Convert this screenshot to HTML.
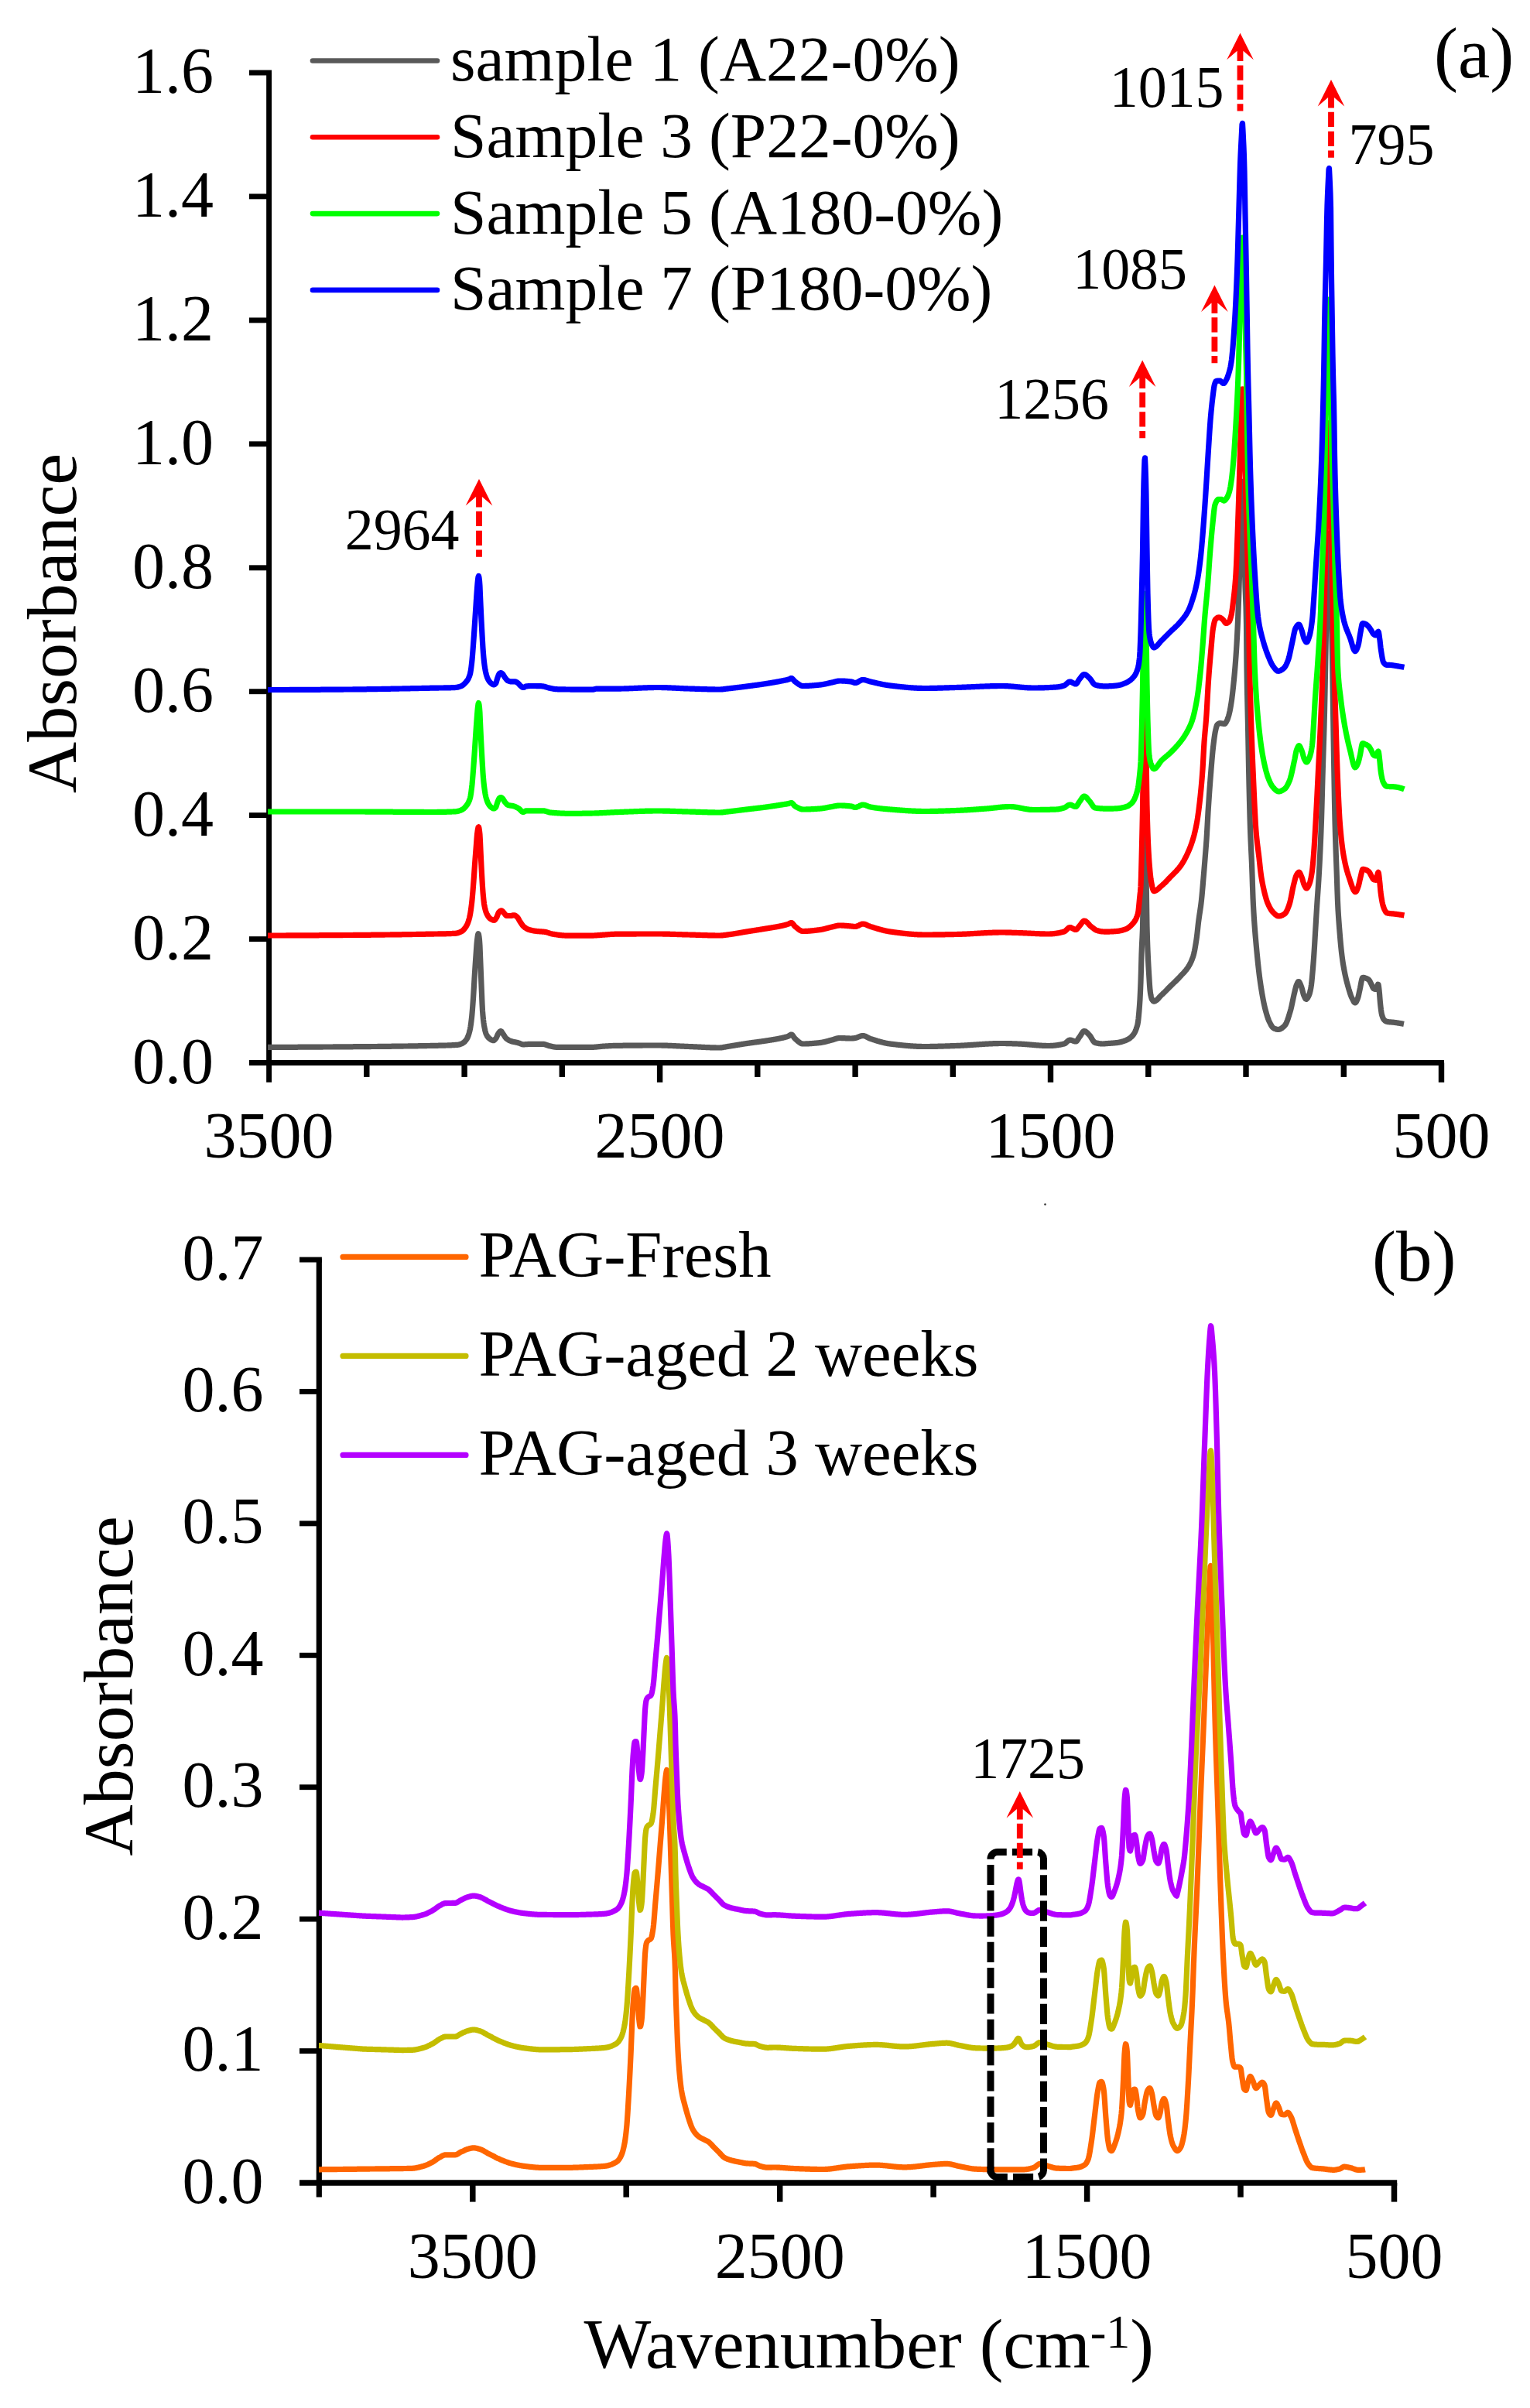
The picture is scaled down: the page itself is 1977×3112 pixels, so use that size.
<!DOCTYPE html>
<html lang="en"><head><meta charset="utf-8"><title>FTIR absorbance spectra</title>
<style>
html,body{margin:0;padding:0;background:#fff;}
body{width:1977px;height:3112px;overflow:hidden;}
svg{display:block;}
text{font-family:'Liberation Serif','Times New Roman',serif;fill:#000;}
.tk{font-size:84px;}
.lg{font-size:84px;}
.an{font-size:77px;}
.ti{font-size:92px;}
.pl{font-size:93px;}
.ax{stroke:#000;fill:none;stroke-linecap:butt;}
.cv{fill:none;stroke-width:7.2;stroke-linejoin:round;stroke-linecap:butt;}
</style></head><body>
<svg width="1977" height="3112" viewBox="0 0 1977 3112">
<rect x="0" y="0" width="1977" height="3112" fill="#ffffff"/>
<defs>
<g id="arrow">
<path d="M0,0 L17.3,34.5 L3.9,23 L3.9,36.4 L-3.9,36.4 L-3.9,23 L-17.3,34.5 Z" fill="#ff0000"/>
<path d="M0,36 L0,100.8" stroke="#ff0000" stroke-width="7.8" stroke-dasharray="0 5.8 19.3 5.6 19.4 5.4 9.3 100" fill="none"/>
</g>
</defs>

<g id="panel-a">
<path class="ax" stroke-width="6.9" d="M347.6,93.5 L347.6,1398.8"/>
<path class="ax" stroke-width="7" d="M322,1373.5 L1866,1373.5"/>
<path class="ax" stroke-width="6.9" d="M322,94.0 L351.0,94.0"/>
<text class="tk" x="276" y="120.0" text-anchor="end">1.6</text>
<path class="ax" stroke-width="6.9" d="M322,253.9 L347.6,253.9"/>
<text class="tk" x="276" y="279.9" text-anchor="end">1.4</text>
<path class="ax" stroke-width="6.9" d="M322,413.9 L347.6,413.9"/>
<text class="tk" x="276" y="439.9" text-anchor="end">1.2</text>
<path class="ax" stroke-width="6.9" d="M322,573.8 L347.6,573.8"/>
<text class="tk" x="276" y="599.8" text-anchor="end">1.0</text>
<path class="ax" stroke-width="6.9" d="M322,733.8 L347.6,733.8"/>
<text class="tk" x="276" y="759.8" text-anchor="end">0.8</text>
<path class="ax" stroke-width="6.9" d="M322,893.7 L347.6,893.7"/>
<text class="tk" x="276" y="919.7" text-anchor="end">0.6</text>
<path class="ax" stroke-width="6.9" d="M322,1053.6 L347.6,1053.6"/>
<text class="tk" x="276" y="1079.6" text-anchor="end">0.4</text>
<path class="ax" stroke-width="6.9" d="M322,1213.6 L347.6,1213.6"/>
<text class="tk" x="276" y="1239.6" text-anchor="end">0.2</text>
<text class="tk" x="276" y="1399.5" text-anchor="end">0.0</text>
<path class="ax" stroke-width="7.4" d="M473.8,1373.5 L473.8,1391.9"/>
<path class="ax" stroke-width="7.4" d="M600.1,1373.5 L600.1,1391.9"/>
<path class="ax" stroke-width="7.4" d="M726.3,1373.5 L726.3,1391.9"/>
<path class="ax" stroke-width="7.4" d="M852.6,1373.5 L852.6,1398.8"/>
<path class="ax" stroke-width="7.4" d="M978.8,1373.5 L978.8,1391.9"/>
<path class="ax" stroke-width="7.4" d="M1105.1,1373.5 L1105.1,1391.9"/>
<path class="ax" stroke-width="7.4" d="M1231.3,1373.5 L1231.3,1391.9"/>
<path class="ax" stroke-width="7.4" d="M1357.5,1373.5 L1357.5,1398.8"/>
<path class="ax" stroke-width="7.4" d="M1483.8,1373.5 L1483.8,1391.9"/>
<path class="ax" stroke-width="7.4" d="M1610.0,1373.5 L1610.0,1391.9"/>
<path class="ax" stroke-width="7.4" d="M1736.3,1373.5 L1736.3,1391.9"/>
<path class="ax" stroke-width="7.4" d="M1862.5,1373.5 L1862.5,1398.8"/>
<text class="tk" x="347.6" y="1496" text-anchor="middle">3500</text>
<text class="tk" x="852.6" y="1496" text-anchor="middle">2500</text>
<text class="tk" x="1357.5" y="1496" text-anchor="middle">1500</text>
<text class="tk" x="1862.5" y="1496" text-anchor="middle">500</text>
<path class="cv" stroke="#595959" d="M346.0,1353.4 346.5,1353.4 347.0,1353.4 347.5,1353.4 348.0,1353.4 348.5,1353.4 349.0,1353.4 349.5,1353.4 350.0,1353.4 350.5,1353.4 351.0,1353.4 351.5,1353.4 352.0,1353.4 352.5,1353.4 353.0,1353.4 353.5,1353.4 354.0,1353.4 354.5,1353.4 355.0,1353.4 355.5,1353.4 356.0,1353.4 356.5,1353.4 357.0,1353.4 357.5,1353.4 358.0,1353.4 358.5,1353.4 359.0,1353.4 359.5,1353.4 360.0,1353.4 360.5,1353.4 361.0,1353.4 361.5,1353.4 362.0,1353.4 362.5,1353.4 363.0,1353.3 363.5,1353.3 364.0,1353.3 364.5,1353.3 365.0,1353.3 365.5,1353.3 366.0,1353.3 366.5,1353.3 367.0,1353.3 367.5,1353.3 368.0,1353.3 368.5,1353.3 369.0,1353.3 369.5,1353.3 370.0,1353.3 370.5,1353.3 371.0,1353.3 371.5,1353.3 372.0,1353.3 372.5,1353.3 373.0,1353.3 373.5,1353.3 374.0,1353.3 374.5,1353.3 375.0,1353.3 375.5,1353.3 376.0,1353.3 376.5,1353.3 377.0,1353.3 377.5,1353.3 378.0,1353.3 378.5,1353.3 379.0,1353.3 379.5,1353.3 380.0,1353.3 380.5,1353.3 381.0,1353.3 381.5,1353.3 382.0,1353.3 382.5,1353.3 383.0,1353.3 383.5,1353.3 384.0,1353.3 384.5,1353.3 385.0,1353.2 385.5,1353.2 386.0,1353.2 386.5,1353.2 387.0,1353.2 387.5,1353.2 388.0,1353.2 388.5,1353.2 389.0,1353.2 389.5,1353.2 390.0,1353.2 390.5,1353.2 391.0,1353.2 391.5,1353.2 392.0,1353.2 392.5,1353.2 393.0,1353.2 393.5,1353.2 394.0,1353.2 394.5,1353.2 395.0,1353.2 395.5,1353.2 396.0,1353.2 396.5,1353.2 397.0,1353.2 397.5,1353.2 398.0,1353.2 398.5,1353.2 399.0,1353.2 399.5,1353.2 400.0,1353.2 400.5,1353.2 401.0,1353.2 401.5,1353.2 402.0,1353.1 402.5,1353.1 403.0,1353.1 403.5,1353.1 404.0,1353.1 404.5,1353.1 405.0,1353.1 405.5,1353.1 406.0,1353.1 406.5,1353.1 407.0,1353.1 407.5,1353.1 408.0,1353.1 408.5,1353.1 409.0,1353.1 409.5,1353.1 410.0,1353.1 410.5,1353.1 411.0,1353.1 411.5,1353.1 412.0,1353.1 412.5,1353.1 413.0,1353.1 413.5,1353.1 414.0,1353.1 414.5,1353.1 415.0,1353.1 415.5,1353.1 416.0,1353.1 416.5,1353.1 417.0,1353.0 417.5,1353.0 418.0,1353.0 418.5,1353.0 419.0,1353.0 419.5,1353.0 420.0,1353.0 420.5,1353.0 421.0,1353.0 421.5,1353.0 422.0,1353.0 422.5,1353.0 423.0,1353.0 423.5,1353.0 424.0,1353.0 424.5,1353.0 425.0,1353.0 425.5,1353.0 426.0,1353.0 426.5,1353.0 427.0,1353.0 427.5,1353.0 428.0,1353.0 428.5,1353.0 429.0,1353.0 429.5,1353.0 430.0,1353.0 430.5,1353.0 431.0,1352.9 431.5,1352.9 432.0,1352.9 432.5,1352.9 433.0,1352.9 433.5,1352.9 434.0,1352.9 434.5,1352.9 435.0,1352.9 435.5,1352.9 436.0,1352.9 436.5,1352.9 437.0,1352.9 437.5,1352.9 438.0,1352.9 438.5,1352.9 439.0,1352.9 439.5,1352.9 440.0,1352.9 440.5,1352.9 441.0,1352.9 441.5,1352.9 442.0,1352.9 442.5,1352.9 443.0,1352.9 443.5,1352.9 444.0,1352.8 444.5,1352.8 445.0,1352.8 445.5,1352.8 446.0,1352.8 446.5,1352.8 447.0,1352.8 447.5,1352.8 448.0,1352.8 448.5,1352.8 449.0,1352.8 449.5,1352.8 450.0,1352.8 450.5,1352.8 451.0,1352.8 451.5,1352.8 452.0,1352.8 452.5,1352.8 453.0,1352.8 453.5,1352.8 454.0,1352.8 454.5,1352.8 455.0,1352.8 455.5,1352.8 456.0,1352.8 456.5,1352.7 457.0,1352.7 457.5,1352.7 458.0,1352.7 458.5,1352.7 459.0,1352.7 459.5,1352.7 460.0,1352.7 460.5,1352.7 461.0,1352.7 461.5,1352.7 462.0,1352.7 462.5,1352.7 463.0,1352.7 463.5,1352.7 464.0,1352.7 464.5,1352.7 465.0,1352.7 465.5,1352.7 466.0,1352.7 466.5,1352.7 467.0,1352.7 467.5,1352.7 468.0,1352.6 468.5,1352.6 469.0,1352.6 469.5,1352.6 470.0,1352.6 470.5,1352.6 471.0,1352.6 471.5,1352.6 472.0,1352.6 472.5,1352.6 473.0,1352.6 473.5,1352.6 474.0,1352.6 474.5,1352.6 475.0,1352.6 475.5,1352.6 476.0,1352.6 476.5,1352.6 477.0,1352.6 477.5,1352.6 478.0,1352.6 478.5,1352.6 479.0,1352.5 479.5,1352.5 480.0,1352.5 480.5,1352.5 481.0,1352.5 481.5,1352.5 482.0,1352.5 482.5,1352.5 483.0,1352.5 483.5,1352.5 484.0,1352.5 484.5,1352.5 485.0,1352.5 485.5,1352.5 486.0,1352.5 486.5,1352.5 487.0,1352.5 487.5,1352.5 488.0,1352.5 488.5,1352.4 489.0,1352.4 489.5,1352.4 490.0,1352.4 490.5,1352.4 491.0,1352.4 491.5,1352.4 492.0,1352.4 492.5,1352.4 493.0,1352.4 493.5,1352.4 494.0,1352.4 494.5,1352.4 495.0,1352.4 495.5,1352.4 496.0,1352.4 496.5,1352.4 497.0,1352.4 497.5,1352.4 498.0,1352.3 498.5,1352.3 499.0,1352.3 499.5,1352.3 500.0,1352.3 500.5,1352.3 501.0,1352.3 501.5,1352.3 502.0,1352.3 502.5,1352.3 503.0,1352.3 503.5,1352.3 504.0,1352.3 504.5,1352.3 505.0,1352.3 505.5,1352.3 506.0,1352.2 506.5,1352.2 507.0,1352.2 507.5,1352.2 508.0,1352.2 508.5,1352.2 509.0,1352.2 509.5,1352.2 510.0,1352.2 510.5,1352.2 511.0,1352.2 511.5,1352.2 512.0,1352.2 512.5,1352.2 513.0,1352.2 513.5,1352.2 514.0,1352.1 514.5,1352.1 515.0,1352.1 515.5,1352.1 516.0,1352.1 516.5,1352.1 517.0,1352.1 517.5,1352.1 518.0,1352.1 518.5,1352.1 519.0,1352.1 519.5,1352.1 520.0,1352.1 520.5,1352.1 521.0,1352.0 521.5,1352.0 522.0,1352.0 522.5,1352.0 523.0,1352.0 523.5,1352.0 524.0,1352.0 524.5,1352.0 525.0,1352.0 525.5,1352.0 526.0,1352.0 526.5,1352.0 527.0,1352.0 527.5,1352.0 528.0,1351.9 528.5,1351.9 529.0,1351.9 529.5,1351.9 530.0,1351.9 530.5,1351.9 531.0,1351.9 531.5,1351.9 532.0,1351.9 532.5,1351.9 533.0,1351.9 533.5,1351.9 534.0,1351.9 534.5,1351.8 535.0,1351.8 535.5,1351.8 536.0,1351.8 536.5,1351.8 537.0,1351.8 537.5,1351.8 538.0,1351.8 538.5,1351.8 539.0,1351.8 539.5,1351.8 540.0,1351.8 540.5,1351.7 541.0,1351.7 541.5,1351.7 542.0,1351.7 542.5,1351.7 543.0,1351.7 543.5,1351.7 544.0,1351.7 544.5,1351.7 545.0,1351.7 545.5,1351.7 546.0,1351.6 546.5,1351.6 547.0,1351.6 547.5,1351.6 548.0,1351.6 548.5,1351.6 549.0,1351.6 549.5,1351.6 550.0,1351.6 550.5,1351.6 551.0,1351.6 551.5,1351.5 552.0,1351.5 552.5,1351.5 553.0,1351.5 553.5,1351.5 554.0,1351.5 554.5,1351.5 555.0,1351.5 555.5,1351.5 556.0,1351.5 556.5,1351.4 557.0,1351.4 557.5,1351.4 558.0,1351.4 558.5,1351.4 559.0,1351.4 559.5,1351.4 560.0,1351.4 560.5,1351.4 561.0,1351.4 561.5,1351.3 562.0,1351.3 562.5,1351.3 563.0,1351.3 563.5,1351.3 564.0,1351.3 564.5,1351.3 565.0,1351.3 565.5,1351.3 566.0,1351.3 566.5,1351.2 567.0,1351.2 567.5,1351.2 568.0,1351.2 568.5,1351.2 569.0,1351.2 569.5,1351.2 570.0,1351.2 570.5,1351.2 571.0,1351.2 571.5,1351.1 572.0,1351.1 572.5,1351.1 573.0,1351.1 573.5,1351.1 574.0,1351.1 574.5,1351.1 575.0,1351.1 575.5,1351.0 576.0,1351.0 576.5,1351.0 577.0,1351.0 577.5,1351.0 578.0,1351.0 578.5,1351.0 579.0,1350.9 579.5,1350.9 580.0,1350.9 580.5,1350.9 581.0,1350.9 581.5,1350.8 582.0,1350.8 582.5,1350.8 583.0,1350.8 583.5,1350.8 584.0,1350.7 584.5,1350.7 585.0,1350.7 585.5,1350.7 586.0,1350.6 586.5,1350.6 587.0,1350.6 587.5,1350.5 588.0,1350.5 588.5,1350.5 589.0,1350.4 589.5,1350.4 590.0,1350.4 590.5,1350.3 591.0,1350.3 591.5,1350.3 592.0,1350.2 592.5,1350.1 593.0,1350.0 593.5,1349.9 594.0,1349.8 594.5,1349.6 595.0,1349.4 595.5,1349.2 596.0,1349.0 596.5,1348.8 597.0,1348.5 597.5,1348.3 598.0,1348.0 598.5,1347.7 599.0,1347.4 599.5,1347.0 600.0,1346.6 600.5,1346.1 601.0,1345.5 601.5,1345.0 602.0,1344.3 602.5,1343.7 603.0,1343.0 603.5,1342.2 604.0,1341.2 604.5,1340.1 605.0,1338.8 605.5,1337.3 606.0,1335.7 606.5,1333.9 607.0,1332.0 607.5,1329.7 608.0,1326.8 608.5,1323.4 609.0,1319.5 609.5,1315.3 610.0,1310.1 610.5,1304.0 611.0,1297.3 611.5,1290.3 612.0,1282.4 612.5,1273.8 613.0,1265.1 613.5,1257.0 614.0,1249.3 614.5,1241.8 615.0,1234.7 615.5,1227.4 616.0,1220.6 616.5,1215.4 617.0,1211.4 617.5,1208.1 618.0,1206.6 618.5,1207.6 619.0,1210.5 619.5,1214.7 620.0,1222.0 620.5,1234.6 621.0,1247.2 621.5,1259.9 622.0,1272.5 622.5,1284.7 623.0,1296.9 623.5,1306.3 624.0,1312.5 624.5,1317.6 625.0,1321.7 625.5,1325.1 626.0,1327.9 626.5,1330.4 627.0,1332.6 627.5,1334.4 628.0,1335.9 628.5,1337.0 629.0,1338.0 629.5,1338.9 630.0,1339.6 630.5,1340.3 631.0,1340.9 631.5,1341.4 632.0,1341.8 632.5,1342.2 633.0,1342.6 633.5,1342.9 634.0,1343.3 634.5,1343.6 635.0,1343.9 635.5,1344.1 636.0,1344.3 636.5,1344.5 637.0,1344.6 637.5,1344.6 638.0,1344.6 638.5,1344.3 639.0,1344.0 639.5,1343.5 640.0,1342.9 640.5,1342.3 641.0,1341.7 641.5,1340.8 642.0,1339.7 642.5,1338.5 643.0,1337.4 643.5,1336.4 644.0,1335.6 644.5,1334.9 645.0,1334.2 645.5,1333.6 646.0,1333.1 646.5,1332.7 647.0,1332.6 647.5,1332.7 648.0,1333.1 648.5,1333.8 649.0,1334.6 649.5,1335.4 650.0,1336.2 650.5,1336.9 651.0,1337.6 651.5,1338.4 652.0,1339.2 652.5,1340.0 653.0,1340.7 653.5,1341.3 654.0,1341.9 654.5,1342.3 655.0,1342.7 655.5,1343.0 656.0,1343.4 656.5,1343.7 657.0,1344.0 657.5,1344.3 658.0,1344.6 658.5,1344.8 659.0,1345.0 659.5,1345.2 660.0,1345.4 660.5,1345.6 661.0,1345.8 661.5,1345.9 662.0,1346.1 662.5,1346.2 663.0,1346.3 663.5,1346.4 664.0,1346.5 664.5,1346.6 665.0,1346.7 665.5,1346.8 666.0,1346.9 666.5,1347.0 667.0,1347.1 667.5,1347.2 668.0,1347.3 668.5,1347.4 669.0,1347.6 669.5,1347.7 670.0,1347.8 670.5,1348.0 671.0,1348.2 671.5,1348.4 672.0,1348.6 672.5,1348.8 673.0,1349.0 673.5,1349.2 674.0,1349.4 674.5,1349.6 675.0,1349.7 675.5,1349.8 676.0,1349.8 676.5,1349.8 677.0,1349.8 677.5,1349.8 678.0,1349.8 678.5,1349.7 679.0,1349.7 679.5,1349.7 680.0,1349.6 680.5,1349.6 681.0,1349.6 681.5,1349.5 682.0,1349.5 682.5,1349.4 683.0,1349.4 683.5,1349.4 684.0,1349.4 684.5,1349.3 685.0,1349.3 685.5,1349.3 686.0,1349.3 686.5,1349.3 687.0,1349.3 687.5,1349.3 688.0,1349.3 688.5,1349.3 689.0,1349.3 689.5,1349.3 690.0,1349.3 690.5,1349.3 691.0,1349.3 691.5,1349.3 692.0,1349.3 692.5,1349.3 693.0,1349.3 693.5,1349.3 694.0,1349.3 694.5,1349.3 695.0,1349.3 695.5,1349.3 696.0,1349.3 696.5,1349.3 697.0,1349.3 697.5,1349.3 698.0,1349.3 698.5,1349.3 699.0,1349.3 699.5,1349.3 700.0,1349.3 700.5,1349.3 701.0,1349.3 701.5,1349.3 702.0,1349.4 702.5,1349.4 703.0,1349.5 703.5,1349.6 704.0,1349.8 704.5,1349.9 705.0,1350.1 705.5,1350.2 706.0,1350.4 706.5,1350.6 707.0,1350.7 707.5,1350.9 708.0,1351.1 708.5,1351.3 709.0,1351.4 709.5,1351.6 710.0,1351.7 710.5,1351.8 711.0,1351.9 711.5,1352.0 712.0,1352.1 712.5,1352.3 713.0,1352.4 713.5,1352.5 714.0,1352.6 714.5,1352.7 715.0,1352.8 715.5,1352.9 716.0,1353.0 716.5,1353.1 717.0,1353.2 717.5,1353.2 718.0,1353.3 718.5,1353.3 719.0,1353.4 719.5,1353.4 720.0,1353.4 720.5,1353.4 721.0,1353.4 721.5,1353.4 722.0,1353.4 722.5,1353.4 723.0,1353.4 723.5,1353.4 724.0,1353.4 724.5,1353.4 725.0,1353.4 725.5,1353.4 726.0,1353.4 726.5,1353.4 727.0,1353.4 727.5,1353.4 728.0,1353.4 728.5,1353.4 729.0,1353.4 729.5,1353.4 730.0,1353.4 730.5,1353.4 731.0,1353.4 731.5,1353.4 732.0,1353.4 732.5,1353.4 733.0,1353.4 733.5,1353.4 734.0,1353.4 734.5,1353.4 735.0,1353.4 735.5,1353.4 736.0,1353.4 736.5,1353.4 737.0,1353.4 737.5,1353.4 738.0,1353.4 738.5,1353.4 739.0,1353.4 739.5,1353.4 740.0,1353.4 740.5,1353.4 741.0,1353.4 741.5,1353.4 742.0,1353.4 742.5,1353.4 743.0,1353.4 743.5,1353.4 744.0,1353.4 744.5,1353.4 745.0,1353.4 745.5,1353.4 746.0,1353.4 746.5,1353.4 747.0,1353.4 747.5,1353.4 748.0,1353.4 748.5,1353.4 749.0,1353.4 749.5,1353.4 750.0,1353.4 750.5,1353.4 751.0,1353.4 751.5,1353.4 752.0,1353.4 752.5,1353.4 753.0,1353.4 753.5,1353.4 754.0,1353.4 754.5,1353.4 755.0,1353.4 755.5,1353.4 756.0,1353.4 756.5,1353.4 757.0,1353.4 757.5,1353.4 758.0,1353.4 758.5,1353.4 759.0,1353.4 759.5,1353.4 760.0,1353.4 760.5,1353.4 761.0,1353.4 761.5,1353.4 762.0,1353.4 762.5,1353.4 763.0,1353.4 763.5,1353.4 764.0,1353.4 764.5,1353.4 765.0,1353.4 765.5,1353.4 766.0,1353.4 766.5,1353.3 767.0,1353.3 767.5,1353.3 768.0,1353.2 768.5,1353.2 769.0,1353.2 769.5,1353.1 770.0,1353.1 770.5,1353.0 771.0,1353.0 771.5,1352.9 772.0,1352.9 772.5,1352.8 773.0,1352.8 773.5,1352.7 774.0,1352.7 774.5,1352.6 775.0,1352.6 775.5,1352.5 776.0,1352.5 776.5,1352.4 777.0,1352.4 777.5,1352.3 778.0,1352.3 778.5,1352.2 779.0,1352.2 779.5,1352.2 780.0,1352.1 780.5,1352.1 781.0,1352.1 781.5,1352.0 782.0,1352.0 782.5,1352.0 783.0,1351.9 783.5,1351.9 784.0,1351.9 784.5,1351.8 785.0,1351.8 785.5,1351.8 786.0,1351.8 786.5,1351.7 787.0,1351.7 787.5,1351.7 788.0,1351.6 788.5,1351.6 789.0,1351.6 789.5,1351.6 790.0,1351.5 790.5,1351.5 791.0,1351.5 791.5,1351.5 792.0,1351.5 792.5,1351.4 793.0,1351.4 793.5,1351.4 794.0,1351.4 794.5,1351.4 795.0,1351.4 795.5,1351.4 796.0,1351.4 796.5,1351.4 797.0,1351.3 797.5,1351.3 798.0,1351.3 798.5,1351.3 799.0,1351.3 799.5,1351.3 800.0,1351.3 800.5,1351.3 801.0,1351.3 801.5,1351.3 802.0,1351.3 802.5,1351.3 803.0,1351.3 803.5,1351.3 804.0,1351.3 804.5,1351.3 805.0,1351.2 805.5,1351.2 806.0,1351.2 806.5,1351.2 807.0,1351.2 807.5,1351.2 808.0,1351.2 808.5,1351.2 809.0,1351.2 809.5,1351.2 810.0,1351.2 810.5,1351.2 811.0,1351.2 811.5,1351.2 812.0,1351.2 812.5,1351.2 813.0,1351.2 813.5,1351.2 814.0,1351.2 814.5,1351.2 815.0,1351.1 815.5,1351.1 816.0,1351.1 816.5,1351.1 817.0,1351.1 817.5,1351.1 818.0,1351.1 818.5,1351.1 819.0,1351.1 819.5,1351.1 820.0,1351.1 820.5,1351.1 821.0,1351.1 821.5,1351.1 822.0,1351.1 822.5,1351.1 823.0,1351.1 823.5,1351.1 824.0,1351.1 824.5,1351.1 825.0,1351.1 825.5,1351.1 826.0,1351.1 826.5,1351.1 827.0,1351.1 827.5,1351.1 828.0,1351.1 828.5,1351.1 829.0,1351.1 829.5,1351.1 830.0,1351.0 830.5,1351.0 831.0,1351.0 831.5,1351.0 832.0,1351.0 832.5,1351.0 833.0,1351.0 833.5,1351.0 834.0,1351.0 834.5,1351.0 835.0,1351.0 835.5,1351.0 836.0,1351.0 836.5,1351.0 837.0,1351.0 837.5,1351.0 838.0,1351.0 838.5,1351.0 839.0,1351.0 839.5,1351.0 840.0,1351.0 840.5,1351.0 841.0,1351.0 841.5,1351.0 842.0,1351.0 842.5,1351.0 843.0,1351.0 843.5,1351.0 844.0,1351.0 844.5,1351.0 845.0,1351.0 845.5,1351.0 846.0,1351.0 846.5,1351.0 847.0,1351.0 847.5,1351.0 848.0,1351.0 848.5,1351.0 849.0,1351.0 849.5,1351.0 850.0,1351.0 850.5,1351.0 851.0,1351.0 851.5,1351.0 852.0,1351.0 852.5,1351.0 853.0,1351.0 853.5,1351.0 854.0,1351.0 854.5,1351.0 855.0,1351.0 855.5,1351.1 856.0,1351.1 856.5,1351.1 857.0,1351.1 857.5,1351.1 858.0,1351.1 858.5,1351.1 859.0,1351.1 859.5,1351.1 860.0,1351.2 860.5,1351.2 861.0,1351.2 861.5,1351.2 862.0,1351.2 862.5,1351.2 863.0,1351.3 863.5,1351.3 864.0,1351.3 864.5,1351.3 865.0,1351.3 865.5,1351.4 866.0,1351.4 866.5,1351.4 867.0,1351.4 867.5,1351.4 868.0,1351.5 868.5,1351.5 869.0,1351.5 869.5,1351.5 870.0,1351.6 870.5,1351.6 871.0,1351.6 871.5,1351.6 872.0,1351.7 872.5,1351.7 873.0,1351.7 873.5,1351.7 874.0,1351.8 874.5,1351.8 875.0,1351.8 875.5,1351.8 876.0,1351.9 876.5,1351.9 877.0,1351.9 877.5,1351.9 878.0,1352.0 878.5,1352.0 879.0,1352.0 879.5,1352.0 880.0,1352.1 880.5,1352.1 881.0,1352.1 881.5,1352.1 882.0,1352.2 882.5,1352.2 883.0,1352.2 883.5,1352.2 884.0,1352.2 884.5,1352.3 885.0,1352.3 885.5,1352.3 886.0,1352.3 886.5,1352.4 887.0,1352.4 887.5,1352.4 888.0,1352.4 888.5,1352.4 889.0,1352.5 889.5,1352.5 890.0,1352.5 890.5,1352.5 891.0,1352.5 891.5,1352.6 892.0,1352.6 892.5,1352.6 893.0,1352.6 893.5,1352.6 894.0,1352.7 894.5,1352.7 895.0,1352.7 895.5,1352.7 896.0,1352.8 896.5,1352.8 897.0,1352.8 897.5,1352.8 898.0,1352.8 898.5,1352.9 899.0,1352.9 899.5,1352.9 900.0,1352.9 900.5,1353.0 901.0,1353.0 901.5,1353.0 902.0,1353.0 902.5,1353.1 903.0,1353.1 903.5,1353.1 904.0,1353.1 904.5,1353.2 905.0,1353.2 905.5,1353.2 906.0,1353.2 906.5,1353.3 907.0,1353.3 907.5,1353.3 908.0,1353.3 908.5,1353.4 909.0,1353.4 909.5,1353.4 910.0,1353.4 910.5,1353.5 911.0,1353.5 911.5,1353.5 912.0,1353.5 912.5,1353.6 913.0,1353.6 913.5,1353.6 914.0,1353.6 914.5,1353.6 915.0,1353.7 915.5,1353.7 916.0,1353.7 916.5,1353.7 917.0,1353.7 917.5,1353.8 918.0,1353.8 918.5,1353.8 919.0,1353.8 919.5,1353.8 920.0,1353.8 920.5,1353.9 921.0,1353.9 921.5,1353.9 922.0,1353.9 922.5,1353.9 923.0,1353.9 923.5,1353.9 924.0,1353.9 924.5,1353.9 925.0,1354.0 925.5,1354.0 926.0,1354.0 926.5,1354.0 927.0,1354.0 927.5,1354.0 928.0,1354.0 928.5,1354.0 929.0,1354.0 929.5,1354.0 930.0,1354.0 930.5,1354.0 931.0,1354.0 931.5,1353.9 932.0,1353.9 932.5,1353.8 933.0,1353.8 933.5,1353.7 934.0,1353.6 934.5,1353.5 935.0,1353.4 935.5,1353.3 936.0,1353.2 936.5,1353.2 937.0,1353.1 937.5,1353.0 938.0,1352.9 938.5,1352.8 939.0,1352.7 939.5,1352.6 940.0,1352.5 940.5,1352.4 941.0,1352.3 941.5,1352.3 942.0,1352.2 942.5,1352.1 943.0,1352.0 943.5,1352.0 944.0,1351.9 944.5,1351.8 945.0,1351.7 945.5,1351.6 946.0,1351.5 946.5,1351.5 947.0,1351.4 947.5,1351.3 948.0,1351.2 948.5,1351.1 949.0,1351.1 949.5,1351.0 950.0,1350.9 950.5,1350.8 951.0,1350.7 951.5,1350.6 952.0,1350.6 952.5,1350.5 953.0,1350.4 953.5,1350.3 954.0,1350.2 954.5,1350.2 955.0,1350.1 955.5,1350.0 956.0,1349.9 956.5,1349.8 957.0,1349.8 957.5,1349.7 958.0,1349.6 958.5,1349.5 959.0,1349.4 959.5,1349.3 960.0,1349.3 960.5,1349.2 961.0,1349.1 961.5,1349.0 962.0,1349.0 962.5,1348.9 963.0,1348.8 963.5,1348.7 964.0,1348.7 964.5,1348.6 965.0,1348.5 965.5,1348.4 966.0,1348.4 966.5,1348.3 967.0,1348.2 967.5,1348.1 968.0,1348.1 968.5,1348.0 969.0,1347.9 969.5,1347.9 970.0,1347.8 970.5,1347.7 971.0,1347.6 971.5,1347.6 972.0,1347.5 972.5,1347.4 973.0,1347.4 973.5,1347.3 974.0,1347.2 974.5,1347.2 975.0,1347.1 975.5,1347.0 976.0,1347.0 976.5,1346.9 977.0,1346.8 977.5,1346.8 978.0,1346.7 978.5,1346.6 979.0,1346.6 979.5,1346.5 980.0,1346.4 980.5,1346.4 981.0,1346.3 981.5,1346.2 982.0,1346.2 982.5,1346.1 983.0,1346.0 983.5,1346.0 984.0,1345.9 984.5,1345.8 985.0,1345.7 985.5,1345.7 986.0,1345.6 986.5,1345.5 987.0,1345.5 987.5,1345.4 988.0,1345.3 988.5,1345.2 989.0,1345.2 989.5,1345.1 990.0,1345.0 990.5,1344.9 991.0,1344.8 991.5,1344.8 992.0,1344.7 992.5,1344.6 993.0,1344.5 993.5,1344.5 994.0,1344.4 994.5,1344.3 995.0,1344.2 995.5,1344.1 996.0,1344.1 996.5,1344.0 997.0,1343.9 997.5,1343.8 998.0,1343.7 998.5,1343.7 999.0,1343.6 999.5,1343.5 1000.0,1343.4 1000.5,1343.3 1001.0,1343.2 1001.5,1343.2 1002.0,1343.1 1002.5,1343.0 1003.0,1342.9 1003.5,1342.8 1004.0,1342.7 1004.5,1342.6 1005.0,1342.5 1005.5,1342.4 1006.0,1342.3 1006.5,1342.2 1007.0,1342.1 1007.5,1342.0 1008.0,1341.9 1008.5,1341.8 1009.0,1341.7 1009.5,1341.6 1010.0,1341.5 1010.5,1341.4 1011.0,1341.3 1011.5,1341.2 1012.0,1341.1 1012.5,1340.9 1013.0,1340.8 1013.5,1340.7 1014.0,1340.6 1014.5,1340.4 1015.0,1340.3 1015.5,1340.2 1016.0,1340.0 1016.5,1339.9 1017.0,1339.7 1017.5,1339.5 1018.0,1339.4 1018.5,1339.2 1019.0,1339.0 1019.5,1338.7 1020.0,1338.4 1020.5,1338.0 1021.0,1337.6 1021.5,1337.3 1022.0,1337.1 1022.5,1337.0 1023.0,1337.1 1023.5,1337.4 1024.0,1337.9 1024.5,1338.5 1025.0,1339.2 1025.5,1340.0 1026.0,1340.7 1026.5,1341.4 1027.0,1342.0 1027.5,1342.5 1028.0,1342.9 1028.5,1343.4 1029.0,1343.8 1029.5,1344.3 1030.0,1344.7 1030.5,1345.1 1031.0,1345.6 1031.5,1346.0 1032.0,1346.4 1032.5,1346.8 1033.0,1347.2 1033.5,1347.5 1034.0,1347.8 1034.5,1348.1 1035.0,1348.4 1035.5,1348.6 1036.0,1348.8 1036.5,1348.9 1037.0,1349.0 1037.5,1349.0 1038.0,1349.0 1038.5,1349.0 1039.0,1349.0 1039.5,1349.0 1040.0,1349.0 1040.5,1349.0 1041.0,1349.0 1041.5,1348.9 1042.0,1348.9 1042.5,1348.9 1043.0,1348.9 1043.5,1348.9 1044.0,1348.8 1044.5,1348.8 1045.0,1348.8 1045.5,1348.8 1046.0,1348.7 1046.5,1348.7 1047.0,1348.7 1047.5,1348.6 1048.0,1348.6 1048.5,1348.6 1049.0,1348.5 1049.5,1348.5 1050.0,1348.5 1050.5,1348.4 1051.0,1348.4 1051.5,1348.3 1052.0,1348.3 1052.5,1348.2 1053.0,1348.2 1053.5,1348.2 1054.0,1348.1 1054.5,1348.1 1055.0,1348.0 1055.5,1348.0 1056.0,1347.9 1056.5,1347.9 1057.0,1347.8 1057.5,1347.8 1058.0,1347.7 1058.5,1347.7 1059.0,1347.6 1059.5,1347.6 1060.0,1347.5 1060.5,1347.4 1061.0,1347.4 1061.5,1347.3 1062.0,1347.2 1062.5,1347.1 1063.0,1347.0 1063.5,1346.9 1064.0,1346.8 1064.5,1346.7 1065.0,1346.6 1065.5,1346.5 1066.0,1346.4 1066.5,1346.3 1067.0,1346.1 1067.5,1346.0 1068.0,1345.9 1068.5,1345.7 1069.0,1345.6 1069.5,1345.5 1070.0,1345.3 1070.5,1345.2 1071.0,1345.1 1071.5,1344.9 1072.0,1344.8 1072.5,1344.6 1073.0,1344.5 1073.5,1344.4 1074.0,1344.2 1074.5,1344.1 1075.0,1344.0 1075.5,1343.9 1076.0,1343.7 1076.5,1343.6 1077.0,1343.4 1077.5,1343.3 1078.0,1343.1 1078.5,1342.9 1079.0,1342.8 1079.5,1342.6 1080.0,1342.4 1080.5,1342.3 1081.0,1342.1 1081.5,1342.0 1082.0,1341.9 1082.5,1341.8 1083.0,1341.7 1083.5,1341.6 1084.0,1341.5 1084.5,1341.5 1085.0,1341.5 1085.5,1341.5 1086.0,1341.5 1086.5,1341.5 1087.0,1341.5 1087.5,1341.5 1088.0,1341.6 1088.5,1341.6 1089.0,1341.6 1089.5,1341.6 1090.0,1341.6 1090.5,1341.7 1091.0,1341.7 1091.5,1341.7 1092.0,1341.7 1092.5,1341.8 1093.0,1341.8 1093.5,1341.8 1094.0,1341.8 1094.5,1341.8 1095.0,1341.9 1095.5,1341.9 1096.0,1341.9 1096.5,1341.9 1097.0,1341.9 1097.5,1342.0 1098.0,1342.0 1098.5,1342.0 1099.0,1342.0 1099.5,1342.0 1100.0,1342.0 1100.5,1342.0 1101.0,1342.0 1101.5,1341.9 1102.0,1341.9 1102.5,1341.8 1103.0,1341.8 1103.5,1341.7 1104.0,1341.6 1104.5,1341.6 1105.0,1341.5 1105.5,1341.4 1106.0,1341.3 1106.5,1341.2 1107.0,1341.0 1107.5,1340.8 1108.0,1340.6 1108.5,1340.4 1109.0,1340.2 1109.5,1340.0 1110.0,1339.8 1110.5,1339.6 1111.0,1339.4 1111.5,1339.2 1112.0,1339.1 1112.5,1338.9 1113.0,1338.8 1113.5,1338.7 1114.0,1338.6 1114.5,1338.5 1115.0,1338.5 1115.5,1338.5 1116.0,1338.6 1116.5,1338.7 1117.0,1338.8 1117.5,1339.0 1118.0,1339.2 1118.5,1339.4 1119.0,1339.6 1119.5,1339.8 1120.0,1340.1 1120.5,1340.4 1121.0,1340.6 1121.5,1340.9 1122.0,1341.2 1122.5,1341.4 1123.0,1341.7 1123.5,1341.9 1124.0,1342.1 1124.5,1342.3 1125.0,1342.5 1125.5,1342.7 1126.0,1342.8 1126.5,1343.0 1127.0,1343.1 1127.5,1343.3 1128.0,1343.5 1128.5,1343.6 1129.0,1343.8 1129.5,1344.0 1130.0,1344.1 1130.5,1344.3 1131.0,1344.4 1131.5,1344.6 1132.0,1344.7 1132.5,1344.9 1133.0,1345.1 1133.5,1345.2 1134.0,1345.4 1134.5,1345.5 1135.0,1345.7 1135.5,1345.8 1136.0,1345.9 1136.5,1346.1 1137.0,1346.2 1137.5,1346.4 1138.0,1346.5 1138.5,1346.6 1139.0,1346.8 1139.5,1346.9 1140.0,1347.0 1140.5,1347.2 1141.0,1347.3 1141.5,1347.4 1142.0,1347.5 1142.5,1347.6 1143.0,1347.8 1143.5,1347.9 1144.0,1348.0 1144.5,1348.1 1145.0,1348.2 1145.5,1348.3 1146.0,1348.4 1146.5,1348.5 1147.0,1348.6 1147.5,1348.6 1148.0,1348.7 1148.5,1348.8 1149.0,1348.9 1149.5,1348.9 1150.0,1349.0 1150.5,1349.1 1151.0,1349.1 1151.5,1349.2 1152.0,1349.3 1152.5,1349.3 1153.0,1349.4 1153.5,1349.4 1154.0,1349.5 1154.5,1349.6 1155.0,1349.6 1155.5,1349.7 1156.0,1349.7 1156.5,1349.8 1157.0,1349.9 1157.5,1349.9 1158.0,1350.0 1158.5,1350.0 1159.0,1350.1 1159.5,1350.1 1160.0,1350.2 1160.5,1350.3 1161.0,1350.3 1161.5,1350.4 1162.0,1350.4 1162.5,1350.5 1163.0,1350.5 1163.5,1350.6 1164.0,1350.6 1164.5,1350.7 1165.0,1350.7 1165.5,1350.8 1166.0,1350.9 1166.5,1350.9 1167.0,1351.0 1167.5,1351.0 1168.0,1351.0 1168.5,1351.1 1169.0,1351.1 1169.5,1351.2 1170.0,1351.2 1170.5,1351.3 1171.0,1351.3 1171.5,1351.4 1172.0,1351.4 1172.5,1351.5 1173.0,1351.5 1173.5,1351.5 1174.0,1351.6 1174.5,1351.6 1175.0,1351.7 1175.5,1351.7 1176.0,1351.7 1176.5,1351.8 1177.0,1351.8 1177.5,1351.8 1178.0,1351.9 1178.5,1351.9 1179.0,1351.9 1179.5,1352.0 1180.0,1352.0 1180.5,1352.0 1181.0,1352.1 1181.5,1352.1 1182.0,1352.1 1182.5,1352.2 1183.0,1352.2 1183.5,1352.2 1184.0,1352.2 1184.5,1352.3 1185.0,1352.3 1185.5,1352.3 1186.0,1352.3 1186.5,1352.3 1187.0,1352.4 1187.5,1352.4 1188.0,1352.4 1188.5,1352.4 1189.0,1352.4 1189.5,1352.4 1190.0,1352.4 1190.5,1352.5 1191.0,1352.5 1191.5,1352.5 1192.0,1352.5 1192.5,1352.5 1193.0,1352.5 1193.5,1352.5 1194.0,1352.5 1194.5,1352.5 1195.0,1352.5 1195.5,1352.5 1196.0,1352.5 1196.5,1352.5 1197.0,1352.5 1197.5,1352.5 1198.0,1352.5 1198.5,1352.5 1199.0,1352.5 1199.5,1352.5 1200.0,1352.5 1200.5,1352.5 1201.0,1352.5 1201.5,1352.5 1202.0,1352.5 1202.5,1352.4 1203.0,1352.4 1203.5,1352.4 1204.0,1352.4 1204.5,1352.4 1205.0,1352.4 1205.5,1352.4 1206.0,1352.4 1206.5,1352.4 1207.0,1352.4 1207.5,1352.4 1208.0,1352.3 1208.5,1352.3 1209.0,1352.3 1209.5,1352.3 1210.0,1352.3 1210.5,1352.3 1211.0,1352.3 1211.5,1352.3 1212.0,1352.2 1212.5,1352.2 1213.0,1352.2 1213.5,1352.2 1214.0,1352.2 1214.5,1352.2 1215.0,1352.2 1215.5,1352.1 1216.0,1352.1 1216.5,1352.1 1217.0,1352.1 1217.5,1352.1 1218.0,1352.1 1218.5,1352.1 1219.0,1352.0 1219.5,1352.0 1220.0,1352.0 1220.5,1352.0 1221.0,1352.0 1221.5,1352.0 1222.0,1351.9 1222.5,1351.9 1223.0,1351.9 1223.5,1351.9 1224.0,1351.9 1224.5,1351.9 1225.0,1351.8 1225.5,1351.8 1226.0,1351.8 1226.5,1351.8 1227.0,1351.8 1227.5,1351.8 1228.0,1351.7 1228.5,1351.7 1229.0,1351.7 1229.5,1351.7 1230.0,1351.7 1230.5,1351.7 1231.0,1351.6 1231.5,1351.6 1232.0,1351.6 1232.5,1351.6 1233.0,1351.6 1233.5,1351.5 1234.0,1351.5 1234.5,1351.5 1235.0,1351.5 1235.5,1351.5 1236.0,1351.5 1236.5,1351.4 1237.0,1351.4 1237.5,1351.4 1238.0,1351.4 1238.5,1351.4 1239.0,1351.3 1239.5,1351.3 1240.0,1351.3 1240.5,1351.3 1241.0,1351.3 1241.5,1351.2 1242.0,1351.2 1242.5,1351.2 1243.0,1351.2 1243.5,1351.1 1244.0,1351.1 1244.5,1351.1 1245.0,1351.1 1245.5,1351.0 1246.0,1351.0 1246.5,1351.0 1247.0,1350.9 1247.5,1350.9 1248.0,1350.9 1248.5,1350.8 1249.0,1350.8 1249.5,1350.8 1250.0,1350.8 1250.5,1350.7 1251.0,1350.7 1251.5,1350.7 1252.0,1350.6 1252.5,1350.6 1253.0,1350.6 1253.5,1350.5 1254.0,1350.5 1254.5,1350.5 1255.0,1350.4 1255.5,1350.4 1256.0,1350.4 1256.5,1350.3 1257.0,1350.3 1257.5,1350.3 1258.0,1350.2 1258.5,1350.2 1259.0,1350.2 1259.5,1350.1 1260.0,1350.1 1260.5,1350.1 1261.0,1350.0 1261.5,1350.0 1262.0,1350.0 1262.5,1349.9 1263.0,1349.9 1263.5,1349.9 1264.0,1349.8 1264.5,1349.8 1265.0,1349.8 1265.5,1349.7 1266.0,1349.7 1266.5,1349.7 1267.0,1349.6 1267.5,1349.6 1268.0,1349.6 1268.5,1349.5 1269.0,1349.5 1269.5,1349.5 1270.0,1349.4 1270.5,1349.4 1271.0,1349.4 1271.5,1349.3 1272.0,1349.3 1272.5,1349.3 1273.0,1349.2 1273.5,1349.2 1274.0,1349.2 1274.5,1349.2 1275.0,1349.1 1275.5,1349.1 1276.0,1349.1 1276.5,1349.1 1277.0,1349.0 1277.5,1349.0 1278.0,1349.0 1278.5,1348.9 1279.0,1348.9 1279.5,1348.9 1280.0,1348.9 1280.5,1348.9 1281.0,1348.8 1281.5,1348.8 1282.0,1348.8 1282.5,1348.8 1283.0,1348.7 1283.5,1348.7 1284.0,1348.7 1284.5,1348.7 1285.0,1348.7 1285.5,1348.7 1286.0,1348.6 1286.5,1348.6 1287.0,1348.6 1287.5,1348.6 1288.0,1348.6 1288.5,1348.6 1289.0,1348.6 1289.5,1348.6 1290.0,1348.5 1290.5,1348.5 1291.0,1348.5 1291.5,1348.5 1292.0,1348.5 1292.5,1348.5 1293.0,1348.5 1293.5,1348.5 1294.0,1348.5 1294.5,1348.5 1295.0,1348.5 1295.5,1348.5 1296.0,1348.5 1296.5,1348.5 1297.0,1348.5 1297.5,1348.5 1298.0,1348.5 1298.5,1348.5 1299.0,1348.5 1299.5,1348.5 1300.0,1348.5 1300.5,1348.6 1301.0,1348.6 1301.5,1348.6 1302.0,1348.6 1302.5,1348.6 1303.0,1348.6 1303.5,1348.6 1304.0,1348.6 1304.5,1348.7 1305.0,1348.7 1305.5,1348.7 1306.0,1348.7 1306.5,1348.7 1307.0,1348.7 1307.5,1348.7 1308.0,1348.8 1308.5,1348.8 1309.0,1348.8 1309.5,1348.8 1310.0,1348.8 1310.5,1348.8 1311.0,1348.9 1311.5,1348.9 1312.0,1348.9 1312.5,1348.9 1313.0,1348.9 1313.5,1348.9 1314.0,1349.0 1314.5,1349.0 1315.0,1349.0 1315.5,1349.0 1316.0,1349.0 1316.5,1349.1 1317.0,1349.1 1317.5,1349.1 1318.0,1349.1 1318.5,1349.2 1319.0,1349.2 1319.5,1349.2 1320.0,1349.2 1320.5,1349.3 1321.0,1349.3 1321.5,1349.3 1322.0,1349.4 1322.5,1349.4 1323.0,1349.4 1323.5,1349.5 1324.0,1349.5 1324.5,1349.5 1325.0,1349.6 1325.5,1349.6 1326.0,1349.7 1326.5,1349.7 1327.0,1349.7 1327.5,1349.8 1328.0,1349.8 1328.5,1349.9 1329.0,1349.9 1329.5,1349.9 1330.0,1350.0 1330.5,1350.0 1331.0,1350.1 1331.5,1350.1 1332.0,1350.2 1332.5,1350.2 1333.0,1350.2 1333.5,1350.3 1334.0,1350.3 1334.5,1350.4 1335.0,1350.4 1335.5,1350.5 1336.0,1350.5 1336.5,1350.5 1337.0,1350.6 1337.5,1350.6 1338.0,1350.7 1338.5,1350.7 1339.0,1350.8 1339.5,1350.8 1340.0,1350.8 1340.5,1350.9 1341.0,1350.9 1341.5,1350.9 1342.0,1351.0 1342.5,1351.0 1343.0,1351.0 1343.5,1351.1 1344.0,1351.1 1344.5,1351.1 1345.0,1351.2 1345.5,1351.2 1346.0,1351.2 1346.5,1351.3 1347.0,1351.3 1347.5,1351.3 1348.0,1351.3 1348.5,1351.4 1349.0,1351.4 1349.5,1351.4 1350.0,1351.4 1350.5,1351.4 1351.0,1351.4 1351.5,1351.5 1352.0,1351.5 1352.5,1351.5 1353.0,1351.5 1353.5,1351.5 1354.0,1351.5 1354.5,1351.5 1355.0,1351.5 1355.5,1351.5 1356.0,1351.5 1356.5,1351.5 1357.0,1351.5 1357.5,1351.5 1358.0,1351.4 1358.5,1351.4 1359.0,1351.4 1359.5,1351.4 1360.0,1351.3 1360.5,1351.3 1361.0,1351.3 1361.5,1351.2 1362.0,1351.2 1362.5,1351.1 1363.0,1351.1 1363.5,1351.0 1364.0,1351.0 1364.5,1350.9 1365.0,1350.8 1365.5,1350.8 1366.0,1350.7 1366.5,1350.6 1367.0,1350.6 1367.5,1350.5 1368.0,1350.4 1368.5,1350.3 1369.0,1350.2 1369.5,1350.1 1370.0,1350.1 1370.5,1350.0 1371.0,1349.9 1371.5,1349.8 1372.0,1349.7 1372.5,1349.6 1373.0,1349.5 1373.5,1349.3 1374.0,1349.2 1374.5,1349.1 1375.0,1349.0 1375.5,1348.8 1376.0,1348.6 1376.5,1348.3 1377.0,1347.9 1377.5,1347.4 1378.0,1347.0 1378.5,1346.5 1379.0,1346.0 1379.5,1345.6 1380.0,1345.2 1380.5,1344.8 1381.0,1344.5 1381.5,1344.2 1382.0,1344.1 1382.5,1344.0 1383.0,1344.0 1383.5,1344.1 1384.0,1344.2 1384.5,1344.4 1385.0,1344.5 1385.5,1344.7 1386.0,1344.9 1386.5,1345.1 1387.0,1345.3 1387.5,1345.5 1388.0,1345.6 1388.5,1345.8 1389.0,1345.9 1389.5,1346.0 1390.0,1346.0 1390.5,1345.9 1391.0,1345.6 1391.5,1345.1 1392.0,1344.5 1392.5,1343.8 1393.0,1343.0 1393.5,1342.2 1394.0,1341.4 1394.5,1340.7 1395.0,1340.0 1395.5,1339.3 1396.0,1338.6 1396.5,1337.8 1397.0,1337.0 1397.5,1336.1 1398.0,1335.3 1398.5,1334.6 1399.0,1333.9 1399.5,1333.3 1400.0,1332.9 1400.5,1332.6 1401.0,1332.5 1401.5,1332.5 1402.0,1332.7 1402.5,1332.9 1403.0,1333.2 1403.5,1333.6 1404.0,1334.0 1404.5,1334.4 1405.0,1334.9 1405.5,1335.4 1406.0,1336.0 1406.5,1336.5 1407.0,1337.0 1407.5,1337.5 1408.0,1338.0 1408.5,1338.7 1409.0,1339.4 1409.5,1340.2 1410.0,1341.0 1410.5,1341.9 1411.0,1342.7 1411.5,1343.6 1412.0,1344.4 1412.5,1345.1 1413.0,1345.8 1413.5,1346.4 1414.0,1346.9 1414.5,1347.3 1415.0,1347.5 1415.5,1347.6 1416.0,1347.8 1416.5,1347.9 1417.0,1348.0 1417.5,1348.1 1418.0,1348.2 1418.5,1348.3 1419.0,1348.4 1419.5,1348.5 1420.0,1348.6 1420.5,1348.7 1421.0,1348.7 1421.5,1348.8 1422.0,1348.9 1422.5,1348.9 1423.0,1348.9 1423.5,1349.0 1424.0,1349.0 1424.5,1349.0 1425.0,1349.0 1425.5,1349.0 1426.0,1349.0 1426.5,1348.9 1427.0,1348.9 1427.5,1348.9 1428.0,1348.8 1428.5,1348.7 1429.0,1348.7 1429.5,1348.6 1430.0,1348.6 1430.5,1348.6 1431.0,1348.5 1431.5,1348.5 1432.0,1348.5 1432.5,1348.4 1433.0,1348.4 1433.5,1348.4 1434.0,1348.3 1434.5,1348.3 1435.0,1348.3 1435.5,1348.2 1436.0,1348.2 1436.5,1348.2 1437.0,1348.1 1437.5,1348.1 1438.0,1348.0 1438.5,1348.0 1439.0,1348.0 1439.5,1347.9 1440.0,1347.9 1440.5,1347.8 1441.0,1347.8 1441.5,1347.7 1442.0,1347.7 1442.5,1347.6 1443.0,1347.6 1443.5,1347.5 1444.0,1347.5 1444.5,1347.4 1445.0,1347.3 1445.5,1347.2 1446.0,1347.1 1446.5,1347.0 1447.0,1346.9 1447.5,1346.8 1448.0,1346.7 1448.5,1346.6 1449.0,1346.4 1449.5,1346.3 1450.0,1346.1 1450.5,1346.0 1451.0,1345.8 1451.5,1345.7 1452.0,1345.5 1452.5,1345.3 1453.0,1345.1 1453.5,1345.0 1454.0,1344.8 1454.5,1344.6 1455.0,1344.4 1455.5,1344.2 1456.0,1343.9 1456.5,1343.7 1457.0,1343.5 1457.5,1343.2 1458.0,1342.9 1458.5,1342.6 1459.0,1342.3 1459.5,1341.9 1460.0,1341.6 1460.5,1341.2 1461.0,1340.8 1461.5,1340.3 1462.0,1339.9 1462.5,1339.4 1463.0,1338.9 1463.5,1338.4 1464.0,1337.8 1464.5,1337.1 1465.0,1336.4 1465.5,1335.6 1466.0,1334.7 1466.5,1333.8 1467.0,1332.7 1467.5,1331.5 1468.0,1330.2 1468.5,1328.8 1469.0,1327.2 1469.5,1325.5 1470.0,1323.6 1470.5,1320.7 1471.0,1316.7 1471.5,1311.7 1472.0,1305.9 1472.5,1299.4 1473.0,1291.8 1473.5,1281.5 1474.0,1269.2 1474.5,1252.6 1475.0,1234.2 1475.5,1220.9 1476.0,1211.4 1476.5,1199.3 1477.0,1171.1 1477.5,1132.7 1478.0,1111.7 1478.5,1096.6 1479.0,1083.4 1479.5,1080.9 1480.0,1091.5 1480.5,1106.2 1481.0,1127.5 1481.5,1162.3 1482.0,1196.0 1482.5,1214.4 1483.0,1228.0 1483.5,1239.2 1484.0,1248.7 1484.5,1257.1 1485.0,1265.4 1485.5,1273.2 1486.0,1279.5 1486.5,1283.5 1487.0,1286.3 1487.5,1288.6 1488.0,1290.4 1488.5,1291.5 1489.0,1292.3 1489.5,1293.0 1490.0,1293.6 1490.5,1294.0 1491.0,1294.1 1491.5,1294.1 1492.0,1294.0 1492.5,1293.8 1493.0,1293.5 1493.5,1293.2 1494.0,1292.9 1494.5,1292.5 1495.0,1292.1 1495.5,1291.6 1496.0,1291.1 1496.5,1290.6 1497.0,1290.1 1497.5,1289.5 1498.0,1288.9 1498.5,1288.4 1499.0,1287.8 1499.5,1287.3 1500.0,1286.8 1500.5,1286.3 1501.0,1285.8 1501.5,1285.3 1502.0,1284.9 1502.5,1284.4 1503.0,1283.9 1503.5,1283.4 1504.0,1283.0 1504.5,1282.5 1505.0,1282.0 1505.5,1281.5 1506.0,1281.0 1506.5,1280.5 1507.0,1280.0 1507.5,1279.5 1508.0,1279.0 1508.5,1278.4 1509.0,1277.9 1509.5,1277.4 1510.0,1276.9 1510.5,1276.4 1511.0,1275.9 1511.5,1275.4 1512.0,1274.9 1512.5,1274.4 1513.0,1273.9 1513.5,1273.4 1514.0,1272.9 1514.5,1272.4 1515.0,1272.0 1515.5,1271.5 1516.0,1271.0 1516.5,1270.5 1517.0,1270.0 1517.5,1269.5 1518.0,1269.0 1518.5,1268.6 1519.0,1268.1 1519.5,1267.6 1520.0,1267.1 1520.5,1266.6 1521.0,1266.1 1521.5,1265.6 1522.0,1265.1 1522.5,1264.6 1523.0,1264.1 1523.5,1263.6 1524.0,1263.0 1524.5,1262.5 1525.0,1262.0 1525.5,1261.4 1526.0,1260.9 1526.5,1260.3 1527.0,1259.8 1527.5,1259.3 1528.0,1258.8 1528.5,1258.2 1529.0,1257.7 1529.5,1257.2 1530.0,1256.6 1530.5,1256.1 1531.0,1255.5 1531.5,1254.9 1532.0,1254.3 1532.5,1253.7 1533.0,1253.1 1533.5,1252.4 1534.0,1251.7 1534.5,1251.0 1535.0,1250.3 1535.5,1249.5 1536.0,1248.7 1536.5,1247.9 1537.0,1247.0 1537.5,1246.1 1538.0,1245.1 1538.5,1244.1 1539.0,1243.0 1539.5,1241.9 1540.0,1240.7 1540.5,1239.4 1541.0,1238.0 1541.5,1236.6 1542.0,1235.0 1542.5,1233.2 1543.0,1231.1 1543.5,1228.8 1544.0,1226.2 1544.5,1223.4 1545.0,1220.4 1545.5,1217.3 1546.0,1214.0 1546.5,1210.3 1547.0,1206.1 1547.5,1201.5 1548.0,1196.9 1548.5,1192.4 1549.0,1188.5 1549.5,1184.9 1550.0,1181.5 1550.5,1178.2 1551.0,1174.9 1551.5,1171.4 1552.0,1167.5 1552.5,1163.2 1553.0,1158.2 1553.5,1152.7 1554.0,1146.9 1554.5,1140.9 1555.0,1135.0 1555.5,1129.1 1556.0,1123.1 1556.5,1117.0 1557.0,1110.8 1557.5,1104.5 1558.0,1098.3 1558.5,1092.0 1559.0,1085.0 1559.5,1076.9 1560.0,1067.9 1560.5,1058.7 1561.0,1049.8 1561.5,1041.9 1562.0,1034.4 1562.5,1027.1 1563.0,1020.1 1563.5,1013.3 1564.0,1006.8 1564.5,1000.4 1565.0,994.1 1565.5,987.9 1566.0,981.9 1566.5,976.2 1567.0,970.9 1567.5,966.2 1568.0,961.9 1568.5,957.8 1569.0,954.0 1569.5,950.4 1570.0,947.3 1570.5,944.7 1571.0,942.5 1571.5,940.5 1572.0,938.7 1572.5,937.3 1573.0,936.5 1573.5,936.0 1574.0,935.6 1574.5,935.3 1575.0,935.0 1575.5,934.8 1576.0,934.7 1576.5,934.7 1577.0,934.7 1577.5,934.8 1578.0,934.8 1578.5,934.9 1579.0,935.0 1579.5,935.1 1580.0,935.2 1580.5,935.3 1581.0,935.3 1581.5,935.4 1582.0,935.4 1582.5,935.4 1583.0,935.1 1583.5,934.5 1584.0,933.8 1584.5,932.9 1585.0,932.0 1585.5,931.0 1586.0,929.9 1586.5,928.6 1587.0,927.1 1587.5,925.5 1588.0,923.7 1588.5,921.7 1589.0,919.5 1589.5,917.0 1590.0,914.3 1590.5,911.4 1591.0,908.3 1591.5,904.9 1592.0,901.1 1592.5,897.0 1593.0,892.6 1593.5,888.0 1594.0,883.2 1594.5,878.2 1595.0,872.9 1595.5,867.4 1596.0,861.5 1596.5,855.1 1597.0,848.3 1597.5,841.0 1598.0,832.8 1598.5,823.7 1599.0,813.5 1599.5,802.3 1600.0,789.9 1600.5,775.8 1601.0,760.3 1601.5,744.0 1602.0,725.6 1602.5,705.2 1603.0,685.5 1603.5,669.0 1604.0,655.4 1604.5,643.4 1605.0,631.7 1605.5,622.4 1606.0,626.8 1606.5,639.0 1607.0,651.4 1607.5,667.9 1608.0,699.1 1608.5,738.7 1609.0,758.5 1609.5,770.7 1610.0,783.7 1610.5,806.7 1611.0,860.4 1611.5,891.8 1612.0,914.3 1612.5,937.0 1613.0,963.9 1613.5,991.0 1614.0,1014.3 1614.5,1035.4 1615.0,1054.6 1615.5,1071.1 1616.0,1084.3 1616.5,1095.3 1617.0,1105.5 1617.5,1116.5 1618.0,1130.2 1618.5,1145.6 1619.0,1160.0 1619.5,1170.6 1620.0,1179.5 1620.5,1187.5 1621.0,1194.7 1621.5,1201.4 1622.0,1207.6 1622.5,1213.5 1623.0,1219.1 1623.5,1224.6 1624.0,1230.0 1624.5,1235.2 1625.0,1240.2 1625.5,1245.1 1626.0,1249.7 1626.5,1254.1 1627.0,1258.3 1627.5,1262.3 1628.0,1266.1 1628.5,1269.6 1629.0,1273.0 1629.5,1276.2 1630.0,1279.4 1630.5,1282.5 1631.0,1285.4 1631.5,1288.2 1632.0,1290.9 1632.5,1293.5 1633.0,1296.0 1633.5,1298.3 1634.0,1300.5 1634.5,1302.6 1635.0,1304.6 1635.5,1306.5 1636.0,1308.3 1636.5,1310.1 1637.0,1311.8 1637.5,1313.4 1638.0,1314.9 1638.5,1316.4 1639.0,1317.7 1639.5,1318.9 1640.0,1320.0 1640.5,1321.0 1641.0,1322.0 1641.5,1323.0 1642.0,1324.0 1642.5,1324.9 1643.0,1325.7 1643.5,1326.5 1644.0,1327.1 1644.5,1327.7 1645.0,1328.2 1645.5,1328.5 1646.0,1328.8 1646.5,1329.0 1647.0,1329.3 1647.5,1329.5 1648.0,1329.7 1648.5,1329.9 1649.0,1330.1 1649.5,1330.2 1650.0,1330.3 1650.5,1330.4 1651.0,1330.5 1651.5,1330.5 1652.0,1330.5 1652.5,1330.4 1653.0,1330.3 1653.5,1330.2 1654.0,1330.0 1654.5,1329.8 1655.0,1329.5 1655.5,1329.2 1656.0,1328.9 1656.5,1328.6 1657.0,1328.2 1657.5,1327.8 1658.0,1327.4 1658.5,1326.9 1659.0,1326.5 1659.5,1326.0 1660.0,1325.5 1660.5,1324.9 1661.0,1324.2 1661.5,1323.3 1662.0,1322.3 1662.5,1321.2 1663.0,1320.0 1663.5,1318.7 1664.0,1317.3 1664.5,1315.8 1665.0,1314.2 1665.5,1312.6 1666.0,1311.0 1666.5,1309.4 1667.0,1307.7 1667.5,1306.0 1668.0,1304.2 1668.5,1302.2 1669.0,1300.0 1669.5,1297.6 1670.0,1295.2 1670.5,1292.8 1671.0,1290.4 1671.5,1288.1 1672.0,1285.8 1672.5,1283.7 1673.0,1281.6 1673.5,1279.4 1674.0,1277.3 1674.5,1275.4 1675.0,1273.8 1675.5,1272.5 1676.0,1271.4 1676.5,1270.3 1677.0,1269.4 1677.5,1268.7 1678.0,1268.5 1678.5,1268.7 1679.0,1269.3 1679.5,1270.2 1680.0,1271.3 1680.5,1272.5 1681.0,1273.7 1681.5,1275.0 1682.0,1276.4 1682.5,1278.2 1683.0,1280.2 1683.5,1282.2 1684.0,1284.1 1684.5,1285.7 1685.0,1287.0 1685.5,1288.1 1686.0,1289.2 1686.5,1290.2 1687.0,1290.9 1687.5,1291.3 1688.0,1291.3 1688.5,1291.0 1689.0,1290.5 1689.5,1289.8 1690.0,1289.0 1690.5,1288.1 1691.0,1287.1 1691.5,1286.0 1692.0,1284.7 1692.5,1283.0 1693.0,1280.9 1693.5,1278.5 1694.0,1275.8 1694.5,1272.5 1695.0,1268.1 1695.5,1262.8 1696.0,1257.1 1696.5,1251.4 1697.0,1245.1 1697.5,1238.4 1698.0,1231.2 1698.5,1223.4 1699.0,1215.0 1699.5,1206.4 1700.0,1198.1 1700.5,1189.7 1701.0,1181.4 1701.5,1173.2 1702.0,1165.4 1702.5,1158.2 1703.0,1151.1 1703.5,1143.8 1704.0,1135.7 1704.5,1126.9 1705.0,1117.7 1705.5,1107.8 1706.0,1097.3 1706.5,1085.9 1707.0,1073.5 1707.5,1059.6 1708.0,1042.4 1708.5,1023.1 1709.0,1004.1 1709.5,987.1 1710.0,971.7 1710.5,956.4 1711.0,939.8 1711.5,920.1 1712.0,896.3 1712.5,870.4 1713.0,843.8 1713.5,815.3 1714.0,790.0 1714.5,769.6 1715.0,751.8 1715.5,735.7 1716.0,721.0 1716.5,708.2 1717.0,696.5 1717.5,689.7 1718.0,696.4 1718.5,708.3 1719.0,720.9 1719.5,737.8 1720.0,768.5 1720.5,801.1 1721.0,825.1 1721.5,849.0 1722.0,879.3 1722.5,914.9 1723.0,948.0 1723.5,979.3 1724.0,1008.5 1724.5,1036.9 1725.0,1061.4 1725.5,1080.0 1726.0,1095.7 1726.5,1109.6 1727.0,1122.9 1727.5,1136.9 1728.0,1151.9 1728.5,1165.6 1729.0,1175.7 1729.5,1183.9 1730.0,1191.1 1730.5,1197.6 1731.0,1203.9 1731.5,1210.0 1732.0,1215.9 1732.5,1221.4 1733.0,1226.4 1733.5,1231.0 1734.0,1235.1 1734.5,1238.9 1735.0,1242.4 1735.5,1245.7 1736.0,1248.7 1736.5,1251.5 1737.0,1254.2 1737.5,1256.8 1738.0,1259.2 1738.5,1261.5 1739.0,1263.7 1739.5,1265.8 1740.0,1267.9 1740.5,1269.8 1741.0,1271.7 1741.5,1273.5 1742.0,1275.3 1742.5,1277.0 1743.0,1278.8 1743.5,1280.4 1744.0,1282.0 1744.5,1283.6 1745.0,1285.1 1745.5,1286.5 1746.0,1287.8 1746.5,1289.0 1747.0,1290.0 1747.5,1291.0 1748.0,1292.0 1748.5,1293.0 1749.0,1294.0 1749.5,1294.8 1750.0,1295.4 1750.5,1295.8 1751.0,1296.0 1751.5,1295.8 1752.0,1295.3 1752.5,1294.6 1753.0,1293.6 1753.5,1292.5 1754.0,1291.3 1754.5,1290.0 1755.0,1288.4 1755.5,1286.3 1756.0,1284.0 1756.5,1281.6 1757.0,1279.4 1757.5,1277.0 1758.0,1274.3 1758.5,1271.6 1759.0,1268.9 1759.5,1266.6 1760.0,1264.8 1760.5,1263.6 1761.0,1263.3 1761.5,1263.3 1762.0,1263.4 1762.5,1263.5 1763.0,1263.6 1763.5,1263.7 1764.0,1263.9 1764.5,1264.0 1765.0,1264.2 1765.5,1264.3 1766.0,1264.6 1766.5,1264.8 1767.0,1265.1 1767.5,1265.4 1768.0,1265.8 1768.5,1266.1 1769.0,1266.6 1769.5,1267.2 1770.0,1268.1 1770.5,1269.0 1771.0,1270.0 1771.5,1271.0 1772.0,1272.0 1772.5,1273.0 1773.0,1274.2 1773.5,1275.4 1774.0,1276.4 1774.5,1277.2 1775.0,1277.7 1775.5,1277.9 1776.0,1278.1 1776.5,1278.3 1777.0,1278.4 1777.5,1278.5 1778.0,1278.5 1778.5,1278.0 1779.0,1276.6 1779.5,1274.9 1780.0,1273.3 1780.5,1272.2 1781.0,1272.3 1781.5,1274.9 1782.0,1279.2 1782.5,1284.0 1783.0,1290.6 1783.5,1296.5 1784.0,1301.1 1784.5,1305.3 1785.0,1308.8 1785.5,1311.2 1786.0,1312.9 1786.5,1314.3 1787.0,1315.5 1787.5,1316.6 1788.0,1317.4 1788.5,1318.0 1789.0,1318.5 1789.5,1319.0 1790.0,1319.4 1790.5,1319.7 1791.0,1320.0 1791.5,1320.2 1792.0,1320.3 1792.5,1320.4 1793.0,1320.5 1793.5,1320.6 1794.0,1320.7 1794.5,1320.7 1795.0,1320.8 1795.5,1320.8 1796.0,1320.9 1796.5,1320.9 1797.0,1320.9 1797.5,1321.0 1798.0,1321.0 1798.5,1321.0 1799.0,1321.1 1799.5,1321.1 1800.0,1321.2 1800.5,1321.2 1801.0,1321.3 1801.5,1321.3 1802.0,1321.4 1802.5,1321.5 1803.0,1321.5 1803.5,1321.6 1804.0,1321.7 1804.5,1321.7 1805.0,1321.8 1805.5,1321.9 1806.0,1322.0 1806.5,1322.1 1807.0,1322.1 1807.5,1322.2 1808.0,1322.3 1808.5,1322.4 1809.0,1322.5 1809.5,1322.5 1810.0,1322.6 1810.5,1322.7 1811.0,1322.8 1811.5,1322.9 1812.0,1323.0 1812.5,1323.1 1813.0,1323.2 1813.5,1323.3 1814.0,1323.4"/>
<path class="cv" stroke="#ff0000" d="M346.0,1209.0 346.5,1209.0 347.0,1209.0 347.5,1209.0 348.0,1209.0 348.5,1209.0 349.0,1209.0 349.5,1209.0 350.0,1209.0 350.5,1209.0 351.0,1209.0 351.5,1209.0 352.0,1209.0 352.5,1209.0 353.0,1209.0 353.5,1209.0 354.0,1209.0 354.5,1209.0 355.0,1209.0 355.5,1209.0 356.0,1209.0 356.5,1209.0 357.0,1209.0 357.5,1209.0 358.0,1209.0 358.5,1209.0 359.0,1209.0 359.5,1209.0 360.0,1209.0 360.5,1209.0 361.0,1209.0 361.5,1209.0 362.0,1209.0 362.5,1209.0 363.0,1209.0 363.5,1209.0 364.0,1209.0 364.5,1209.0 365.0,1209.0 365.5,1209.0 366.0,1209.0 366.5,1209.0 367.0,1209.0 367.5,1209.0 368.0,1209.0 368.5,1209.0 369.0,1209.0 369.5,1209.0 370.0,1209.0 370.5,1208.9 371.0,1208.9 371.5,1208.9 372.0,1208.9 372.5,1208.9 373.0,1208.9 373.5,1208.9 374.0,1208.9 374.5,1208.9 375.0,1208.9 375.5,1208.9 376.0,1208.9 376.5,1208.9 377.0,1208.9 377.5,1208.9 378.0,1208.9 378.5,1208.9 379.0,1208.9 379.5,1208.9 380.0,1208.9 380.5,1208.9 381.0,1208.9 381.5,1208.9 382.0,1208.9 382.5,1208.9 383.0,1208.9 383.5,1208.9 384.0,1208.9 384.5,1208.9 385.0,1208.9 385.5,1208.9 386.0,1208.9 386.5,1208.9 387.0,1208.9 387.5,1208.9 388.0,1208.9 388.5,1208.9 389.0,1208.9 389.5,1208.9 390.0,1208.9 390.5,1208.9 391.0,1208.9 391.5,1208.9 392.0,1208.9 392.5,1208.9 393.0,1208.9 393.5,1208.9 394.0,1208.9 394.5,1208.8 395.0,1208.8 395.5,1208.8 396.0,1208.8 396.5,1208.8 397.0,1208.8 397.5,1208.8 398.0,1208.8 398.5,1208.8 399.0,1208.8 399.5,1208.8 400.0,1208.8 400.5,1208.8 401.0,1208.8 401.5,1208.8 402.0,1208.8 402.5,1208.8 403.0,1208.8 403.5,1208.8 404.0,1208.8 404.5,1208.8 405.0,1208.8 405.5,1208.8 406.0,1208.8 406.5,1208.8 407.0,1208.8 407.5,1208.8 408.0,1208.8 408.5,1208.8 409.0,1208.8 409.5,1208.8 410.0,1208.8 410.5,1208.8 411.0,1208.8 411.5,1208.8 412.0,1208.8 412.5,1208.7 413.0,1208.7 413.5,1208.7 414.0,1208.7 414.5,1208.7 415.0,1208.7 415.5,1208.7 416.0,1208.7 416.5,1208.7 417.0,1208.7 417.5,1208.7 418.0,1208.7 418.5,1208.7 419.0,1208.7 419.5,1208.7 420.0,1208.7 420.5,1208.7 421.0,1208.7 421.5,1208.7 422.0,1208.7 422.5,1208.7 423.0,1208.7 423.5,1208.7 424.0,1208.7 424.5,1208.7 425.0,1208.7 425.5,1208.7 426.0,1208.7 426.5,1208.7 427.0,1208.7 427.5,1208.7 428.0,1208.7 428.5,1208.6 429.0,1208.6 429.5,1208.6 430.0,1208.6 430.5,1208.6 431.0,1208.6 431.5,1208.6 432.0,1208.6 432.5,1208.6 433.0,1208.6 433.5,1208.6 434.0,1208.6 434.5,1208.6 435.0,1208.6 435.5,1208.6 436.0,1208.6 436.5,1208.6 437.0,1208.6 437.5,1208.6 438.0,1208.6 438.5,1208.6 439.0,1208.6 439.5,1208.6 440.0,1208.6 440.5,1208.6 441.0,1208.6 441.5,1208.6 442.0,1208.6 442.5,1208.6 443.0,1208.5 443.5,1208.5 444.0,1208.5 444.5,1208.5 445.0,1208.5 445.5,1208.5 446.0,1208.5 446.5,1208.5 447.0,1208.5 447.5,1208.5 448.0,1208.5 448.5,1208.5 449.0,1208.5 449.5,1208.5 450.0,1208.5 450.5,1208.5 451.0,1208.5 451.5,1208.5 452.0,1208.5 452.5,1208.5 453.0,1208.5 453.5,1208.5 454.0,1208.5 454.5,1208.5 455.0,1208.5 455.5,1208.5 456.0,1208.5 456.5,1208.5 457.0,1208.4 457.5,1208.4 458.0,1208.4 458.5,1208.4 459.0,1208.4 459.5,1208.4 460.0,1208.4 460.5,1208.4 461.0,1208.4 461.5,1208.4 462.0,1208.4 462.5,1208.4 463.0,1208.4 463.5,1208.4 464.0,1208.4 464.5,1208.4 465.0,1208.4 465.5,1208.4 466.0,1208.4 466.5,1208.4 467.0,1208.4 467.5,1208.4 468.0,1208.4 468.5,1208.4 469.0,1208.3 469.5,1208.3 470.0,1208.3 470.5,1208.3 471.0,1208.3 471.5,1208.3 472.0,1208.3 472.5,1208.3 473.0,1208.3 473.5,1208.3 474.0,1208.3 474.5,1208.3 475.0,1208.3 475.5,1208.3 476.0,1208.3 476.5,1208.3 477.0,1208.3 477.5,1208.3 478.0,1208.3 478.5,1208.3 479.0,1208.3 479.5,1208.2 480.0,1208.2 480.5,1208.2 481.0,1208.2 481.5,1208.2 482.0,1208.2 482.5,1208.2 483.0,1208.2 483.5,1208.2 484.0,1208.2 484.5,1208.2 485.0,1208.2 485.5,1208.2 486.0,1208.2 486.5,1208.2 487.0,1208.2 487.5,1208.2 488.0,1208.2 488.5,1208.1 489.0,1208.1 489.5,1208.1 490.0,1208.1 490.5,1208.1 491.0,1208.1 491.5,1208.1 492.0,1208.1 492.5,1208.1 493.0,1208.1 493.5,1208.1 494.0,1208.1 494.5,1208.1 495.0,1208.1 495.5,1208.1 496.0,1208.1 496.5,1208.1 497.0,1208.0 497.5,1208.0 498.0,1208.0 498.5,1208.0 499.0,1208.0 499.5,1208.0 500.0,1208.0 500.5,1208.0 501.0,1208.0 501.5,1208.0 502.0,1208.0 502.5,1208.0 503.0,1208.0 503.5,1208.0 504.0,1208.0 504.5,1208.0 505.0,1207.9 505.5,1207.9 506.0,1207.9 506.5,1207.9 507.0,1207.9 507.5,1207.9 508.0,1207.9 508.5,1207.9 509.0,1207.9 509.5,1207.9 510.0,1207.9 510.5,1207.9 511.0,1207.9 511.5,1207.9 512.0,1207.9 512.5,1207.8 513.0,1207.8 513.5,1207.8 514.0,1207.8 514.5,1207.8 515.0,1207.8 515.5,1207.8 516.0,1207.8 516.5,1207.8 517.0,1207.8 517.5,1207.8 518.0,1207.8 518.5,1207.8 519.0,1207.8 519.5,1207.7 520.0,1207.7 520.5,1207.7 521.0,1207.7 521.5,1207.7 522.0,1207.7 522.5,1207.7 523.0,1207.7 523.5,1207.7 524.0,1207.7 524.5,1207.7 525.0,1207.7 525.5,1207.7 526.0,1207.6 526.5,1207.6 527.0,1207.6 527.5,1207.6 528.0,1207.6 528.5,1207.6 529.0,1207.6 529.5,1207.6 530.0,1207.6 530.5,1207.6 531.0,1207.6 531.5,1207.6 532.0,1207.6 532.5,1207.5 533.0,1207.5 533.5,1207.5 534.0,1207.5 534.5,1207.5 535.0,1207.5 535.5,1207.5 536.0,1207.5 536.5,1207.5 537.0,1207.5 537.5,1207.5 538.0,1207.5 538.5,1207.4 539.0,1207.4 539.5,1207.4 540.0,1207.4 540.5,1207.4 541.0,1207.4 541.5,1207.4 542.0,1207.4 542.5,1207.4 543.0,1207.4 543.5,1207.4 544.0,1207.4 544.5,1207.3 545.0,1207.3 545.5,1207.3 546.0,1207.3 546.5,1207.3 547.0,1207.3 547.5,1207.3 548.0,1207.3 548.5,1207.3 549.0,1207.3 549.5,1207.3 550.0,1207.2 550.5,1207.2 551.0,1207.2 551.5,1207.2 552.0,1207.2 552.5,1207.2 553.0,1207.2 553.5,1207.2 554.0,1207.2 554.5,1207.2 555.0,1207.2 555.5,1207.1 556.0,1207.1 556.5,1207.1 557.0,1207.1 557.5,1207.1 558.0,1207.1 558.5,1207.1 559.0,1207.1 559.5,1207.1 560.0,1207.1 560.5,1207.0 561.0,1207.0 561.5,1207.0 562.0,1207.0 562.5,1207.0 563.0,1207.0 563.5,1207.0 564.0,1207.0 564.5,1207.0 565.0,1207.0 565.5,1207.0 566.0,1207.0 566.5,1206.9 567.0,1206.9 567.5,1206.9 568.0,1206.9 568.5,1206.9 569.0,1206.9 569.5,1206.9 570.0,1206.9 570.5,1206.9 571.0,1206.9 571.5,1206.9 572.0,1206.9 572.5,1206.8 573.0,1206.8 573.5,1206.8 574.0,1206.8 574.5,1206.8 575.0,1206.8 575.5,1206.8 576.0,1206.8 576.5,1206.8 577.0,1206.7 577.5,1206.7 578.0,1206.7 578.5,1206.7 579.0,1206.7 579.5,1206.7 580.0,1206.7 580.5,1206.6 581.0,1206.6 581.5,1206.6 582.0,1206.6 582.5,1206.6 583.0,1206.5 583.5,1206.5 584.0,1206.5 584.5,1206.5 585.0,1206.4 585.5,1206.4 586.0,1206.4 586.5,1206.4 587.0,1206.3 587.5,1206.3 588.0,1206.3 588.5,1206.3 589.0,1206.2 589.5,1206.1 590.0,1206.1 590.5,1206.0 591.0,1205.8 591.5,1205.7 592.0,1205.6 592.5,1205.4 593.0,1205.2 593.5,1205.0 594.0,1204.8 594.5,1204.6 595.0,1204.4 595.5,1204.2 596.0,1204.0 596.5,1203.7 597.0,1203.4 597.5,1203.0 598.0,1202.6 598.5,1202.1 599.0,1201.6 599.5,1201.1 600.0,1200.5 600.5,1199.9 601.0,1199.2 601.5,1198.5 602.0,1197.8 602.5,1197.0 603.0,1196.1 603.5,1195.1 604.0,1194.0 604.5,1192.8 605.0,1191.4 605.5,1190.0 606.0,1188.4 606.5,1186.6 607.0,1184.4 607.5,1181.8 608.0,1178.8 608.5,1175.5 609.0,1171.8 609.5,1167.9 610.0,1163.2 610.5,1157.7 611.0,1151.6 611.5,1145.3 612.0,1138.9 612.5,1131.9 613.0,1124.5 613.5,1117.3 614.0,1110.6 614.5,1104.0 615.0,1097.6 615.5,1091.2 616.0,1084.4 616.5,1078.5 617.0,1074.6 617.5,1071.4 618.0,1069.1 618.5,1068.7 619.0,1070.5 619.5,1074.0 620.0,1078.5 620.5,1087.4 621.0,1099.0 621.5,1109.3 622.0,1119.6 622.5,1129.1 623.0,1137.9 623.5,1146.1 624.0,1152.9 624.5,1158.6 625.0,1163.6 625.5,1167.8 626.0,1170.8 626.5,1173.2 627.0,1175.3 627.5,1177.1 628.0,1178.7 628.5,1180.0 629.0,1181.1 629.5,1182.1 630.0,1183.0 630.5,1183.8 631.0,1184.6 631.5,1185.3 632.0,1185.9 632.5,1186.5 633.0,1186.9 633.5,1187.3 634.0,1187.6 634.5,1187.9 635.0,1188.2 635.5,1188.5 636.0,1188.7 636.5,1188.9 637.0,1189.1 637.5,1189.2 638.0,1189.3 638.5,1189.3 639.0,1189.2 639.5,1188.8 640.0,1188.2 640.5,1187.5 641.0,1186.7 641.5,1186.0 642.0,1185.1 642.5,1183.9 643.0,1182.5 643.5,1181.2 644.0,1180.0 644.5,1179.1 645.0,1178.5 645.5,1178.1 646.0,1177.6 646.5,1177.3 647.0,1177.0 647.5,1176.8 648.0,1176.8 648.5,1177.0 649.0,1177.4 649.5,1177.9 650.0,1178.5 650.5,1179.1 651.0,1179.6 651.5,1180.2 652.0,1180.8 652.5,1181.5 653.0,1182.1 653.5,1182.7 654.0,1183.2 654.5,1183.4 655.0,1183.5 655.5,1183.5 656.0,1183.5 656.5,1183.5 657.0,1183.5 657.5,1183.5 658.0,1183.5 658.5,1183.5 659.0,1183.5 659.5,1183.5 660.0,1183.5 660.5,1183.5 661.0,1183.4 661.5,1183.3 662.0,1183.1 662.5,1183.0 663.0,1182.9 663.5,1182.8 664.0,1182.8 664.5,1182.8 665.0,1182.8 665.5,1183.0 666.0,1183.3 666.5,1183.7 667.0,1184.0 667.5,1184.5 668.0,1184.9 668.5,1185.4 669.0,1186.0 669.5,1186.7 670.0,1187.6 670.5,1188.5 671.0,1189.4 671.5,1190.3 672.0,1191.1 672.5,1191.9 673.0,1192.6 673.5,1193.4 674.0,1194.1 674.5,1194.9 675.0,1195.6 675.5,1196.2 676.0,1196.8 676.5,1197.3 677.0,1197.8 677.5,1198.1 678.0,1198.5 678.5,1198.9 679.0,1199.2 679.5,1199.5 680.0,1199.8 680.5,1200.1 681.0,1200.4 681.5,1200.6 682.0,1200.9 682.5,1201.1 683.0,1201.3 683.5,1201.4 684.0,1201.6 684.5,1201.7 685.0,1201.9 685.5,1202.0 686.0,1202.1 686.5,1202.3 687.0,1202.4 687.5,1202.5 688.0,1202.6 688.5,1202.7 689.0,1202.8 689.5,1202.9 690.0,1203.0 690.5,1203.1 691.0,1203.1 691.5,1203.2 692.0,1203.3 692.5,1203.3 693.0,1203.4 693.5,1203.5 694.0,1203.5 694.5,1203.6 695.0,1203.6 695.5,1203.7 696.0,1203.7 696.5,1203.7 697.0,1203.8 697.5,1203.8 698.0,1203.9 698.5,1203.9 699.0,1203.9 699.5,1203.9 700.0,1204.0 700.5,1204.0 701.0,1204.1 701.5,1204.1 702.0,1204.1 702.5,1204.2 703.0,1204.2 703.5,1204.3 704.0,1204.4 704.5,1204.4 705.0,1204.5 705.5,1204.6 706.0,1204.7 706.5,1204.9 707.0,1205.0 707.5,1205.2 708.0,1205.3 708.5,1205.5 709.0,1205.7 709.5,1205.9 710.0,1206.0 710.5,1206.2 711.0,1206.4 711.5,1206.5 712.0,1206.7 712.5,1206.8 713.0,1206.9 713.5,1207.0 714.0,1207.1 714.5,1207.2 715.0,1207.3 715.5,1207.3 716.0,1207.4 716.5,1207.5 717.0,1207.6 717.5,1207.7 718.0,1207.7 718.5,1207.8 719.0,1207.9 719.5,1208.0 720.0,1208.0 720.5,1208.1 721.0,1208.2 721.5,1208.3 722.0,1208.3 722.5,1208.4 723.0,1208.4 723.5,1208.5 724.0,1208.6 724.5,1208.6 725.0,1208.7 725.5,1208.7 726.0,1208.8 726.5,1208.8 727.0,1208.9 727.5,1208.9 728.0,1208.9 728.5,1209.0 729.0,1209.0 729.5,1209.0 730.0,1209.0 730.5,1209.1 731.0,1209.1 731.5,1209.1 732.0,1209.1 732.5,1209.1 733.0,1209.1 733.5,1209.1 734.0,1209.1 734.5,1209.1 735.0,1209.1 735.5,1209.1 736.0,1209.1 736.5,1209.1 737.0,1209.1 737.5,1209.1 738.0,1209.1 738.5,1209.1 739.0,1209.1 739.5,1209.1 740.0,1209.1 740.5,1209.1 741.0,1209.1 741.5,1209.1 742.0,1209.1 742.5,1209.1 743.0,1209.1 743.5,1209.1 744.0,1209.1 744.5,1209.1 745.0,1209.1 745.5,1209.1 746.0,1209.1 746.5,1209.1 747.0,1209.1 747.5,1209.1 748.0,1209.1 748.5,1209.1 749.0,1209.1 749.5,1209.1 750.0,1209.1 750.5,1209.1 751.0,1209.1 751.5,1209.1 752.0,1209.1 752.5,1209.1 753.0,1209.1 753.5,1209.1 754.0,1209.1 754.5,1209.1 755.0,1209.1 755.5,1209.1 756.0,1209.1 756.5,1209.1 757.0,1209.1 757.5,1209.1 758.0,1209.1 758.5,1209.1 759.0,1209.1 759.5,1209.1 760.0,1209.1 760.5,1209.1 761.0,1209.1 761.5,1209.1 762.0,1209.1 762.5,1209.1 763.0,1209.1 763.5,1209.1 764.0,1209.1 764.5,1209.1 765.0,1209.1 765.5,1209.1 766.0,1209.1 766.5,1209.1 767.0,1209.0 767.5,1209.0 768.0,1209.0 768.5,1209.0 769.0,1208.9 769.5,1208.9 770.0,1208.9 770.5,1208.8 771.0,1208.8 771.5,1208.8 772.0,1208.7 772.5,1208.7 773.0,1208.6 773.5,1208.6 774.0,1208.6 774.5,1208.5 775.0,1208.5 775.5,1208.5 776.0,1208.4 776.5,1208.4 777.0,1208.3 777.5,1208.3 778.0,1208.3 778.5,1208.2 779.0,1208.2 779.5,1208.2 780.0,1208.1 780.5,1208.1 781.0,1208.1 781.5,1208.0 782.0,1208.0 782.5,1208.0 783.0,1207.9 783.5,1207.9 784.0,1207.8 784.5,1207.8 785.0,1207.8 785.5,1207.7 786.0,1207.7 786.5,1207.7 787.0,1207.6 787.5,1207.6 788.0,1207.5 788.5,1207.5 789.0,1207.5 789.5,1207.4 790.0,1207.4 790.5,1207.4 791.0,1207.4 791.5,1207.3 792.0,1207.3 792.5,1207.3 793.0,1207.3 793.5,1207.3 794.0,1207.2 794.5,1207.2 795.0,1207.2 795.5,1207.2 796.0,1207.2 796.5,1207.2 797.0,1207.2 797.5,1207.2 798.0,1207.2 798.5,1207.2 799.0,1207.2 799.5,1207.2 800.0,1207.2 800.5,1207.2 801.0,1207.2 801.5,1207.2 802.0,1207.2 802.5,1207.2 803.0,1207.2 803.5,1207.2 804.0,1207.1 804.5,1207.1 805.0,1207.1 805.5,1207.1 806.0,1207.1 806.5,1207.1 807.0,1207.1 807.5,1207.1 808.0,1207.1 808.5,1207.1 809.0,1207.1 809.5,1207.1 810.0,1207.1 810.5,1207.1 811.0,1207.1 811.5,1207.1 812.0,1207.1 812.5,1207.1 813.0,1207.1 813.5,1207.1 814.0,1207.1 814.5,1207.1 815.0,1207.1 815.5,1207.1 816.0,1207.1 816.5,1207.1 817.0,1207.1 817.5,1207.1 818.0,1207.1 818.5,1207.1 819.0,1207.1 819.5,1207.1 820.0,1207.1 820.5,1207.1 821.0,1207.1 821.5,1207.1 822.0,1207.0 822.5,1207.0 823.0,1207.0 823.5,1207.0 824.0,1207.0 824.5,1207.0 825.0,1207.0 825.5,1207.0 826.0,1207.0 826.5,1207.0 827.0,1207.0 827.5,1207.0 828.0,1207.0 828.5,1207.0 829.0,1207.0 829.5,1207.0 830.0,1207.0 830.5,1207.0 831.0,1207.0 831.5,1207.0 832.0,1207.0 832.5,1207.0 833.0,1207.0 833.5,1207.0 834.0,1207.0 834.5,1207.0 835.0,1207.0 835.5,1207.0 836.0,1207.0 836.5,1207.0 837.0,1207.0 837.5,1207.0 838.0,1207.0 838.5,1207.0 839.0,1207.0 839.5,1207.0 840.0,1207.0 840.5,1207.0 841.0,1207.0 841.5,1207.0 842.0,1207.0 842.5,1207.0 843.0,1207.0 843.5,1207.0 844.0,1207.0 844.5,1207.0 845.0,1207.0 845.5,1207.0 846.0,1207.0 846.5,1207.0 847.0,1207.0 847.5,1207.0 848.0,1207.0 848.5,1207.0 849.0,1207.0 849.5,1207.0 850.0,1207.0 850.5,1207.0 851.0,1207.0 851.5,1207.0 852.0,1207.0 852.5,1207.0 853.0,1207.0 853.5,1207.0 854.0,1207.0 854.5,1207.0 855.0,1207.0 855.5,1207.0 856.0,1207.0 856.5,1207.0 857.0,1207.1 857.5,1207.1 858.0,1207.1 858.5,1207.1 859.0,1207.1 859.5,1207.1 860.0,1207.1 860.5,1207.1 861.0,1207.1 861.5,1207.1 862.0,1207.2 862.5,1207.2 863.0,1207.2 863.5,1207.2 864.0,1207.2 864.5,1207.2 865.0,1207.2 865.5,1207.2 866.0,1207.3 866.5,1207.3 867.0,1207.3 867.5,1207.3 868.0,1207.3 868.5,1207.3 869.0,1207.3 869.5,1207.4 870.0,1207.4 870.5,1207.4 871.0,1207.4 871.5,1207.4 872.0,1207.4 872.5,1207.5 873.0,1207.5 873.5,1207.5 874.0,1207.5 874.5,1207.5 875.0,1207.5 875.5,1207.6 876.0,1207.6 876.5,1207.6 877.0,1207.6 877.5,1207.6 878.0,1207.6 878.5,1207.7 879.0,1207.7 879.5,1207.7 880.0,1207.7 880.5,1207.7 881.0,1207.7 881.5,1207.8 882.0,1207.8 882.5,1207.8 883.0,1207.8 883.5,1207.8 884.0,1207.8 884.5,1207.8 885.0,1207.9 885.5,1207.9 886.0,1207.9 886.5,1207.9 887.0,1207.9 887.5,1207.9 888.0,1207.9 888.5,1208.0 889.0,1208.0 889.5,1208.0 890.0,1208.0 890.5,1208.0 891.0,1208.0 891.5,1208.0 892.0,1208.1 892.5,1208.1 893.0,1208.1 893.5,1208.1 894.0,1208.1 894.5,1208.1 895.0,1208.1 895.5,1208.2 896.0,1208.2 896.5,1208.2 897.0,1208.2 897.5,1208.2 898.0,1208.2 898.5,1208.2 899.0,1208.3 899.5,1208.3 900.0,1208.3 900.5,1208.3 901.0,1208.3 901.5,1208.3 902.0,1208.4 902.5,1208.4 903.0,1208.4 903.5,1208.4 904.0,1208.4 904.5,1208.4 905.0,1208.5 905.5,1208.5 906.0,1208.5 906.5,1208.5 907.0,1208.5 907.5,1208.5 908.0,1208.6 908.5,1208.6 909.0,1208.6 909.5,1208.6 910.0,1208.6 910.5,1208.6 911.0,1208.7 911.5,1208.7 912.0,1208.7 912.5,1208.7 913.0,1208.7 913.5,1208.7 914.0,1208.7 914.5,1208.8 915.0,1208.8 915.5,1208.8 916.0,1208.8 916.5,1208.8 917.0,1208.8 917.5,1208.8 918.0,1208.8 918.5,1208.9 919.0,1208.9 919.5,1208.9 920.0,1208.9 920.5,1208.9 921.0,1208.9 921.5,1208.9 922.0,1208.9 922.5,1208.9 923.0,1208.9 923.5,1209.0 924.0,1209.0 924.5,1209.0 925.0,1209.0 925.5,1209.0 926.0,1209.0 926.5,1209.0 927.0,1209.0 927.5,1209.0 928.0,1209.0 928.5,1209.0 929.0,1209.0 929.5,1209.0 930.0,1209.0 930.5,1209.0 931.0,1209.0 931.5,1209.0 932.0,1208.9 932.5,1208.9 933.0,1208.9 933.5,1208.8 934.0,1208.8 934.5,1208.7 935.0,1208.6 935.5,1208.6 936.0,1208.5 936.5,1208.5 937.0,1208.4 937.5,1208.3 938.0,1208.3 938.5,1208.2 939.0,1208.1 939.5,1208.1 940.0,1208.0 940.5,1207.9 941.0,1207.9 941.5,1207.8 942.0,1207.7 942.5,1207.7 943.0,1207.6 943.5,1207.5 944.0,1207.5 944.5,1207.4 945.0,1207.3 945.5,1207.3 946.0,1207.2 946.5,1207.1 947.0,1207.0 947.5,1207.0 948.0,1206.9 948.5,1206.8 949.0,1206.7 949.5,1206.6 950.0,1206.5 950.5,1206.5 951.0,1206.4 951.5,1206.3 952.0,1206.2 952.5,1206.1 953.0,1206.0 953.5,1206.0 954.0,1205.9 954.5,1205.8 955.0,1205.7 955.5,1205.6 956.0,1205.5 956.5,1205.4 957.0,1205.4 957.5,1205.3 958.0,1205.2 958.5,1205.1 959.0,1205.0 959.5,1204.9 960.0,1204.8 960.5,1204.7 961.0,1204.7 961.5,1204.6 962.0,1204.5 962.5,1204.4 963.0,1204.3 963.5,1204.2 964.0,1204.2 964.5,1204.1 965.0,1204.0 965.5,1203.9 966.0,1203.8 966.5,1203.8 967.0,1203.7 967.5,1203.6 968.0,1203.5 968.5,1203.4 969.0,1203.4 969.5,1203.3 970.0,1203.2 970.5,1203.1 971.0,1203.0 971.5,1203.0 972.0,1202.9 972.5,1202.8 973.0,1202.7 973.5,1202.7 974.0,1202.6 974.5,1202.5 975.0,1202.4 975.5,1202.3 976.0,1202.3 976.5,1202.2 977.0,1202.1 977.5,1202.0 978.0,1201.9 978.5,1201.9 979.0,1201.8 979.5,1201.7 980.0,1201.6 980.5,1201.5 981.0,1201.5 981.5,1201.4 982.0,1201.3 982.5,1201.2 983.0,1201.1 983.5,1201.1 984.0,1201.0 984.5,1200.9 985.0,1200.8 985.5,1200.7 986.0,1200.7 986.5,1200.6 987.0,1200.5 987.5,1200.4 988.0,1200.3 988.5,1200.2 989.0,1200.2 989.5,1200.1 990.0,1200.0 990.5,1199.9 991.0,1199.8 991.5,1199.8 992.0,1199.7 992.5,1199.6 993.0,1199.5 993.5,1199.4 994.0,1199.3 994.5,1199.3 995.0,1199.2 995.5,1199.1 996.0,1199.0 996.5,1199.0 997.0,1198.9 997.5,1198.8 998.0,1198.7 998.5,1198.6 999.0,1198.5 999.5,1198.5 1000.0,1198.4 1000.5,1198.3 1001.0,1198.2 1001.5,1198.1 1002.0,1198.0 1002.5,1198.0 1003.0,1197.9 1003.5,1197.8 1004.0,1197.7 1004.5,1197.6 1005.0,1197.5 1005.5,1197.4 1006.0,1197.3 1006.5,1197.2 1007.0,1197.1 1007.5,1197.0 1008.0,1196.9 1008.5,1196.8 1009.0,1196.7 1009.5,1196.6 1010.0,1196.5 1010.5,1196.4 1011.0,1196.3 1011.5,1196.2 1012.0,1196.0 1012.5,1195.9 1013.0,1195.8 1013.5,1195.7 1014.0,1195.5 1014.5,1195.4 1015.0,1195.3 1015.5,1195.1 1016.0,1195.0 1016.5,1194.8 1017.0,1194.7 1017.5,1194.5 1018.0,1194.3 1018.5,1194.2 1019.0,1194.0 1019.5,1193.8 1020.0,1193.5 1020.5,1193.2 1021.0,1193.0 1021.5,1192.7 1022.0,1192.6 1022.5,1192.5 1023.0,1192.6 1023.5,1192.9 1024.0,1193.3 1024.5,1193.9 1025.0,1194.5 1025.5,1195.2 1026.0,1195.9 1026.5,1196.5 1027.0,1197.0 1027.5,1197.5 1028.0,1197.9 1028.5,1198.3 1029.0,1198.7 1029.5,1199.1 1030.0,1199.5 1030.5,1199.9 1031.0,1200.3 1031.5,1200.7 1032.0,1201.1 1032.5,1201.5 1033.0,1201.8 1033.5,1202.1 1034.0,1202.4 1034.5,1202.7 1035.0,1202.9 1035.5,1203.1 1036.0,1203.3 1036.5,1203.4 1037.0,1203.5 1037.5,1203.5 1038.0,1203.5 1038.5,1203.5 1039.0,1203.5 1039.5,1203.5 1040.0,1203.5 1040.5,1203.4 1041.0,1203.4 1041.5,1203.4 1042.0,1203.4 1042.5,1203.4 1043.0,1203.3 1043.5,1203.3 1044.0,1203.3 1044.5,1203.2 1045.0,1203.2 1045.5,1203.2 1046.0,1203.1 1046.5,1203.1 1047.0,1203.0 1047.5,1203.0 1048.0,1202.9 1048.5,1202.9 1049.0,1202.8 1049.5,1202.8 1050.0,1202.7 1050.5,1202.7 1051.0,1202.6 1051.5,1202.6 1052.0,1202.5 1052.5,1202.5 1053.0,1202.4 1053.5,1202.3 1054.0,1202.3 1054.5,1202.2 1055.0,1202.2 1055.5,1202.1 1056.0,1202.0 1056.5,1202.0 1057.0,1201.9 1057.5,1201.8 1058.0,1201.8 1058.5,1201.7 1059.0,1201.6 1059.5,1201.6 1060.0,1201.5 1060.5,1201.4 1061.0,1201.4 1061.5,1201.3 1062.0,1201.2 1062.5,1201.1 1063.0,1201.0 1063.5,1200.9 1064.0,1200.8 1064.5,1200.7 1065.0,1200.5 1065.5,1200.4 1066.0,1200.3 1066.5,1200.2 1067.0,1200.0 1067.5,1199.9 1068.0,1199.8 1068.5,1199.6 1069.0,1199.5 1069.5,1199.4 1070.0,1199.2 1070.5,1199.1 1071.0,1199.0 1071.5,1198.8 1072.0,1198.7 1072.5,1198.6 1073.0,1198.5 1073.5,1198.3 1074.0,1198.2 1074.5,1198.1 1075.0,1198.0 1075.5,1197.9 1076.0,1197.8 1076.5,1197.6 1077.0,1197.5 1077.5,1197.4 1078.0,1197.3 1078.5,1197.1 1079.0,1197.0 1079.5,1196.9 1080.0,1196.7 1080.5,1196.6 1081.0,1196.5 1081.5,1196.4 1082.0,1196.3 1082.5,1196.2 1083.0,1196.1 1083.5,1196.1 1084.0,1196.0 1084.5,1196.0 1085.0,1196.0 1085.5,1196.0 1086.0,1196.0 1086.5,1196.0 1087.0,1196.0 1087.5,1196.0 1088.0,1196.1 1088.5,1196.1 1089.0,1196.1 1089.5,1196.1 1090.0,1196.2 1090.5,1196.2 1091.0,1196.2 1091.5,1196.3 1092.0,1196.3 1092.5,1196.3 1093.0,1196.4 1093.5,1196.4 1094.0,1196.5 1094.5,1196.5 1095.0,1196.6 1095.5,1196.6 1096.0,1196.6 1096.5,1196.7 1097.0,1196.7 1097.5,1196.8 1098.0,1196.8 1098.5,1196.9 1099.0,1196.9 1099.5,1197.0 1100.0,1197.0 1100.5,1197.0 1101.0,1197.1 1101.5,1197.2 1102.0,1197.2 1102.5,1197.3 1103.0,1197.4 1103.5,1197.4 1104.0,1197.5 1104.5,1197.5 1105.0,1197.5 1105.5,1197.5 1106.0,1197.4 1106.5,1197.3 1107.0,1197.1 1107.5,1197.0 1108.0,1196.7 1108.5,1196.5 1109.0,1196.3 1109.5,1196.0 1110.0,1195.8 1110.5,1195.5 1111.0,1195.2 1111.5,1195.0 1112.0,1194.8 1112.5,1194.5 1113.0,1194.4 1113.5,1194.2 1114.0,1194.1 1114.5,1194.0 1115.0,1194.0 1115.5,1194.0 1116.0,1194.1 1116.5,1194.2 1117.0,1194.3 1117.5,1194.4 1118.0,1194.6 1118.5,1194.7 1119.0,1194.9 1119.5,1195.1 1120.0,1195.4 1120.5,1195.6 1121.0,1195.8 1121.5,1196.1 1122.0,1196.3 1122.5,1196.5 1123.0,1196.7 1123.5,1197.0 1124.0,1197.2 1124.5,1197.3 1125.0,1197.5 1125.5,1197.7 1126.0,1197.8 1126.5,1198.0 1127.0,1198.1 1127.5,1198.3 1128.0,1198.4 1128.5,1198.6 1129.0,1198.7 1129.5,1198.9 1130.0,1199.0 1130.5,1199.2 1131.0,1199.3 1131.5,1199.5 1132.0,1199.7 1132.5,1199.8 1133.0,1200.0 1133.5,1200.1 1134.0,1200.3 1134.5,1200.4 1135.0,1200.6 1135.5,1200.7 1136.0,1200.8 1136.5,1201.0 1137.0,1201.1 1137.5,1201.3 1138.0,1201.4 1138.5,1201.5 1139.0,1201.7 1139.5,1201.8 1140.0,1201.9 1140.5,1202.1 1141.0,1202.2 1141.5,1202.3 1142.0,1202.4 1142.5,1202.6 1143.0,1202.7 1143.5,1202.8 1144.0,1202.9 1144.5,1203.0 1145.0,1203.1 1145.5,1203.2 1146.0,1203.3 1146.5,1203.4 1147.0,1203.5 1147.5,1203.6 1148.0,1203.7 1148.5,1203.8 1149.0,1203.9 1149.5,1203.9 1150.0,1204.0 1150.5,1204.1 1151.0,1204.1 1151.5,1204.2 1152.0,1204.3 1152.5,1204.3 1153.0,1204.4 1153.5,1204.5 1154.0,1204.6 1154.5,1204.6 1155.0,1204.7 1155.5,1204.8 1156.0,1204.8 1156.5,1204.9 1157.0,1205.0 1157.5,1205.0 1158.0,1205.1 1158.5,1205.2 1159.0,1205.2 1159.5,1205.3 1160.0,1205.3 1160.5,1205.4 1161.0,1205.5 1161.5,1205.5 1162.0,1205.6 1162.5,1205.7 1163.0,1205.7 1163.5,1205.8 1164.0,1205.8 1164.5,1205.9 1165.0,1206.0 1165.5,1206.0 1166.0,1206.1 1166.5,1206.1 1167.0,1206.2 1167.5,1206.3 1168.0,1206.3 1168.5,1206.4 1169.0,1206.4 1169.5,1206.5 1170.0,1206.5 1170.5,1206.6 1171.0,1206.6 1171.5,1206.7 1172.0,1206.7 1172.5,1206.8 1173.0,1206.8 1173.5,1206.9 1174.0,1206.9 1174.5,1207.0 1175.0,1207.0 1175.5,1207.1 1176.0,1207.1 1176.5,1207.2 1177.0,1207.2 1177.5,1207.2 1178.0,1207.3 1178.5,1207.3 1179.0,1207.4 1179.5,1207.4 1180.0,1207.4 1180.5,1207.5 1181.0,1207.5 1181.5,1207.5 1182.0,1207.6 1182.5,1207.6 1183.0,1207.6 1183.5,1207.7 1184.0,1207.7 1184.5,1207.7 1185.0,1207.7 1185.5,1207.8 1186.0,1207.8 1186.5,1207.8 1187.0,1207.8 1187.5,1207.8 1188.0,1207.9 1188.5,1207.9 1189.0,1207.9 1189.5,1207.9 1190.0,1207.9 1190.5,1207.9 1191.0,1208.0 1191.5,1208.0 1192.0,1208.0 1192.5,1208.0 1193.0,1208.0 1193.5,1208.0 1194.0,1208.0 1194.5,1208.0 1195.0,1208.0 1195.5,1208.0 1196.0,1208.0 1196.5,1208.0 1197.0,1208.0 1197.5,1208.0 1198.0,1208.0 1198.5,1208.0 1199.0,1208.0 1199.5,1208.0 1200.0,1208.0 1200.5,1208.0 1201.0,1208.0 1201.5,1208.0 1202.0,1208.0 1202.5,1208.0 1203.0,1208.0 1203.5,1208.0 1204.0,1208.0 1204.5,1208.0 1205.0,1208.0 1205.5,1208.0 1206.0,1207.9 1206.5,1207.9 1207.0,1207.9 1207.5,1207.9 1208.0,1207.9 1208.5,1207.9 1209.0,1207.9 1209.5,1207.9 1210.0,1207.9 1210.5,1207.9 1211.0,1207.9 1211.5,1207.9 1212.0,1207.9 1212.5,1207.9 1213.0,1207.9 1213.5,1207.9 1214.0,1207.9 1214.5,1207.8 1215.0,1207.8 1215.5,1207.8 1216.0,1207.8 1216.5,1207.8 1217.0,1207.8 1217.5,1207.8 1218.0,1207.8 1218.5,1207.8 1219.0,1207.8 1219.5,1207.8 1220.0,1207.8 1220.5,1207.8 1221.0,1207.8 1221.5,1207.7 1222.0,1207.7 1222.5,1207.7 1223.0,1207.7 1223.5,1207.7 1224.0,1207.7 1224.5,1207.7 1225.0,1207.7 1225.5,1207.7 1226.0,1207.7 1226.5,1207.7 1227.0,1207.6 1227.5,1207.6 1228.0,1207.6 1228.5,1207.6 1229.0,1207.6 1229.5,1207.6 1230.0,1207.6 1230.5,1207.6 1231.0,1207.6 1231.5,1207.6 1232.0,1207.6 1232.5,1207.5 1233.0,1207.5 1233.5,1207.5 1234.0,1207.5 1234.5,1207.5 1235.0,1207.5 1235.5,1207.5 1236.0,1207.5 1236.5,1207.5 1237.0,1207.5 1237.5,1207.4 1238.0,1207.4 1238.5,1207.4 1239.0,1207.4 1239.5,1207.4 1240.0,1207.4 1240.5,1207.4 1241.0,1207.3 1241.5,1207.3 1242.0,1207.3 1242.5,1207.3 1243.0,1207.3 1243.5,1207.2 1244.0,1207.2 1244.5,1207.2 1245.0,1207.2 1245.5,1207.2 1246.0,1207.1 1246.5,1207.1 1247.0,1207.1 1247.5,1207.1 1248.0,1207.1 1248.5,1207.0 1249.0,1207.0 1249.5,1207.0 1250.0,1207.0 1250.5,1206.9 1251.0,1206.9 1251.5,1206.9 1252.0,1206.8 1252.5,1206.8 1253.0,1206.8 1253.5,1206.8 1254.0,1206.7 1254.5,1206.7 1255.0,1206.7 1255.5,1206.7 1256.0,1206.6 1256.5,1206.6 1257.0,1206.6 1257.5,1206.5 1258.0,1206.5 1258.5,1206.5 1259.0,1206.5 1259.5,1206.4 1260.0,1206.4 1260.5,1206.4 1261.0,1206.3 1261.5,1206.3 1262.0,1206.3 1262.5,1206.3 1263.0,1206.2 1263.5,1206.2 1264.0,1206.2 1264.5,1206.1 1265.0,1206.1 1265.5,1206.1 1266.0,1206.1 1266.5,1206.0 1267.0,1206.0 1267.5,1206.0 1268.0,1205.9 1268.5,1205.9 1269.0,1205.9 1269.5,1205.9 1270.0,1205.8 1270.5,1205.8 1271.0,1205.8 1271.5,1205.7 1272.0,1205.7 1272.5,1205.7 1273.0,1205.7 1273.5,1205.6 1274.0,1205.6 1274.5,1205.6 1275.0,1205.6 1275.5,1205.5 1276.0,1205.5 1276.5,1205.5 1277.0,1205.5 1277.5,1205.4 1278.0,1205.4 1278.5,1205.4 1279.0,1205.4 1279.5,1205.4 1280.0,1205.3 1280.5,1205.3 1281.0,1205.3 1281.5,1205.3 1282.0,1205.3 1282.5,1205.2 1283.0,1205.2 1283.5,1205.2 1284.0,1205.2 1284.5,1205.2 1285.0,1205.2 1285.5,1205.1 1286.0,1205.1 1286.5,1205.1 1287.0,1205.1 1287.5,1205.1 1288.0,1205.1 1288.5,1205.1 1289.0,1205.1 1289.5,1205.1 1290.0,1205.0 1290.5,1205.0 1291.0,1205.0 1291.5,1205.0 1292.0,1205.0 1292.5,1205.0 1293.0,1205.0 1293.5,1205.0 1294.0,1205.0 1294.5,1205.0 1295.0,1205.0 1295.5,1205.0 1296.0,1205.0 1296.5,1205.0 1297.0,1205.0 1297.5,1205.0 1298.0,1205.0 1298.5,1205.0 1299.0,1205.0 1299.5,1205.0 1300.0,1205.1 1300.5,1205.1 1301.0,1205.1 1301.5,1205.1 1302.0,1205.1 1302.5,1205.1 1303.0,1205.1 1303.5,1205.1 1304.0,1205.1 1304.5,1205.2 1305.0,1205.2 1305.5,1205.2 1306.0,1205.2 1306.5,1205.2 1307.0,1205.2 1307.5,1205.3 1308.0,1205.3 1308.5,1205.3 1309.0,1205.3 1309.5,1205.3 1310.0,1205.3 1310.5,1205.4 1311.0,1205.4 1311.5,1205.4 1312.0,1205.4 1312.5,1205.4 1313.0,1205.4 1313.5,1205.5 1314.0,1205.5 1314.5,1205.5 1315.0,1205.5 1315.5,1205.5 1316.0,1205.5 1316.5,1205.5 1317.0,1205.6 1317.5,1205.6 1318.0,1205.6 1318.5,1205.6 1319.0,1205.6 1319.5,1205.7 1320.0,1205.7 1320.5,1205.7 1321.0,1205.7 1321.5,1205.7 1322.0,1205.8 1322.5,1205.8 1323.0,1205.8 1323.5,1205.8 1324.0,1205.9 1324.5,1205.9 1325.0,1205.9 1325.5,1205.9 1326.0,1205.9 1326.5,1206.0 1327.0,1206.0 1327.5,1206.0 1328.0,1206.0 1328.5,1206.1 1329.0,1206.1 1329.5,1206.1 1330.0,1206.1 1330.5,1206.2 1331.0,1206.2 1331.5,1206.2 1332.0,1206.2 1332.5,1206.3 1333.0,1206.3 1333.5,1206.3 1334.0,1206.3 1334.5,1206.4 1335.0,1206.4 1335.5,1206.4 1336.0,1206.4 1336.5,1206.5 1337.0,1206.5 1337.5,1206.5 1338.0,1206.5 1338.5,1206.6 1339.0,1206.6 1339.5,1206.6 1340.0,1206.6 1340.5,1206.6 1341.0,1206.7 1341.5,1206.7 1342.0,1206.7 1342.5,1206.7 1343.0,1206.7 1343.5,1206.8 1344.0,1206.8 1344.5,1206.8 1345.0,1206.8 1345.5,1206.8 1346.0,1206.9 1346.5,1206.9 1347.0,1206.9 1347.5,1206.9 1348.0,1206.9 1348.5,1206.9 1349.0,1206.9 1349.5,1206.9 1350.0,1207.0 1350.5,1207.0 1351.0,1207.0 1351.5,1207.0 1352.0,1207.0 1352.5,1207.0 1353.0,1207.0 1353.5,1207.0 1354.0,1207.0 1354.5,1207.0 1355.0,1207.0 1355.5,1207.0 1356.0,1207.0 1356.5,1207.0 1357.0,1207.0 1357.5,1206.9 1358.0,1206.9 1358.5,1206.9 1359.0,1206.9 1359.5,1206.8 1360.0,1206.8 1360.5,1206.7 1361.0,1206.7 1361.5,1206.6 1362.0,1206.6 1362.5,1206.5 1363.0,1206.5 1363.5,1206.4 1364.0,1206.3 1364.5,1206.3 1365.0,1206.2 1365.5,1206.1 1366.0,1206.0 1366.5,1205.9 1367.0,1205.9 1367.5,1205.8 1368.0,1205.7 1368.5,1205.6 1369.0,1205.5 1369.5,1205.4 1370.0,1205.2 1370.5,1205.1 1371.0,1205.0 1371.5,1204.9 1372.0,1204.8 1372.5,1204.7 1373.0,1204.5 1373.5,1204.4 1374.0,1204.3 1374.5,1204.1 1375.0,1204.0 1375.5,1203.8 1376.0,1203.5 1376.5,1203.2 1377.0,1202.7 1377.5,1202.3 1378.0,1201.8 1378.5,1201.2 1379.0,1200.7 1379.5,1200.2 1380.0,1199.8 1380.5,1199.4 1381.0,1199.0 1381.5,1198.7 1382.0,1198.6 1382.5,1198.5 1383.0,1198.5 1383.5,1198.6 1384.0,1198.8 1384.5,1199.0 1385.0,1199.3 1385.5,1199.6 1386.0,1199.9 1386.5,1200.1 1387.0,1200.4 1387.5,1200.7 1388.0,1201.0 1388.5,1201.2 1389.0,1201.4 1389.5,1201.5 1390.0,1201.5 1390.5,1201.4 1391.0,1201.1 1391.5,1200.7 1392.0,1200.2 1392.5,1199.6 1393.0,1199.0 1393.5,1198.3 1394.0,1197.7 1394.5,1197.1 1395.0,1196.5 1395.5,1195.9 1396.0,1195.3 1396.5,1194.6 1397.0,1193.9 1397.5,1193.2 1398.0,1192.5 1398.5,1191.8 1399.0,1191.2 1399.5,1190.7 1400.0,1190.3 1400.5,1190.1 1401.0,1190.0 1401.5,1190.0 1402.0,1190.2 1402.5,1190.4 1403.0,1190.7 1403.5,1191.0 1404.0,1191.5 1404.5,1191.9 1405.0,1192.4 1405.5,1192.9 1406.0,1193.5 1406.5,1194.0 1407.0,1194.6 1407.5,1195.1 1408.0,1195.7 1408.5,1196.2 1409.0,1196.7 1409.5,1197.1 1410.0,1197.5 1410.5,1197.9 1411.0,1198.3 1411.5,1198.7 1412.0,1199.1 1412.5,1199.4 1413.0,1199.8 1413.5,1200.2 1414.0,1200.6 1414.5,1200.9 1415.0,1201.3 1415.5,1201.6 1416.0,1201.9 1416.5,1202.1 1417.0,1202.3 1417.5,1202.5 1418.0,1202.7 1418.5,1202.8 1419.0,1202.9 1419.5,1203.1 1420.0,1203.2 1420.5,1203.3 1421.0,1203.5 1421.5,1203.6 1422.0,1203.7 1422.5,1203.7 1423.0,1203.8 1423.5,1203.9 1424.0,1203.9 1424.5,1204.0 1425.0,1204.0 1425.5,1204.0 1426.0,1204.0 1426.5,1204.0 1427.0,1204.1 1427.5,1204.1 1428.0,1204.1 1428.5,1204.1 1429.0,1204.1 1429.5,1204.1 1430.0,1204.1 1430.5,1204.1 1431.0,1204.1 1431.5,1204.1 1432.0,1204.1 1432.5,1204.1 1433.0,1204.1 1433.5,1204.0 1434.0,1204.0 1434.5,1204.0 1435.0,1204.0 1435.5,1204.0 1436.0,1203.9 1436.5,1203.9 1437.0,1203.9 1437.5,1203.9 1438.0,1203.8 1438.5,1203.8 1439.0,1203.8 1439.5,1203.7 1440.0,1203.7 1440.5,1203.7 1441.0,1203.6 1441.5,1203.6 1442.0,1203.5 1442.5,1203.5 1443.0,1203.5 1443.5,1203.4 1444.0,1203.4 1444.5,1203.3 1445.0,1203.3 1445.5,1203.2 1446.0,1203.1 1446.5,1203.0 1447.0,1202.9 1447.5,1202.8 1448.0,1202.7 1448.5,1202.6 1449.0,1202.5 1449.5,1202.4 1450.0,1202.2 1450.5,1202.1 1451.0,1202.0 1451.5,1201.8 1452.0,1201.6 1452.5,1201.5 1453.0,1201.3 1453.5,1201.1 1454.0,1201.0 1454.5,1200.8 1455.0,1200.6 1455.5,1200.4 1456.0,1200.1 1456.5,1199.9 1457.0,1199.6 1457.5,1199.3 1458.0,1198.9 1458.5,1198.6 1459.0,1198.2 1459.5,1197.8 1460.0,1197.4 1460.5,1197.0 1461.0,1196.5 1461.5,1196.0 1462.0,1195.5 1462.5,1195.0 1463.0,1194.5 1463.5,1193.9 1464.0,1193.3 1464.5,1192.8 1465.0,1192.2 1465.5,1191.5 1466.0,1190.8 1466.5,1190.0 1467.0,1189.2 1467.5,1188.3 1468.0,1187.2 1468.5,1186.1 1469.0,1184.8 1469.5,1183.4 1470.0,1181.8 1470.5,1180.0 1471.0,1177.1 1471.5,1172.5 1472.0,1167.1 1472.5,1161.6 1473.0,1156.9 1473.5,1152.4 1474.0,1146.0 1474.5,1132.2 1475.0,1112.5 1475.5,1092.6 1476.0,1070.6 1476.5,1045.5 1477.0,1012.2 1477.5,976.7 1478.0,955.7 1478.5,940.6 1479.0,927.4 1479.5,924.9 1480.0,935.5 1480.5,950.2 1481.0,971.6 1481.5,1006.2 1482.0,1040.0 1482.5,1060.1 1483.0,1076.1 1483.5,1088.8 1484.0,1099.0 1484.5,1107.6 1485.0,1114.7 1485.5,1120.9 1486.0,1126.5 1486.5,1131.5 1487.0,1135.8 1487.5,1139.0 1488.0,1141.7 1488.5,1144.2 1489.0,1146.6 1489.5,1148.6 1490.0,1150.2 1490.5,1151.2 1491.0,1151.6 1491.5,1151.6 1492.0,1151.5 1492.5,1151.3 1493.0,1151.1 1493.5,1150.9 1494.0,1150.6 1494.5,1150.3 1495.0,1150.0 1495.5,1149.6 1496.0,1149.2 1496.5,1148.7 1497.0,1148.3 1497.5,1147.9 1498.0,1147.4 1498.5,1146.9 1499.0,1146.5 1499.5,1146.0 1500.0,1145.5 1500.5,1145.1 1501.0,1144.7 1501.5,1144.3 1502.0,1143.8 1502.5,1143.4 1503.0,1142.9 1503.5,1142.5 1504.0,1142.0 1504.5,1141.5 1505.0,1141.1 1505.5,1140.6 1506.0,1140.1 1506.5,1139.6 1507.0,1139.1 1507.5,1138.5 1508.0,1138.0 1508.5,1137.5 1509.0,1137.0 1509.5,1136.4 1510.0,1135.9 1510.5,1135.4 1511.0,1134.9 1511.5,1134.3 1512.0,1133.8 1512.5,1133.3 1513.0,1132.8 1513.5,1132.3 1514.0,1131.8 1514.5,1131.3 1515.0,1130.8 1515.5,1130.3 1516.0,1129.8 1516.5,1129.3 1517.0,1128.8 1517.5,1128.3 1518.0,1127.8 1518.5,1127.2 1519.0,1126.7 1519.5,1126.2 1520.0,1125.7 1520.5,1125.1 1521.0,1124.6 1521.5,1124.0 1522.0,1123.4 1522.5,1122.9 1523.0,1122.3 1523.5,1121.7 1524.0,1121.0 1524.5,1120.4 1525.0,1119.7 1525.5,1119.1 1526.0,1118.4 1526.5,1117.6 1527.0,1116.9 1527.5,1116.1 1528.0,1115.3 1528.5,1114.5 1529.0,1113.6 1529.5,1112.8 1530.0,1111.9 1530.5,1111.0 1531.0,1110.0 1531.5,1109.1 1532.0,1108.1 1532.5,1107.1 1533.0,1106.1 1533.5,1105.0 1534.0,1104.0 1534.5,1102.9 1535.0,1101.8 1535.5,1100.7 1536.0,1099.6 1536.5,1098.4 1537.0,1097.2 1537.5,1096.0 1538.0,1094.7 1538.5,1093.4 1539.0,1092.1 1539.5,1090.7 1540.0,1089.2 1540.5,1087.7 1541.0,1086.2 1541.5,1084.5 1542.0,1082.8 1542.5,1081.0 1543.0,1079.2 1543.5,1077.2 1544.0,1075.1 1544.5,1073.0 1545.0,1070.7 1545.5,1068.3 1546.0,1065.8 1546.5,1063.1 1547.0,1060.3 1547.5,1057.2 1548.0,1053.8 1548.5,1050.2 1549.0,1046.4 1549.5,1042.3 1550.0,1038.1 1550.5,1033.7 1551.0,1029.1 1551.5,1024.2 1552.0,1019.1 1552.5,1013.6 1553.0,1007.7 1553.5,1001.4 1554.0,994.6 1554.5,986.2 1555.0,976.7 1555.5,967.3 1556.0,959.2 1556.5,952.7 1557.0,947.0 1557.5,941.7 1558.0,936.2 1558.5,930.2 1559.0,923.1 1559.5,914.7 1560.0,905.5 1560.5,896.3 1561.0,887.4 1561.5,879.6 1562.0,872.7 1562.5,866.2 1563.0,860.1 1563.5,854.2 1564.0,848.5 1564.5,842.9 1565.0,837.4 1565.5,831.6 1566.0,825.8 1566.5,820.3 1567.0,815.5 1567.5,812.0 1568.0,809.3 1568.5,806.8 1569.0,804.5 1569.5,802.7 1570.0,801.3 1570.5,800.5 1571.0,800.0 1571.5,799.5 1572.0,799.1 1572.5,798.7 1573.0,798.4 1573.5,798.1 1574.0,798.0 1574.5,797.8 1575.0,797.8 1575.5,797.8 1576.0,798.0 1576.5,798.2 1577.0,798.4 1577.5,798.7 1578.0,799.0 1578.5,799.4 1579.0,799.7 1579.5,800.1 1580.0,800.5 1580.5,801.0 1581.0,801.6 1581.5,802.3 1582.0,803.1 1582.5,803.9 1583.0,804.5 1583.5,805.1 1584.0,805.4 1584.5,805.5 1585.0,805.4 1585.5,805.3 1586.0,805.0 1586.5,804.7 1587.0,804.4 1587.5,804.0 1588.0,803.5 1588.5,802.8 1589.0,801.8 1589.5,800.5 1590.0,798.9 1590.5,797.1 1591.0,795.2 1591.5,792.6 1592.0,789.5 1592.5,785.9 1593.0,782.0 1593.5,778.0 1594.0,773.9 1594.5,769.7 1595.0,765.2 1595.5,760.2 1596.0,754.6 1596.5,748.2 1597.0,740.8 1597.5,731.1 1598.0,719.4 1598.5,706.2 1599.0,692.3 1599.5,678.3 1600.0,664.1 1600.5,649.0 1601.0,633.1 1601.5,616.8 1602.0,600.2 1602.5,582.2 1603.0,564.4 1603.5,549.3 1604.0,536.8 1604.5,525.6 1605.0,513.9 1605.5,502.8 1606.0,507.0 1606.5,519.0 1607.0,532.3 1607.5,548.5 1608.0,567.8 1608.5,590.1 1609.0,610.9 1609.5,629.2 1610.0,646.7 1610.5,664.4 1611.0,683.1 1611.5,701.9 1612.0,721.8 1612.5,744.0 1613.0,771.1 1613.5,800.0 1614.0,827.9 1614.5,854.7 1615.0,876.7 1615.5,895.6 1616.0,912.5 1616.5,928.1 1617.0,942.8 1617.5,956.7 1618.0,969.9 1618.5,982.3 1619.0,994.2 1619.5,1005.5 1620.0,1016.7 1620.5,1027.9 1621.0,1038.8 1621.5,1049.2 1622.0,1058.7 1622.5,1067.1 1623.0,1074.0 1623.5,1079.7 1624.0,1084.7 1624.5,1089.2 1625.0,1093.3 1625.5,1097.2 1626.0,1101.0 1626.5,1105.0 1627.0,1109.1 1627.5,1113.7 1628.0,1118.4 1628.5,1123.1 1629.0,1127.3 1629.5,1130.9 1630.0,1134.2 1630.5,1137.2 1631.0,1140.0 1631.5,1142.6 1632.0,1144.9 1632.5,1147.2 1633.0,1149.5 1633.5,1151.7 1634.0,1153.8 1634.5,1155.8 1635.0,1157.7 1635.5,1159.6 1636.0,1161.3 1636.5,1162.9 1637.0,1164.4 1637.5,1165.8 1638.0,1167.0 1638.5,1168.2 1639.0,1169.3 1639.5,1170.4 1640.0,1171.4 1640.5,1172.4 1641.0,1173.3 1641.5,1174.2 1642.0,1175.1 1642.5,1175.9 1643.0,1176.6 1643.5,1177.3 1644.0,1177.9 1644.5,1178.5 1645.0,1179.0 1645.5,1179.5 1646.0,1180.0 1646.5,1180.5 1647.0,1181.0 1647.5,1181.4 1648.0,1181.9 1648.5,1182.3 1649.0,1182.7 1649.5,1183.0 1650.0,1183.3 1650.5,1183.6 1651.0,1183.8 1651.5,1183.9 1652.0,1184.0 1652.5,1184.0 1653.0,1184.0 1653.5,1183.9 1654.0,1183.8 1654.5,1183.7 1655.0,1183.6 1655.5,1183.4 1656.0,1183.2 1656.5,1183.0 1657.0,1182.8 1657.5,1182.5 1658.0,1182.2 1658.5,1181.9 1659.0,1181.6 1659.5,1181.3 1660.0,1181.0 1660.5,1180.6 1661.0,1180.0 1661.5,1179.3 1662.0,1178.5 1662.5,1177.6 1663.0,1176.6 1663.5,1175.5 1664.0,1174.3 1664.5,1173.0 1665.0,1171.7 1665.5,1170.4 1666.0,1169.0 1666.5,1167.4 1667.0,1165.5 1667.5,1163.4 1668.0,1161.1 1668.5,1158.6 1669.0,1156.0 1669.5,1153.4 1670.0,1150.8 1670.5,1148.3 1671.0,1146.0 1671.5,1143.8 1672.0,1141.8 1672.5,1139.8 1673.0,1137.8 1673.5,1135.9 1674.0,1134.1 1674.5,1132.6 1675.0,1131.4 1675.5,1130.5 1676.0,1129.7 1676.5,1128.9 1677.0,1128.2 1677.5,1127.7 1678.0,1127.3 1678.5,1127.2 1679.0,1127.4 1679.5,1128.0 1680.0,1128.8 1680.5,1129.9 1681.0,1131.1 1681.5,1132.3 1682.0,1133.5 1682.5,1134.8 1683.0,1136.4 1683.5,1138.2 1684.0,1140.0 1684.5,1141.7 1685.0,1143.1 1685.5,1144.2 1686.0,1145.2 1686.5,1146.1 1687.0,1146.9 1687.5,1147.6 1688.0,1147.9 1688.5,1148.0 1689.0,1147.7 1689.5,1147.2 1690.0,1146.4 1690.5,1145.4 1691.0,1144.4 1691.5,1143.2 1692.0,1142.0 1692.5,1140.6 1693.0,1138.9 1693.5,1136.9 1694.0,1134.5 1694.5,1131.8 1695.0,1128.9 1695.5,1125.6 1696.0,1121.3 1696.5,1116.1 1697.0,1110.3 1697.5,1104.1 1698.0,1097.1 1698.5,1089.3 1699.0,1081.1 1699.5,1072.5 1700.0,1063.7 1700.5,1054.7 1701.0,1045.2 1701.5,1035.4 1702.0,1025.4 1702.5,1015.3 1703.0,1005.1 1703.5,995.0 1704.0,985.0 1704.5,975.1 1705.0,965.1 1705.5,954.8 1706.0,944.2 1706.5,933.1 1707.0,921.4 1707.5,909.3 1708.0,896.5 1708.5,883.1 1709.0,868.9 1709.5,853.9 1710.0,837.8 1710.5,820.0 1711.0,799.6 1711.5,773.9 1712.0,746.2 1712.5,721.8 1713.0,699.2 1713.5,676.8 1714.0,652.3 1714.5,625.4 1715.0,602.5 1715.5,587.2 1716.0,575.0 1716.5,564.5 1717.0,553.3 1717.5,546.5 1718.0,553.2 1718.5,564.6 1719.0,575.5 1719.5,590.6 1720.0,624.5 1720.5,675.4 1721.0,710.3 1721.5,742.6 1722.0,775.5 1722.5,804.5 1723.0,827.6 1723.5,847.7 1724.0,866.3 1724.5,883.6 1725.0,899.9 1725.5,915.8 1726.0,931.7 1726.5,948.2 1727.0,964.7 1727.5,980.4 1728.0,994.5 1728.5,1006.8 1729.0,1018.8 1729.5,1030.1 1730.0,1040.7 1730.5,1050.2 1731.0,1058.6 1731.5,1065.5 1732.0,1071.4 1732.5,1076.9 1733.0,1082.0 1733.5,1086.6 1734.0,1090.9 1734.5,1094.9 1735.0,1098.5 1735.5,1101.8 1736.0,1104.9 1736.5,1107.7 1737.0,1110.3 1737.5,1112.8 1738.0,1115.2 1738.5,1117.5 1739.0,1119.6 1739.5,1121.6 1740.0,1123.5 1740.5,1125.4 1741.0,1127.1 1741.5,1128.8 1742.0,1130.4 1742.5,1131.9 1743.0,1133.4 1743.5,1134.9 1744.0,1136.4 1744.5,1137.9 1745.0,1139.5 1745.5,1141.0 1746.0,1142.5 1746.5,1144.0 1747.0,1145.4 1747.5,1146.8 1748.0,1148.0 1748.5,1149.1 1749.0,1150.2 1749.5,1151.0 1750.0,1151.7 1750.5,1152.3 1751.0,1152.6 1751.5,1152.7 1752.0,1152.5 1752.5,1151.9 1753.0,1151.0 1753.5,1149.9 1754.0,1148.7 1754.5,1147.3 1755.0,1146.0 1755.5,1144.4 1756.0,1142.4 1756.5,1140.2 1757.0,1137.8 1757.5,1135.6 1758.0,1133.6 1758.5,1131.5 1759.0,1129.3 1759.5,1127.2 1760.0,1125.3 1760.5,1123.9 1761.0,1123.3 1761.5,1123.3 1762.0,1123.4 1762.5,1123.5 1763.0,1123.6 1763.5,1123.7 1764.0,1123.8 1764.5,1124.0 1765.0,1124.2 1765.5,1124.4 1766.0,1124.6 1766.5,1124.9 1767.0,1125.2 1767.5,1125.5 1768.0,1125.9 1768.5,1126.3 1769.0,1126.8 1769.5,1127.4 1770.0,1128.2 1770.5,1129.2 1771.0,1130.2 1771.5,1131.1 1772.0,1132.0 1772.5,1132.9 1773.0,1133.9 1773.5,1134.8 1774.0,1135.7 1774.5,1136.3 1775.0,1136.7 1775.5,1136.9 1776.0,1137.0 1776.5,1137.1 1777.0,1137.2 1777.5,1137.3 1778.0,1137.3 1778.5,1136.6 1779.0,1134.7 1779.5,1132.3 1780.0,1130.0 1780.5,1128.1 1781.0,1127.4 1781.5,1128.9 1782.0,1132.7 1782.5,1137.3 1783.0,1141.9 1783.5,1147.5 1784.0,1152.8 1784.5,1156.6 1785.0,1159.9 1785.5,1162.9 1786.0,1165.7 1786.5,1168.1 1787.0,1170.1 1787.5,1171.7 1788.0,1173.1 1788.5,1174.3 1789.0,1175.5 1789.5,1176.5 1790.0,1177.5 1790.5,1178.3 1791.0,1179.0 1791.5,1179.5 1792.0,1179.8 1792.5,1180.0 1793.0,1180.1 1793.5,1180.2 1794.0,1180.3 1794.5,1180.4 1795.0,1180.5 1795.5,1180.5 1796.0,1180.6 1796.5,1180.6 1797.0,1180.7 1797.5,1180.7 1798.0,1180.8 1798.5,1180.8 1799.0,1180.9 1799.5,1180.9 1800.0,1180.9 1800.5,1181.0 1801.0,1181.0 1801.5,1181.1 1802.0,1181.1 1802.5,1181.2 1803.0,1181.3 1803.5,1181.3 1804.0,1181.4 1804.5,1181.5 1805.0,1181.5 1805.5,1181.6 1806.0,1181.7 1806.5,1181.7 1807.0,1181.8 1807.5,1181.9 1808.0,1182.0 1808.5,1182.0 1809.0,1182.1 1809.5,1182.2 1810.0,1182.2 1810.5,1182.3 1811.0,1182.4 1811.5,1182.5 1812.0,1182.5 1812.5,1182.6 1813.0,1182.7 1813.5,1182.8 1814.0,1182.8 1814.5,1182.9"/>
<path class="cv" stroke="#00ff00" d="M346.0,1049.0 346.5,1049.0 347.0,1049.0 347.5,1049.0 348.0,1049.0 348.5,1049.0 349.0,1049.0 349.5,1049.0 350.0,1049.0 350.5,1049.0 351.0,1049.0 351.5,1049.0 352.0,1049.0 352.5,1049.0 353.0,1049.0 353.5,1049.0 354.0,1049.0 354.5,1049.0 355.0,1049.0 355.5,1049.0 356.0,1049.0 356.5,1049.0 357.0,1049.0 357.5,1049.0 358.0,1049.0 358.5,1049.0 359.0,1049.0 359.5,1049.0 360.0,1049.0 360.5,1049.0 361.0,1049.0 361.5,1049.0 362.0,1049.0 362.5,1049.0 363.0,1049.0 363.5,1049.0 364.0,1049.0 364.5,1049.0 365.0,1049.0 365.5,1049.0 366.0,1049.0 366.5,1049.0 367.0,1049.0 367.5,1049.0 368.0,1049.0 368.5,1049.0 369.0,1049.0 369.5,1049.0 370.0,1049.0 370.5,1049.0 371.0,1049.0 371.5,1049.0 372.0,1049.0 372.5,1049.0 373.0,1049.0 373.5,1049.0 374.0,1049.0 374.5,1049.0 375.0,1049.0 375.5,1049.0 376.0,1049.0 376.5,1049.0 377.0,1049.0 377.5,1049.0 378.0,1049.0 378.5,1049.0 379.0,1049.0 379.5,1049.0 380.0,1049.0 380.5,1049.0 381.0,1049.0 381.5,1049.0 382.0,1049.0 382.5,1049.0 383.0,1049.0 383.5,1049.0 384.0,1049.0 384.5,1049.0 385.0,1049.0 385.5,1049.0 386.0,1049.0 386.5,1049.0 387.0,1049.0 387.5,1049.0 388.0,1049.0 388.5,1049.0 389.0,1049.0 389.5,1049.0 390.0,1049.0 390.5,1049.0 391.0,1049.0 391.5,1049.0 392.0,1049.0 392.5,1049.0 393.0,1049.0 393.5,1049.0 394.0,1049.0 394.5,1049.0 395.0,1049.0 395.5,1049.0 396.0,1049.0 396.5,1049.0 397.0,1049.0 397.5,1049.0 398.0,1049.0 398.5,1049.0 399.0,1049.0 399.5,1049.0 400.0,1049.0 400.5,1049.0 401.0,1049.0 401.5,1049.0 402.0,1049.0 402.5,1049.0 403.0,1049.0 403.5,1049.0 404.0,1049.0 404.5,1049.0 405.0,1049.0 405.5,1049.0 406.0,1049.0 406.5,1049.0 407.0,1049.0 407.5,1049.0 408.0,1049.0 408.5,1049.0 409.0,1049.0 409.5,1049.0 410.0,1049.0 410.5,1049.0 411.0,1049.0 411.5,1049.0 412.0,1049.0 412.5,1049.0 413.0,1049.0 413.5,1049.0 414.0,1049.0 414.5,1049.0 415.0,1049.0 415.5,1049.0 416.0,1049.0 416.5,1049.0 417.0,1049.0 417.5,1049.0 418.0,1049.0 418.5,1049.0 419.0,1049.0 419.5,1049.0 420.0,1049.0 420.5,1049.0 421.0,1049.0 421.5,1049.0 422.0,1049.0 422.5,1049.0 423.0,1049.0 423.5,1049.0 424.0,1049.0 424.5,1049.0 425.0,1049.0 425.5,1049.0 426.0,1049.0 426.5,1049.0 427.0,1049.0 427.5,1049.0 428.0,1049.0 428.5,1049.0 429.0,1049.0 429.5,1049.0 430.0,1049.0 430.5,1049.0 431.0,1049.0 431.5,1049.0 432.0,1049.0 432.5,1049.0 433.0,1049.0 433.5,1049.0 434.0,1049.0 434.5,1049.0 435.0,1049.0 435.5,1049.0 436.0,1049.0 436.5,1049.0 437.0,1049.0 437.5,1049.0 438.0,1049.0 438.5,1049.0 439.0,1049.0 439.5,1049.0 440.0,1049.0 440.5,1049.0 441.0,1049.0 441.5,1049.0 442.0,1049.0 442.5,1049.0 443.0,1049.0 443.5,1049.0 444.0,1049.0 444.5,1049.0 445.0,1049.0 445.5,1049.0 446.0,1049.0 446.5,1049.0 447.0,1049.0 447.5,1049.0 448.0,1049.0 448.5,1049.0 449.0,1049.0 449.5,1049.0 450.0,1049.0 450.5,1049.0 451.0,1049.0 451.5,1049.0 452.0,1049.0 452.5,1049.0 453.0,1049.0 453.5,1049.0 454.0,1049.0 454.5,1049.0 455.0,1049.0 455.5,1049.0 456.0,1049.0 456.5,1049.0 457.0,1049.0 457.5,1049.0 458.0,1049.0 458.5,1049.0 459.0,1049.0 459.5,1049.0 460.0,1049.0 460.5,1049.0 461.0,1049.0 461.5,1049.0 462.0,1049.0 462.5,1049.0 463.0,1049.0 463.5,1049.0 464.0,1049.0 464.5,1049.0 465.0,1049.0 465.5,1049.0 466.0,1049.0 466.5,1049.0 467.0,1049.0 467.5,1049.0 468.0,1049.0 468.5,1049.0 469.0,1049.0 469.5,1049.0 470.0,1049.0 470.5,1049.0 471.0,1049.0 471.5,1049.0 472.0,1049.0 472.5,1049.1 473.0,1049.1 473.5,1049.1 474.0,1049.1 474.5,1049.1 475.0,1049.1 475.5,1049.1 476.0,1049.1 476.5,1049.1 477.0,1049.1 477.5,1049.1 478.0,1049.1 478.5,1049.1 479.0,1049.1 479.5,1049.1 480.0,1049.1 480.5,1049.1 481.0,1049.1 481.5,1049.1 482.0,1049.1 482.5,1049.1 483.0,1049.1 483.5,1049.1 484.0,1049.1 484.5,1049.1 485.0,1049.1 485.5,1049.1 486.0,1049.1 486.5,1049.1 487.0,1049.1 487.5,1049.1 488.0,1049.1 488.5,1049.1 489.0,1049.1 489.5,1049.1 490.0,1049.1 490.5,1049.1 491.0,1049.1 491.5,1049.1 492.0,1049.2 492.5,1049.2 493.0,1049.2 493.5,1049.2 494.0,1049.2 494.5,1049.2 495.0,1049.2 495.5,1049.2 496.0,1049.2 496.5,1049.2 497.0,1049.2 497.5,1049.2 498.0,1049.2 498.5,1049.2 499.0,1049.2 499.5,1049.2 500.0,1049.2 500.5,1049.2 501.0,1049.2 501.5,1049.2 502.0,1049.2 502.5,1049.2 503.0,1049.2 503.5,1049.2 504.0,1049.2 504.5,1049.2 505.0,1049.2 505.5,1049.2 506.0,1049.2 506.5,1049.2 507.0,1049.2 507.5,1049.2 508.0,1049.3 508.5,1049.3 509.0,1049.3 509.5,1049.3 510.0,1049.3 510.5,1049.3 511.0,1049.3 511.5,1049.3 512.0,1049.3 512.5,1049.3 513.0,1049.3 513.5,1049.3 514.0,1049.3 514.5,1049.3 515.0,1049.3 515.5,1049.3 516.0,1049.3 516.5,1049.3 517.0,1049.3 517.5,1049.3 518.0,1049.3 518.5,1049.3 519.0,1049.3 519.5,1049.3 520.0,1049.3 520.5,1049.3 521.0,1049.3 521.5,1049.3 522.0,1049.3 522.5,1049.3 523.0,1049.3 523.5,1049.3 524.0,1049.4 524.5,1049.4 525.0,1049.4 525.5,1049.4 526.0,1049.4 526.5,1049.4 527.0,1049.4 527.5,1049.4 528.0,1049.4 528.5,1049.4 529.0,1049.4 529.5,1049.4 530.0,1049.4 530.5,1049.4 531.0,1049.4 531.5,1049.4 532.0,1049.4 532.5,1049.4 533.0,1049.4 533.5,1049.4 534.0,1049.4 534.5,1049.4 535.0,1049.4 535.5,1049.4 536.0,1049.4 536.5,1049.4 537.0,1049.4 537.5,1049.4 538.0,1049.4 538.5,1049.4 539.0,1049.4 539.5,1049.4 540.0,1049.4 540.5,1049.4 541.0,1049.4 541.5,1049.4 542.0,1049.4 542.5,1049.4 543.0,1049.4 543.5,1049.4 544.0,1049.4 544.5,1049.4 545.0,1049.4 545.5,1049.4 546.0,1049.4 546.5,1049.4 547.0,1049.4 547.5,1049.5 548.0,1049.5 548.5,1049.5 549.0,1049.5 549.5,1049.5 550.0,1049.5 550.5,1049.5 551.0,1049.5 551.5,1049.5 552.0,1049.5 552.5,1049.5 553.0,1049.5 553.5,1049.5 554.0,1049.5 554.5,1049.5 555.0,1049.5 555.5,1049.5 556.0,1049.5 556.5,1049.5 557.0,1049.5 557.5,1049.5 558.0,1049.5 558.5,1049.5 559.0,1049.5 559.5,1049.5 560.0,1049.5 560.5,1049.5 561.0,1049.5 561.5,1049.5 562.0,1049.5 562.5,1049.5 563.0,1049.5 563.5,1049.5 564.0,1049.5 564.5,1049.5 565.0,1049.5 565.5,1049.4 566.0,1049.4 566.5,1049.4 567.0,1049.4 567.5,1049.4 568.0,1049.4 568.5,1049.4 569.0,1049.4 569.5,1049.4 570.0,1049.4 570.5,1049.4 571.0,1049.4 571.5,1049.4 572.0,1049.4 572.5,1049.4 573.0,1049.3 573.5,1049.3 574.0,1049.3 574.5,1049.3 575.0,1049.3 575.5,1049.3 576.0,1049.3 576.5,1049.3 577.0,1049.3 577.5,1049.2 578.0,1049.2 578.5,1049.2 579.0,1049.2 579.5,1049.2 580.0,1049.2 580.5,1049.2 581.0,1049.1 581.5,1049.1 582.0,1049.1 582.5,1049.1 583.0,1049.1 583.5,1049.0 584.0,1049.0 584.5,1049.0 585.0,1049.0 585.5,1049.0 586.0,1048.9 586.5,1048.9 587.0,1048.9 587.5,1048.9 588.0,1048.9 588.5,1048.8 589.0,1048.8 589.5,1048.7 590.0,1048.7 590.5,1048.6 591.0,1048.5 591.5,1048.4 592.0,1048.3 592.5,1048.1 593.0,1048.0 593.5,1047.8 594.0,1047.7 594.5,1047.5 595.0,1047.3 595.5,1047.1 596.0,1046.9 596.5,1046.7 597.0,1046.5 597.5,1046.2 598.0,1045.8 598.5,1045.5 599.0,1045.1 599.5,1044.6 600.0,1044.2 600.5,1043.7 601.0,1043.1 601.5,1042.6 602.0,1042.0 602.5,1041.4 603.0,1040.8 603.5,1040.1 604.0,1039.4 604.5,1038.5 605.0,1037.7 605.5,1036.7 606.0,1035.5 606.5,1034.3 607.0,1032.8 607.5,1031.2 608.0,1028.9 608.5,1025.9 609.0,1022.3 609.5,1018.3 610.0,1013.9 610.5,1008.3 611.0,1002.0 611.5,995.8 612.0,989.2 612.5,982.3 613.0,975.2 613.5,967.7 614.0,960.1 614.5,952.6 615.0,945.1 615.5,937.7 616.0,930.9 616.5,924.3 617.0,918.1 617.5,913.2 618.0,909.7 618.5,908.5 619.0,910.5 619.5,914.4 620.0,921.1 620.5,932.9 621.0,943.8 621.5,954.3 622.0,964.2 622.5,973.5 623.0,982.3 623.5,990.8 624.0,998.9 624.5,1005.4 625.0,1010.8 625.5,1015.4 626.0,1019.3 626.5,1022.8 627.0,1025.9 627.5,1028.6 628.0,1030.6 628.5,1032.4 629.0,1034.0 629.5,1035.4 630.0,1036.7 630.5,1037.8 631.0,1038.7 631.5,1039.5 632.0,1040.3 632.5,1041.0 633.0,1041.6 633.5,1042.2 634.0,1042.7 634.5,1043.1 635.0,1043.5 635.5,1043.9 636.0,1044.2 636.5,1044.5 637.0,1044.8 637.5,1045.0 638.0,1045.0 638.5,1045.0 639.0,1044.8 639.5,1044.4 640.0,1044.0 640.5,1043.4 641.0,1042.5 641.5,1041.1 642.0,1039.4 642.5,1037.8 643.0,1036.4 643.5,1035.1 644.0,1033.8 644.5,1032.7 645.0,1031.9 645.5,1031.4 646.0,1031.0 646.5,1030.7 647.0,1030.5 647.5,1030.6 648.0,1030.8 648.5,1031.1 649.0,1031.5 649.5,1032.0 650.0,1032.6 650.5,1033.4 651.0,1034.3 651.5,1035.2 652.0,1036.0 652.5,1036.6 653.0,1037.2 653.5,1037.8 654.0,1038.4 654.5,1039.0 655.0,1039.5 655.5,1039.9 656.0,1040.2 656.5,1040.4 657.0,1040.6 657.5,1040.7 658.0,1040.8 658.5,1040.9 659.0,1041.0 659.5,1041.1 660.0,1041.1 660.5,1041.2 661.0,1041.3 661.5,1041.4 662.0,1041.4 662.5,1041.5 663.0,1041.6 663.5,1041.7 664.0,1041.9 664.5,1042.0 665.0,1042.2 665.5,1042.4 666.0,1042.6 666.5,1042.8 667.0,1043.1 667.5,1043.3 668.0,1043.6 668.5,1043.9 669.0,1044.2 669.5,1044.5 670.0,1044.8 670.5,1045.1 671.0,1045.4 671.5,1045.9 672.0,1046.4 672.5,1046.9 673.0,1047.5 673.5,1048.0 674.0,1048.5 674.5,1048.9 675.0,1049.2 675.5,1049.4 676.0,1049.5 676.5,1049.4 677.0,1049.2 677.5,1048.9 678.0,1048.6 678.5,1048.4 679.0,1048.1 679.5,1047.9 680.0,1047.9 680.5,1047.9 681.0,1047.9 681.5,1047.9 682.0,1047.9 682.5,1047.9 683.0,1047.9 683.5,1047.9 684.0,1047.9 684.5,1047.9 685.0,1047.9 685.5,1047.9 686.0,1047.9 686.5,1047.9 687.0,1047.9 687.5,1047.9 688.0,1047.9 688.5,1047.9 689.0,1047.9 689.5,1047.9 690.0,1047.9 690.5,1047.9 691.0,1047.9 691.5,1047.9 692.0,1047.9 692.5,1047.9 693.0,1047.9 693.5,1047.9 694.0,1047.9 694.5,1047.9 695.0,1047.9 695.5,1047.9 696.0,1047.9 696.5,1047.9 697.0,1047.9 697.5,1047.9 698.0,1047.9 698.5,1047.9 699.0,1047.9 699.5,1047.9 700.0,1047.9 700.5,1047.9 701.0,1047.9 701.5,1047.9 702.0,1047.9 702.5,1047.9 703.0,1047.9 703.5,1048.0 704.0,1048.1 704.5,1048.2 705.0,1048.4 705.5,1048.5 706.0,1048.6 706.5,1048.8 707.0,1049.0 707.5,1049.1 708.0,1049.3 708.5,1049.5 709.0,1049.6 709.5,1049.7 710.0,1049.9 710.5,1050.0 711.0,1050.0 711.5,1050.1 712.0,1050.1 712.5,1050.2 713.0,1050.2 713.5,1050.3 714.0,1050.3 714.5,1050.4 715.0,1050.4 715.5,1050.4 716.0,1050.5 716.5,1050.5 717.0,1050.6 717.5,1050.6 718.0,1050.6 718.5,1050.7 719.0,1050.7 719.5,1050.7 720.0,1050.8 720.5,1050.8 721.0,1050.8 721.5,1050.9 722.0,1050.9 722.5,1050.9 723.0,1051.0 723.5,1051.0 724.0,1051.0 724.5,1051.0 725.0,1051.1 725.5,1051.1 726.0,1051.1 726.5,1051.1 727.0,1051.2 727.5,1051.2 728.0,1051.2 728.5,1051.2 729.0,1051.2 729.5,1051.2 730.0,1051.3 730.5,1051.3 731.0,1051.3 731.5,1051.3 732.0,1051.3 732.5,1051.3 733.0,1051.3 733.5,1051.3 734.0,1051.3 734.5,1051.3 735.0,1051.4 735.5,1051.4 736.0,1051.4 736.5,1051.4 737.0,1051.4 737.5,1051.4 738.0,1051.4 738.5,1051.4 739.0,1051.4 739.5,1051.4 740.0,1051.4 740.5,1051.4 741.0,1051.4 741.5,1051.3 742.0,1051.3 742.5,1051.3 743.0,1051.3 743.5,1051.3 744.0,1051.3 744.5,1051.3 745.0,1051.3 745.5,1051.3 746.0,1051.3 746.5,1051.3 747.0,1051.3 747.5,1051.3 748.0,1051.3 748.5,1051.3 749.0,1051.3 749.5,1051.3 750.0,1051.3 750.5,1051.3 751.0,1051.3 751.5,1051.3 752.0,1051.3 752.5,1051.2 753.0,1051.2 753.5,1051.2 754.0,1051.2 754.5,1051.2 755.0,1051.2 755.5,1051.2 756.0,1051.2 756.5,1051.2 757.0,1051.2 757.5,1051.2 758.0,1051.2 758.5,1051.2 759.0,1051.1 759.5,1051.1 760.0,1051.1 760.5,1051.1 761.0,1051.1 761.5,1051.1 762.0,1051.1 762.5,1051.1 763.0,1051.1 763.5,1051.1 764.0,1051.1 764.5,1051.1 765.0,1051.0 765.5,1051.0 766.0,1051.0 766.5,1051.0 767.0,1051.0 767.5,1051.0 768.0,1051.0 768.5,1051.0 769.0,1050.9 769.5,1050.9 770.0,1050.9 770.5,1050.9 771.0,1050.9 771.5,1050.9 772.0,1050.8 772.5,1050.8 773.0,1050.8 773.5,1050.8 774.0,1050.8 774.5,1050.7 775.0,1050.7 775.5,1050.7 776.0,1050.7 776.5,1050.6 777.0,1050.6 777.5,1050.6 778.0,1050.6 778.5,1050.5 779.0,1050.5 779.5,1050.5 780.0,1050.5 780.5,1050.4 781.0,1050.4 781.5,1050.4 782.0,1050.4 782.5,1050.3 783.0,1050.3 783.5,1050.3 784.0,1050.2 784.5,1050.2 785.0,1050.2 785.5,1050.2 786.0,1050.1 786.5,1050.1 787.0,1050.1 787.5,1050.1 788.0,1050.0 788.5,1050.0 789.0,1050.0 789.5,1049.9 790.0,1049.9 790.5,1049.9 791.0,1049.9 791.5,1049.8 792.0,1049.8 792.5,1049.8 793.0,1049.8 793.5,1049.8 794.0,1049.7 794.5,1049.7 795.0,1049.7 795.5,1049.7 796.0,1049.7 796.5,1049.6 797.0,1049.6 797.5,1049.6 798.0,1049.6 798.5,1049.6 799.0,1049.5 799.5,1049.5 800.0,1049.5 800.5,1049.5 801.0,1049.5 801.5,1049.4 802.0,1049.4 802.5,1049.4 803.0,1049.4 803.5,1049.4 804.0,1049.3 804.5,1049.3 805.0,1049.3 805.5,1049.3 806.0,1049.3 806.5,1049.2 807.0,1049.2 807.5,1049.2 808.0,1049.2 808.5,1049.2 809.0,1049.1 809.5,1049.1 810.0,1049.1 810.5,1049.1 811.0,1049.1 811.5,1049.0 812.0,1049.0 812.5,1049.0 813.0,1049.0 813.5,1049.0 814.0,1048.9 814.5,1048.9 815.0,1048.9 815.5,1048.9 816.0,1048.8 816.5,1048.8 817.0,1048.8 817.5,1048.8 818.0,1048.8 818.5,1048.8 819.0,1048.7 819.5,1048.7 820.0,1048.7 820.5,1048.7 821.0,1048.7 821.5,1048.6 822.0,1048.6 822.5,1048.6 823.0,1048.6 823.5,1048.6 824.0,1048.5 824.5,1048.5 825.0,1048.5 825.5,1048.5 826.0,1048.5 826.5,1048.5 827.0,1048.4 827.5,1048.4 828.0,1048.4 828.5,1048.4 829.0,1048.4 829.5,1048.4 830.0,1048.3 830.5,1048.3 831.0,1048.3 831.5,1048.3 832.0,1048.3 832.5,1048.3 833.0,1048.3 833.5,1048.2 834.0,1048.2 834.5,1048.2 835.0,1048.2 835.5,1048.2 836.0,1048.2 836.5,1048.2 837.0,1048.2 837.5,1048.1 838.0,1048.1 838.5,1048.1 839.0,1048.1 839.5,1048.1 840.0,1048.1 840.5,1048.1 841.0,1048.1 841.5,1048.1 842.0,1048.1 842.5,1048.1 843.0,1048.0 843.5,1048.0 844.0,1048.0 844.5,1048.0 845.0,1048.0 845.5,1048.0 846.0,1048.0 846.5,1048.0 847.0,1048.0 847.5,1048.0 848.0,1048.0 848.5,1048.0 849.0,1048.0 849.5,1048.0 850.0,1048.0 850.5,1048.0 851.0,1048.0 851.5,1048.0 852.0,1048.0 852.5,1048.0 853.0,1048.0 853.5,1048.0 854.0,1048.0 854.5,1048.0 855.0,1048.0 855.5,1048.0 856.0,1048.0 856.5,1048.0 857.0,1048.1 857.5,1048.1 858.0,1048.1 858.5,1048.1 859.0,1048.1 859.5,1048.1 860.0,1048.1 860.5,1048.1 861.0,1048.1 861.5,1048.1 862.0,1048.2 862.5,1048.2 863.0,1048.2 863.5,1048.2 864.0,1048.2 864.5,1048.2 865.0,1048.2 865.5,1048.2 866.0,1048.3 866.5,1048.3 867.0,1048.3 867.5,1048.3 868.0,1048.3 868.5,1048.3 869.0,1048.3 869.5,1048.4 870.0,1048.4 870.5,1048.4 871.0,1048.4 871.5,1048.4 872.0,1048.4 872.5,1048.5 873.0,1048.5 873.5,1048.5 874.0,1048.5 874.5,1048.5 875.0,1048.5 875.5,1048.6 876.0,1048.6 876.5,1048.6 877.0,1048.6 877.5,1048.6 878.0,1048.6 878.5,1048.7 879.0,1048.7 879.5,1048.7 880.0,1048.7 880.5,1048.7 881.0,1048.7 881.5,1048.8 882.0,1048.8 882.5,1048.8 883.0,1048.8 883.5,1048.8 884.0,1048.8 884.5,1048.8 885.0,1048.9 885.5,1048.9 886.0,1048.9 886.5,1048.9 887.0,1048.9 887.5,1048.9 888.0,1048.9 888.5,1049.0 889.0,1049.0 889.5,1049.0 890.0,1049.0 890.5,1049.0 891.0,1049.0 891.5,1049.0 892.0,1049.1 892.5,1049.1 893.0,1049.1 893.5,1049.1 894.0,1049.1 894.5,1049.1 895.0,1049.1 895.5,1049.2 896.0,1049.2 896.5,1049.2 897.0,1049.2 897.5,1049.2 898.0,1049.2 898.5,1049.2 899.0,1049.3 899.5,1049.3 900.0,1049.3 900.5,1049.3 901.0,1049.3 901.5,1049.3 902.0,1049.4 902.5,1049.4 903.0,1049.4 903.5,1049.4 904.0,1049.4 904.5,1049.4 905.0,1049.5 905.5,1049.5 906.0,1049.5 906.5,1049.5 907.0,1049.5 907.5,1049.5 908.0,1049.6 908.5,1049.6 909.0,1049.6 909.5,1049.6 910.0,1049.6 910.5,1049.6 911.0,1049.7 911.5,1049.7 912.0,1049.7 912.5,1049.7 913.0,1049.7 913.5,1049.7 914.0,1049.7 914.5,1049.8 915.0,1049.8 915.5,1049.8 916.0,1049.8 916.5,1049.8 917.0,1049.8 917.5,1049.8 918.0,1049.8 918.5,1049.9 919.0,1049.9 919.5,1049.9 920.0,1049.9 920.5,1049.9 921.0,1049.9 921.5,1049.9 922.0,1049.9 922.5,1049.9 923.0,1049.9 923.5,1050.0 924.0,1050.0 924.5,1050.0 925.0,1050.0 925.5,1050.0 926.0,1050.0 926.5,1050.0 927.0,1050.0 927.5,1050.0 928.0,1050.0 928.5,1050.0 929.0,1050.0 929.5,1050.0 930.0,1050.0 930.5,1050.0 931.0,1050.0 931.5,1050.0 932.0,1049.9 932.5,1049.9 933.0,1049.9 933.5,1049.8 934.0,1049.8 934.5,1049.7 935.0,1049.6 935.5,1049.6 936.0,1049.5 936.5,1049.4 937.0,1049.4 937.5,1049.3 938.0,1049.2 938.5,1049.2 939.0,1049.1 939.5,1049.1 940.0,1049.0 940.5,1048.9 941.0,1048.9 941.5,1048.8 942.0,1048.8 942.5,1048.7 943.0,1048.7 943.5,1048.6 944.0,1048.6 944.5,1048.5 945.0,1048.4 945.5,1048.4 946.0,1048.3 946.5,1048.3 947.0,1048.2 947.5,1048.1 948.0,1048.1 948.5,1048.0 949.0,1048.0 949.5,1047.9 950.0,1047.8 950.5,1047.8 951.0,1047.7 951.5,1047.7 952.0,1047.6 952.5,1047.5 953.0,1047.5 953.5,1047.4 954.0,1047.4 954.5,1047.3 955.0,1047.2 955.5,1047.2 956.0,1047.1 956.5,1047.0 957.0,1047.0 957.5,1046.9 958.0,1046.9 958.5,1046.8 959.0,1046.7 959.5,1046.7 960.0,1046.6 960.5,1046.5 961.0,1046.5 961.5,1046.4 962.0,1046.4 962.5,1046.3 963.0,1046.2 963.5,1046.2 964.0,1046.1 964.5,1046.1 965.0,1046.0 965.5,1045.9 966.0,1045.9 966.5,1045.8 967.0,1045.8 967.5,1045.7 968.0,1045.6 968.5,1045.6 969.0,1045.5 969.5,1045.5 970.0,1045.4 970.5,1045.4 971.0,1045.3 971.5,1045.2 972.0,1045.2 972.5,1045.1 973.0,1045.1 973.5,1045.0 974.0,1044.9 974.5,1044.9 975.0,1044.8 975.5,1044.8 976.0,1044.7 976.5,1044.7 977.0,1044.6 977.5,1044.5 978.0,1044.5 978.5,1044.4 979.0,1044.4 979.5,1044.3 980.0,1044.2 980.5,1044.2 981.0,1044.1 981.5,1044.1 982.0,1044.0 982.5,1044.0 983.0,1043.9 983.5,1043.8 984.0,1043.8 984.5,1043.7 985.0,1043.6 985.5,1043.6 986.0,1043.5 986.5,1043.5 987.0,1043.4 987.5,1043.3 988.0,1043.3 988.5,1043.2 989.0,1043.1 989.5,1043.1 990.0,1043.0 990.5,1042.9 991.0,1042.9 991.5,1042.8 992.0,1042.7 992.5,1042.7 993.0,1042.6 993.5,1042.5 994.0,1042.4 994.5,1042.4 995.0,1042.3 995.5,1042.2 996.0,1042.2 996.5,1042.1 997.0,1042.0 997.5,1041.9 998.0,1041.9 998.5,1041.8 999.0,1041.7 999.5,1041.6 1000.0,1041.6 1000.5,1041.5 1001.0,1041.4 1001.5,1041.3 1002.0,1041.3 1002.5,1041.2 1003.0,1041.1 1003.5,1041.0 1004.0,1040.9 1004.5,1040.9 1005.0,1040.8 1005.5,1040.7 1006.0,1040.6 1006.5,1040.6 1007.0,1040.5 1007.5,1040.4 1008.0,1040.3 1008.5,1040.2 1009.0,1040.2 1009.5,1040.1 1010.0,1040.0 1010.5,1039.9 1011.0,1039.8 1011.5,1039.8 1012.0,1039.7 1012.5,1039.6 1013.0,1039.5 1013.5,1039.5 1014.0,1039.4 1014.5,1039.3 1015.0,1039.2 1015.5,1039.2 1016.0,1039.1 1016.5,1039.0 1017.0,1038.9 1017.5,1038.8 1018.0,1038.7 1018.5,1038.6 1019.0,1038.5 1019.5,1038.4 1020.0,1038.2 1020.5,1038.0 1021.0,1037.8 1021.5,1037.7 1022.0,1037.5 1022.5,1037.5 1023.0,1037.6 1023.5,1037.9 1024.0,1038.3 1024.5,1038.8 1025.0,1039.4 1025.5,1040.0 1026.0,1040.6 1026.5,1041.2 1027.0,1041.6 1027.5,1042.0 1028.0,1042.3 1028.5,1042.6 1029.0,1042.9 1029.5,1043.2 1030.0,1043.4 1030.5,1043.7 1031.0,1044.0 1031.5,1044.2 1032.0,1044.5 1032.5,1044.7 1033.0,1044.9 1033.5,1045.1 1034.0,1045.3 1034.5,1045.5 1035.0,1045.6 1035.5,1045.8 1036.0,1045.9 1036.5,1045.9 1037.0,1046.0 1037.5,1046.0 1038.0,1046.0 1038.5,1046.0 1039.0,1046.0 1039.5,1046.0 1040.0,1046.0 1040.5,1046.0 1041.0,1046.0 1041.5,1046.0 1042.0,1045.9 1042.5,1045.9 1043.0,1045.9 1043.5,1045.9 1044.0,1045.9 1044.5,1045.9 1045.0,1045.9 1045.5,1045.8 1046.0,1045.8 1046.5,1045.8 1047.0,1045.8 1047.5,1045.8 1048.0,1045.7 1048.5,1045.7 1049.0,1045.7 1049.5,1045.7 1050.0,1045.6 1050.5,1045.6 1051.0,1045.6 1051.5,1045.6 1052.0,1045.5 1052.5,1045.5 1053.0,1045.5 1053.5,1045.4 1054.0,1045.4 1054.5,1045.4 1055.0,1045.3 1055.5,1045.3 1056.0,1045.3 1056.5,1045.2 1057.0,1045.2 1057.5,1045.2 1058.0,1045.1 1058.5,1045.1 1059.0,1045.1 1059.5,1045.0 1060.0,1045.0 1060.5,1045.0 1061.0,1044.9 1061.5,1044.9 1062.0,1044.8 1062.5,1044.7 1063.0,1044.7 1063.5,1044.6 1064.0,1044.5 1064.5,1044.4 1065.0,1044.4 1065.5,1044.3 1066.0,1044.2 1066.5,1044.1 1067.0,1044.0 1067.5,1043.9 1068.0,1043.8 1068.5,1043.7 1069.0,1043.6 1069.5,1043.5 1070.0,1043.4 1070.5,1043.3 1071.0,1043.2 1071.5,1043.1 1072.0,1043.0 1072.5,1042.9 1073.0,1042.8 1073.5,1042.8 1074.0,1042.7 1074.5,1042.6 1075.0,1042.5 1075.5,1042.4 1076.0,1042.3 1076.5,1042.2 1077.0,1042.1 1077.5,1042.0 1078.0,1041.9 1078.5,1041.8 1079.0,1041.7 1079.5,1041.6 1080.0,1041.6 1080.5,1041.5 1081.0,1041.4 1081.5,1041.3 1082.0,1041.2 1082.5,1041.2 1083.0,1041.1 1083.5,1041.1 1084.0,1041.0 1084.5,1041.0 1085.0,1041.0 1085.5,1041.0 1086.0,1041.0 1086.5,1041.0 1087.0,1041.0 1087.5,1041.0 1088.0,1041.0 1088.5,1041.1 1089.0,1041.1 1089.5,1041.1 1090.0,1041.1 1090.5,1041.1 1091.0,1041.2 1091.5,1041.2 1092.0,1041.2 1092.5,1041.3 1093.0,1041.3 1093.5,1041.3 1094.0,1041.4 1094.5,1041.4 1095.0,1041.5 1095.5,1041.5 1096.0,1041.6 1096.5,1041.6 1097.0,1041.7 1097.5,1041.7 1098.0,1041.8 1098.5,1041.8 1099.0,1041.9 1099.5,1041.9 1100.0,1042.0 1100.5,1042.1 1101.0,1042.2 1101.5,1042.4 1102.0,1042.6 1102.5,1042.8 1103.0,1043.0 1103.5,1043.2 1104.0,1043.4 1104.5,1043.5 1105.0,1043.5 1105.5,1043.5 1106.0,1043.4 1106.5,1043.3 1107.0,1043.1 1107.5,1043.0 1108.0,1042.7 1108.5,1042.5 1109.0,1042.3 1109.5,1042.0 1110.0,1041.8 1110.5,1041.5 1111.0,1041.2 1111.5,1041.0 1112.0,1040.8 1112.5,1040.5 1113.0,1040.4 1113.5,1040.2 1114.0,1040.1 1114.5,1040.0 1115.0,1040.0 1115.5,1040.0 1116.0,1040.1 1116.5,1040.1 1117.0,1040.3 1117.5,1040.4 1118.0,1040.5 1118.5,1040.7 1119.0,1040.9 1119.5,1041.1 1120.0,1041.3 1120.5,1041.5 1121.0,1041.7 1121.5,1041.9 1122.0,1042.1 1122.5,1042.3 1123.0,1042.5 1123.5,1042.6 1124.0,1042.8 1124.5,1042.9 1125.0,1043.0 1125.5,1043.1 1126.0,1043.2 1126.5,1043.3 1127.0,1043.4 1127.5,1043.4 1128.0,1043.5 1128.5,1043.6 1129.0,1043.7 1129.5,1043.8 1130.0,1043.8 1130.5,1043.9 1131.0,1044.0 1131.5,1044.1 1132.0,1044.1 1132.5,1044.2 1133.0,1044.3 1133.5,1044.3 1134.0,1044.4 1134.5,1044.5 1135.0,1044.5 1135.5,1044.6 1136.0,1044.6 1136.5,1044.7 1137.0,1044.8 1137.5,1044.8 1138.0,1044.9 1138.5,1044.9 1139.0,1045.0 1139.5,1045.0 1140.0,1045.1 1140.5,1045.2 1141.0,1045.2 1141.5,1045.3 1142.0,1045.3 1142.5,1045.4 1143.0,1045.4 1143.5,1045.4 1144.0,1045.5 1144.5,1045.5 1145.0,1045.6 1145.5,1045.6 1146.0,1045.7 1146.5,1045.7 1147.0,1045.8 1147.5,1045.8 1148.0,1045.8 1148.5,1045.9 1149.0,1045.9 1149.5,1046.0 1150.0,1046.0 1150.5,1046.0 1151.0,1046.1 1151.5,1046.1 1152.0,1046.2 1152.5,1046.2 1153.0,1046.2 1153.5,1046.3 1154.0,1046.3 1154.5,1046.4 1155.0,1046.4 1155.5,1046.4 1156.0,1046.5 1156.5,1046.5 1157.0,1046.6 1157.5,1046.6 1158.0,1046.6 1158.5,1046.7 1159.0,1046.7 1159.5,1046.8 1160.0,1046.8 1160.5,1046.8 1161.0,1046.9 1161.5,1046.9 1162.0,1046.9 1162.5,1047.0 1163.0,1047.0 1163.5,1047.1 1164.0,1047.1 1164.5,1047.1 1165.0,1047.2 1165.5,1047.2 1166.0,1047.2 1166.5,1047.3 1167.0,1047.3 1167.5,1047.4 1168.0,1047.4 1168.5,1047.4 1169.0,1047.5 1169.5,1047.5 1170.0,1047.5 1170.5,1047.6 1171.0,1047.6 1171.5,1047.6 1172.0,1047.7 1172.5,1047.7 1173.0,1047.7 1173.5,1047.8 1174.0,1047.8 1174.5,1047.8 1175.0,1047.8 1175.5,1047.9 1176.0,1047.9 1176.5,1047.9 1177.0,1048.0 1177.5,1048.0 1178.0,1048.0 1178.5,1048.0 1179.0,1048.1 1179.5,1048.1 1180.0,1048.1 1180.5,1048.1 1181.0,1048.2 1181.5,1048.2 1182.0,1048.2 1182.5,1048.2 1183.0,1048.2 1183.5,1048.3 1184.0,1048.3 1184.5,1048.3 1185.0,1048.3 1185.5,1048.3 1186.0,1048.4 1186.5,1048.4 1187.0,1048.4 1187.5,1048.4 1188.0,1048.4 1188.5,1048.4 1189.0,1048.4 1189.5,1048.4 1190.0,1048.5 1190.5,1048.5 1191.0,1048.5 1191.5,1048.5 1192.0,1048.5 1192.5,1048.5 1193.0,1048.5 1193.5,1048.5 1194.0,1048.5 1194.5,1048.5 1195.0,1048.5 1195.5,1048.5 1196.0,1048.5 1196.5,1048.5 1197.0,1048.5 1197.5,1048.5 1198.0,1048.5 1198.5,1048.5 1199.0,1048.5 1199.5,1048.5 1200.0,1048.5 1200.5,1048.5 1201.0,1048.5 1201.5,1048.5 1202.0,1048.5 1202.5,1048.4 1203.0,1048.4 1203.5,1048.4 1204.0,1048.4 1204.5,1048.4 1205.0,1048.4 1205.5,1048.4 1206.0,1048.4 1206.5,1048.4 1207.0,1048.4 1207.5,1048.4 1208.0,1048.4 1208.5,1048.3 1209.0,1048.3 1209.5,1048.3 1210.0,1048.3 1210.5,1048.3 1211.0,1048.3 1211.5,1048.3 1212.0,1048.3 1212.5,1048.2 1213.0,1048.2 1213.5,1048.2 1214.0,1048.2 1214.5,1048.2 1215.0,1048.2 1215.5,1048.2 1216.0,1048.1 1216.5,1048.1 1217.0,1048.1 1217.5,1048.1 1218.0,1048.1 1218.5,1048.1 1219.0,1048.1 1219.5,1048.0 1220.0,1048.0 1220.5,1048.0 1221.0,1048.0 1221.5,1048.0 1222.0,1048.0 1222.5,1047.9 1223.0,1047.9 1223.5,1047.9 1224.0,1047.9 1224.5,1047.9 1225.0,1047.9 1225.5,1047.8 1226.0,1047.8 1226.5,1047.8 1227.0,1047.8 1227.5,1047.8 1228.0,1047.8 1228.5,1047.7 1229.0,1047.7 1229.5,1047.7 1230.0,1047.7 1230.5,1047.7 1231.0,1047.6 1231.5,1047.6 1232.0,1047.6 1232.5,1047.6 1233.0,1047.6 1233.5,1047.6 1234.0,1047.5 1234.5,1047.5 1235.0,1047.5 1235.5,1047.5 1236.0,1047.5 1236.5,1047.4 1237.0,1047.4 1237.5,1047.4 1238.0,1047.4 1238.5,1047.4 1239.0,1047.3 1239.5,1047.3 1240.0,1047.3 1240.5,1047.3 1241.0,1047.2 1241.5,1047.2 1242.0,1047.2 1242.5,1047.2 1243.0,1047.1 1243.5,1047.1 1244.0,1047.1 1244.5,1047.1 1245.0,1047.0 1245.5,1047.0 1246.0,1047.0 1246.5,1047.0 1247.0,1046.9 1247.5,1046.9 1248.0,1046.9 1248.5,1046.8 1249.0,1046.8 1249.5,1046.8 1250.0,1046.8 1250.5,1046.7 1251.0,1046.7 1251.5,1046.7 1252.0,1046.6 1252.5,1046.6 1253.0,1046.6 1253.5,1046.5 1254.0,1046.5 1254.5,1046.5 1255.0,1046.4 1255.5,1046.4 1256.0,1046.4 1256.5,1046.3 1257.0,1046.3 1257.5,1046.3 1258.0,1046.2 1258.5,1046.2 1259.0,1046.2 1259.5,1046.1 1260.0,1046.1 1260.5,1046.1 1261.0,1046.0 1261.5,1046.0 1262.0,1045.9 1262.5,1045.9 1263.0,1045.9 1263.5,1045.8 1264.0,1045.8 1264.5,1045.8 1265.0,1045.7 1265.5,1045.7 1266.0,1045.7 1266.5,1045.6 1267.0,1045.6 1267.5,1045.5 1268.0,1045.5 1268.5,1045.5 1269.0,1045.4 1269.5,1045.4 1270.0,1045.4 1270.5,1045.3 1271.0,1045.3 1271.5,1045.3 1272.0,1045.2 1272.5,1045.2 1273.0,1045.1 1273.5,1045.1 1274.0,1045.1 1274.5,1045.0 1275.0,1045.0 1275.5,1045.0 1276.0,1044.9 1276.5,1044.9 1277.0,1044.8 1277.5,1044.8 1278.0,1044.8 1278.5,1044.7 1279.0,1044.7 1279.5,1044.6 1280.0,1044.6 1280.5,1044.5 1281.0,1044.5 1281.5,1044.4 1282.0,1044.4 1282.5,1044.3 1283.0,1044.3 1283.5,1044.2 1284.0,1044.1 1284.5,1044.1 1285.0,1044.0 1285.5,1044.0 1286.0,1043.9 1286.5,1043.9 1287.0,1043.8 1287.5,1043.8 1288.0,1043.7 1288.5,1043.6 1289.0,1043.6 1289.5,1043.5 1290.0,1043.5 1290.5,1043.4 1291.0,1043.4 1291.5,1043.3 1292.0,1043.3 1292.5,1043.2 1293.0,1043.2 1293.5,1043.1 1294.0,1043.1 1294.5,1043.0 1295.0,1043.0 1295.5,1042.9 1296.0,1042.9 1296.5,1042.9 1297.0,1042.8 1297.5,1042.8 1298.0,1042.8 1298.5,1042.7 1299.0,1042.7 1299.5,1042.7 1300.0,1042.6 1300.5,1042.6 1301.0,1042.6 1301.5,1042.6 1302.0,1042.6 1302.5,1042.5 1303.0,1042.5 1303.5,1042.5 1304.0,1042.5 1304.5,1042.5 1305.0,1042.5 1305.5,1042.5 1306.0,1042.5 1306.5,1042.5 1307.0,1042.6 1307.5,1042.6 1308.0,1042.6 1308.5,1042.7 1309.0,1042.7 1309.5,1042.7 1310.0,1042.8 1310.5,1042.9 1311.0,1042.9 1311.5,1043.0 1312.0,1043.1 1312.5,1043.1 1313.0,1043.2 1313.5,1043.3 1314.0,1043.4 1314.5,1043.4 1315.0,1043.5 1315.5,1043.6 1316.0,1043.7 1316.5,1043.8 1317.0,1043.9 1317.5,1044.0 1318.0,1044.1 1318.5,1044.2 1319.0,1044.3 1319.5,1044.4 1320.0,1044.5 1320.5,1044.6 1321.0,1044.7 1321.5,1044.8 1322.0,1044.9 1322.5,1045.0 1323.0,1045.1 1323.5,1045.2 1324.0,1045.3 1324.5,1045.4 1325.0,1045.5 1325.5,1045.6 1326.0,1045.6 1326.5,1045.7 1327.0,1045.8 1327.5,1045.9 1328.0,1045.9 1328.5,1046.0 1329.0,1046.1 1329.5,1046.1 1330.0,1046.2 1330.5,1046.3 1331.0,1046.3 1331.5,1046.3 1332.0,1046.4 1332.5,1046.4 1333.0,1046.4 1333.5,1046.5 1334.0,1046.5 1334.5,1046.5 1335.0,1046.5 1335.5,1046.5 1336.0,1046.5 1336.5,1046.5 1337.0,1046.5 1337.5,1046.5 1338.0,1046.5 1338.5,1046.5 1339.0,1046.5 1339.5,1046.5 1340.0,1046.5 1340.5,1046.5 1341.0,1046.5 1341.5,1046.5 1342.0,1046.5 1342.5,1046.5 1343.0,1046.5 1343.5,1046.5 1344.0,1046.5 1344.5,1046.5 1345.0,1046.4 1345.5,1046.4 1346.0,1046.4 1346.5,1046.4 1347.0,1046.4 1347.5,1046.4 1348.0,1046.4 1348.5,1046.4 1349.0,1046.4 1349.5,1046.4 1350.0,1046.4 1350.5,1046.4 1351.0,1046.4 1351.5,1046.4 1352.0,1046.3 1352.5,1046.3 1353.0,1046.3 1353.5,1046.3 1354.0,1046.3 1354.5,1046.3 1355.0,1046.3 1355.5,1046.3 1356.0,1046.3 1356.5,1046.3 1357.0,1046.2 1357.5,1046.2 1358.0,1046.2 1358.5,1046.2 1359.0,1046.2 1359.5,1046.2 1360.0,1046.2 1360.5,1046.1 1361.0,1046.1 1361.5,1046.1 1362.0,1046.1 1362.5,1046.1 1363.0,1046.1 1363.5,1046.1 1364.0,1046.0 1364.5,1046.0 1365.0,1046.0 1365.5,1046.0 1366.0,1045.9 1366.5,1045.9 1367.0,1045.8 1367.5,1045.8 1368.0,1045.7 1368.5,1045.6 1369.0,1045.5 1369.5,1045.4 1370.0,1045.3 1370.5,1045.2 1371.0,1045.1 1371.5,1045.0 1372.0,1044.8 1372.5,1044.7 1373.0,1044.6 1373.5,1044.4 1374.0,1044.3 1374.5,1044.1 1375.0,1044.0 1375.5,1043.8 1376.0,1043.6 1376.5,1043.3 1377.0,1043.0 1377.5,1042.6 1378.0,1042.3 1378.5,1041.9 1379.0,1041.5 1379.5,1041.2 1380.0,1040.9 1380.5,1040.6 1381.0,1040.3 1381.5,1040.2 1382.0,1040.0 1382.5,1040.0 1383.0,1040.0 1383.5,1040.1 1384.0,1040.3 1384.5,1040.4 1385.0,1040.6 1385.5,1040.9 1386.0,1041.1 1386.5,1041.4 1387.0,1041.6 1387.5,1041.9 1388.0,1042.1 1388.5,1042.2 1389.0,1042.4 1389.5,1042.5 1390.0,1042.5 1390.5,1042.4 1391.0,1042.0 1391.5,1041.5 1392.0,1040.8 1392.5,1040.0 1393.0,1039.2 1393.5,1038.3 1394.0,1037.5 1394.5,1036.7 1395.0,1036.0 1395.5,1035.3 1396.0,1034.6 1396.5,1033.9 1397.0,1033.1 1397.5,1032.3 1398.0,1031.6 1398.5,1030.9 1399.0,1030.3 1399.5,1029.7 1400.0,1029.3 1400.5,1029.1 1401.0,1029.0 1401.5,1029.1 1402.0,1029.2 1402.5,1029.5 1403.0,1029.9 1403.5,1030.4 1404.0,1030.9 1404.5,1031.4 1405.0,1032.0 1405.5,1032.6 1406.0,1033.3 1406.5,1033.9 1407.0,1034.5 1407.5,1035.0 1408.0,1035.6 1408.5,1036.2 1409.0,1036.9 1409.5,1037.6 1410.0,1038.4 1410.5,1039.2 1411.0,1039.9 1411.5,1040.7 1412.0,1041.4 1412.5,1042.0 1413.0,1042.6 1413.5,1043.1 1414.0,1043.5 1414.5,1043.8 1415.0,1044.0 1415.5,1044.1 1416.0,1044.2 1416.5,1044.3 1417.0,1044.3 1417.5,1044.4 1418.0,1044.5 1418.5,1044.5 1419.0,1044.6 1419.5,1044.6 1420.0,1044.7 1420.5,1044.7 1421.0,1044.8 1421.5,1044.8 1422.0,1044.8 1422.5,1044.9 1423.0,1044.9 1423.5,1044.9 1424.0,1044.9 1424.5,1045.0 1425.0,1045.0 1425.5,1045.0 1426.0,1045.1 1426.5,1045.1 1427.0,1045.1 1427.5,1045.1 1428.0,1045.2 1428.5,1045.2 1429.0,1045.2 1429.5,1045.2 1430.0,1045.2 1430.5,1045.2 1431.0,1045.2 1431.5,1045.2 1432.0,1045.2 1432.5,1045.2 1433.0,1045.2 1433.5,1045.2 1434.0,1045.2 1434.5,1045.2 1435.0,1045.1 1435.5,1045.1 1436.0,1045.1 1436.5,1045.1 1437.0,1045.1 1437.5,1045.1 1438.0,1045.1 1438.5,1045.0 1439.0,1045.0 1439.5,1045.0 1440.0,1045.0 1440.5,1045.0 1441.0,1044.9 1441.5,1044.9 1442.0,1044.9 1442.5,1044.9 1443.0,1044.8 1443.5,1044.8 1444.0,1044.8 1444.5,1044.7 1445.0,1044.7 1445.5,1044.7 1446.0,1044.6 1446.5,1044.5 1447.0,1044.5 1447.5,1044.4 1448.0,1044.3 1448.5,1044.2 1449.0,1044.1 1449.5,1044.0 1450.0,1043.9 1450.5,1043.8 1451.0,1043.7 1451.5,1043.6 1452.0,1043.5 1452.5,1043.3 1453.0,1043.2 1453.5,1043.1 1454.0,1042.9 1454.5,1042.8 1455.0,1042.6 1455.5,1042.4 1456.0,1042.2 1456.5,1042.0 1457.0,1041.8 1457.5,1041.5 1458.0,1041.3 1458.5,1041.0 1459.0,1040.6 1459.5,1040.3 1460.0,1039.9 1460.5,1039.5 1461.0,1039.1 1461.5,1038.7 1462.0,1038.2 1462.5,1037.7 1463.0,1037.2 1463.5,1036.6 1464.0,1035.9 1464.5,1035.2 1465.0,1034.4 1465.5,1033.4 1466.0,1032.4 1466.5,1031.3 1467.0,1030.0 1467.5,1028.7 1468.0,1027.3 1468.5,1025.7 1469.0,1024.1 1469.5,1022.3 1470.0,1020.4 1470.5,1017.9 1471.0,1014.7 1471.5,1010.9 1472.0,1006.7 1472.5,1002.2 1473.0,997.5 1473.5,992.2 1474.0,985.0 1474.5,972.3 1475.0,954.7 1475.5,935.5 1476.0,913.4 1476.5,888.0 1477.0,854.7 1477.5,819.0 1478.0,798.4 1478.5,783.6 1479.0,770.1 1479.5,767.5 1480.0,778.5 1480.5,793.1 1481.0,814.0 1481.5,847.3 1482.0,882.5 1482.5,908.5 1483.0,930.1 1483.5,946.4 1484.0,960.6 1484.5,971.3 1485.0,976.6 1485.5,980.1 1486.0,982.8 1486.5,985.0 1487.0,986.6 1487.5,988.0 1488.0,989.2 1488.5,990.4 1489.0,991.5 1489.5,992.4 1490.0,993.1 1490.5,993.5 1491.0,993.7 1491.5,993.6 1492.0,993.5 1492.5,993.2 1493.0,992.9 1493.5,992.5 1494.0,992.0 1494.5,991.4 1495.0,990.8 1495.5,990.2 1496.0,989.5 1496.5,988.8 1497.0,988.0 1497.5,987.3 1498.0,986.6 1498.5,985.9 1499.0,985.2 1499.5,984.5 1500.0,983.8 1500.5,983.2 1501.0,982.7 1501.5,982.2 1502.0,981.7 1502.5,981.3 1503.0,980.8 1503.5,980.4 1504.0,980.0 1504.5,979.5 1505.0,979.1 1505.5,978.7 1506.0,978.3 1506.5,977.9 1507.0,977.4 1507.5,977.0 1508.0,976.6 1508.5,976.2 1509.0,975.8 1509.5,975.4 1510.0,974.9 1510.5,974.5 1511.0,974.0 1511.5,973.6 1512.0,973.1 1512.5,972.6 1513.0,972.1 1513.5,971.6 1514.0,971.1 1514.5,970.6 1515.0,970.1 1515.5,969.6 1516.0,969.1 1516.5,968.6 1517.0,968.1 1517.5,967.6 1518.0,967.1 1518.5,966.5 1519.0,966.0 1519.5,965.4 1520.0,964.9 1520.5,964.3 1521.0,963.8 1521.5,963.2 1522.0,962.6 1522.5,962.0 1523.0,961.4 1523.5,960.8 1524.0,960.2 1524.5,959.6 1525.0,959.0 1525.5,958.3 1526.0,957.7 1526.5,957.0 1527.0,956.3 1527.5,955.7 1528.0,955.0 1528.5,954.3 1529.0,953.5 1529.5,952.8 1530.0,952.1 1530.5,951.3 1531.0,950.5 1531.5,949.7 1532.0,948.9 1532.5,948.1 1533.0,947.2 1533.5,946.4 1534.0,945.5 1534.5,944.6 1535.0,943.6 1535.5,942.7 1536.0,941.7 1536.5,940.7 1537.0,939.7 1537.5,938.7 1538.0,937.5 1538.5,936.4 1539.0,935.1 1539.5,933.8 1540.0,932.5 1540.5,931.0 1541.0,929.4 1541.5,927.7 1542.0,925.9 1542.5,924.0 1543.0,921.9 1543.5,919.8 1544.0,917.5 1544.5,915.2 1545.0,912.7 1545.5,910.1 1546.0,907.4 1546.5,904.6 1547.0,901.7 1547.5,898.5 1548.0,895.1 1548.5,891.4 1549.0,887.5 1549.5,883.3 1550.0,879.0 1550.5,874.5 1551.0,869.8 1551.5,864.7 1552.0,859.2 1552.5,853.4 1553.0,847.3 1553.5,841.2 1554.0,835.0 1554.5,828.5 1555.0,821.7 1555.5,814.7 1556.0,807.7 1556.5,801.1 1557.0,795.0 1557.5,789.5 1558.0,784.2 1558.5,779.2 1559.0,774.2 1559.5,769.0 1560.0,763.6 1560.5,757.7 1561.0,751.1 1561.5,744.0 1562.0,736.5 1562.5,729.0 1563.0,721.9 1563.5,715.4 1564.0,709.2 1564.5,703.2 1565.0,697.4 1565.5,691.8 1566.0,686.4 1566.5,681.3 1567.0,676.4 1567.5,671.7 1568.0,666.7 1568.5,661.9 1569.0,657.7 1569.5,654.3 1570.0,652.2 1570.5,650.9 1571.0,649.7 1571.5,648.6 1572.0,647.7 1572.5,646.8 1573.0,646.2 1573.5,645.7 1574.0,645.4 1574.5,645.3 1575.0,645.3 1575.5,645.3 1576.0,645.3 1576.5,645.3 1577.0,645.3 1577.5,645.3 1578.0,645.3 1578.5,645.4 1579.0,645.6 1579.5,646.0 1580.0,646.3 1580.5,646.7 1581.0,647.0 1581.5,647.1 1582.0,647.0 1582.5,646.8 1583.0,646.4 1583.5,645.8 1584.0,645.2 1584.5,644.5 1585.0,643.8 1585.5,643.0 1586.0,642.2 1586.5,641.1 1587.0,640.0 1587.5,638.6 1588.0,637.1 1588.5,635.5 1589.0,633.6 1589.5,631.3 1590.0,628.6 1590.5,625.5 1591.0,622.1 1591.5,618.5 1592.0,614.3 1592.5,609.7 1593.0,604.6 1593.5,599.1 1594.0,593.3 1594.5,586.9 1595.0,579.8 1595.5,572.0 1596.0,563.9 1596.5,555.6 1597.0,547.1 1597.5,538.4 1598.0,529.2 1598.5,519.4 1599.0,508.8 1599.5,497.4 1600.0,484.6 1600.5,470.0 1601.0,451.7 1601.5,430.4 1602.0,405.9 1602.5,378.5 1603.0,357.4 1603.5,344.8 1604.0,335.0 1604.5,325.9 1605.0,314.6 1605.5,307.2 1606.0,313.2 1606.5,324.0 1607.0,334.0 1607.5,345.6 1608.0,361.0 1608.5,386.6 1609.0,415.8 1609.5,438.7 1610.0,457.4 1610.5,480.0 1611.0,515.9 1611.5,552.2 1612.0,585.5 1612.5,611.3 1613.0,630.7 1613.5,647.0 1614.0,661.5 1614.5,675.5 1615.0,688.9 1615.5,701.2 1616.0,712.8 1616.5,724.4 1617.0,736.4 1617.5,749.2 1618.0,762.4 1618.5,776.0 1619.0,790.1 1619.5,804.9 1620.0,821.9 1620.5,839.6 1621.0,855.8 1621.5,868.5 1622.0,878.3 1622.5,887.2 1623.0,895.4 1623.5,903.0 1624.0,909.9 1624.5,916.3 1625.0,922.3 1625.5,927.8 1626.0,933.0 1626.5,938.0 1627.0,942.7 1627.5,947.2 1628.0,951.5 1628.5,955.6 1629.0,959.5 1629.5,963.2 1630.0,966.6 1630.5,969.9 1631.0,973.0 1631.5,975.8 1632.0,978.5 1632.5,981.1 1633.0,983.6 1633.5,986.0 1634.0,988.3 1634.5,990.5 1635.0,992.6 1635.5,994.6 1636.0,996.6 1636.5,998.4 1637.0,1000.1 1637.5,1001.8 1638.0,1003.3 1638.5,1004.7 1639.0,1006.0 1639.5,1007.3 1640.0,1008.5 1640.5,1009.7 1641.0,1010.8 1641.5,1011.8 1642.0,1012.9 1642.5,1013.8 1643.0,1014.7 1643.5,1015.5 1644.0,1016.2 1644.5,1016.9 1645.0,1017.5 1645.5,1018.0 1646.0,1018.6 1646.5,1019.1 1647.0,1019.7 1647.5,1020.2 1648.0,1020.6 1648.5,1021.1 1649.0,1021.5 1649.5,1021.9 1650.0,1022.2 1650.5,1022.5 1651.0,1022.7 1651.5,1022.8 1652.0,1022.9 1652.5,1022.9 1653.0,1022.9 1653.5,1022.8 1654.0,1022.7 1654.5,1022.5 1655.0,1022.4 1655.5,1022.2 1656.0,1021.9 1656.5,1021.7 1657.0,1021.4 1657.5,1021.1 1658.0,1020.8 1658.5,1020.5 1659.0,1020.2 1659.5,1019.9 1660.0,1019.5 1660.5,1019.1 1661.0,1018.6 1661.5,1018.0 1662.0,1017.3 1662.5,1016.6 1663.0,1015.7 1663.5,1014.8 1664.0,1013.9 1664.5,1012.8 1665.0,1011.8 1665.5,1010.6 1666.0,1009.5 1666.5,1008.3 1667.0,1006.9 1667.5,1005.3 1668.0,1003.5 1668.5,1001.5 1669.0,999.4 1669.5,997.2 1670.0,994.9 1670.5,992.6 1671.0,990.3 1671.5,987.9 1672.0,985.6 1672.5,983.3 1673.0,980.9 1673.5,978.2 1674.0,975.4 1674.5,972.9 1675.0,970.6 1675.5,969.0 1676.0,967.7 1676.5,966.5 1677.0,965.4 1677.5,964.5 1678.0,963.9 1678.5,963.7 1679.0,963.9 1679.5,964.5 1680.0,965.3 1680.5,966.4 1681.0,967.6 1681.5,968.8 1682.0,970.0 1682.5,971.4 1683.0,973.1 1683.5,974.9 1684.0,976.8 1684.5,978.6 1685.0,980.1 1685.5,981.2 1686.0,982.2 1686.5,983.1 1687.0,983.9 1687.5,984.6 1688.0,984.9 1688.5,985.0 1689.0,984.7 1689.5,984.1 1690.0,983.4 1690.5,982.4 1691.0,981.4 1691.5,980.2 1692.0,979.0 1692.5,977.7 1693.0,976.1 1693.5,974.3 1694.0,972.2 1694.5,969.7 1695.0,966.8 1695.5,963.4 1696.0,958.7 1696.5,951.6 1697.0,943.7 1697.5,935.8 1698.0,927.1 1698.5,918.0 1699.0,909.2 1699.5,901.0 1700.0,893.7 1700.5,886.9 1701.0,880.4 1701.5,873.9 1702.0,867.2 1702.5,860.0 1703.0,852.6 1703.5,845.2 1704.0,837.6 1704.5,829.7 1705.0,821.2 1705.5,812.0 1706.0,801.9 1706.5,789.6 1707.0,775.6 1707.5,760.8 1708.0,746.3 1708.5,733.0 1709.0,721.6 1709.5,710.7 1710.0,698.6 1710.5,683.5 1711.0,664.4 1711.5,639.0 1712.0,599.0 1712.5,564.4 1713.0,538.0 1713.5,513.2 1714.0,485.5 1714.5,457.4 1715.0,435.8 1715.5,420.4 1716.0,407.7 1716.5,395.2 1717.0,387.0 1717.5,393.7 1718.0,405.1 1718.5,416.0 1719.0,431.0 1719.5,464.9 1720.0,516.1 1720.5,553.1 1721.0,581.2 1721.5,601.6 1722.0,618.5 1722.5,634.6 1723.0,652.2 1723.5,669.9 1724.0,688.2 1724.5,708.7 1725.0,731.6 1725.5,748.8 1726.0,762.8 1726.5,775.8 1727.0,790.1 1727.5,808.3 1728.0,836.9 1728.5,859.0 1729.0,868.4 1729.5,876.0 1730.0,882.1 1730.5,887.1 1731.0,891.4 1731.5,895.4 1732.0,899.3 1732.5,903.5 1733.0,907.6 1733.5,911.5 1734.0,915.2 1734.5,918.7 1735.0,922.1 1735.5,925.4 1736.0,928.5 1736.5,931.5 1737.0,934.4 1737.5,937.3 1738.0,940.0 1738.5,942.7 1739.0,945.4 1739.5,947.9 1740.0,950.3 1740.5,952.7 1741.0,955.0 1741.5,957.3 1742.0,959.4 1742.5,961.6 1743.0,963.6 1743.5,965.7 1744.0,967.7 1744.5,969.6 1745.0,971.6 1745.5,973.7 1746.0,976.0 1746.5,978.2 1747.0,980.5 1747.5,982.6 1748.0,984.7 1748.5,986.6 1749.0,988.2 1749.5,989.7 1750.0,990.7 1750.5,991.5 1751.0,991.8 1751.5,991.7 1752.0,991.3 1752.5,990.7 1753.0,989.9 1753.5,988.9 1754.0,987.8 1754.5,986.7 1755.0,985.5 1755.5,983.9 1756.0,982.0 1756.5,979.9 1757.0,977.7 1757.5,975.5 1758.0,972.8 1758.5,969.8 1759.0,966.8 1759.5,964.0 1760.0,961.9 1760.5,960.8 1761.0,960.7 1761.5,960.8 1762.0,960.9 1762.5,961.1 1763.0,961.3 1763.5,961.5 1764.0,961.8 1764.5,962.0 1765.0,962.2 1765.5,962.5 1766.0,962.7 1766.5,963.0 1767.0,963.3 1767.5,963.6 1768.0,964.0 1768.5,964.4 1769.0,964.9 1769.5,965.5 1770.0,966.3 1770.5,967.2 1771.0,968.1 1771.5,969.1 1772.0,970.0 1772.5,971.0 1773.0,972.2 1773.5,973.3 1774.0,974.4 1774.5,975.3 1775.0,975.8 1775.5,976.1 1776.0,976.4 1776.5,976.6 1777.0,976.8 1777.5,977.0 1778.0,977.0 1778.5,976.6 1779.0,975.4 1779.5,974.0 1780.0,972.6 1780.5,971.4 1781.0,971.0 1781.5,972.5 1782.0,976.0 1782.5,980.4 1783.0,984.8 1783.5,990.3 1784.0,995.5 1784.5,998.9 1785.0,1001.8 1785.5,1004.4 1786.0,1006.6 1786.5,1008.5 1787.0,1010.0 1787.5,1011.1 1788.0,1012.1 1788.5,1013.0 1789.0,1013.9 1789.5,1014.6 1790.0,1015.2 1790.5,1015.7 1791.0,1016.0 1791.5,1016.2 1792.0,1016.3 1792.5,1016.3 1793.0,1016.4 1793.5,1016.4 1794.0,1016.5 1794.5,1016.5 1795.0,1016.5 1795.5,1016.5 1796.0,1016.6 1796.5,1016.6 1797.0,1016.6 1797.5,1016.6 1798.0,1016.6 1798.5,1016.7 1799.0,1016.7 1799.5,1016.7 1800.0,1016.7 1800.5,1016.7 1801.0,1016.8 1801.5,1016.8 1802.0,1016.9 1802.5,1016.9 1803.0,1017.0 1803.5,1017.0 1804.0,1017.1 1804.5,1017.2 1805.0,1017.3 1805.5,1017.3 1806.0,1017.4 1806.5,1017.5 1807.0,1017.7 1807.5,1017.8 1808.0,1017.9 1808.5,1018.0 1809.0,1018.2 1809.5,1018.3 1810.0,1018.4 1810.5,1018.6 1811.0,1018.7 1811.5,1018.9 1812.0,1019.1 1812.5,1019.2 1813.0,1019.4 1813.5,1019.6 1814.0,1019.7 1814.5,1019.9"/>
<path class="cv" stroke="#0000ff" d="M346.0,891.5 346.5,891.5 347.0,891.5 347.5,891.5 348.0,891.5 348.5,891.5 349.0,891.5 349.5,891.5 350.0,891.5 350.5,891.5 351.0,891.5 351.5,891.5 352.0,891.5 352.5,891.5 353.0,891.5 353.5,891.5 354.0,891.5 354.5,891.5 355.0,891.5 355.5,891.5 356.0,891.5 356.5,891.5 357.0,891.5 357.5,891.5 358.0,891.5 358.5,891.5 359.0,891.5 359.5,891.5 360.0,891.5 360.5,891.5 361.0,891.5 361.5,891.5 362.0,891.5 362.5,891.5 363.0,891.5 363.5,891.5 364.0,891.5 364.5,891.5 365.0,891.5 365.5,891.5 366.0,891.5 366.5,891.5 367.0,891.5 367.5,891.5 368.0,891.5 368.5,891.5 369.0,891.5 369.5,891.5 370.0,891.5 370.5,891.5 371.0,891.5 371.5,891.5 372.0,891.5 372.5,891.5 373.0,891.5 373.5,891.5 374.0,891.5 374.5,891.5 375.0,891.4 375.5,891.4 376.0,891.4 376.5,891.4 377.0,891.4 377.5,891.4 378.0,891.4 378.5,891.4 379.0,891.4 379.5,891.4 380.0,891.4 380.5,891.4 381.0,891.4 381.5,891.4 382.0,891.4 382.5,891.4 383.0,891.4 383.5,891.4 384.0,891.4 384.5,891.4 385.0,891.4 385.5,891.4 386.0,891.4 386.5,891.4 387.0,891.4 387.5,891.4 388.0,891.4 388.5,891.4 389.0,891.4 389.5,891.4 390.0,891.4 390.5,891.4 391.0,891.4 391.5,891.4 392.0,891.4 392.5,891.4 393.0,891.4 393.5,891.4 394.0,891.4 394.5,891.4 395.0,891.4 395.5,891.4 396.0,891.4 396.5,891.4 397.0,891.4 397.5,891.3 398.0,891.3 398.5,891.3 399.0,891.3 399.5,891.3 400.0,891.3 400.5,891.3 401.0,891.3 401.5,891.3 402.0,891.3 402.5,891.3 403.0,891.3 403.5,891.3 404.0,891.3 404.5,891.3 405.0,891.3 405.5,891.3 406.0,891.3 406.5,891.3 407.0,891.3 407.5,891.3 408.0,891.3 408.5,891.3 409.0,891.3 409.5,891.3 410.0,891.3 410.5,891.3 411.0,891.3 411.5,891.3 412.0,891.3 412.5,891.3 413.0,891.3 413.5,891.3 414.0,891.3 414.5,891.2 415.0,891.2 415.5,891.2 416.0,891.2 416.5,891.2 417.0,891.2 417.5,891.2 418.0,891.2 418.5,891.2 419.0,891.2 419.5,891.2 420.0,891.2 420.5,891.2 421.0,891.2 421.5,891.2 422.0,891.2 422.5,891.2 423.0,891.2 423.5,891.2 424.0,891.2 424.5,891.2 425.0,891.2 425.5,891.2 426.0,891.2 426.5,891.2 427.0,891.2 427.5,891.2 428.0,891.2 428.5,891.2 429.0,891.2 429.5,891.1 430.0,891.1 430.5,891.1 431.0,891.1 431.5,891.1 432.0,891.1 432.5,891.1 433.0,891.1 433.5,891.1 434.0,891.1 434.5,891.1 435.0,891.1 435.5,891.1 436.0,891.1 436.5,891.1 437.0,891.1 437.5,891.1 438.0,891.1 438.5,891.1 439.0,891.1 439.5,891.1 440.0,891.1 440.5,891.1 441.0,891.1 441.5,891.1 442.0,891.1 442.5,891.1 443.0,891.1 443.5,891.0 444.0,891.0 444.5,891.0 445.0,891.0 445.5,891.0 446.0,891.0 446.5,891.0 447.0,891.0 447.5,891.0 448.0,891.0 448.5,891.0 449.0,891.0 449.5,891.0 450.0,891.0 450.5,891.0 451.0,891.0 451.5,891.0 452.0,891.0 452.5,891.0 453.0,891.0 453.5,891.0 454.0,891.0 454.5,891.0 455.0,891.0 455.5,891.0 456.0,891.0 456.5,890.9 457.0,890.9 457.5,890.9 458.0,890.9 458.5,890.9 459.0,890.9 459.5,890.9 460.0,890.9 460.5,890.9 461.0,890.9 461.5,890.9 462.0,890.9 462.5,890.9 463.0,890.9 463.5,890.9 464.0,890.9 464.5,890.9 465.0,890.9 465.5,890.9 466.0,890.8 466.5,890.8 467.0,890.8 467.5,890.8 468.0,890.8 468.5,890.8 469.0,890.8 469.5,890.8 470.0,890.8 470.5,890.8 471.0,890.8 471.5,890.8 472.0,890.8 472.5,890.8 473.0,890.8 473.5,890.8 474.0,890.7 474.5,890.7 475.0,890.7 475.5,890.7 476.0,890.7 476.5,890.7 477.0,890.7 477.5,890.7 478.0,890.7 478.5,890.7 479.0,890.7 479.5,890.7 480.0,890.7 480.5,890.7 481.0,890.6 481.5,890.6 482.0,890.6 482.5,890.6 483.0,890.6 483.5,890.6 484.0,890.6 484.5,890.6 485.0,890.6 485.5,890.6 486.0,890.6 486.5,890.6 487.0,890.6 487.5,890.5 488.0,890.5 488.5,890.5 489.0,890.5 489.5,890.5 490.0,890.5 490.5,890.5 491.0,890.5 491.5,890.5 492.0,890.5 492.5,890.5 493.0,890.5 493.5,890.4 494.0,890.4 494.5,890.4 495.0,890.4 495.5,890.4 496.0,890.4 496.5,890.4 497.0,890.4 497.5,890.4 498.0,890.4 498.5,890.4 499.0,890.4 499.5,890.3 500.0,890.3 500.5,890.3 501.0,890.3 501.5,890.3 502.0,890.3 502.5,890.3 503.0,890.3 503.5,890.3 504.0,890.3 504.5,890.3 505.0,890.2 505.5,890.2 506.0,890.2 506.5,890.2 507.0,890.2 507.5,890.2 508.0,890.2 508.5,890.2 509.0,890.2 509.5,890.2 510.0,890.2 510.5,890.1 511.0,890.1 511.5,890.1 512.0,890.1 512.5,890.1 513.0,890.1 513.5,890.1 514.0,890.1 514.5,890.1 515.0,890.1 515.5,890.0 516.0,890.0 516.5,890.0 517.0,890.0 517.5,890.0 518.0,890.0 518.5,890.0 519.0,890.0 519.5,890.0 520.0,890.0 520.5,889.9 521.0,889.9 521.5,889.9 522.0,889.9 522.5,889.9 523.0,889.9 523.5,889.9 524.0,889.9 524.5,889.9 525.0,889.9 525.5,889.8 526.0,889.8 526.5,889.8 527.0,889.8 527.5,889.8 528.0,889.8 528.5,889.8 529.0,889.8 529.5,889.8 530.0,889.8 530.5,889.7 531.0,889.7 531.5,889.7 532.0,889.7 532.5,889.7 533.0,889.7 533.5,889.7 534.0,889.7 534.5,889.7 535.0,889.7 535.5,889.6 536.0,889.6 536.5,889.6 537.0,889.6 537.5,889.6 538.0,889.6 538.5,889.6 539.0,889.6 539.5,889.6 540.0,889.6 540.5,889.5 541.0,889.5 541.5,889.5 542.0,889.5 542.5,889.5 543.0,889.5 543.5,889.5 544.0,889.5 544.5,889.5 545.0,889.5 545.5,889.4 546.0,889.4 546.5,889.4 547.0,889.4 547.5,889.4 548.0,889.4 548.5,889.4 549.0,889.4 549.5,889.4 550.0,889.4 550.5,889.3 551.0,889.3 551.5,889.3 552.0,889.3 552.5,889.3 553.0,889.3 553.5,889.3 554.0,889.3 554.5,889.3 555.0,889.3 555.5,889.2 556.0,889.2 556.5,889.2 557.0,889.2 557.5,889.2 558.0,889.2 558.5,889.2 559.0,889.2 559.5,889.2 560.0,889.2 560.5,889.1 561.0,889.1 561.5,889.1 562.0,889.1 562.5,889.1 563.0,889.1 563.5,889.1 564.0,889.1 564.5,889.1 565.0,889.1 565.5,889.1 566.0,889.1 566.5,889.0 567.0,889.0 567.5,889.0 568.0,889.0 568.5,889.0 569.0,889.0 569.5,889.0 570.0,889.0 570.5,889.0 571.0,889.0 571.5,889.0 572.0,889.0 572.5,889.0 573.0,889.0 573.5,889.0 574.0,888.9 574.5,888.9 575.0,888.9 575.5,888.9 576.0,888.9 576.5,888.9 577.0,888.9 577.5,888.9 578.0,888.9 578.5,888.9 579.0,888.8 579.5,888.8 580.0,888.8 580.5,888.8 581.0,888.8 581.5,888.8 582.0,888.8 582.5,888.8 583.0,888.7 583.5,888.7 584.0,888.7 584.5,888.7 585.0,888.7 585.5,888.6 586.0,888.6 586.5,888.6 587.0,888.6 587.5,888.6 588.0,888.5 588.5,888.5 589.0,888.5 589.5,888.4 590.0,888.4 590.5,888.3 591.0,888.2 591.5,888.1 592.0,887.9 592.5,887.8 593.0,887.7 593.5,887.5 594.0,887.3 594.5,887.2 595.0,887.0 595.5,886.8 596.0,886.6 596.5,886.4 597.0,886.1 597.5,885.8 598.0,885.5 598.5,885.2 599.0,884.8 599.5,884.3 600.0,883.8 600.5,883.3 601.0,882.8 601.5,882.3 602.0,881.7 602.5,881.1 603.0,880.4 603.5,879.8 604.0,879.1 604.5,878.3 605.0,877.4 605.5,876.4 606.0,875.2 606.5,874.0 607.0,872.5 607.5,870.9 608.0,868.5 608.5,865.4 609.0,861.6 609.5,857.5 610.0,852.8 610.5,847.0 611.0,840.5 611.5,833.9 612.0,827.0 612.5,819.9 613.0,812.6 613.5,805.2 614.0,797.6 614.5,790.1 615.0,782.4 615.5,774.7 616.0,767.5 616.5,760.7 617.0,754.2 617.5,749.1 618.0,745.6 618.5,744.4 619.0,746.4 619.5,750.2 620.0,757.2 620.5,769.3 621.0,780.7 621.5,791.5 622.0,801.8 622.5,811.4 623.0,820.5 623.5,829.3 624.0,837.7 624.5,844.6 625.0,850.2 625.5,855.1 626.0,859.2 626.5,862.7 627.0,865.8 627.5,868.4 628.0,870.5 628.5,872.3 629.0,873.9 629.5,875.3 630.0,876.5 630.5,877.6 631.0,878.6 631.5,879.4 632.0,880.1 632.5,880.8 633.0,881.5 633.5,882.0 634.0,882.5 634.5,883.0 635.0,883.3 635.5,883.7 636.0,884.0 636.5,884.4 637.0,884.6 637.5,884.8 638.0,884.9 638.5,884.8 639.0,884.6 639.5,884.3 640.0,883.8 640.5,883.3 641.0,882.3 641.5,880.8 642.0,879.0 642.5,877.2 643.0,875.8 643.5,874.4 644.0,873.0 644.5,871.8 645.0,870.9 645.5,870.4 646.0,870.0 646.5,869.7 647.0,869.6 647.5,869.6 648.0,869.9 648.5,870.2 649.0,870.6 649.5,871.0 650.0,871.7 650.5,872.5 651.0,873.3 651.5,874.2 652.0,875.0 652.5,875.7 653.0,876.3 653.5,877.0 654.0,877.6 654.5,878.2 655.0,878.8 655.5,879.2 656.0,879.6 656.5,879.8 657.0,880.0 657.5,880.2 658.0,880.4 658.5,880.5 659.0,880.7 659.5,880.8 660.0,880.9 660.5,880.9 661.0,880.9 661.5,880.9 662.0,880.9 662.5,880.9 663.0,880.9 663.5,880.9 664.0,880.9 664.5,880.9 665.0,880.9 665.5,880.9 666.0,881.0 666.5,881.1 667.0,881.3 667.5,881.6 668.0,881.9 668.5,882.3 669.0,882.6 669.5,883.0 670.0,883.5 670.5,884.0 671.0,884.6 671.5,885.2 672.0,885.7 672.5,886.2 673.0,886.6 673.5,887.0 674.0,887.5 674.5,887.9 675.0,888.2 675.5,888.4 676.0,888.5 676.5,888.5 677.0,888.3 677.5,888.0 678.0,887.8 678.5,887.5 679.0,887.2 679.5,887.0 680.0,886.9 680.5,886.9 681.0,886.8 681.5,886.8 682.0,886.7 682.5,886.7 683.0,886.6 683.5,886.6 684.0,886.5 684.5,886.5 685.0,886.5 685.5,886.5 686.0,886.5 686.5,886.5 687.0,886.5 687.5,886.5 688.0,886.5 688.5,886.5 689.0,886.5 689.5,886.5 690.0,886.5 690.5,886.5 691.0,886.5 691.5,886.5 692.0,886.5 692.5,886.5 693.0,886.5 693.5,886.6 694.0,886.6 694.5,886.6 695.0,886.6 695.5,886.6 696.0,886.6 696.5,886.6 697.0,886.7 697.5,886.7 698.0,886.7 698.5,886.7 699.0,886.7 699.5,886.7 700.0,886.8 700.5,886.8 701.0,886.8 701.5,886.9 702.0,887.0 702.5,887.1 703.0,887.2 703.5,887.3 704.0,887.4 704.5,887.6 705.0,887.7 705.5,887.9 706.0,888.0 706.5,888.2 707.0,888.4 707.5,888.5 708.0,888.7 708.5,888.8 709.0,888.9 709.5,889.1 710.0,889.2 710.5,889.3 711.0,889.4 711.5,889.5 712.0,889.6 712.5,889.7 713.0,889.8 713.5,889.9 714.0,890.0 714.5,890.1 715.0,890.2 715.5,890.3 716.0,890.4 716.5,890.5 717.0,890.5 717.5,890.6 718.0,890.7 718.5,890.7 719.0,890.7 719.5,890.7 720.0,890.7 720.5,890.8 721.0,890.8 721.5,890.8 722.0,890.8 722.5,890.8 723.0,890.8 723.5,890.8 724.0,890.8 724.5,890.8 725.0,890.9 725.5,890.9 726.0,890.9 726.5,890.9 727.0,890.9 727.5,890.9 728.0,890.9 728.5,890.9 729.0,890.9 729.5,890.9 730.0,890.9 730.5,891.0 731.0,891.0 731.5,891.0 732.0,891.0 732.5,891.0 733.0,891.0 733.5,891.0 734.0,891.0 734.5,891.0 735.0,891.0 735.5,891.0 736.0,891.0 736.5,891.0 737.0,891.0 737.5,891.1 738.0,891.1 738.5,891.1 739.0,891.1 739.5,891.1 740.0,891.1 740.5,891.1 741.0,891.1 741.5,891.1 742.0,891.1 742.5,891.1 743.0,891.1 743.5,891.1 744.0,891.1 744.5,891.1 745.0,891.1 745.5,891.1 746.0,891.1 746.5,891.1 747.0,891.1 747.5,891.1 748.0,891.2 748.5,891.2 749.0,891.2 749.5,891.2 750.0,891.2 750.5,891.2 751.0,891.2 751.5,891.2 752.0,891.2 752.5,891.2 753.0,891.2 753.5,891.2 754.0,891.2 754.5,891.2 755.0,891.2 755.5,891.2 756.0,891.2 756.5,891.2 757.0,891.2 757.5,891.2 758.0,891.2 758.5,891.2 759.0,891.2 759.5,891.2 760.0,891.2 760.5,891.2 761.0,891.2 761.5,891.2 762.0,891.2 762.5,891.2 763.0,891.2 763.5,891.2 764.0,891.2 764.5,891.2 765.0,891.2 765.5,891.2 766.0,891.1 766.5,891.1 767.0,891.0 767.5,890.9 768.0,890.7 768.5,890.6 769.0,890.5 769.5,890.3 770.0,890.2 770.5,890.2 771.0,890.1 771.5,890.1 772.0,890.1 772.5,890.1 773.0,890.1 773.5,890.1 774.0,890.1 774.5,890.1 775.0,890.1 775.5,890.1 776.0,890.1 776.5,890.1 777.0,890.1 777.5,890.1 778.0,890.1 778.5,890.1 779.0,890.1 779.5,890.1 780.0,890.1 780.5,890.1 781.0,890.1 781.5,890.1 782.0,890.1 782.5,890.1 783.0,890.1 783.5,890.1 784.0,890.1 784.5,890.1 785.0,890.1 785.5,890.1 786.0,890.1 786.5,890.1 787.0,890.1 787.5,890.1 788.0,890.1 788.5,890.1 789.0,890.1 789.5,890.1 790.0,890.1 790.5,890.1 791.0,890.1 791.5,890.1 792.0,890.1 792.5,890.1 793.0,890.1 793.5,890.1 794.0,890.1 794.5,890.1 795.0,890.1 795.5,890.1 796.0,890.1 796.5,890.1 797.0,890.1 797.5,890.1 798.0,890.1 798.5,890.1 799.0,890.1 799.5,890.1 800.0,890.1 800.5,890.1 801.0,890.1 801.5,890.1 802.0,890.1 802.5,890.0 803.0,890.0 803.5,890.0 804.0,890.0 804.5,890.0 805.0,890.0 805.5,890.0 806.0,890.0 806.5,890.0 807.0,889.9 807.5,889.9 808.0,889.9 808.5,889.9 809.0,889.9 809.5,889.9 810.0,889.8 810.5,889.8 811.0,889.8 811.5,889.8 812.0,889.8 812.5,889.8 813.0,889.7 813.5,889.7 814.0,889.7 814.5,889.7 815.0,889.7 815.5,889.6 816.0,889.6 816.5,889.6 817.0,889.6 817.5,889.6 818.0,889.5 818.5,889.5 819.0,889.5 819.5,889.5 820.0,889.4 820.5,889.4 821.0,889.4 821.5,889.4 822.0,889.4 822.5,889.3 823.0,889.3 823.5,889.3 824.0,889.3 824.5,889.2 825.0,889.2 825.5,889.2 826.0,889.2 826.5,889.2 827.0,889.1 827.5,889.1 828.0,889.1 828.5,889.1 829.0,889.0 829.5,889.0 830.0,889.0 830.5,889.0 831.0,889.0 831.5,888.9 832.0,888.9 832.5,888.9 833.0,888.9 833.5,888.9 834.0,888.8 834.5,888.8 835.0,888.8 835.5,888.8 836.0,888.8 836.5,888.8 837.0,888.7 837.5,888.7 838.0,888.7 838.5,888.7 839.0,888.7 839.5,888.7 840.0,888.6 840.5,888.6 841.0,888.6 841.5,888.6 842.0,888.6 842.5,888.6 843.0,888.6 843.5,888.6 844.0,888.6 844.5,888.5 845.0,888.5 845.5,888.5 846.0,888.5 846.5,888.5 847.0,888.5 847.5,888.5 848.0,888.5 848.5,888.5 849.0,888.5 849.5,888.5 850.0,888.5 850.5,888.5 851.0,888.5 851.5,888.5 852.0,888.5 852.5,888.5 853.0,888.5 853.5,888.5 854.0,888.5 854.5,888.5 855.0,888.5 855.5,888.6 856.0,888.6 856.5,888.6 857.0,888.6 857.5,888.6 858.0,888.6 858.5,888.6 859.0,888.6 859.5,888.7 860.0,888.7 860.5,888.7 861.0,888.7 861.5,888.7 862.0,888.7 862.5,888.8 863.0,888.8 863.5,888.8 864.0,888.8 864.5,888.8 865.0,888.9 865.5,888.9 866.0,888.9 866.5,888.9 867.0,889.0 867.5,889.0 868.0,889.0 868.5,889.0 869.0,889.1 869.5,889.1 870.0,889.1 870.5,889.1 871.0,889.1 871.5,889.2 872.0,889.2 872.5,889.2 873.0,889.2 873.5,889.3 874.0,889.3 874.5,889.3 875.0,889.3 875.5,889.4 876.0,889.4 876.5,889.4 877.0,889.4 877.5,889.5 878.0,889.5 878.5,889.5 879.0,889.5 879.5,889.6 880.0,889.6 880.5,889.6 881.0,889.6 881.5,889.7 882.0,889.7 882.5,889.7 883.0,889.7 883.5,889.8 884.0,889.8 884.5,889.8 885.0,889.8 885.5,889.8 886.0,889.9 886.5,889.9 887.0,889.9 887.5,889.9 888.0,889.9 888.5,890.0 889.0,890.0 889.5,890.0 890.0,890.0 890.5,890.0 891.0,890.0 891.5,890.0 892.0,890.1 892.5,890.1 893.0,890.1 893.5,890.1 894.0,890.1 894.5,890.1 895.0,890.2 895.5,890.2 896.0,890.2 896.5,890.2 897.0,890.2 897.5,890.2 898.0,890.3 898.5,890.3 899.0,890.3 899.5,890.3 900.0,890.3 900.5,890.3 901.0,890.4 901.5,890.4 902.0,890.4 902.5,890.4 903.0,890.4 903.5,890.4 904.0,890.5 904.5,890.5 905.0,890.5 905.5,890.5 906.0,890.5 906.5,890.5 907.0,890.6 907.5,890.6 908.0,890.6 908.5,890.6 909.0,890.6 909.5,890.6 910.0,890.6 910.5,890.7 911.0,890.7 911.5,890.7 912.0,890.7 912.5,890.7 913.0,890.7 913.5,890.7 914.0,890.8 914.5,890.8 915.0,890.8 915.5,890.8 916.0,890.8 916.5,890.8 917.0,890.8 917.5,890.8 918.0,890.9 918.5,890.9 919.0,890.9 919.5,890.9 920.0,890.9 920.5,890.9 921.0,890.9 921.5,890.9 922.0,890.9 922.5,890.9 923.0,890.9 923.5,891.0 924.0,891.0 924.5,891.0 925.0,891.0 925.5,891.0 926.0,891.0 926.5,891.0 927.0,891.0 927.5,891.0 928.0,891.0 928.5,891.0 929.0,891.0 929.5,891.0 930.0,891.0 930.5,891.0 931.0,891.0 931.5,891.0 932.0,890.9 932.5,890.9 933.0,890.9 933.5,890.8 934.0,890.8 934.5,890.7 935.0,890.6 935.5,890.6 936.0,890.5 936.5,890.4 937.0,890.4 937.5,890.3 938.0,890.2 938.5,890.2 939.0,890.1 939.5,890.1 940.0,890.0 940.5,889.9 941.0,889.9 941.5,889.8 942.0,889.8 942.5,889.7 943.0,889.7 943.5,889.6 944.0,889.6 944.5,889.5 945.0,889.4 945.5,889.4 946.0,889.3 946.5,889.3 947.0,889.2 947.5,889.2 948.0,889.1 948.5,889.0 949.0,889.0 949.5,888.9 950.0,888.9 950.5,888.8 951.0,888.7 951.5,888.7 952.0,888.6 952.5,888.6 953.0,888.5 953.5,888.4 954.0,888.4 954.5,888.3 955.0,888.3 955.5,888.2 956.0,888.1 956.5,888.1 957.0,888.0 957.5,888.0 958.0,887.9 958.5,887.8 959.0,887.8 959.5,887.7 960.0,887.6 960.5,887.6 961.0,887.5 961.5,887.4 962.0,887.4 962.5,887.3 963.0,887.3 963.5,887.2 964.0,887.1 964.5,887.1 965.0,887.0 965.5,886.9 966.0,886.9 966.5,886.8 967.0,886.7 967.5,886.7 968.0,886.6 968.5,886.5 969.0,886.5 969.5,886.4 970.0,886.3 970.5,886.3 971.0,886.2 971.5,886.1 972.0,886.1 972.5,886.0 973.0,885.9 973.5,885.9 974.0,885.8 974.5,885.7 975.0,885.7 975.5,885.6 976.0,885.5 976.5,885.5 977.0,885.4 977.5,885.3 978.0,885.3 978.5,885.2 979.0,885.1 979.5,885.1 980.0,885.0 980.5,884.9 981.0,884.8 981.5,884.8 982.0,884.7 982.5,884.6 983.0,884.6 983.5,884.5 984.0,884.4 984.5,884.3 985.0,884.3 985.5,884.2 986.0,884.1 986.5,884.0 987.0,884.0 987.5,883.9 988.0,883.8 988.5,883.7 989.0,883.7 989.5,883.6 990.0,883.5 990.5,883.4 991.0,883.3 991.5,883.3 992.0,883.2 992.5,883.1 993.0,883.0 993.5,882.9 994.0,882.9 994.5,882.8 995.0,882.7 995.5,882.6 996.0,882.5 996.5,882.5 997.0,882.4 997.5,882.3 998.0,882.2 998.5,882.1 999.0,882.0 999.5,881.9 1000.0,881.9 1000.5,881.8 1001.0,881.7 1001.5,881.6 1002.0,881.5 1002.5,881.4 1003.0,881.3 1003.5,881.2 1004.0,881.1 1004.5,881.1 1005.0,881.0 1005.5,880.9 1006.0,880.8 1006.5,880.7 1007.0,880.6 1007.5,880.5 1008.0,880.4 1008.5,880.3 1009.0,880.2 1009.5,880.1 1010.0,880.0 1010.5,879.9 1011.0,879.8 1011.5,879.7 1012.0,879.6 1012.5,879.5 1013.0,879.4 1013.5,879.3 1014.0,879.2 1014.5,879.1 1015.0,879.0 1015.5,878.9 1016.0,878.8 1016.5,878.7 1017.0,878.6 1017.5,878.4 1018.0,878.3 1018.5,878.1 1019.0,878.0 1019.5,877.8 1020.0,877.5 1020.5,877.3 1021.0,877.0 1021.5,876.7 1022.0,876.6 1022.5,876.5 1023.0,876.6 1023.5,876.9 1024.0,877.3 1024.5,877.7 1025.0,878.3 1025.5,878.9 1026.0,879.5 1026.5,880.1 1027.0,880.6 1027.5,881.0 1028.0,881.4 1028.5,881.7 1029.0,882.1 1029.5,882.5 1030.0,882.8 1030.5,883.2 1031.0,883.6 1031.5,883.9 1032.0,884.3 1032.5,884.6 1033.0,884.9 1033.5,885.2 1034.0,885.5 1034.5,885.8 1035.0,886.0 1035.5,886.2 1036.0,886.3 1036.5,886.4 1037.0,886.5 1037.5,886.5 1038.0,886.5 1038.5,886.5 1039.0,886.5 1039.5,886.5 1040.0,886.5 1040.5,886.5 1041.0,886.4 1041.5,886.4 1042.0,886.4 1042.5,886.4 1043.0,886.4 1043.5,886.4 1044.0,886.3 1044.5,886.3 1045.0,886.3 1045.5,886.3 1046.0,886.2 1046.5,886.2 1047.0,886.2 1047.5,886.1 1048.0,886.1 1048.5,886.1 1049.0,886.0 1049.5,886.0 1050.0,885.9 1050.5,885.9 1051.0,885.9 1051.5,885.8 1052.0,885.8 1052.5,885.7 1053.0,885.7 1053.5,885.6 1054.0,885.6 1054.5,885.5 1055.0,885.5 1055.5,885.5 1056.0,885.4 1056.5,885.4 1057.0,885.3 1057.5,885.3 1058.0,885.2 1058.5,885.2 1059.0,885.1 1059.5,885.1 1060.0,885.0 1060.5,884.9 1061.0,884.9 1061.5,884.8 1062.0,884.7 1062.5,884.7 1063.0,884.6 1063.5,884.5 1064.0,884.4 1064.5,884.3 1065.0,884.2 1065.5,884.1 1066.0,884.0 1066.5,883.9 1067.0,883.8 1067.5,883.7 1068.0,883.6 1068.5,883.5 1069.0,883.3 1069.5,883.2 1070.0,883.1 1070.5,883.0 1071.0,882.9 1071.5,882.8 1072.0,882.6 1072.5,882.5 1073.0,882.4 1073.5,882.3 1074.0,882.2 1074.5,882.1 1075.0,882.0 1075.5,881.9 1076.0,881.8 1076.5,881.7 1077.0,881.5 1077.5,881.4 1078.0,881.3 1078.5,881.1 1079.0,881.0 1079.5,880.9 1080.0,880.8 1080.5,880.6 1081.0,880.5 1081.5,880.4 1082.0,880.3 1082.5,880.2 1083.0,880.1 1083.5,880.1 1084.0,880.0 1084.5,880.0 1085.0,880.0 1085.5,880.0 1086.0,880.0 1086.5,880.0 1087.0,880.0 1087.5,880.0 1088.0,880.0 1088.5,880.1 1089.0,880.1 1089.5,880.1 1090.0,880.1 1090.5,880.1 1091.0,880.2 1091.5,880.2 1092.0,880.2 1092.5,880.3 1093.0,880.3 1093.5,880.3 1094.0,880.4 1094.5,880.4 1095.0,880.5 1095.5,880.5 1096.0,880.6 1096.5,880.6 1097.0,880.7 1097.5,880.7 1098.0,880.8 1098.5,880.8 1099.0,880.9 1099.5,880.9 1100.0,881.0 1100.5,881.1 1101.0,881.2 1101.5,881.4 1102.0,881.6 1102.5,881.8 1103.0,882.0 1103.5,882.2 1104.0,882.4 1104.5,882.5 1105.0,882.5 1105.5,882.5 1106.0,882.4 1106.5,882.3 1107.0,882.1 1107.5,881.9 1108.0,881.6 1108.5,881.4 1109.0,881.1 1109.5,880.8 1110.0,880.5 1110.5,880.2 1111.0,879.9 1111.5,879.6 1112.0,879.4 1112.5,879.1 1113.0,878.9 1113.5,878.7 1114.0,878.6 1114.5,878.5 1115.0,878.5 1115.5,878.5 1116.0,878.5 1116.5,878.6 1117.0,878.7 1117.5,878.8 1118.0,878.9 1118.5,879.0 1119.0,879.2 1119.5,879.3 1120.0,879.5 1120.5,879.6 1121.0,879.8 1121.5,880.0 1122.0,880.1 1122.5,880.3 1123.0,880.5 1123.5,880.6 1124.0,880.7 1124.5,880.9 1125.0,881.0 1125.5,881.1 1126.0,881.2 1126.5,881.3 1127.0,881.5 1127.5,881.6 1128.0,881.7 1128.5,881.8 1129.0,881.9 1129.5,882.0 1130.0,882.1 1130.5,882.3 1131.0,882.4 1131.5,882.5 1132.0,882.6 1132.5,882.7 1133.0,882.8 1133.5,883.0 1134.0,883.1 1134.5,883.2 1135.0,883.3 1135.5,883.4 1136.0,883.5 1136.5,883.6 1137.0,883.7 1137.5,883.8 1138.0,883.9 1138.5,884.1 1139.0,884.2 1139.5,884.3 1140.0,884.4 1140.5,884.5 1141.0,884.6 1141.5,884.7 1142.0,884.8 1142.5,884.8 1143.0,884.9 1143.5,885.0 1144.0,885.1 1144.5,885.2 1145.0,885.3 1145.5,885.4 1146.0,885.4 1146.5,885.5 1147.0,885.6 1147.5,885.7 1148.0,885.7 1148.5,885.8 1149.0,885.9 1149.5,885.9 1150.0,886.0 1150.5,886.1 1151.0,886.1 1151.5,886.2 1152.0,886.2 1152.5,886.3 1153.0,886.4 1153.5,886.4 1154.0,886.5 1154.5,886.5 1155.0,886.6 1155.5,886.6 1156.0,886.7 1156.5,886.8 1157.0,886.8 1157.5,886.9 1158.0,886.9 1158.5,887.0 1159.0,887.0 1159.5,887.1 1160.0,887.1 1160.5,887.2 1161.0,887.3 1161.5,887.3 1162.0,887.4 1162.5,887.4 1163.0,887.5 1163.5,887.5 1164.0,887.6 1164.5,887.6 1165.0,887.7 1165.5,887.7 1166.0,887.8 1166.5,887.8 1167.0,887.9 1167.5,887.9 1168.0,888.0 1168.5,888.0 1169.0,888.1 1169.5,888.1 1170.0,888.2 1170.5,888.2 1171.0,888.3 1171.5,888.3 1172.0,888.4 1172.5,888.4 1173.0,888.5 1173.5,888.5 1174.0,888.5 1174.5,888.6 1175.0,888.6 1175.5,888.7 1176.0,888.7 1176.5,888.7 1177.0,888.8 1177.5,888.8 1178.0,888.8 1178.5,888.9 1179.0,888.9 1179.5,888.9 1180.0,889.0 1180.5,889.0 1181.0,889.0 1181.5,889.1 1182.0,889.1 1182.5,889.1 1183.0,889.2 1183.5,889.2 1184.0,889.2 1184.5,889.2 1185.0,889.3 1185.5,889.3 1186.0,889.3 1186.5,889.3 1187.0,889.3 1187.5,889.4 1188.0,889.4 1188.5,889.4 1189.0,889.4 1189.5,889.4 1190.0,889.4 1190.5,889.4 1191.0,889.5 1191.5,889.5 1192.0,889.5 1192.5,889.5 1193.0,889.5 1193.5,889.5 1194.0,889.5 1194.5,889.5 1195.0,889.5 1195.5,889.5 1196.0,889.5 1196.5,889.5 1197.0,889.5 1197.5,889.5 1198.0,889.5 1198.5,889.5 1199.0,889.5 1199.5,889.5 1200.0,889.5 1200.5,889.5 1201.0,889.5 1201.5,889.5 1202.0,889.4 1202.5,889.4 1203.0,889.4 1203.5,889.4 1204.0,889.4 1204.5,889.4 1205.0,889.4 1205.5,889.4 1206.0,889.4 1206.5,889.4 1207.0,889.4 1207.5,889.3 1208.0,889.3 1208.5,889.3 1209.0,889.3 1209.5,889.3 1210.0,889.3 1210.5,889.3 1211.0,889.3 1211.5,889.2 1212.0,889.2 1212.5,889.2 1213.0,889.2 1213.5,889.2 1214.0,889.2 1214.5,889.2 1215.0,889.1 1215.5,889.1 1216.0,889.1 1216.5,889.1 1217.0,889.1 1217.5,889.1 1218.0,889.0 1218.5,889.0 1219.0,889.0 1219.5,889.0 1220.0,889.0 1220.5,889.0 1221.0,888.9 1221.5,888.9 1222.0,888.9 1222.5,888.9 1223.0,888.9 1223.5,888.9 1224.0,888.8 1224.5,888.8 1225.0,888.8 1225.5,888.8 1226.0,888.8 1226.5,888.8 1227.0,888.7 1227.5,888.7 1228.0,888.7 1228.5,888.7 1229.0,888.7 1229.5,888.7 1230.0,888.7 1230.5,888.6 1231.0,888.6 1231.5,888.6 1232.0,888.6 1232.5,888.6 1233.0,888.6 1233.5,888.5 1234.0,888.5 1234.5,888.5 1235.0,888.5 1235.5,888.5 1236.0,888.5 1236.5,888.5 1237.0,888.4 1237.5,888.4 1238.0,888.4 1238.5,888.4 1239.0,888.4 1239.5,888.4 1240.0,888.3 1240.5,888.3 1241.0,888.3 1241.5,888.3 1242.0,888.3 1242.5,888.3 1243.0,888.2 1243.5,888.2 1244.0,888.2 1244.5,888.2 1245.0,888.2 1245.5,888.1 1246.0,888.1 1246.5,888.1 1247.0,888.1 1247.5,888.1 1248.0,888.0 1248.5,888.0 1249.0,888.0 1249.5,888.0 1250.0,887.9 1250.5,887.9 1251.0,887.9 1251.5,887.9 1252.0,887.9 1252.5,887.8 1253.0,887.8 1253.5,887.8 1254.0,887.8 1254.5,887.8 1255.0,887.7 1255.5,887.7 1256.0,887.7 1256.5,887.7 1257.0,887.6 1257.5,887.6 1258.0,887.6 1258.5,887.6 1259.0,887.6 1259.5,887.5 1260.0,887.5 1260.5,887.5 1261.0,887.5 1261.5,887.4 1262.0,887.4 1262.5,887.4 1263.0,887.4 1263.5,887.4 1264.0,887.3 1264.5,887.3 1265.0,887.3 1265.5,887.3 1266.0,887.2 1266.5,887.2 1267.0,887.2 1267.5,887.2 1268.0,887.2 1268.5,887.1 1269.0,887.1 1269.5,887.1 1270.0,887.1 1270.5,887.1 1271.0,887.0 1271.5,887.0 1272.0,887.0 1272.5,887.0 1273.0,887.0 1273.5,886.9 1274.0,886.9 1274.5,886.9 1275.0,886.9 1275.5,886.9 1276.0,886.9 1276.5,886.8 1277.0,886.8 1277.5,886.8 1278.0,886.8 1278.5,886.8 1279.0,886.8 1279.5,886.7 1280.0,886.7 1280.5,886.7 1281.0,886.7 1281.5,886.7 1282.0,886.7 1282.5,886.7 1283.0,886.7 1283.5,886.6 1284.0,886.6 1284.5,886.6 1285.0,886.6 1285.5,886.6 1286.0,886.6 1286.5,886.6 1287.0,886.6 1287.5,886.6 1288.0,886.6 1288.5,886.5 1289.0,886.5 1289.5,886.5 1290.0,886.5 1290.5,886.5 1291.0,886.5 1291.5,886.5 1292.0,886.5 1292.5,886.5 1293.0,886.5 1293.5,886.5 1294.0,886.5 1294.5,886.5 1295.0,886.5 1295.5,886.5 1296.0,886.5 1296.5,886.5 1297.0,886.5 1297.5,886.5 1298.0,886.5 1298.5,886.6 1299.0,886.6 1299.5,886.6 1300.0,886.6 1300.5,886.6 1301.0,886.7 1301.5,886.7 1302.0,886.7 1302.5,886.7 1303.0,886.8 1303.5,886.8 1304.0,886.8 1304.5,886.9 1305.0,886.9 1305.5,886.9 1306.0,887.0 1306.5,887.0 1307.0,887.0 1307.5,887.1 1308.0,887.1 1308.5,887.2 1309.0,887.2 1309.5,887.2 1310.0,887.3 1310.5,887.3 1311.0,887.4 1311.5,887.4 1312.0,887.5 1312.5,887.5 1313.0,887.6 1313.5,887.6 1314.0,887.7 1314.5,887.7 1315.0,887.8 1315.5,887.8 1316.0,887.8 1316.5,887.9 1317.0,887.9 1317.5,888.0 1318.0,888.0 1318.5,888.1 1319.0,888.1 1319.5,888.2 1320.0,888.2 1320.5,888.3 1321.0,888.3 1321.5,888.3 1322.0,888.4 1322.5,888.4 1323.0,888.5 1323.5,888.5 1324.0,888.5 1324.5,888.6 1325.0,888.6 1325.5,888.6 1326.0,888.7 1326.5,888.7 1327.0,888.7 1327.5,888.8 1328.0,888.8 1328.5,888.8 1329.0,888.8 1329.5,888.9 1330.0,888.9 1330.5,888.9 1331.0,888.9 1331.5,888.9 1332.0,889.0 1332.5,889.0 1333.0,889.0 1333.5,889.0 1334.0,889.0 1334.5,889.0 1335.0,889.0 1335.5,889.0 1336.0,889.0 1336.5,889.0 1337.0,889.0 1337.5,889.0 1338.0,889.0 1338.5,889.0 1339.0,889.0 1339.5,889.0 1340.0,889.0 1340.5,889.0 1341.0,889.0 1341.5,889.0 1342.0,888.9 1342.5,888.9 1343.0,888.9 1343.5,888.9 1344.0,888.9 1344.5,888.9 1345.0,888.9 1345.5,888.9 1346.0,888.9 1346.5,888.8 1347.0,888.8 1347.5,888.8 1348.0,888.8 1348.5,888.8 1349.0,888.8 1349.5,888.8 1350.0,888.7 1350.5,888.7 1351.0,888.7 1351.5,888.7 1352.0,888.7 1352.5,888.7 1353.0,888.6 1353.5,888.6 1354.0,888.6 1354.5,888.6 1355.0,888.5 1355.5,888.5 1356.0,888.5 1356.5,888.5 1357.0,888.5 1357.5,888.4 1358.0,888.4 1358.5,888.4 1359.0,888.4 1359.5,888.3 1360.0,888.3 1360.5,888.3 1361.0,888.2 1361.5,888.2 1362.0,888.2 1362.5,888.2 1363.0,888.1 1363.5,888.1 1364.0,888.1 1364.5,888.0 1365.0,888.0 1365.5,888.0 1366.0,887.9 1366.5,887.9 1367.0,887.8 1367.5,887.7 1368.0,887.7 1368.5,887.6 1369.0,887.5 1369.5,887.4 1370.0,887.3 1370.5,887.2 1371.0,887.1 1371.5,887.0 1372.0,886.9 1372.5,886.7 1373.0,886.6 1373.5,886.5 1374.0,886.3 1374.5,886.2 1375.0,886.0 1375.5,885.8 1376.0,885.5 1376.5,885.2 1377.0,884.8 1377.5,884.4 1378.0,883.9 1378.5,883.4 1379.0,883.0 1379.5,882.5 1380.0,882.1 1380.5,881.8 1381.0,881.4 1381.5,881.2 1382.0,881.1 1382.5,881.0 1383.0,881.0 1383.5,881.1 1384.0,881.3 1384.5,881.5 1385.0,881.8 1385.5,882.1 1386.0,882.4 1386.5,882.6 1387.0,882.9 1387.5,883.2 1388.0,883.5 1388.5,883.7 1389.0,883.9 1389.5,884.0 1390.0,884.0 1390.5,883.9 1391.0,883.5 1391.5,883.0 1392.0,882.3 1392.5,881.5 1393.0,880.6 1393.5,879.7 1394.0,878.9 1394.5,878.1 1395.0,877.5 1395.5,876.9 1396.0,876.3 1396.5,875.6 1397.0,874.9 1397.5,874.3 1398.0,873.6 1398.5,873.1 1399.0,872.6 1399.5,872.1 1400.0,871.8 1400.5,871.6 1401.0,871.5 1401.5,871.5 1402.0,871.7 1402.5,871.9 1403.0,872.1 1403.5,872.5 1404.0,872.8 1404.5,873.3 1405.0,873.7 1405.5,874.1 1406.0,874.6 1406.5,875.1 1407.0,875.6 1407.5,876.0 1408.0,876.5 1408.5,877.1 1409.0,877.7 1409.5,878.4 1410.0,879.1 1410.5,879.9 1411.0,880.6 1411.5,881.4 1412.0,882.1 1412.5,882.8 1413.0,883.4 1413.5,884.0 1414.0,884.4 1414.5,884.8 1415.0,885.0 1415.5,885.2 1416.0,885.3 1416.5,885.4 1417.0,885.6 1417.5,885.7 1418.0,885.8 1418.5,885.9 1419.0,886.1 1419.5,886.2 1420.0,886.2 1420.5,886.3 1421.0,886.4 1421.5,886.5 1422.0,886.5 1422.5,886.6 1423.0,886.6 1423.5,886.7 1424.0,886.7 1424.5,886.7 1425.0,886.8 1425.5,886.8 1426.0,886.8 1426.5,886.8 1427.0,886.8 1427.5,886.8 1428.0,886.8 1428.5,886.8 1429.0,886.8 1429.5,886.8 1430.0,886.8 1430.5,886.8 1431.0,886.8 1431.5,886.8 1432.0,886.8 1432.5,886.8 1433.0,886.7 1433.5,886.7 1434.0,886.7 1434.5,886.7 1435.0,886.7 1435.5,886.6 1436.0,886.6 1436.5,886.6 1437.0,886.5 1437.5,886.5 1438.0,886.5 1438.5,886.4 1439.0,886.4 1439.5,886.3 1440.0,886.3 1440.5,886.2 1441.0,886.2 1441.5,886.1 1442.0,886.1 1442.5,886.0 1443.0,886.0 1443.5,885.9 1444.0,885.9 1444.5,885.8 1445.0,885.7 1445.5,885.6 1446.0,885.5 1446.5,885.4 1447.0,885.3 1447.5,885.2 1448.0,885.0 1448.5,884.9 1449.0,884.7 1449.5,884.6 1450.0,884.4 1450.5,884.2 1451.0,884.0 1451.5,883.8 1452.0,883.6 1452.5,883.4 1453.0,883.2 1453.5,883.0 1454.0,882.8 1454.5,882.6 1455.0,882.4 1455.5,882.1 1456.0,881.9 1456.5,881.6 1457.0,881.4 1457.5,881.1 1458.0,880.8 1458.5,880.5 1459.0,880.1 1459.5,879.8 1460.0,879.4 1460.5,879.1 1461.0,878.7 1461.5,878.2 1462.0,877.8 1462.5,877.3 1463.0,876.9 1463.5,876.3 1464.0,875.8 1464.5,875.3 1465.0,874.7 1465.5,874.0 1466.0,873.3 1466.5,872.6 1467.0,871.7 1467.5,870.8 1468.0,869.8 1468.5,868.7 1469.0,867.4 1469.5,866.1 1470.0,864.6 1470.5,863.0 1471.0,860.8 1471.5,858.0 1472.0,854.3 1472.5,849.6 1473.0,841.9 1473.5,830.2 1474.0,816.6 1474.5,799.7 1475.0,779.6 1475.5,759.0 1476.0,737.2 1476.5,712.5 1477.0,679.2 1477.5,643.6 1478.0,622.6 1478.5,607.6 1479.0,594.4 1479.5,591.9 1480.0,602.5 1480.5,617.2 1481.0,638.5 1481.5,670.9 1482.0,707.0 1482.5,739.0 1483.0,767.1 1483.5,786.0 1484.0,801.4 1484.5,812.6 1485.0,818.4 1485.5,822.2 1486.0,825.3 1486.5,827.7 1487.0,829.5 1487.5,831.0 1488.0,832.3 1488.5,833.5 1489.0,834.5 1489.5,835.5 1490.0,836.2 1490.5,836.6 1491.0,836.8 1491.5,836.8 1492.0,836.6 1492.5,836.4 1493.0,836.2 1493.5,835.8 1494.0,835.5 1494.5,835.0 1495.0,834.5 1495.5,834.0 1496.0,833.5 1496.5,832.9 1497.0,832.3 1497.5,831.7 1498.0,831.1 1498.5,830.5 1499.0,829.9 1499.5,829.3 1500.0,828.7 1500.5,828.2 1501.0,827.7 1501.5,827.2 1502.0,826.7 1502.5,826.3 1503.0,825.8 1503.5,825.3 1504.0,824.8 1504.5,824.3 1505.0,823.8 1505.5,823.3 1506.0,822.8 1506.5,822.3 1507.0,821.8 1507.5,821.3 1508.0,820.8 1508.5,820.3 1509.0,819.8 1509.5,819.3 1510.0,818.8 1510.5,818.3 1511.0,817.8 1511.5,817.3 1512.0,816.8 1512.5,816.3 1513.0,815.8 1513.5,815.3 1514.0,814.8 1514.5,814.4 1515.0,813.9 1515.5,813.4 1516.0,813.0 1516.5,812.5 1517.0,812.0 1517.5,811.5 1518.0,811.1 1518.5,810.6 1519.0,810.1 1519.5,809.6 1520.0,809.2 1520.5,808.7 1521.0,808.2 1521.5,807.7 1522.0,807.2 1522.5,806.7 1523.0,806.1 1523.5,805.6 1524.0,805.1 1524.5,804.5 1525.0,803.9 1525.5,803.4 1526.0,802.8 1526.5,802.2 1527.0,801.6 1527.5,801.0 1528.0,800.4 1528.5,799.8 1529.0,799.1 1529.5,798.5 1530.0,797.9 1530.5,797.2 1531.0,796.5 1531.5,795.8 1532.0,795.1 1532.5,794.3 1533.0,793.5 1533.5,792.7 1534.0,791.9 1534.5,791.0 1535.0,790.1 1535.5,789.2 1536.0,788.2 1536.5,787.1 1537.0,786.0 1537.5,784.7 1538.0,783.4 1538.5,782.1 1539.0,780.7 1539.5,779.2 1540.0,777.7 1540.5,776.2 1541.0,774.6 1541.5,773.0 1542.0,771.4 1542.5,769.7 1543.0,768.0 1543.5,766.2 1544.0,764.3 1544.5,762.4 1545.0,760.3 1545.5,758.1 1546.0,755.9 1546.5,753.5 1547.0,751.0 1547.5,748.2 1548.0,745.3 1548.5,742.2 1549.0,738.9 1549.5,735.4 1550.0,731.7 1550.5,727.9 1551.0,723.8 1551.5,719.3 1552.0,714.4 1552.5,709.2 1553.0,703.7 1553.5,698.0 1554.0,692.1 1554.5,685.9 1555.0,679.5 1555.5,672.8 1556.0,666.0 1556.5,659.0 1557.0,651.8 1557.5,644.4 1558.0,636.8 1558.5,629.1 1559.0,621.2 1559.5,613.1 1560.0,604.8 1560.5,596.5 1561.0,588.5 1561.5,580.6 1562.0,572.7 1562.5,564.9 1563.0,557.2 1563.5,550.0 1564.0,543.3 1564.5,537.4 1565.0,531.9 1565.5,526.8 1566.0,522.0 1566.5,517.6 1567.0,513.4 1567.5,509.4 1568.0,505.4 1568.5,501.7 1569.0,498.7 1569.5,496.7 1570.0,495.1 1570.5,493.8 1571.0,492.9 1571.5,492.6 1572.0,492.4 1572.5,492.3 1573.0,492.2 1573.5,492.2 1574.0,492.1 1574.5,492.1 1575.0,492.0 1575.5,492.0 1576.0,492.0 1576.5,492.1 1577.0,492.4 1577.5,492.8 1578.0,493.2 1578.5,493.8 1579.0,494.3 1579.5,494.7 1580.0,495.1 1580.5,495.4 1581.0,495.5 1581.5,495.4 1582.0,495.0 1582.5,494.4 1583.0,493.6 1583.5,492.8 1584.0,491.9 1584.5,491.0 1585.0,490.1 1585.5,489.0 1586.0,487.7 1586.5,486.4 1587.0,484.9 1587.5,483.4 1588.0,481.8 1588.5,480.1 1589.0,478.2 1589.5,476.2 1590.0,473.9 1590.5,471.2 1591.0,468.2 1591.5,464.5 1592.0,460.0 1592.5,454.9 1593.0,449.2 1593.5,442.9 1594.0,436.2 1594.5,429.1 1595.0,421.7 1595.5,414.0 1596.0,405.8 1596.5,396.5 1597.0,386.4 1597.5,375.4 1598.0,363.5 1598.5,350.8 1599.0,336.8 1599.5,320.2 1600.0,302.2 1600.5,284.0 1601.0,266.4 1601.5,248.0 1602.0,230.0 1602.5,214.0 1603.0,201.1 1603.5,190.3 1604.0,180.6 1604.5,170.9 1605.0,160.7 1605.5,159.4 1606.0,168.5 1606.5,178.9 1607.0,189.4 1607.5,202.3 1608.0,220.8 1608.5,248.3 1609.0,277.0 1609.5,302.8 1610.0,328.9 1610.5,357.3 1611.0,388.7 1611.5,420.2 1612.0,452.0 1612.5,478.4 1613.0,499.5 1613.5,518.7 1614.0,538.5 1614.5,560.6 1615.0,583.3 1615.5,603.5 1616.0,620.0 1616.5,635.0 1617.0,648.6 1617.5,661.3 1618.0,673.2 1618.5,684.6 1619.0,695.5 1619.5,705.9 1620.0,715.9 1620.5,725.3 1621.0,734.1 1621.5,742.4 1622.0,750.3 1622.5,758.1 1623.0,765.8 1623.5,773.1 1624.0,780.0 1624.5,786.3 1625.0,791.8 1625.5,796.5 1626.0,800.2 1626.5,803.5 1627.0,806.5 1627.5,809.3 1628.0,811.8 1628.5,814.2 1629.0,816.4 1629.5,818.4 1630.0,820.4 1630.5,822.3 1631.0,824.1 1631.5,825.9 1632.0,827.8 1632.5,829.6 1633.0,831.3 1633.5,833.0 1634.0,834.6 1634.5,836.2 1635.0,837.7 1635.5,839.2 1636.0,840.6 1636.5,842.0 1637.0,843.4 1637.5,844.7 1638.0,846.0 1638.5,847.3 1639.0,848.5 1639.5,849.7 1640.0,850.9 1640.5,852.1 1641.0,853.3 1641.5,854.5 1642.0,855.6 1642.5,856.7 1643.0,857.7 1643.5,858.6 1644.0,859.5 1644.5,860.3 1645.0,861.0 1645.5,861.7 1646.0,862.4 1646.5,863.0 1647.0,863.7 1647.5,864.3 1648.0,864.9 1648.5,865.5 1649.0,866.0 1649.5,866.4 1650.0,866.8 1650.5,867.1 1651.0,867.2 1651.5,867.3 1652.0,867.3 1652.5,867.2 1653.0,867.1 1653.5,867.0 1654.0,866.8 1654.5,866.6 1655.0,866.3 1655.5,866.0 1656.0,865.7 1656.5,865.4 1657.0,865.1 1657.5,864.7 1658.0,864.3 1658.5,863.9 1659.0,863.5 1659.5,863.0 1660.0,862.4 1660.5,861.7 1661.0,860.9 1661.5,860.0 1662.0,859.0 1662.5,857.9 1663.0,856.8 1663.5,855.6 1664.0,854.3 1664.5,853.0 1665.0,851.5 1665.5,849.8 1666.0,847.8 1666.5,845.6 1667.0,843.3 1667.5,840.9 1668.0,838.5 1668.5,836.1 1669.0,833.7 1669.5,831.4 1670.0,829.2 1670.5,826.8 1671.0,824.2 1671.5,821.6 1672.0,819.2 1672.5,816.9 1673.0,814.8 1673.5,813.2 1674.0,812.0 1674.5,811.1 1675.0,810.2 1675.5,809.4 1676.0,808.7 1676.5,808.1 1677.0,807.6 1677.5,807.2 1678.0,807.0 1678.5,807.0 1679.0,807.4 1679.5,808.2 1680.0,809.3 1680.5,810.5 1681.0,811.9 1681.5,813.2 1682.0,814.5 1682.5,816.1 1683.0,818.0 1683.5,820.0 1684.0,821.9 1684.5,823.6 1685.0,825.1 1685.5,826.1 1686.0,827.1 1686.5,828.1 1687.0,828.9 1687.5,829.6 1688.0,829.9 1688.5,830.0 1689.0,829.6 1689.5,828.8 1690.0,827.8 1690.5,826.5 1691.0,825.1 1691.5,823.6 1692.0,822.0 1692.5,820.2 1693.0,818.1 1693.5,815.6 1694.0,812.7 1694.5,809.5 1695.0,805.9 1695.5,802.0 1696.0,797.0 1696.5,790.8 1697.0,783.7 1697.5,776.6 1698.0,769.3 1698.5,761.4 1699.0,753.3 1699.5,745.1 1700.0,737.1 1700.5,729.3 1701.0,721.9 1701.5,714.6 1702.0,707.3 1702.5,700.0 1703.0,692.4 1703.5,684.4 1704.0,676.0 1704.5,667.0 1705.0,657.3 1705.5,647.1 1706.0,636.1 1706.5,624.4 1707.0,611.9 1707.5,598.5 1708.0,583.7 1708.5,567.3 1709.0,549.4 1709.5,530.0 1710.0,508.6 1710.5,484.5 1711.0,456.0 1711.5,422.7 1712.0,396.1 1712.5,375.7 1713.0,357.2 1713.5,337.0 1714.0,311.6 1714.5,285.1 1715.0,265.3 1715.5,251.5 1716.0,240.2 1716.5,229.9 1717.0,218.9 1717.5,217.4 1718.0,227.4 1718.5,238.3 1719.0,250.2 1719.5,268.5 1720.0,317.0 1720.5,359.7 1721.0,392.6 1721.5,425.4 1722.0,457.6 1722.5,483.1 1723.0,501.6 1723.5,520.6 1724.0,549.3 1724.5,586.8 1725.0,612.3 1725.5,632.1 1726.0,649.0 1726.5,664.1 1727.0,678.3 1727.5,691.5 1728.0,703.9 1728.5,715.3 1729.0,725.8 1729.5,735.5 1730.0,744.7 1730.5,753.5 1731.0,761.7 1731.5,768.9 1732.0,774.7 1732.5,779.1 1733.0,783.0 1733.5,786.6 1734.0,789.8 1734.5,792.7 1735.0,795.3 1735.5,797.7 1736.0,800.0 1736.5,802.1 1737.0,804.0 1737.5,805.8 1738.0,807.5 1738.5,809.1 1739.0,810.6 1739.5,812.1 1740.0,813.4 1740.5,814.7 1741.0,815.9 1741.5,817.1 1742.0,818.3 1742.5,819.5 1743.0,820.7 1743.5,821.9 1744.0,823.2 1744.5,824.5 1745.0,825.9 1745.5,827.5 1746.0,829.1 1746.5,830.8 1747.0,832.6 1747.5,834.3 1748.0,835.9 1748.5,837.4 1749.0,838.7 1749.5,839.9 1750.0,840.7 1750.5,841.3 1751.0,841.6 1751.5,841.5 1752.0,841.0 1752.5,840.3 1753.0,839.4 1753.5,838.2 1754.0,836.9 1754.5,835.5 1755.0,834.0 1755.5,832.0 1756.0,829.4 1756.5,826.2 1757.0,823.0 1757.5,819.9 1758.0,817.2 1758.5,814.5 1759.0,811.6 1759.5,808.9 1760.0,806.8 1760.5,805.7 1761.0,805.6 1761.5,805.7 1762.0,805.7 1762.5,805.8 1763.0,806.0 1763.5,806.1 1764.0,806.3 1764.5,806.5 1765.0,806.7 1765.5,807.0 1766.0,807.4 1766.5,807.9 1767.0,808.4 1767.5,808.9 1768.0,809.4 1768.5,809.9 1769.0,810.5 1769.5,811.2 1770.0,811.9 1770.5,812.7 1771.0,813.5 1771.5,814.2 1772.0,815.0 1772.5,815.8 1773.0,816.7 1773.5,817.7 1774.0,818.5 1774.5,819.2 1775.0,819.7 1775.5,820.0 1776.0,820.3 1776.5,820.6 1777.0,820.8 1777.5,821.0 1778.0,821.0 1778.5,820.7 1779.0,819.8 1779.5,818.6 1780.0,817.5 1780.5,816.6 1781.0,816.3 1781.5,817.5 1782.0,820.3 1782.5,823.9 1783.0,827.5 1783.5,832.1 1784.0,836.7 1784.5,840.2 1785.0,843.5 1785.5,846.7 1786.0,849.6 1786.5,852.2 1787.0,854.2 1787.5,855.6 1788.0,856.4 1788.5,857.1 1789.0,857.7 1789.5,858.2 1790.0,858.7 1790.5,859.0 1791.0,859.2 1791.5,859.3 1792.0,859.3 1792.5,859.4 1793.0,859.4 1793.5,859.4 1794.0,859.4 1794.5,859.4 1795.0,859.4 1795.5,859.4 1796.0,859.5 1796.5,859.5 1797.0,859.5 1797.5,859.5 1798.0,859.6 1798.5,859.6 1799.0,859.7 1799.5,859.8 1800.0,859.9 1800.5,860.0 1801.0,860.0 1801.5,860.1 1802.0,860.2 1802.5,860.3 1803.0,860.4 1803.5,860.5 1804.0,860.5 1804.5,860.6 1805.0,860.7 1805.5,860.8 1806.0,860.9 1806.5,860.9 1807.0,861.0 1807.5,861.1 1808.0,861.2 1808.5,861.3 1809.0,861.3 1809.5,861.4 1810.0,861.5 1810.5,861.6 1811.0,861.7 1811.5,861.8 1812.0,861.9 1812.5,861.9 1813.0,862.0 1813.5,862.1 1814.0,862.2 1814.5,862.3"/>
<path d="M404,78.5 L565,78.5" stroke="#595959" stroke-width="6.6" stroke-linecap="round" fill="none"/>
<text class="lg" x="582" y="104.0" style="font-size:83.5px">sample 1 (A22-0%)</text>
<path d="M404,177.3 L565,177.3" stroke="#ff0000" stroke-width="6.6" stroke-linecap="round" fill="none"/>
<text class="lg" x="582" y="202.8" style="font-size:83.5px">Sample 3 (P22-0%)</text>
<path d="M404,276.1 L565,276.1" stroke="#00ff00" stroke-width="6.6" stroke-linecap="round" fill="none"/>
<text class="lg" x="582" y="301.6" style="font-size:83.5px">Sample 5 (A180-0%)</text>
<path d="M404,374.9 L565,374.9" stroke="#0000ff" stroke-width="6.6" stroke-linecap="round" fill="none"/>
<text class="lg" x="582" y="400.4" style="font-size:83.5px">Sample 7 (P180-0%)</text>
<text class="pl" x="1853" y="100">(a)</text>
<text class="an" transform="translate(1581.5,138.2) scale(0.96,1)" text-anchor="end">1015</text>
<text class="an" transform="translate(1742.5,211.5) scale(0.96,1)" text-anchor="start">795</text>
<text class="an" transform="translate(1534,372.5) scale(0.96,1)" text-anchor="end">1085</text>
<text class="an" transform="translate(1433,541) scale(0.96,1)" text-anchor="end">1256</text>
<text class="an" transform="translate(593.5,710.4) scale(0.96,1)" text-anchor="end">2964</text>
<use href="#arrow" x="1602.5" y="42.7"/>
<use href="#arrow" x="1720" y="103"/>
<use href="#arrow" x="1569.4" y="368.5"/>
<use href="#arrow" x="1476.2" y="465.5"/>
<use href="#arrow" x="619" y="619"/>
<text class="ti" transform="translate(97.6,805.5) rotate(-90)" text-anchor="middle">Absorbance</text>
</g>
<g id="panel-b">
<path class="ax" stroke-width="7.2" d="M412.3,1627.5 L412.3,2839.6"/>
<path class="ax" stroke-width="7.7" d="M387,2821.0 L1805.2,2821.0"/>
<path class="ax" stroke-width="6.9" d="M387,1628.0 L415.90000000000003,1628.0"/>
<text class="tk" x="340.5" y="1653.5" text-anchor="end">0.7</text>
<path class="ax" stroke-width="6.9" d="M387,1798.4 L412.3,1798.4"/>
<text class="tk" x="340.5" y="1823.9" text-anchor="end">0.6</text>
<path class="ax" stroke-width="6.9" d="M387,1968.9 L412.3,1968.9"/>
<text class="tk" x="340.5" y="1994.4" text-anchor="end">0.5</text>
<path class="ax" stroke-width="6.9" d="M387,2139.3 L412.3,2139.3"/>
<text class="tk" x="340.5" y="2164.8" text-anchor="end">0.4</text>
<path class="ax" stroke-width="6.9" d="M387,2309.7 L412.3,2309.7"/>
<text class="tk" x="340.5" y="2335.2" text-anchor="end">0.3</text>
<path class="ax" stroke-width="6.9" d="M387,2480.1 L412.3,2480.1"/>
<text class="tk" x="340.5" y="2505.6" text-anchor="end">0.2</text>
<path class="ax" stroke-width="6.9" d="M387,2650.6 L412.3,2650.6"/>
<text class="tk" x="340.5" y="2676.1" text-anchor="end">0.1</text>
<text class="tk" x="340.5" y="2846.5" text-anchor="end">0.0</text>
<path class="ax" stroke-width="7.5" d="M610.8,2821.0 L610.8,2845.6"/>
<path class="ax" stroke-width="7.5" d="M809.2,2821.0 L809.2,2839.6"/>
<path class="ax" stroke-width="7.5" d="M1007.7,2821.0 L1007.7,2845.6"/>
<path class="ax" stroke-width="7.5" d="M1206.1,2821.0 L1206.1,2839.6"/>
<path class="ax" stroke-width="7.5" d="M1404.6,2821.0 L1404.6,2845.6"/>
<path class="ax" stroke-width="7.5" d="M1603.0,2821.0 L1603.0,2839.6"/>
<path class="ax" stroke-width="7.5" d="M1801.5,2821.0 L1801.5,2845.6"/>
<text class="tk" x="610.8" y="2944" text-anchor="middle">3500</text>
<text class="tk" x="1007.7" y="2944" text-anchor="middle">2500</text>
<text class="tk" x="1404.6" y="2944" text-anchor="middle">1500</text>
<text class="tk" x="1801.5" y="2944" text-anchor="middle">500</text>
<path class="cv" stroke="#ff6600" d="M412.0,2803.8 412.5,2803.8 413.0,2803.8 413.5,2803.8 414.0,2803.8 414.5,2803.8 415.0,2803.8 415.5,2803.8 416.0,2803.7 416.5,2803.7 417.0,2803.7 417.5,2803.7 418.0,2803.7 418.5,2803.7 419.0,2803.7 419.5,2803.7 420.0,2803.7 420.5,2803.7 421.0,2803.7 421.5,2803.7 422.0,2803.7 422.5,2803.7 423.0,2803.7 423.5,2803.7 424.0,2803.7 424.5,2803.7 425.0,2803.7 425.5,2803.7 426.0,2803.6 426.5,2803.6 427.0,2803.6 427.5,2803.6 428.0,2803.6 428.5,2803.6 429.0,2803.6 429.5,2803.6 430.0,2803.6 430.5,2803.6 431.0,2803.6 431.5,2803.6 432.0,2803.6 432.5,2803.6 433.0,2803.6 433.5,2803.6 434.0,2803.6 434.5,2803.6 435.0,2803.6 435.5,2803.5 436.0,2803.5 436.5,2803.5 437.0,2803.5 437.5,2803.5 438.0,2803.5 438.5,2803.5 439.0,2803.5 439.5,2803.5 440.0,2803.5 440.5,2803.5 441.0,2803.5 441.5,2803.5 442.0,2803.5 442.5,2803.5 443.0,2803.5 443.5,2803.5 444.0,2803.4 444.5,2803.4 445.0,2803.4 445.5,2803.4 446.0,2803.4 446.5,2803.4 447.0,2803.4 447.5,2803.4 448.0,2803.4 448.5,2803.4 449.0,2803.4 449.5,2803.4 450.0,2803.4 450.5,2803.4 451.0,2803.4 451.5,2803.4 452.0,2803.4 452.5,2803.4 453.0,2803.3 453.5,2803.3 454.0,2803.3 454.5,2803.3 455.0,2803.3 455.5,2803.3 456.0,2803.3 456.5,2803.3 457.0,2803.3 457.5,2803.3 458.0,2803.3 458.5,2803.3 459.0,2803.3 459.5,2803.3 460.0,2803.3 460.5,2803.3 461.0,2803.3 461.5,2803.2 462.0,2803.2 462.5,2803.2 463.0,2803.2 463.5,2803.2 464.0,2803.2 464.5,2803.2 465.0,2803.2 465.5,2803.2 466.0,2803.2 466.5,2803.2 467.0,2803.2 467.5,2803.2 468.0,2803.2 468.5,2803.2 469.0,2803.2 469.5,2803.1 470.0,2803.1 470.5,2803.1 471.0,2803.1 471.5,2803.1 472.0,2803.1 472.5,2803.1 473.0,2803.1 473.5,2803.1 474.0,2803.1 474.5,2803.1 475.0,2803.1 475.5,2803.1 476.0,2803.1 476.5,2803.1 477.0,2803.1 477.5,2803.0 478.0,2803.0 478.5,2803.0 479.0,2803.0 479.5,2803.0 480.0,2803.0 480.5,2803.0 481.0,2803.0 481.5,2803.0 482.0,2803.0 482.5,2803.0 483.0,2803.0 483.5,2803.0 484.0,2803.0 484.5,2803.0 485.0,2803.0 485.5,2802.9 486.0,2802.9 486.5,2802.9 487.0,2802.9 487.5,2802.9 488.0,2802.9 488.5,2802.9 489.0,2802.9 489.5,2802.9 490.0,2802.9 490.5,2802.9 491.0,2802.9 491.5,2802.9 492.0,2802.9 492.5,2802.9 493.0,2802.9 493.5,2802.8 494.0,2802.8 494.5,2802.8 495.0,2802.8 495.5,2802.8 496.0,2802.8 496.5,2802.8 497.0,2802.8 497.5,2802.8 498.0,2802.8 498.5,2802.8 499.0,2802.8 499.5,2802.8 500.0,2802.8 500.5,2802.8 501.0,2802.8 501.5,2802.8 502.0,2802.8 502.5,2802.8 503.0,2802.8 503.5,2802.8 504.0,2802.7 504.5,2802.7 505.0,2802.7 505.5,2802.7 506.0,2802.7 506.5,2802.7 507.0,2802.7 507.5,2802.7 508.0,2802.7 508.5,2802.7 509.0,2802.7 509.5,2802.7 510.0,2802.7 510.5,2802.7 511.0,2802.7 511.5,2802.7 512.0,2802.7 512.5,2802.7 513.0,2802.7 513.5,2802.7 514.0,2802.6 514.5,2802.6 515.0,2802.6 515.5,2802.6 516.0,2802.6 516.5,2802.6 517.0,2802.6 517.5,2802.6 518.0,2802.6 518.5,2802.6 519.0,2802.6 519.5,2802.6 520.0,2802.6 520.5,2802.6 521.0,2802.5 521.5,2802.5 522.0,2802.5 522.5,2802.5 523.0,2802.5 523.5,2802.5 524.0,2802.5 524.5,2802.5 525.0,2802.5 525.5,2802.5 526.0,2802.5 526.5,2802.4 527.0,2802.4 527.5,2802.4 528.0,2802.4 528.5,2802.4 529.0,2802.4 529.5,2802.4 530.0,2802.4 530.5,2802.3 531.0,2802.3 531.5,2802.3 532.0,2802.3 532.5,2802.3 533.0,2802.3 533.5,2802.2 534.0,2802.2 534.5,2802.1 535.0,2802.1 535.5,2802.0 536.0,2802.0 536.5,2801.9 537.0,2801.8 537.5,2801.7 538.0,2801.6 538.5,2801.5 539.0,2801.4 539.5,2801.3 540.0,2801.2 540.5,2801.1 541.0,2801.0 541.5,2800.9 542.0,2800.7 542.5,2800.6 543.0,2800.5 543.5,2800.3 544.0,2800.2 544.5,2800.1 545.0,2799.9 545.5,2799.8 546.0,2799.7 546.5,2799.5 547.0,2799.4 547.5,2799.2 548.0,2799.1 548.5,2798.9 549.0,2798.8 549.5,2798.6 550.0,2798.4 550.5,2798.2 551.0,2798.0 551.5,2797.8 552.0,2797.6 552.5,2797.4 553.0,2797.1 553.5,2796.9 554.0,2796.6 554.5,2796.4 555.0,2796.2 555.5,2795.9 556.0,2795.6 556.5,2795.4 557.0,2795.1 557.5,2794.9 558.0,2794.6 558.5,2794.3 559.0,2794.1 559.5,2793.8 560.0,2793.5 560.5,2793.2 561.0,2792.9 561.5,2792.5 562.0,2792.2 562.5,2791.8 563.0,2791.4 563.5,2791.1 564.0,2790.7 564.5,2790.3 565.0,2790.0 565.5,2789.6 566.0,2789.3 566.5,2788.9 567.0,2788.6 567.5,2788.3 568.0,2788.0 568.5,2787.8 569.0,2787.5 569.5,2787.3 570.0,2787.0 570.5,2786.7 571.0,2786.5 571.5,2786.2 572.0,2785.9 572.5,2785.7 573.0,2785.5 573.5,2785.3 574.0,2785.1 574.5,2785.0 575.0,2784.9 575.5,2784.9 576.0,2784.8 576.5,2784.8 577.0,2784.8 577.5,2784.8 578.0,2784.8 578.5,2784.8 579.0,2784.8 579.5,2784.8 580.0,2784.8 580.5,2784.8 581.0,2784.8 581.5,2784.8 582.0,2784.8 582.5,2784.8 583.0,2784.8 583.5,2784.8 584.0,2784.8 584.5,2784.8 585.0,2784.8 585.5,2784.8 586.0,2784.8 586.5,2784.8 587.0,2784.8 587.5,2784.8 588.0,2784.8 588.5,2784.8 589.0,2784.7 589.5,2784.6 590.0,2784.4 590.5,2784.1 591.0,2783.9 591.5,2783.6 592.0,2783.3 592.5,2783.0 593.0,2782.6 593.5,2782.3 594.0,2782.0 594.5,2781.7 595.0,2781.4 595.5,2781.2 596.0,2781.0 596.5,2780.7 597.0,2780.5 597.5,2780.3 598.0,2780.0 598.5,2779.8 599.0,2779.5 599.5,2779.3 600.0,2779.0 600.5,2778.8 601.0,2778.6 601.5,2778.4 602.0,2778.2 602.5,2778.0 603.0,2777.8 603.5,2777.6 604.0,2777.5 604.5,2777.3 605.0,2777.2 605.5,2777.0 606.0,2776.9 606.5,2776.8 607.0,2776.6 607.5,2776.5 608.0,2776.4 608.5,2776.3 609.0,2776.2 609.5,2776.1 610.0,2776.0 610.5,2775.9 611.0,2775.9 611.5,2775.8 612.0,2775.8 612.5,2775.8 613.0,2775.9 613.5,2775.9 614.0,2776.0 614.5,2776.1 615.0,2776.2 615.5,2776.3 616.0,2776.4 616.5,2776.5 617.0,2776.6 617.5,2776.8 618.0,2776.9 618.5,2777.1 619.0,2777.2 619.5,2777.3 620.0,2777.5 620.5,2777.6 621.0,2777.8 621.5,2778.0 622.0,2778.2 622.5,2778.5 623.0,2778.7 623.5,2778.9 624.0,2779.2 624.5,2779.5 625.0,2779.7 625.5,2780.0 626.0,2780.3 626.5,2780.6 627.0,2780.9 627.5,2781.1 628.0,2781.4 628.5,2781.7 629.0,2782.0 629.5,2782.3 630.0,2782.6 630.5,2782.8 631.0,2783.1 631.5,2783.3 632.0,2783.6 632.5,2783.8 633.0,2784.1 633.5,2784.4 634.0,2784.6 634.5,2784.9 635.0,2785.1 635.5,2785.4 636.0,2785.7 636.5,2785.9 637.0,2786.2 637.5,2786.5 638.0,2786.7 638.5,2787.0 639.0,2787.2 639.5,2787.5 640.0,2787.8 640.5,2788.0 641.0,2788.3 641.5,2788.5 642.0,2788.8 642.5,2789.0 643.0,2789.3 643.5,2789.5 644.0,2789.7 644.5,2790.0 645.0,2790.2 645.5,2790.4 646.0,2790.6 646.5,2790.8 647.0,2791.1 647.5,2791.3 648.0,2791.5 648.5,2791.7 649.0,2791.9 649.5,2792.1 650.0,2792.3 650.5,2792.5 651.0,2792.7 651.5,2792.9 652.0,2793.1 652.5,2793.3 653.0,2793.5 653.5,2793.7 654.0,2793.8 654.5,2794.0 655.0,2794.2 655.5,2794.4 656.0,2794.6 656.5,2794.7 657.0,2794.9 657.5,2795.1 658.0,2795.2 658.5,2795.4 659.0,2795.5 659.5,2795.7 660.0,2795.8 660.5,2796.0 661.0,2796.1 661.5,2796.3 662.0,2796.4 662.5,2796.5 663.0,2796.6 663.5,2796.8 664.0,2796.9 664.5,2797.0 665.0,2797.1 665.5,2797.2 666.0,2797.4 666.5,2797.5 667.0,2797.6 667.5,2797.7 668.0,2797.8 668.5,2797.9 669.0,2798.0 669.5,2798.1 670.0,2798.2 670.5,2798.3 671.0,2798.4 671.5,2798.5 672.0,2798.6 672.5,2798.7 673.0,2798.7 673.5,2798.8 674.0,2798.9 674.5,2799.0 675.0,2799.1 675.5,2799.1 676.0,2799.2 676.5,2799.3 677.0,2799.3 677.5,2799.4 678.0,2799.5 678.5,2799.5 679.0,2799.6 679.5,2799.6 680.0,2799.7 680.5,2799.8 681.0,2799.8 681.5,2799.9 682.0,2800.0 682.5,2800.0 683.0,2800.1 683.5,2800.1 684.0,2800.2 684.5,2800.3 685.0,2800.3 685.5,2800.4 686.0,2800.4 686.5,2800.5 687.0,2800.5 687.5,2800.6 688.0,2800.6 688.5,2800.7 689.0,2800.7 689.5,2800.8 690.0,2800.8 690.5,2800.9 691.0,2800.9 691.5,2801.0 692.0,2801.0 692.5,2801.1 693.0,2801.1 693.5,2801.1 694.0,2801.2 694.5,2801.2 695.0,2801.2 695.5,2801.2 696.0,2801.3 696.5,2801.3 697.0,2801.3 697.5,2801.3 698.0,2801.3 698.5,2801.4 699.0,2801.4 699.5,2801.4 700.0,2801.4 700.5,2801.4 701.0,2801.4 701.5,2801.4 702.0,2801.4 702.5,2801.4 703.0,2801.4 703.5,2801.4 704.0,2801.4 704.5,2801.4 705.0,2801.4 705.5,2801.4 706.0,2801.4 706.5,2801.4 707.0,2801.4 707.5,2801.4 708.0,2801.4 708.5,2801.4 709.0,2801.4 709.5,2801.4 710.0,2801.4 710.5,2801.4 711.0,2801.4 711.5,2801.4 712.0,2801.4 712.5,2801.4 713.0,2801.4 713.5,2801.4 714.0,2801.4 714.5,2801.4 715.0,2801.4 715.5,2801.4 716.0,2801.4 716.5,2801.4 717.0,2801.4 717.5,2801.4 718.0,2801.4 718.5,2801.4 719.0,2801.4 719.5,2801.4 720.0,2801.4 720.5,2801.4 721.0,2801.4 721.5,2801.4 722.0,2801.4 722.5,2801.4 723.0,2801.4 723.5,2801.4 724.0,2801.4 724.5,2801.4 725.0,2801.4 725.5,2801.4 726.0,2801.4 726.5,2801.4 727.0,2801.4 727.5,2801.4 728.0,2801.4 728.5,2801.4 729.0,2801.4 729.5,2801.4 730.0,2801.4 730.5,2801.4 731.0,2801.4 731.5,2801.4 732.0,2801.4 732.5,2801.4 733.0,2801.4 733.5,2801.4 734.0,2801.4 734.5,2801.4 735.0,2801.4 735.5,2801.3 736.0,2801.3 736.5,2801.3 737.0,2801.3 737.5,2801.3 738.0,2801.3 738.5,2801.3 739.0,2801.3 739.5,2801.3 740.0,2801.3 740.5,2801.2 741.0,2801.2 741.5,2801.2 742.0,2801.2 742.5,2801.2 743.0,2801.2 743.5,2801.2 744.0,2801.1 744.5,2801.1 745.0,2801.1 745.5,2801.1 746.0,2801.1 746.5,2801.1 747.0,2801.0 747.5,2801.0 748.0,2801.0 748.5,2801.0 749.0,2801.0 749.5,2800.9 750.0,2800.9 750.5,2800.9 751.0,2800.9 751.5,2800.9 752.0,2800.8 752.5,2800.8 753.0,2800.8 753.5,2800.8 754.0,2800.8 754.5,2800.7 755.0,2800.7 755.5,2800.7 756.0,2800.7 756.5,2800.7 757.0,2800.6 757.5,2800.6 758.0,2800.6 758.5,2800.6 759.0,2800.6 759.5,2800.5 760.0,2800.5 760.5,2800.5 761.0,2800.5 761.5,2800.5 762.0,2800.4 762.5,2800.4 763.0,2800.4 763.5,2800.4 764.0,2800.4 764.5,2800.3 765.0,2800.3 765.5,2800.3 766.0,2800.3 766.5,2800.3 767.0,2800.2 767.5,2800.2 768.0,2800.2 768.5,2800.2 769.0,2800.2 769.5,2800.1 770.0,2800.1 770.5,2800.1 771.0,2800.1 771.5,2800.0 772.0,2800.0 772.5,2800.0 773.0,2800.0 773.5,2799.9 774.0,2799.9 774.5,2799.9 775.0,2799.8 775.5,2799.8 776.0,2799.8 776.5,2799.7 777.0,2799.7 777.5,2799.7 778.0,2799.6 778.5,2799.6 779.0,2799.5 779.5,2799.5 780.0,2799.5 780.5,2799.4 781.0,2799.4 781.5,2799.3 782.0,2799.3 782.5,2799.2 783.0,2799.1 783.5,2799.1 784.0,2799.0 784.5,2798.9 785.0,2798.8 785.5,2798.7 786.0,2798.6 786.5,2798.4 787.0,2798.3 787.5,2798.1 788.0,2798.0 788.5,2797.8 789.0,2797.7 789.5,2797.5 790.0,2797.3 790.5,2797.1 791.0,2796.9 791.5,2796.7 792.0,2796.4 792.5,2796.2 793.0,2796.0 793.5,2795.7 794.0,2795.5 794.5,2795.2 795.0,2794.9 795.5,2794.6 796.0,2794.3 796.5,2794.0 797.0,2793.7 797.5,2793.3 798.0,2792.9 798.5,2792.4 799.0,2791.8 799.5,2791.2 800.0,2790.5 800.5,2789.8 801.0,2788.9 801.5,2788.1 802.0,2787.1 802.5,2786.2 803.0,2785.1 803.5,2783.9 804.0,2782.5 804.5,2780.9 805.0,2779.2 805.5,2777.2 806.0,2775.1 806.5,2772.8 807.0,2770.3 807.5,2767.4 808.0,2764.0 808.5,2760.1 809.0,2755.8 809.5,2751.1 810.0,2745.8 810.5,2739.3 811.0,2731.7 811.5,2723.5 812.0,2715.0 812.5,2706.4 813.0,2697.3 813.5,2687.6 814.0,2677.7 814.5,2667.4 815.0,2656.8 815.5,2645.6 816.0,2633.2 816.5,2619.9 817.0,2608.4 817.5,2598.8 818.0,2590.4 818.5,2584.2 819.0,2578.7 819.5,2574.0 820.0,2571.0 820.5,2570.2 821.0,2569.7 821.5,2569.4 822.0,2569.3 822.5,2570.5 823.0,2574.7 823.5,2580.3 824.0,2586.1 824.5,2593.2 825.0,2601.4 825.5,2608.1 826.0,2612.6 826.5,2616.6 827.0,2619.0 827.5,2619.0 828.0,2617.5 828.5,2614.9 829.0,2611.6 829.5,2606.6 830.0,2598.6 830.5,2589.2 831.0,2579.7 831.5,2568.9 832.0,2557.7 832.5,2546.9 833.0,2535.5 833.5,2525.7 834.0,2519.9 834.5,2515.6 835.0,2512.5 835.5,2510.8 836.0,2509.7 836.5,2509.0 837.0,2508.3 837.5,2507.8 838.0,2507.4 838.5,2507.1 839.0,2506.8 839.5,2506.6 840.0,2506.3 840.5,2506.0 841.0,2505.5 841.5,2504.8 842.0,2503.2 842.5,2501.1 843.0,2498.5 843.5,2495.5 844.0,2492.2 844.5,2488.1 845.0,2482.7 845.5,2476.6 846.0,2470.0 846.5,2463.5 847.0,2457.4 847.5,2451.7 848.0,2446.0 848.5,2440.3 849.0,2434.5 849.5,2428.7 850.0,2422.8 850.5,2416.7 851.0,2410.5 851.5,2404.2 852.0,2397.9 852.5,2391.6 853.0,2385.3 853.5,2379.1 854.0,2373.0 854.5,2366.8 855.0,2360.5 855.5,2354.1 856.0,2347.4 856.5,2340.4 857.0,2333.3 857.5,2326.4 858.0,2319.9 858.5,2313.7 859.0,2307.4 859.5,2301.6 860.0,2296.7 860.5,2292.9 861.0,2289.5 861.5,2287.5 862.0,2288.6 862.5,2293.4 863.0,2300.4 863.5,2308.4 864.0,2317.7 864.5,2330.3 865.0,2344.4 865.5,2358.7 866.0,2374.3 866.5,2390.5 867.0,2406.3 867.5,2421.9 868.0,2437.5 868.5,2453.2 869.0,2469.9 869.5,2486.3 870.0,2500.0 870.5,2509.6 871.0,2517.0 871.5,2524.3 872.0,2533.5 872.5,2548.3 873.0,2571.8 873.5,2588.0 874.0,2601.2 874.5,2613.9 875.0,2627.4 875.5,2640.2 876.0,2650.5 876.5,2659.1 877.0,2666.7 877.5,2673.4 878.0,2679.2 878.5,2684.5 879.0,2689.4 879.5,2693.9 880.0,2697.9 880.5,2701.3 881.0,2704.2 881.5,2706.8 882.0,2709.2 882.5,2711.4 883.0,2713.4 883.5,2715.3 884.0,2717.2 884.5,2719.0 885.0,2720.9 885.5,2722.8 886.0,2724.7 886.5,2726.5 887.0,2728.3 887.5,2730.1 888.0,2731.8 888.5,2733.5 889.0,2735.1 889.5,2736.7 890.0,2738.3 890.5,2739.8 891.0,2741.4 891.5,2742.9 892.0,2744.3 892.5,2745.8 893.0,2747.1 893.5,2748.4 894.0,2749.5 894.5,2750.6 895.0,2751.5 895.5,2752.4 896.0,2753.3 896.5,2754.1 897.0,2754.9 897.5,2755.6 898.0,2756.3 898.5,2756.9 899.0,2757.5 899.5,2758.0 900.0,2758.6 900.5,2759.1 901.0,2759.6 901.5,2760.0 902.0,2760.5 902.5,2760.9 903.0,2761.3 903.5,2761.6 904.0,2762.0 904.5,2762.3 905.0,2762.6 905.5,2762.9 906.0,2763.1 906.5,2763.4 907.0,2763.6 907.5,2763.8 908.0,2764.1 908.5,2764.3 909.0,2764.5 909.5,2764.8 910.0,2765.0 910.5,2765.3 911.0,2765.5 911.5,2765.8 912.0,2766.0 912.5,2766.3 913.0,2766.5 913.5,2766.8 914.0,2767.1 914.5,2767.4 915.0,2767.7 915.5,2768.0 916.0,2768.4 916.5,2768.8 917.0,2769.3 917.5,2769.7 918.0,2770.2 918.5,2770.7 919.0,2771.3 919.5,2771.8 920.0,2772.4 920.5,2772.9 921.0,2773.5 921.5,2774.0 922.0,2774.5 922.5,2775.0 923.0,2775.5 923.5,2776.0 924.0,2776.5 924.5,2777.0 925.0,2777.5 925.5,2778.0 926.0,2778.5 926.5,2779.0 927.0,2779.5 927.5,2780.0 928.0,2780.5 928.5,2781.0 929.0,2781.5 929.5,2782.0 930.0,2782.5 930.5,2783.1 931.0,2783.6 931.5,2784.2 932.0,2784.8 932.5,2785.3 933.0,2785.8 933.5,2786.4 934.0,2786.8 934.5,2787.3 935.0,2787.7 935.5,2788.0 936.0,2788.3 936.5,2788.6 937.0,2788.9 937.5,2789.1 938.0,2789.4 938.5,2789.6 939.0,2789.8 939.5,2790.0 940.0,2790.3 940.5,2790.5 941.0,2790.6 941.5,2790.8 942.0,2791.0 942.5,2791.2 943.0,2791.3 943.5,2791.5 944.0,2791.6 944.5,2791.8 945.0,2791.9 945.5,2792.0 946.0,2792.2 946.5,2792.3 947.0,2792.4 947.5,2792.5 948.0,2792.6 948.5,2792.8 949.0,2792.9 949.5,2793.0 950.0,2793.1 950.5,2793.2 951.0,2793.3 951.5,2793.4 952.0,2793.5 952.5,2793.6 953.0,2793.7 953.5,2793.8 954.0,2793.9 954.5,2794.0 955.0,2794.1 955.5,2794.2 956.0,2794.3 956.5,2794.4 957.0,2794.5 957.5,2794.6 958.0,2794.7 958.5,2794.8 959.0,2794.9 959.5,2795.0 960.0,2795.1 960.5,2795.2 961.0,2795.3 961.5,2795.4 962.0,2795.5 962.5,2795.6 963.0,2795.7 963.5,2795.7 964.0,2795.8 964.5,2795.8 965.0,2795.9 965.5,2795.9 966.0,2795.9 966.5,2796.0 967.0,2796.0 967.5,2796.0 968.0,2796.0 968.5,2796.0 969.0,2796.1 969.5,2796.1 970.0,2796.1 970.5,2796.1 971.0,2796.1 971.5,2796.2 972.0,2796.2 972.5,2796.2 973.0,2796.2 973.5,2796.3 974.0,2796.3 974.5,2796.3 975.0,2796.4 975.5,2796.5 976.0,2796.6 976.5,2796.7 977.0,2796.9 977.5,2797.1 978.0,2797.4 978.5,2797.6 979.0,2797.9 979.5,2798.1 980.0,2798.4 980.5,2798.7 981.0,2798.9 981.5,2799.1 982.0,2799.3 982.5,2799.4 983.0,2799.6 983.5,2799.7 984.0,2799.8 984.5,2800.0 985.0,2800.1 985.5,2800.2 986.0,2800.4 986.5,2800.5 987.0,2800.6 987.5,2800.7 988.0,2800.8 988.5,2800.9 989.0,2801.0 989.5,2801.0 990.0,2801.1 990.5,2801.2 991.0,2801.2 991.5,2801.2 992.0,2801.2 992.5,2801.2 993.0,2801.2 993.5,2801.2 994.0,2801.2 994.5,2801.2 995.0,2801.2 995.5,2801.1 996.0,2801.1 996.5,2801.1 997.0,2801.1 997.5,2801.0 998.0,2801.0 998.5,2801.0 999.0,2801.0 999.5,2801.0 1000.0,2801.0 1000.5,2801.0 1001.0,2801.0 1001.5,2801.0 1002.0,2801.0 1002.5,2801.0 1003.0,2801.0 1003.5,2801.0 1004.0,2801.1 1004.5,2801.1 1005.0,2801.1 1005.5,2801.1 1006.0,2801.1 1006.5,2801.2 1007.0,2801.2 1007.5,2801.2 1008.0,2801.3 1008.5,2801.3 1009.0,2801.3 1009.5,2801.4 1010.0,2801.4 1010.5,2801.4 1011.0,2801.5 1011.5,2801.5 1012.0,2801.5 1012.5,2801.6 1013.0,2801.6 1013.5,2801.7 1014.0,2801.7 1014.5,2801.7 1015.0,2801.8 1015.5,2801.8 1016.0,2801.8 1016.5,2801.9 1017.0,2801.9 1017.5,2802.0 1018.0,2802.0 1018.5,2802.0 1019.0,2802.1 1019.5,2802.1 1020.0,2802.2 1020.5,2802.2 1021.0,2802.2 1021.5,2802.3 1022.0,2802.3 1022.5,2802.3 1023.0,2802.3 1023.5,2802.4 1024.0,2802.4 1024.5,2802.4 1025.0,2802.5 1025.5,2802.5 1026.0,2802.5 1026.5,2802.5 1027.0,2802.5 1027.5,2802.6 1028.0,2802.6 1028.5,2802.6 1029.0,2802.6 1029.5,2802.6 1030.0,2802.6 1030.5,2802.7 1031.0,2802.7 1031.5,2802.7 1032.0,2802.7 1032.5,2802.7 1033.0,2802.8 1033.5,2802.8 1034.0,2802.8 1034.5,2802.8 1035.0,2802.8 1035.5,2802.9 1036.0,2802.9 1036.5,2802.9 1037.0,2802.9 1037.5,2802.9 1038.0,2803.0 1038.5,2803.0 1039.0,2803.0 1039.5,2803.0 1040.0,2803.0 1040.5,2803.0 1041.0,2803.1 1041.5,2803.1 1042.0,2803.1 1042.5,2803.1 1043.0,2803.1 1043.5,2803.1 1044.0,2803.2 1044.5,2803.2 1045.0,2803.2 1045.5,2803.2 1046.0,2803.2 1046.5,2803.2 1047.0,2803.3 1047.5,2803.3 1048.0,2803.3 1048.5,2803.3 1049.0,2803.3 1049.5,2803.3 1050.0,2803.3 1050.5,2803.3 1051.0,2803.4 1051.5,2803.4 1052.0,2803.4 1052.5,2803.4 1053.0,2803.4 1053.5,2803.4 1054.0,2803.4 1054.5,2803.4 1055.0,2803.4 1055.5,2803.5 1056.0,2803.5 1056.5,2803.5 1057.0,2803.5 1057.5,2803.5 1058.0,2803.5 1058.5,2803.5 1059.0,2803.5 1059.5,2803.5 1060.0,2803.5 1060.5,2803.5 1061.0,2803.5 1061.5,2803.5 1062.0,2803.5 1062.5,2803.5 1063.0,2803.5 1063.5,2803.5 1064.0,2803.5 1064.5,2803.5 1065.0,2803.5 1065.5,2803.5 1066.0,2803.5 1066.5,2803.5 1067.0,2803.4 1067.5,2803.4 1068.0,2803.4 1068.5,2803.3 1069.0,2803.3 1069.5,2803.3 1070.0,2803.2 1070.5,2803.2 1071.0,2803.1 1071.5,2803.1 1072.0,2803.1 1072.5,2803.0 1073.0,2802.9 1073.5,2802.9 1074.0,2802.8 1074.5,2802.8 1075.0,2802.7 1075.5,2802.6 1076.0,2802.6 1076.5,2802.5 1077.0,2802.4 1077.5,2802.4 1078.0,2802.3 1078.5,2802.2 1079.0,2802.2 1079.5,2802.1 1080.0,2802.0 1080.5,2802.0 1081.0,2801.9 1081.5,2801.8 1082.0,2801.7 1082.5,2801.7 1083.0,2801.6 1083.5,2801.5 1084.0,2801.4 1084.5,2801.4 1085.0,2801.3 1085.5,2801.2 1086.0,2801.1 1086.5,2801.1 1087.0,2801.0 1087.5,2800.9 1088.0,2800.8 1088.5,2800.8 1089.0,2800.7 1089.5,2800.6 1090.0,2800.6 1090.5,2800.5 1091.0,2800.4 1091.5,2800.4 1092.0,2800.3 1092.5,2800.3 1093.0,2800.2 1093.5,2800.1 1094.0,2800.1 1094.5,2800.0 1095.0,2800.0 1095.5,2799.9 1096.0,2799.9 1096.5,2799.9 1097.0,2799.8 1097.5,2799.8 1098.0,2799.8 1098.5,2799.7 1099.0,2799.7 1099.5,2799.6 1100.0,2799.6 1100.5,2799.6 1101.0,2799.5 1101.5,2799.5 1102.0,2799.5 1102.5,2799.4 1103.0,2799.4 1103.5,2799.4 1104.0,2799.3 1104.5,2799.3 1105.0,2799.3 1105.5,2799.2 1106.0,2799.2 1106.5,2799.2 1107.0,2799.1 1107.5,2799.1 1108.0,2799.1 1108.5,2799.0 1109.0,2799.0 1109.5,2799.0 1110.0,2798.9 1110.5,2798.9 1111.0,2798.9 1111.5,2798.8 1112.0,2798.8 1112.5,2798.8 1113.0,2798.7 1113.5,2798.7 1114.0,2798.7 1114.5,2798.6 1115.0,2798.6 1115.5,2798.6 1116.0,2798.6 1116.5,2798.5 1117.0,2798.5 1117.5,2798.5 1118.0,2798.5 1118.5,2798.4 1119.0,2798.4 1119.5,2798.4 1120.0,2798.4 1120.5,2798.3 1121.0,2798.3 1121.5,2798.3 1122.0,2798.3 1122.5,2798.3 1123.0,2798.2 1123.5,2798.2 1124.0,2798.2 1124.5,2798.2 1125.0,2798.2 1125.5,2798.2 1126.0,2798.2 1126.5,2798.1 1127.0,2798.1 1127.5,2798.1 1128.0,2798.1 1128.5,2798.1 1129.0,2798.1 1129.5,2798.1 1130.0,2798.1 1130.5,2798.1 1131.0,2798.1 1131.5,2798.1 1132.0,2798.1 1132.5,2798.1 1133.0,2798.1 1133.5,2798.1 1134.0,2798.1 1134.5,2798.1 1135.0,2798.1 1135.5,2798.2 1136.0,2798.2 1136.5,2798.2 1137.0,2798.2 1137.5,2798.3 1138.0,2798.3 1138.5,2798.3 1139.0,2798.4 1139.5,2798.4 1140.0,2798.4 1140.5,2798.5 1141.0,2798.5 1141.5,2798.6 1142.0,2798.6 1142.5,2798.6 1143.0,2798.7 1143.5,2798.7 1144.0,2798.8 1144.5,2798.8 1145.0,2798.9 1145.5,2798.9 1146.0,2799.0 1146.5,2799.0 1147.0,2799.1 1147.5,2799.1 1148.0,2799.2 1148.5,2799.3 1149.0,2799.3 1149.5,2799.4 1150.0,2799.4 1150.5,2799.5 1151.0,2799.5 1151.5,2799.6 1152.0,2799.6 1152.5,2799.7 1153.0,2799.7 1153.5,2799.8 1154.0,2799.8 1154.5,2799.9 1155.0,2800.0 1155.5,2800.0 1156.0,2800.1 1156.5,2800.1 1157.0,2800.1 1157.5,2800.2 1158.0,2800.2 1158.5,2800.3 1159.0,2800.3 1159.5,2800.4 1160.0,2800.4 1160.5,2800.5 1161.0,2800.5 1161.5,2800.5 1162.0,2800.6 1162.5,2800.6 1163.0,2800.6 1163.5,2800.6 1164.0,2800.7 1164.5,2800.7 1165.0,2800.7 1165.5,2800.7 1166.0,2800.8 1166.5,2800.8 1167.0,2800.8 1167.5,2800.8 1168.0,2800.8 1168.5,2800.8 1169.0,2800.8 1169.5,2800.8 1170.0,2800.8 1170.5,2800.8 1171.0,2800.8 1171.5,2800.8 1172.0,2800.8 1172.5,2800.7 1173.0,2800.7 1173.5,2800.7 1174.0,2800.7 1174.5,2800.6 1175.0,2800.6 1175.5,2800.6 1176.0,2800.6 1176.5,2800.5 1177.0,2800.5 1177.5,2800.5 1178.0,2800.4 1178.5,2800.4 1179.0,2800.3 1179.5,2800.3 1180.0,2800.2 1180.5,2800.2 1181.0,2800.2 1181.5,2800.1 1182.0,2800.1 1182.5,2800.0 1183.0,2800.0 1183.5,2799.9 1184.0,2799.8 1184.5,2799.8 1185.0,2799.7 1185.5,2799.7 1186.0,2799.6 1186.5,2799.6 1187.0,2799.5 1187.5,2799.4 1188.0,2799.4 1188.5,2799.3 1189.0,2799.3 1189.5,2799.2 1190.0,2799.1 1190.5,2799.1 1191.0,2799.0 1191.5,2799.0 1192.0,2798.9 1192.5,2798.8 1193.0,2798.8 1193.5,2798.7 1194.0,2798.7 1194.5,2798.6 1195.0,2798.5 1195.5,2798.5 1196.0,2798.4 1196.5,2798.4 1197.0,2798.3 1197.5,2798.2 1198.0,2798.2 1198.5,2798.1 1199.0,2798.1 1199.5,2798.0 1200.0,2798.0 1200.5,2797.9 1201.0,2797.9 1201.5,2797.8 1202.0,2797.8 1202.5,2797.7 1203.0,2797.7 1203.5,2797.6 1204.0,2797.6 1204.5,2797.5 1205.0,2797.5 1205.5,2797.5 1206.0,2797.4 1206.5,2797.4 1207.0,2797.4 1207.5,2797.3 1208.0,2797.3 1208.5,2797.2 1209.0,2797.2 1209.5,2797.2 1210.0,2797.1 1210.5,2797.1 1211.0,2797.0 1211.5,2797.0 1212.0,2797.0 1212.5,2796.9 1213.0,2796.9 1213.5,2796.8 1214.0,2796.8 1214.5,2796.8 1215.0,2796.7 1215.5,2796.7 1216.0,2796.7 1216.5,2796.6 1217.0,2796.6 1217.5,2796.6 1218.0,2796.5 1218.5,2796.5 1219.0,2796.5 1219.5,2796.5 1220.0,2796.4 1220.5,2796.4 1221.0,2796.4 1221.5,2796.4 1222.0,2796.4 1222.5,2796.4 1223.0,2796.4 1223.5,2796.4 1224.0,2796.4 1224.5,2796.4 1225.0,2796.5 1225.5,2796.5 1226.0,2796.5 1226.5,2796.6 1227.0,2796.7 1227.5,2796.8 1228.0,2796.8 1228.5,2796.9 1229.0,2797.0 1229.5,2797.1 1230.0,2797.3 1230.5,2797.4 1231.0,2797.5 1231.5,2797.6 1232.0,2797.7 1232.5,2797.9 1233.0,2798.0 1233.5,2798.1 1234.0,2798.3 1234.5,2798.4 1235.0,2798.5 1235.5,2798.7 1236.0,2798.8 1236.5,2798.9 1237.0,2799.1 1237.5,2799.2 1238.0,2799.3 1238.5,2799.4 1239.0,2799.5 1239.5,2799.6 1240.0,2799.7 1240.5,2799.8 1241.0,2799.9 1241.5,2800.0 1242.0,2800.1 1242.5,2800.2 1243.0,2800.3 1243.5,2800.4 1244.0,2800.5 1244.5,2800.6 1245.0,2800.7 1245.5,2800.8 1246.0,2800.9 1246.5,2801.0 1247.0,2801.1 1247.5,2801.2 1248.0,2801.3 1248.5,2801.4 1249.0,2801.5 1249.5,2801.6 1250.0,2801.7 1250.5,2801.8 1251.0,2801.9 1251.5,2802.0 1252.0,2802.1 1252.5,2802.2 1253.0,2802.3 1253.5,2802.4 1254.0,2802.5 1254.5,2802.5 1255.0,2802.6 1255.5,2802.7 1256.0,2802.8 1256.5,2802.8 1257.0,2802.9 1257.5,2802.9 1258.0,2803.0 1258.5,2803.0 1259.0,2803.1 1259.5,2803.1 1260.0,2803.1 1260.5,2803.2 1261.0,2803.2 1261.5,2803.2 1262.0,2803.2 1262.5,2803.3 1263.0,2803.3 1263.5,2803.3 1264.0,2803.3 1264.5,2803.3 1265.0,2803.4 1265.5,2803.4 1266.0,2803.4 1266.5,2803.4 1267.0,2803.4 1267.5,2803.5 1268.0,2803.5 1268.5,2803.5 1269.0,2803.5 1269.5,2803.5 1270.0,2803.5 1270.5,2803.6 1271.0,2803.6 1271.5,2803.6 1272.0,2803.6 1272.5,2803.6 1273.0,2803.6 1273.5,2803.7 1274.0,2803.7 1274.5,2803.7 1275.0,2803.7 1275.5,2803.7 1276.0,2803.7 1276.5,2803.7 1277.0,2803.7 1277.5,2803.8 1278.0,2803.8 1278.5,2803.8 1279.0,2803.8 1279.5,2803.8 1280.0,2803.8 1280.5,2803.8 1281.0,2803.8 1281.5,2803.8 1282.0,2803.8 1282.5,2803.8 1283.0,2803.8 1283.5,2803.8 1284.0,2803.8 1284.5,2803.8 1285.0,2803.9 1285.5,2803.9 1286.0,2803.9 1286.5,2803.9 1287.0,2803.9 1287.5,2803.9 1288.0,2803.9 1288.5,2803.9 1289.0,2803.9 1289.5,2803.9 1290.0,2803.9 1290.5,2803.9 1291.0,2803.9 1291.5,2803.9 1292.0,2803.9 1292.5,2803.9 1293.0,2803.9 1293.5,2803.9 1294.0,2803.9 1294.5,2803.9 1295.0,2803.9 1295.5,2803.9 1296.0,2803.9 1296.5,2803.9 1297.0,2803.9 1297.5,2803.9 1298.0,2803.9 1298.5,2803.9 1299.0,2803.9 1299.5,2803.9 1300.0,2803.9 1300.5,2803.9 1301.0,2803.9 1301.5,2803.9 1302.0,2803.9 1302.5,2803.9 1303.0,2803.9 1303.5,2803.9 1304.0,2803.9 1304.5,2803.9 1305.0,2803.9 1305.5,2803.9 1306.0,2803.9 1306.5,2803.9 1307.0,2803.9 1307.5,2803.9 1308.0,2803.9 1308.5,2803.9 1309.0,2803.9 1309.5,2803.9 1310.0,2803.9 1310.5,2803.9 1311.0,2803.9 1311.5,2803.9 1312.0,2803.9 1312.5,2803.9 1313.0,2803.9 1313.5,2803.9 1314.0,2803.9 1314.5,2803.9 1315.0,2803.9 1315.5,2803.9 1316.0,2803.9 1316.5,2803.9 1317.0,2803.9 1317.5,2803.9 1318.0,2803.9 1318.5,2803.9 1319.0,2803.9 1319.5,2803.9 1320.0,2803.9 1320.5,2803.9 1321.0,2803.9 1321.5,2803.9 1322.0,2803.9 1322.5,2803.9 1323.0,2803.8 1323.5,2803.8 1324.0,2803.8 1324.5,2803.7 1325.0,2803.7 1325.5,2803.6 1326.0,2803.6 1326.5,2803.5 1327.0,2803.4 1327.5,2803.4 1328.0,2803.3 1328.5,2803.2 1329.0,2803.1 1329.5,2803.0 1330.0,2802.9 1330.5,2802.8 1331.0,2802.7 1331.5,2802.5 1332.0,2802.4 1332.5,2802.3 1333.0,2802.2 1333.5,2802.0 1334.0,2801.9 1334.5,2801.8 1335.0,2801.6 1335.5,2801.5 1336.0,2801.3 1336.5,2801.1 1337.0,2800.8 1337.5,2800.4 1338.0,2800.0 1338.5,2799.6 1339.0,2799.2 1339.5,2798.8 1340.0,2798.4 1340.5,2798.0 1341.0,2797.6 1341.5,2797.3 1342.0,2797.0 1342.5,2796.7 1343.0,2796.5 1343.5,2796.4 1344.0,2796.4 1344.5,2796.4 1345.0,2796.5 1345.5,2796.5 1346.0,2796.6 1346.5,2796.8 1347.0,2796.9 1347.5,2797.0 1348.0,2797.2 1348.5,2797.4 1349.0,2797.6 1349.5,2797.8 1350.0,2797.9 1350.5,2798.1 1351.0,2798.3 1351.5,2798.5 1352.0,2798.6 1352.5,2798.8 1353.0,2798.9 1353.5,2799.0 1354.0,2799.2 1354.5,2799.3 1355.0,2799.5 1355.5,2799.7 1356.0,2799.8 1356.5,2800.0 1357.0,2800.1 1357.5,2800.3 1358.0,2800.5 1358.5,2800.6 1359.0,2800.8 1359.5,2800.9 1360.0,2801.1 1360.5,2801.2 1361.0,2801.3 1361.5,2801.5 1362.0,2801.6 1362.5,2801.7 1363.0,2801.8 1363.5,2801.9 1364.0,2802.0 1364.5,2802.0 1365.0,2802.1 1365.5,2802.1 1366.0,2802.2 1366.5,2802.2 1367.0,2802.2 1367.5,2802.2 1368.0,2802.2 1368.5,2802.2 1369.0,2802.3 1369.5,2802.3 1370.0,2802.3 1370.5,2802.3 1371.0,2802.3 1371.5,2802.3 1372.0,2802.4 1372.5,2802.4 1373.0,2802.4 1373.5,2802.4 1374.0,2802.4 1374.5,2802.4 1375.0,2802.4 1375.5,2802.4 1376.0,2802.4 1376.5,2802.4 1377.0,2802.5 1377.5,2802.5 1378.0,2802.5 1378.5,2802.5 1379.0,2802.5 1379.5,2802.5 1380.0,2802.5 1380.5,2802.5 1381.0,2802.5 1381.5,2802.5 1382.0,2802.5 1382.5,2802.5 1383.0,2802.5 1383.5,2802.5 1384.0,2802.4 1384.5,2802.3 1385.0,2802.2 1385.5,2802.1 1386.0,2802.0 1386.5,2802.0 1387.0,2801.9 1387.5,2801.8 1388.0,2801.8 1388.5,2801.7 1389.0,2801.7 1389.5,2801.6 1390.0,2801.6 1390.5,2801.5 1391.0,2801.5 1391.5,2801.4 1392.0,2801.3 1392.5,2801.2 1393.0,2801.1 1393.5,2801.1 1394.0,2801.0 1394.5,2800.8 1395.0,2800.7 1395.5,2800.6 1396.0,2800.4 1396.5,2800.3 1397.0,2800.1 1397.5,2799.9 1398.0,2799.7 1398.5,2799.5 1399.0,2799.2 1399.5,2799.0 1400.0,2798.7 1400.5,2798.4 1401.0,2798.1 1401.5,2797.8 1402.0,2797.4 1402.5,2797.0 1403.0,2796.4 1403.5,2795.8 1404.0,2795.0 1404.5,2794.1 1405.0,2793.1 1405.5,2792.0 1406.0,2790.8 1406.5,2789.3 1407.0,2787.4 1407.5,2785.0 1408.0,2782.4 1408.5,2779.4 1409.0,2776.3 1409.5,2773.1 1410.0,2769.9 1410.5,2766.6 1411.0,2763.0 1411.5,2759.2 1412.0,2755.1 1412.5,2750.9 1413.0,2746.6 1413.5,2742.4 1414.0,2738.2 1414.5,2734.2 1415.0,2729.9 1415.5,2725.5 1416.0,2721.1 1416.5,2716.8 1417.0,2712.6 1417.5,2708.7 1418.0,2705.3 1418.5,2702.4 1419.0,2699.6 1419.5,2696.9 1420.0,2694.4 1420.5,2692.5 1421.0,2691.4 1421.5,2691.0 1422.0,2690.7 1422.5,2690.5 1423.0,2690.4 1423.5,2690.4 1424.0,2691.1 1424.5,2692.4 1425.0,2694.4 1425.5,2696.7 1426.0,2699.4 1426.5,2702.9 1427.0,2708.7 1427.5,2715.8 1428.0,2723.5 1428.5,2731.0 1429.0,2737.4 1429.5,2743.6 1430.0,2749.8 1430.5,2755.8 1431.0,2761.0 1431.5,2765.2 1432.0,2768.4 1432.5,2771.3 1433.0,2773.9 1433.5,2776.1 1434.0,2777.6 1434.5,2778.4 1435.0,2778.9 1435.5,2779.3 1436.0,2779.6 1436.5,2779.6 1437.0,2779.2 1437.5,2778.5 1438.0,2777.5 1438.5,2776.4 1439.0,2775.1 1439.5,2773.7 1440.0,2772.4 1440.5,2771.1 1441.0,2769.8 1441.5,2768.4 1442.0,2766.9 1442.5,2765.4 1443.0,2763.7 1443.5,2762.0 1444.0,2760.1 1444.5,2758.2 1445.0,2756.1 1445.5,2753.9 1446.0,2751.6 1446.5,2749.1 1447.0,2746.5 1447.5,2743.5 1448.0,2740.1 1448.5,2736.3 1449.0,2731.9 1449.5,2726.3 1450.0,2718.5 1450.5,2709.1 1451.0,2699.1 1451.5,2689.1 1452.0,2677.2 1452.5,2664.8 1453.0,2654.5 1453.5,2648.5 1454.0,2644.2 1454.5,2641.7 1455.0,2642.0 1455.5,2644.3 1456.0,2647.9 1456.5,2653.0 1457.0,2664.6 1457.5,2678.8 1458.0,2692.2 1458.5,2706.8 1459.0,2716.1 1459.5,2718.6 1460.0,2720.1 1460.5,2720.5 1461.0,2718.8 1461.5,2715.6 1462.0,2712.5 1462.5,2708.6 1463.0,2704.6 1463.5,2701.9 1464.0,2701.1 1464.5,2700.7 1465.0,2700.4 1465.5,2700.2 1466.0,2700.0 1466.5,2700.0 1467.0,2700.9 1467.5,2703.1 1468.0,2705.9 1468.5,2708.9 1469.0,2713.1 1469.5,2718.1 1470.0,2723.1 1470.5,2727.0 1471.0,2729.6 1471.5,2732.0 1472.0,2734.2 1472.5,2735.8 1473.0,2736.8 1473.5,2737.0 1474.0,2736.8 1474.5,2736.4 1475.0,2735.8 1475.5,2735.1 1476.0,2734.2 1476.5,2733.2 1477.0,2731.7 1477.5,2729.1 1478.0,2725.7 1478.5,2722.0 1479.0,2718.6 1479.5,2715.8 1480.0,2713.2 1480.5,2710.6 1481.0,2708.1 1481.5,2705.8 1482.0,2703.8 1482.5,2702.3 1483.0,2701.3 1483.5,2700.5 1484.0,2699.8 1484.5,2699.3 1485.0,2698.8 1485.5,2698.6 1486.0,2698.8 1486.5,2699.5 1487.0,2700.7 1487.5,2702.2 1488.0,2704.0 1488.5,2705.8 1489.0,2708.1 1489.5,2711.2 1490.0,2714.5 1490.5,2717.9 1491.0,2721.0 1491.5,2723.7 1492.0,2726.4 1492.5,2729.1 1493.0,2731.5 1493.5,2733.3 1494.0,2734.4 1494.5,2735.2 1495.0,2735.9 1495.5,2736.5 1496.0,2736.8 1496.5,2737.0 1497.0,2736.9 1497.5,2735.9 1498.0,2734.5 1498.5,2732.8 1499.0,2731.0 1499.5,2728.4 1500.0,2725.2 1500.5,2721.9 1501.0,2719.1 1501.5,2717.3 1502.0,2715.9 1502.5,2714.5 1503.0,2713.5 1503.5,2712.7 1504.0,2712.4 1504.5,2712.6 1505.0,2713.4 1505.5,2714.6 1506.0,2716.2 1506.5,2718.0 1507.0,2720.0 1507.5,2723.1 1508.0,2727.2 1508.5,2731.8 1509.0,2736.5 1509.5,2740.7 1510.0,2744.5 1510.5,2748.4 1511.0,2752.2 1511.5,2755.7 1512.0,2758.8 1512.5,2761.3 1513.0,2763.5 1513.5,2765.6 1514.0,2767.5 1514.5,2769.2 1515.0,2770.7 1515.5,2771.9 1516.0,2773.0 1516.5,2773.9 1517.0,2774.8 1517.5,2775.7 1518.0,2776.5 1518.5,2777.3 1519.0,2778.0 1519.5,2778.6 1520.0,2779.0 1520.5,2779.4 1521.0,2779.6 1521.5,2779.6 1522.0,2779.5 1522.5,2779.2 1523.0,2778.8 1523.5,2778.3 1524.0,2777.7 1524.5,2777.0 1525.0,2776.2 1525.5,2775.5 1526.0,2774.5 1526.5,2773.2 1527.0,2771.7 1527.5,2769.9 1528.0,2767.9 1528.5,2765.8 1529.0,2763.4 1529.5,2760.9 1530.0,2758.1 1530.5,2754.8 1531.0,2751.0 1531.5,2746.7 1532.0,2742.0 1532.5,2736.8 1533.0,2730.6 1533.5,2723.5 1534.0,2715.7 1534.5,2707.4 1535.0,2698.8 1535.5,2689.9 1536.0,2680.3 1536.5,2670.0 1537.0,2659.6 1537.5,2649.2 1538.0,2639.1 1538.5,2629.5 1539.0,2619.9 1539.5,2610.3 1540.0,2600.2 1540.5,2589.3 1541.0,2577.1 1541.5,2563.5 1542.0,2549.4 1542.5,2535.7 1543.0,2523.2 1543.5,2511.5 1544.0,2500.4 1544.5,2489.6 1545.0,2479.0 1545.5,2468.5 1546.0,2457.8 1546.5,2446.9 1547.0,2435.5 1547.5,2423.5 1548.0,2410.9 1548.5,2397.8 1549.0,2384.4 1549.5,2370.9 1550.0,2357.4 1550.5,2344.2 1551.0,2331.3 1551.5,2318.9 1552.0,2306.8 1552.5,2295.0 1553.0,2283.2 1553.5,2271.6 1554.0,2259.9 1554.5,2248.2 1555.0,2236.2 1555.5,2224.1 1556.0,2211.8 1556.5,2199.2 1557.0,2186.6 1557.5,2174.0 1558.0,2161.5 1558.5,2149.0 1559.0,2136.7 1559.5,2124.7 1560.0,2112.6 1560.5,2100.6 1561.0,2088.7 1561.5,2077.2 1562.0,2066.3 1562.5,2055.7 1563.0,2043.5 1563.5,2032.1 1564.0,2024.5 1564.5,2023.6 1565.0,2029.9 1565.5,2041.0 1566.0,2054.5 1566.5,2069.9 1567.0,2091.7 1567.5,2115.9 1568.0,2138.1 1568.5,2159.8 1569.0,2181.4 1569.5,2202.3 1570.0,2221.8 1570.5,2239.3 1571.0,2255.4 1571.5,2270.6 1572.0,2285.1 1572.5,2299.4 1573.0,2313.8 1573.5,2328.8 1574.0,2344.4 1574.5,2360.3 1575.0,2376.3 1575.5,2392.1 1576.0,2407.7 1576.5,2422.6 1577.0,2437.0 1577.5,2451.4 1578.0,2465.6 1578.5,2479.6 1579.0,2493.0 1579.5,2505.7 1580.0,2517.4 1580.5,2528.0 1581.0,2537.7 1581.5,2547.1 1582.0,2556.0 1582.5,2564.3 1583.0,2572.0 1583.5,2578.9 1584.0,2585.0 1584.5,2590.1 1585.0,2594.5 1585.5,2598.2 1586.0,2601.6 1586.5,2604.9 1587.0,2608.4 1587.5,2612.3 1588.0,2616.9 1588.5,2622.2 1589.0,2628.0 1589.5,2634.0 1590.0,2639.6 1590.5,2644.7 1591.0,2650.0 1591.5,2655.1 1592.0,2659.7 1592.5,2663.2 1593.0,2665.3 1593.5,2667.2 1594.0,2668.8 1594.5,2670.1 1595.0,2670.9 1595.5,2671.2 1596.0,2671.2 1596.5,2671.2 1597.0,2671.2 1597.5,2671.2 1598.0,2671.2 1598.5,2671.2 1599.0,2671.2 1599.5,2671.2 1600.0,2671.2 1600.5,2671.3 1601.0,2671.4 1601.5,2671.6 1602.0,2671.9 1602.5,2672.2 1603.0,2672.7 1603.5,2674.7 1604.0,2678.2 1604.5,2682.2 1605.0,2685.7 1605.5,2688.7 1606.0,2691.9 1606.5,2694.9 1607.0,2697.5 1607.5,2699.4 1608.0,2700.2 1608.5,2700.6 1609.0,2701.0 1609.5,2701.3 1610.0,2701.4 1610.5,2700.7 1611.0,2698.9 1611.5,2696.4 1612.0,2693.7 1612.5,2691.4 1613.0,2689.7 1613.5,2688.0 1614.0,2686.4 1614.5,2684.9 1615.0,2683.9 1615.5,2683.5 1616.0,2683.7 1616.5,2684.3 1617.0,2685.1 1617.5,2686.2 1618.0,2687.3 1618.5,2688.4 1619.0,2689.4 1619.5,2690.6 1620.0,2692.1 1620.5,2693.7 1621.0,2695.2 1621.5,2696.6 1622.0,2697.7 1622.5,2698.4 1623.0,2698.6 1623.5,2698.5 1624.0,2698.1 1624.5,2697.6 1625.0,2697.0 1625.5,2696.4 1626.0,2695.7 1626.5,2695.1 1627.0,2694.5 1627.5,2694.1 1628.0,2693.6 1628.5,2693.0 1629.0,2692.5 1629.5,2692.0 1630.0,2691.6 1630.5,2691.4 1631.0,2691.2 1631.5,2691.3 1632.0,2691.6 1632.5,2692.1 1633.0,2692.8 1633.5,2693.7 1634.0,2694.7 1634.5,2696.9 1635.0,2700.3 1635.5,2704.4 1636.0,2708.7 1636.5,2712.7 1637.0,2716.1 1637.5,2719.7 1638.0,2723.3 1638.5,2726.5 1639.0,2729.0 1639.5,2730.4 1640.0,2731.3 1640.5,2732.1 1641.0,2732.8 1641.5,2733.3 1642.0,2733.5 1642.5,2733.3 1643.0,2732.6 1643.5,2731.4 1644.0,2729.9 1644.5,2728.3 1645.0,2726.6 1645.5,2725.2 1646.0,2724.0 1646.5,2722.7 1647.0,2721.3 1647.5,2720.0 1648.0,2718.9 1648.5,2718.1 1649.0,2717.8 1649.5,2718.0 1650.0,2718.6 1650.5,2719.5 1651.0,2720.5 1651.5,2721.6 1652.0,2722.7 1652.5,2723.8 1653.0,2725.1 1653.5,2726.7 1654.0,2728.4 1654.5,2729.9 1655.0,2731.2 1655.5,2732.1 1656.0,2732.4 1656.5,2732.5 1657.0,2732.6 1657.5,2732.7 1658.0,2732.8 1658.5,2732.9 1659.0,2732.9 1659.5,2732.9 1660.0,2732.9 1660.5,2732.8 1661.0,2732.5 1661.5,2732.1 1662.0,2731.6 1662.5,2731.1 1663.0,2730.7 1663.5,2730.4 1664.0,2730.2 1664.5,2730.3 1665.0,2730.6 1665.5,2731.1 1666.0,2731.8 1666.5,2732.5 1667.0,2733.4 1667.5,2734.3 1668.0,2735.3 1668.5,2736.2 1669.0,2737.3 1669.5,2738.6 1670.0,2740.0 1670.5,2741.6 1671.0,2743.2 1671.5,2744.9 1672.0,2746.6 1672.5,2748.3 1673.0,2749.9 1673.5,2751.5 1674.0,2753.0 1674.5,2754.5 1675.0,2756.0 1675.5,2757.6 1676.0,2759.1 1676.5,2760.6 1677.0,2762.1 1677.5,2763.6 1678.0,2765.1 1678.5,2766.6 1679.0,2768.0 1679.5,2769.5 1680.0,2770.9 1680.5,2772.3 1681.0,2773.8 1681.5,2775.2 1682.0,2776.6 1682.5,2778.0 1683.0,2779.3 1683.5,2780.7 1684.0,2782.0 1684.5,2783.2 1685.0,2784.5 1685.5,2785.7 1686.0,2787.0 1686.5,2788.3 1687.0,2789.6 1687.5,2790.8 1688.0,2792.0 1688.5,2793.1 1689.0,2794.1 1689.5,2795.0 1690.0,2795.8 1690.5,2796.5 1691.0,2797.2 1691.5,2797.9 1692.0,2798.5 1692.5,2799.1 1693.0,2799.7 1693.5,2800.2 1694.0,2800.7 1694.5,2801.0 1695.0,2801.3 1695.5,2801.5 1696.0,2801.6 1696.5,2801.7 1697.0,2801.8 1697.5,2801.9 1698.0,2802.0 1698.5,2802.0 1699.0,2802.1 1699.5,2802.2 1700.0,2802.2 1700.5,2802.3 1701.0,2802.3 1701.5,2802.3 1702.0,2802.4 1702.5,2802.4 1703.0,2802.5 1703.5,2802.5 1704.0,2802.5 1704.5,2802.6 1705.0,2802.6 1705.5,2802.6 1706.0,2802.7 1706.5,2802.7 1707.0,2802.7 1707.5,2802.8 1708.0,2802.8 1708.5,2802.8 1709.0,2802.9 1709.5,2802.9 1710.0,2803.0 1710.5,2803.0 1711.0,2803.1 1711.5,2803.2 1712.0,2803.2 1712.5,2803.3 1713.0,2803.4 1713.5,2803.4 1714.0,2803.5 1714.5,2803.6 1715.0,2803.6 1715.5,2803.7 1716.0,2803.8 1716.5,2803.8 1717.0,2803.9 1717.5,2803.9 1718.0,2804.0 1718.5,2804.0 1719.0,2804.1 1719.5,2804.1 1720.0,2804.2 1720.5,2804.2 1721.0,2804.2 1721.5,2804.3 1722.0,2804.3 1722.5,2804.3 1723.0,2804.3 1723.5,2804.3 1724.0,2804.3 1724.5,2804.3 1725.0,2804.2 1725.5,2804.2 1726.0,2804.1 1726.5,2804.0 1727.0,2803.9 1727.5,2803.8 1728.0,2803.7 1728.5,2803.6 1729.0,2803.5 1729.5,2803.4 1730.0,2803.3 1730.5,2803.2 1731.0,2803.0 1731.5,2802.9 1732.0,2802.7 1732.5,2802.4 1733.0,2802.1 1733.5,2801.8 1734.0,2801.5 1734.5,2801.1 1735.0,2800.8 1735.5,2800.5 1736.0,2800.3 1736.5,2800.2 1737.0,2800.2 1737.5,2800.2 1738.0,2800.2 1738.5,2800.3 1739.0,2800.3 1739.5,2800.4 1740.0,2800.5 1740.5,2800.6 1741.0,2800.7 1741.5,2800.8 1742.0,2800.9 1742.5,2801.0 1743.0,2801.1 1743.5,2801.2 1744.0,2801.3 1744.5,2801.4 1745.0,2801.5 1745.5,2801.7 1746.0,2801.8 1746.5,2801.9 1747.0,2802.1 1747.5,2802.3 1748.0,2802.5 1748.5,2802.7 1749.0,2802.8 1749.5,2803.0 1750.0,2803.2 1750.5,2803.4 1751.0,2803.6 1751.5,2803.7 1752.0,2803.9 1752.5,2804.0 1753.0,2804.1 1753.5,2804.2 1754.0,2804.3 1754.5,2804.3 1755.0,2804.3 1755.5,2804.3 1756.0,2804.3 1756.5,2804.3 1757.0,2804.3 1757.5,2804.3 1758.0,2804.3 1758.5,2804.3 1759.0,2804.3 1759.5,2804.2 1760.0,2804.2 1760.5,2804.2 1761.0,2804.1 1761.5,2804.1 1762.0,2804.1 1762.5,2804.0 1763.0,2803.9 1763.5,2803.9 1764.0,2803.8"/>
<path class="cv" stroke="#c4bd00" d="M412.0,2643.5 412.5,2643.5 413.0,2643.6 413.5,2643.6 414.0,2643.7 414.5,2643.7 415.0,2643.7 415.5,2643.8 416.0,2643.8 416.5,2643.9 417.0,2643.9 417.5,2643.9 418.0,2644.0 418.5,2644.0 419.0,2644.1 419.5,2644.1 420.0,2644.1 420.5,2644.2 421.0,2644.2 421.5,2644.3 422.0,2644.3 422.5,2644.3 423.0,2644.4 423.5,2644.4 424.0,2644.5 424.5,2644.5 425.0,2644.5 425.5,2644.6 426.0,2644.6 426.5,2644.7 427.0,2644.7 427.5,2644.7 428.0,2644.8 428.5,2644.8 429.0,2644.9 429.5,2644.9 430.0,2644.9 430.5,2645.0 431.0,2645.0 431.5,2645.1 432.0,2645.1 432.5,2645.2 433.0,2645.2 433.5,2645.2 434.0,2645.3 434.5,2645.3 435.0,2645.4 435.5,2645.4 436.0,2645.4 436.5,2645.5 437.0,2645.5 437.5,2645.6 438.0,2645.6 438.5,2645.6 439.0,2645.7 439.5,2645.7 440.0,2645.8 440.5,2645.8 441.0,2645.8 441.5,2645.9 442.0,2645.9 442.5,2646.0 443.0,2646.0 443.5,2646.0 444.0,2646.1 444.5,2646.1 445.0,2646.2 445.5,2646.2 446.0,2646.2 446.5,2646.3 447.0,2646.3 447.5,2646.4 448.0,2646.4 448.5,2646.4 449.0,2646.5 449.5,2646.5 450.0,2646.6 450.5,2646.6 451.0,2646.6 451.5,2646.7 452.0,2646.7 452.5,2646.8 453.0,2646.8 453.5,2646.8 454.0,2646.9 454.5,2646.9 455.0,2647.0 455.5,2647.0 456.0,2647.0 456.5,2647.1 457.0,2647.1 457.5,2647.2 458.0,2647.2 458.5,2647.2 459.0,2647.3 459.5,2647.3 460.0,2647.3 460.5,2647.4 461.0,2647.4 461.5,2647.5 462.0,2647.5 462.5,2647.5 463.0,2647.6 463.5,2647.6 464.0,2647.7 464.5,2647.7 465.0,2647.7 465.5,2647.8 466.0,2647.8 466.5,2647.9 467.0,2647.9 467.5,2647.9 468.0,2648.0 468.5,2648.0 469.0,2648.1 469.5,2648.1 470.0,2648.1 470.5,2648.2 471.0,2648.2 471.5,2648.2 472.0,2648.2 472.5,2648.2 473.0,2648.2 473.5,2648.2 474.0,2648.3 474.5,2648.3 475.0,2648.3 475.5,2648.3 476.0,2648.3 476.5,2648.3 477.0,2648.3 477.5,2648.3 478.0,2648.4 478.5,2648.4 479.0,2648.4 479.5,2648.4 480.0,2648.4 480.5,2648.4 481.0,2648.4 481.5,2648.5 482.0,2648.5 482.5,2648.5 483.0,2648.5 483.5,2648.5 484.0,2648.5 484.5,2648.5 485.0,2648.6 485.5,2648.6 486.0,2648.6 486.5,2648.6 487.0,2648.6 487.5,2648.6 488.0,2648.6 488.5,2648.6 489.0,2648.7 489.5,2648.7 490.0,2648.7 490.5,2648.7 491.0,2648.7 491.5,2648.7 492.0,2648.7 492.5,2648.8 493.0,2648.8 493.5,2648.8 494.0,2648.8 494.5,2648.8 495.0,2648.8 495.5,2648.8 496.0,2648.9 496.5,2648.9 497.0,2648.9 497.5,2648.9 498.0,2648.9 498.5,2648.9 499.0,2649.0 499.5,2649.0 500.0,2649.0 500.5,2649.0 501.0,2649.0 501.5,2649.0 502.0,2649.0 502.5,2649.1 503.0,2649.1 503.5,2649.1 504.0,2649.1 504.5,2649.1 505.0,2649.1 505.5,2649.2 506.0,2649.2 506.5,2649.2 507.0,2649.2 507.5,2649.2 508.0,2649.2 508.5,2649.2 509.0,2649.3 509.5,2649.3 510.0,2649.3 510.5,2649.3 511.0,2649.3 511.5,2649.3 512.0,2649.4 512.5,2649.4 513.0,2649.4 513.5,2649.4 514.0,2649.4 514.5,2649.4 515.0,2649.4 515.5,2649.5 516.0,2649.5 516.5,2649.5 517.0,2649.5 517.5,2649.5 518.0,2649.5 518.5,2649.5 519.0,2649.5 519.5,2649.6 520.0,2649.6 520.5,2649.6 521.0,2649.6 521.5,2649.5 522.0,2649.5 522.5,2649.5 523.0,2649.5 523.5,2649.5 524.0,2649.5 524.5,2649.5 525.0,2649.5 525.5,2649.5 526.0,2649.5 526.5,2649.5 527.0,2649.4 527.5,2649.4 528.0,2649.4 528.5,2649.4 529.0,2649.4 529.5,2649.4 530.0,2649.4 530.5,2649.4 531.0,2649.4 531.5,2649.3 532.0,2649.3 532.5,2649.3 533.0,2649.3 533.5,2649.3 534.0,2649.2 534.5,2649.2 535.0,2649.1 535.5,2649.1 536.0,2649.0 536.5,2648.9 537.0,2648.8 537.5,2648.8 538.0,2648.7 538.5,2648.6 539.0,2648.5 539.5,2648.4 540.0,2648.3 540.5,2648.2 541.0,2648.0 541.5,2647.9 542.0,2647.8 542.5,2647.7 543.0,2647.5 543.5,2647.4 544.0,2647.3 544.5,2647.1 545.0,2647.0 545.5,2646.9 546.0,2646.7 546.5,2646.6 547.0,2646.4 547.5,2646.3 548.0,2646.2 548.5,2646.0 549.0,2645.8 549.5,2645.7 550.0,2645.5 550.5,2645.3 551.0,2645.1 551.5,2644.9 552.0,2644.7 552.5,2644.4 553.0,2644.2 553.5,2644.0 554.0,2643.7 554.5,2643.5 555.0,2643.3 555.5,2643.0 556.0,2642.7 556.5,2642.5 557.0,2642.2 557.5,2642.0 558.0,2641.7 558.5,2641.4 559.0,2641.2 559.5,2640.9 560.0,2640.6 560.5,2640.3 561.0,2640.0 561.5,2639.6 562.0,2639.3 562.5,2638.9 563.0,2638.6 563.5,2638.2 564.0,2637.8 564.5,2637.5 565.0,2637.1 565.5,2636.7 566.0,2636.4 566.5,2636.1 567.0,2635.8 567.5,2635.5 568.0,2635.2 568.5,2634.9 569.0,2634.7 569.5,2634.4 570.0,2634.1 570.5,2633.9 571.0,2633.6 571.5,2633.3 572.0,2633.1 572.5,2632.9 573.0,2632.6 573.5,2632.5 574.0,2632.3 574.5,2632.2 575.0,2632.1 575.5,2632.0 576.0,2632.0 576.5,2632.0 577.0,2632.0 577.5,2632.0 578.0,2632.0 578.5,2632.0 579.0,2632.0 579.5,2632.0 580.0,2632.0 580.5,2632.0 581.0,2632.0 581.5,2632.0 582.0,2632.0 582.5,2632.0 583.0,2632.0 583.5,2632.0 584.0,2632.0 584.5,2632.0 585.0,2632.0 585.5,2632.0 586.0,2632.0 586.5,2632.0 587.0,2632.0 587.5,2632.0 588.0,2632.0 588.5,2632.0 589.0,2631.9 589.5,2631.7 590.0,2631.6 590.5,2631.3 591.0,2631.1 591.5,2630.8 592.0,2630.5 592.5,2630.2 593.0,2629.8 593.5,2629.5 594.0,2629.2 594.5,2628.9 595.0,2628.7 595.5,2628.4 596.0,2628.2 596.5,2627.9 597.0,2627.7 597.5,2627.5 598.0,2627.2 598.5,2627.0 599.0,2626.7 599.5,2626.5 600.0,2626.3 600.5,2626.0 601.0,2625.8 601.5,2625.6 602.0,2625.4 602.5,2625.2 603.0,2625.0 603.5,2624.8 604.0,2624.7 604.5,2624.6 605.0,2624.4 605.5,2624.3 606.0,2624.1 606.5,2624.0 607.0,2623.9 607.5,2623.7 608.0,2623.6 608.5,2623.5 609.0,2623.4 609.5,2623.3 610.0,2623.2 610.5,2623.2 611.0,2623.1 611.5,2623.1 612.0,2623.1 612.5,2623.1 613.0,2623.1 613.5,2623.2 614.0,2623.2 614.5,2623.3 615.0,2623.4 615.5,2623.5 616.0,2623.6 616.5,2623.8 617.0,2623.9 617.5,2624.0 618.0,2624.2 618.5,2624.3 619.0,2624.5 619.5,2624.6 620.0,2624.8 620.5,2624.9 621.0,2625.1 621.5,2625.3 622.0,2625.5 622.5,2625.7 623.0,2626.0 623.5,2626.2 624.0,2626.5 624.5,2626.7 625.0,2627.0 625.5,2627.3 626.0,2627.6 626.5,2627.9 627.0,2628.1 627.5,2628.4 628.0,2628.7 628.5,2629.0 629.0,2629.3 629.5,2629.6 630.0,2629.9 630.5,2630.1 631.0,2630.4 631.5,2630.6 632.0,2630.9 632.5,2631.2 633.0,2631.4 633.5,2631.7 634.0,2631.9 634.5,2632.2 635.0,2632.5 635.5,2632.7 636.0,2633.0 636.5,2633.3 637.0,2633.5 637.5,2633.8 638.0,2634.0 638.5,2634.3 639.0,2634.6 639.5,2634.8 640.0,2635.1 640.5,2635.3 641.0,2635.6 641.5,2635.9 642.0,2636.1 642.5,2636.4 643.0,2636.6 643.5,2636.8 644.0,2637.1 644.5,2637.3 645.0,2637.5 645.5,2637.8 646.0,2638.0 646.5,2638.2 647.0,2638.4 647.5,2638.6 648.0,2638.8 648.5,2639.0 649.0,2639.2 649.5,2639.4 650.0,2639.6 650.5,2639.9 651.0,2640.1 651.5,2640.3 652.0,2640.5 652.5,2640.6 653.0,2640.8 653.5,2641.0 654.0,2641.2 654.5,2641.4 655.0,2641.6 655.5,2641.8 656.0,2641.9 656.5,2642.1 657.0,2642.3 657.5,2642.5 658.0,2642.6 658.5,2642.8 659.0,2642.9 659.5,2643.1 660.0,2643.2 660.5,2643.4 661.0,2643.5 661.5,2643.6 662.0,2643.8 662.5,2643.9 663.0,2644.0 663.5,2644.2 664.0,2644.3 664.5,2644.4 665.0,2644.5 665.5,2644.6 666.0,2644.8 666.5,2644.9 667.0,2645.0 667.5,2645.1 668.0,2645.2 668.5,2645.3 669.0,2645.4 669.5,2645.5 670.0,2645.6 670.5,2645.7 671.0,2645.8 671.5,2645.9 672.0,2646.0 672.5,2646.1 673.0,2646.2 673.5,2646.3 674.0,2646.3 674.5,2646.4 675.0,2646.5 675.5,2646.6 676.0,2646.6 676.5,2646.7 677.0,2646.8 677.5,2646.8 678.0,2646.9 678.5,2647.0 679.0,2647.0 679.5,2647.1 680.0,2647.1 680.5,2647.2 681.0,2647.3 681.5,2647.3 682.0,2647.4 682.5,2647.5 683.0,2647.5 683.5,2647.6 684.0,2647.7 684.5,2647.7 685.0,2647.8 685.5,2647.8 686.0,2647.9 686.5,2647.9 687.0,2648.0 687.5,2648.1 688.0,2648.1 688.5,2648.2 689.0,2648.2 689.5,2648.3 690.0,2648.3 690.5,2648.4 691.0,2648.4 691.5,2648.4 692.0,2648.5 692.5,2648.5 693.0,2648.6 693.5,2648.6 694.0,2648.6 694.5,2648.7 695.0,2648.7 695.5,2648.7 696.0,2648.8 696.5,2648.8 697.0,2648.8 697.5,2648.8 698.0,2648.8 698.5,2648.9 699.0,2648.9 699.5,2648.9 700.0,2648.9 700.5,2648.9 701.0,2648.9 701.5,2648.9 702.0,2648.9 702.5,2648.9 703.0,2648.9 703.5,2648.9 704.0,2648.9 704.5,2648.9 705.0,2648.9 705.5,2648.9 706.0,2648.8 706.5,2648.8 707.0,2648.8 707.5,2648.8 708.0,2648.8 708.5,2648.8 709.0,2648.8 709.5,2648.8 710.0,2648.8 710.5,2648.8 711.0,2648.8 711.5,2648.8 712.0,2648.8 712.5,2648.8 713.0,2648.8 713.5,2648.8 714.0,2648.8 714.5,2648.8 715.0,2648.8 715.5,2648.8 716.0,2648.8 716.5,2648.8 717.0,2648.8 717.5,2648.8 718.0,2648.8 718.5,2648.8 719.0,2648.8 719.5,2648.8 720.0,2648.8 720.5,2648.8 721.0,2648.8 721.5,2648.8 722.0,2648.8 722.5,2648.8 723.0,2648.8 723.5,2648.8 724.0,2648.7 724.5,2648.7 725.0,2648.7 725.5,2648.7 726.0,2648.7 726.5,2648.7 727.0,2648.7 727.5,2648.7 728.0,2648.7 728.5,2648.7 729.0,2648.7 729.5,2648.7 730.0,2648.7 730.5,2648.7 731.0,2648.7 731.5,2648.7 732.0,2648.7 732.5,2648.7 733.0,2648.7 733.5,2648.7 734.0,2648.7 734.5,2648.7 735.0,2648.7 735.5,2648.6 736.0,2648.6 736.5,2648.6 737.0,2648.6 737.5,2648.6 738.0,2648.6 738.5,2648.6 739.0,2648.6 739.5,2648.5 740.0,2648.5 740.5,2648.5 741.0,2648.5 741.5,2648.5 742.0,2648.5 742.5,2648.5 743.0,2648.4 743.5,2648.4 744.0,2648.4 744.5,2648.4 745.0,2648.4 745.5,2648.3 746.0,2648.3 746.5,2648.3 747.0,2648.3 747.5,2648.3 748.0,2648.2 748.5,2648.2 749.0,2648.2 749.5,2648.2 750.0,2648.1 750.5,2648.1 751.0,2648.1 751.5,2648.1 752.0,2648.1 752.5,2648.0 753.0,2648.0 753.5,2648.0 754.0,2648.0 754.5,2647.9 755.0,2647.9 755.5,2647.9 756.0,2647.9 756.5,2647.8 757.0,2647.8 757.5,2647.8 758.0,2647.8 758.5,2647.7 759.0,2647.7 759.5,2647.7 760.0,2647.7 760.5,2647.7 761.0,2647.6 761.5,2647.6 762.0,2647.6 762.5,2647.6 763.0,2647.5 763.5,2647.5 764.0,2647.5 764.5,2647.5 765.0,2647.5 765.5,2647.4 766.0,2647.4 766.5,2647.4 767.0,2647.4 767.5,2647.3 768.0,2647.3 768.5,2647.3 769.0,2647.3 769.5,2647.2 770.0,2647.2 770.5,2647.2 771.0,2647.2 771.5,2647.1 772.0,2647.1 772.5,2647.1 773.0,2647.0 773.5,2647.0 774.0,2647.0 774.5,2647.0 775.0,2646.9 775.5,2646.9 776.0,2646.8 776.5,2646.8 777.0,2646.8 777.5,2646.7 778.0,2646.7 778.5,2646.6 779.0,2646.6 779.5,2646.6 780.0,2646.5 780.5,2646.5 781.0,2646.4 781.5,2646.4 782.0,2646.3 782.5,2646.2 783.0,2646.2 783.5,2646.1 784.0,2646.0 784.5,2645.9 785.0,2645.8 785.5,2645.7 786.0,2645.6 786.5,2645.4 787.0,2645.3 787.5,2645.2 788.0,2645.0 788.5,2644.8 789.0,2644.7 789.5,2644.5 790.0,2644.3 790.5,2644.1 791.0,2643.9 791.5,2643.7 792.0,2643.4 792.5,2643.2 793.0,2642.9 793.5,2642.7 794.0,2642.4 794.5,2642.1 795.0,2641.9 795.5,2641.6 796.0,2641.3 796.5,2641.0 797.0,2640.6 797.5,2640.3 798.0,2639.8 798.5,2639.3 799.0,2638.8 799.5,2638.1 800.0,2637.4 800.5,2636.7 801.0,2635.9 801.5,2635.0 802.0,2634.1 802.5,2633.1 803.0,2632.0 803.5,2630.8 804.0,2629.4 804.5,2627.9 805.0,2626.1 805.5,2624.1 806.0,2622.0 806.5,2619.8 807.0,2617.3 807.5,2614.3 808.0,2611.0 808.5,2607.1 809.0,2602.9 809.5,2598.2 810.0,2592.9 810.5,2586.5 811.0,2578.9 811.5,2570.8 812.0,2562.5 812.5,2553.9 813.0,2544.9 813.5,2535.3 814.0,2525.5 814.5,2515.4 815.0,2504.9 815.5,2493.8 816.0,2481.6 816.5,2468.5 817.0,2457.1 817.5,2447.7 818.0,2439.5 818.5,2433.4 819.0,2428.0 819.5,2423.5 820.0,2420.6 820.5,2419.8 821.0,2419.4 821.5,2419.1 822.0,2419.1 822.5,2420.3 823.0,2424.4 823.5,2430.1 824.0,2435.8 824.5,2442.9 825.0,2450.9 825.5,2457.5 826.0,2462.0 826.5,2466.0 827.0,2468.4 827.5,2468.4 828.0,2466.9 828.5,2464.4 829.0,2461.2 829.5,2456.3 830.0,2448.4 830.5,2439.2 831.0,2429.9 831.5,2419.2 832.0,2408.2 832.5,2397.7 833.0,2386.4 833.5,2376.8 834.0,2371.1 834.5,2366.9 835.0,2363.8 835.5,2362.2 836.0,2361.1 836.5,2360.4 837.0,2359.8 837.5,2359.3 838.0,2358.8 838.5,2358.5 839.0,2358.3 839.5,2358.0 840.0,2357.8 840.5,2357.5 841.0,2357.0 841.5,2356.2 842.0,2354.7 842.5,2352.6 843.0,2350.0 843.5,2347.1 844.0,2343.9 844.5,2339.8 845.0,2334.6 845.5,2328.5 846.0,2322.1 846.5,2315.6 847.0,2309.7 847.5,2304.0 848.0,2298.4 848.5,2292.8 849.0,2287.2 849.5,2281.4 850.0,2275.6 850.5,2269.6 851.0,2263.5 851.5,2257.3 852.0,2251.1 852.5,2244.9 853.0,2238.7 853.5,2232.6 854.0,2226.6 854.5,2220.5 855.0,2214.3 855.5,2208.0 856.0,2201.4 856.5,2194.5 857.0,2187.6 857.5,2180.8 858.0,2174.3 858.5,2168.2 859.0,2162.1 859.5,2156.3 860.0,2151.5 860.5,2147.8 861.0,2144.4 861.5,2142.5 862.0,2143.5 862.5,2148.2 863.0,2155.1 863.5,2162.9 864.0,2172.1 864.5,2184.4 865.0,2198.2 865.5,2212.3 866.0,2227.6 866.5,2243.5 867.0,2259.0 867.5,2274.3 868.0,2289.6 868.5,2305.0 869.0,2321.5 869.5,2337.6 870.0,2351.0 870.5,2360.4 871.0,2367.7 871.5,2374.8 872.0,2383.8 872.5,2398.3 873.0,2421.5 873.5,2437.4 874.0,2450.3 874.5,2462.8 875.0,2476.0 875.5,2488.6 876.0,2498.8 876.5,2507.2 877.0,2514.7 877.5,2521.2 878.0,2527.0 878.5,2532.2 879.0,2537.0 879.5,2541.3 880.0,2545.2 880.5,2548.6 881.0,2551.5 881.5,2554.0 882.0,2556.3 882.5,2558.4 883.0,2560.4 883.5,2562.2 884.0,2564.0 884.5,2565.9 885.0,2567.7 885.5,2569.6 886.0,2571.4 886.5,2573.2 887.0,2575.0 887.5,2576.7 888.0,2578.4 888.5,2580.0 889.0,2581.6 889.5,2583.1 890.0,2584.7 890.5,2586.2 891.0,2587.7 891.5,2589.2 892.0,2590.6 892.5,2592.0 893.0,2593.3 893.5,2594.6 894.0,2595.7 894.5,2596.7 895.0,2597.7 895.5,2598.5 896.0,2599.4 896.5,2600.2 897.0,2600.9 897.5,2601.6 898.0,2602.3 898.5,2602.9 899.0,2603.5 899.5,2604.0 900.0,2604.5 900.5,2605.0 901.0,2605.5 901.5,2606.0 902.0,2606.4 902.5,2606.8 903.0,2607.2 903.5,2607.5 904.0,2607.9 904.5,2608.2 905.0,2608.5 905.5,2608.7 906.0,2609.0 906.5,2609.2 907.0,2609.4 907.5,2609.7 908.0,2609.9 908.5,2610.1 909.0,2610.3 909.5,2610.6 910.0,2610.8 910.5,2611.1 911.0,2611.3 911.5,2611.6 912.0,2611.8 912.5,2612.1 913.0,2612.3 913.5,2612.6 914.0,2612.9 914.5,2613.1 915.0,2613.5 915.5,2613.8 916.0,2614.2 916.5,2614.6 917.0,2615.0 917.5,2615.5 918.0,2615.9 918.5,2616.5 919.0,2617.0 919.5,2617.5 920.0,2618.1 920.5,2618.6 921.0,2619.1 921.5,2619.7 922.0,2620.2 922.5,2620.7 923.0,2621.2 923.5,2621.7 924.0,2622.2 924.5,2622.7 925.0,2623.2 925.5,2623.7 926.0,2624.2 926.5,2624.6 927.0,2625.1 927.5,2625.6 928.0,2626.1 928.5,2626.6 929.0,2627.1 929.5,2627.6 930.0,2628.1 930.5,2628.7 931.0,2629.2 931.5,2629.8 932.0,2630.3 932.5,2630.9 933.0,2631.4 933.5,2631.9 934.0,2632.4 934.5,2632.8 935.0,2633.2 935.5,2633.5 936.0,2633.8 936.5,2634.1 937.0,2634.4 937.5,2634.6 938.0,2634.9 938.5,2635.1 939.0,2635.3 939.5,2635.5 940.0,2635.8 940.5,2635.9 941.0,2636.1 941.5,2636.3 942.0,2636.5 942.5,2636.6 943.0,2636.8 943.5,2636.9 944.0,2637.1 944.5,2637.2 945.0,2637.4 945.5,2637.5 946.0,2637.6 946.5,2637.7 947.0,2637.8 947.5,2638.0 948.0,2638.1 948.5,2638.2 949.0,2638.3 949.5,2638.4 950.0,2638.5 950.5,2638.6 951.0,2638.7 951.5,2638.8 952.0,2638.8 952.5,2638.9 953.0,2639.0 953.5,2639.1 954.0,2639.2 954.5,2639.3 955.0,2639.4 955.5,2639.5 956.0,2639.6 956.5,2639.7 957.0,2639.8 957.5,2639.9 958.0,2640.0 958.5,2640.2 959.0,2640.3 959.5,2640.4 960.0,2640.5 960.5,2640.6 961.0,2640.6 961.5,2640.7 962.0,2640.8 962.5,2640.9 963.0,2641.0 963.5,2641.0 964.0,2641.1 964.5,2641.1 965.0,2641.1 965.5,2641.2 966.0,2641.2 966.5,2641.2 967.0,2641.2 967.5,2641.3 968.0,2641.3 968.5,2641.3 969.0,2641.3 969.5,2641.3 970.0,2641.3 970.5,2641.3 971.0,2641.4 971.5,2641.4 972.0,2641.4 972.5,2641.4 973.0,2641.4 973.5,2641.5 974.0,2641.5 974.5,2641.5 975.0,2641.6 975.5,2641.6 976.0,2641.7 976.5,2641.9 977.0,2642.1 977.5,2642.3 978.0,2642.5 978.5,2642.8 979.0,2643.0 979.5,2643.3 980.0,2643.6 980.5,2643.8 981.0,2644.0 981.5,2644.3 982.0,2644.4 982.5,2644.6 983.0,2644.7 983.5,2644.8 984.0,2645.0 984.5,2645.1 985.0,2645.2 985.5,2645.3 986.0,2645.5 986.5,2645.6 987.0,2645.7 987.5,2645.8 988.0,2645.9 988.5,2646.0 989.0,2646.1 989.5,2646.1 990.0,2646.2 990.5,2646.2 991.0,2646.3 991.5,2646.3 992.0,2646.3 992.5,2646.3 993.0,2646.3 993.5,2646.3 994.0,2646.2 994.5,2646.2 995.0,2646.2 995.5,2646.2 996.0,2646.1 996.5,2646.1 997.0,2646.1 997.5,2646.1 998.0,2646.0 998.5,2646.0 999.0,2646.0 999.5,2646.0 1000.0,2646.0 1000.5,2646.0 1001.0,2646.0 1001.5,2646.0 1002.0,2646.0 1002.5,2646.0 1003.0,2646.0 1003.5,2646.0 1004.0,2646.0 1004.5,2646.1 1005.0,2646.1 1005.5,2646.1 1006.0,2646.1 1006.5,2646.1 1007.0,2646.2 1007.5,2646.2 1008.0,2646.2 1008.5,2646.2 1009.0,2646.3 1009.5,2646.3 1010.0,2646.3 1010.5,2646.4 1011.0,2646.4 1011.5,2646.4 1012.0,2646.5 1012.5,2646.5 1013.0,2646.5 1013.5,2646.6 1014.0,2646.6 1014.5,2646.7 1015.0,2646.7 1015.5,2646.7 1016.0,2646.8 1016.5,2646.8 1017.0,2646.8 1017.5,2646.9 1018.0,2646.9 1018.5,2646.9 1019.0,2647.0 1019.5,2647.0 1020.0,2647.0 1020.5,2647.1 1021.0,2647.1 1021.5,2647.1 1022.0,2647.2 1022.5,2647.2 1023.0,2647.2 1023.5,2647.3 1024.0,2647.3 1024.5,2647.3 1025.0,2647.3 1025.5,2647.3 1026.0,2647.4 1026.5,2647.4 1027.0,2647.4 1027.5,2647.4 1028.0,2647.4 1028.5,2647.4 1029.0,2647.5 1029.5,2647.5 1030.0,2647.5 1030.5,2647.5 1031.0,2647.5 1031.5,2647.5 1032.0,2647.6 1032.5,2647.6 1033.0,2647.6 1033.5,2647.6 1034.0,2647.6 1034.5,2647.6 1035.0,2647.7 1035.5,2647.7 1036.0,2647.7 1036.5,2647.7 1037.0,2647.7 1037.5,2647.7 1038.0,2647.8 1038.5,2647.8 1039.0,2647.8 1039.5,2647.8 1040.0,2647.8 1040.5,2647.8 1041.0,2647.9 1041.5,2647.9 1042.0,2647.9 1042.5,2647.9 1043.0,2647.9 1043.5,2647.9 1044.0,2647.9 1044.5,2648.0 1045.0,2648.0 1045.5,2648.0 1046.0,2648.0 1046.5,2648.0 1047.0,2648.0 1047.5,2648.0 1048.0,2648.0 1048.5,2648.0 1049.0,2648.1 1049.5,2648.1 1050.0,2648.1 1050.5,2648.1 1051.0,2648.1 1051.5,2648.1 1052.0,2648.1 1052.5,2648.1 1053.0,2648.1 1053.5,2648.1 1054.0,2648.1 1054.5,2648.2 1055.0,2648.2 1055.5,2648.2 1056.0,2648.2 1056.5,2648.2 1057.0,2648.2 1057.5,2648.2 1058.0,2648.2 1058.5,2648.2 1059.0,2648.2 1059.5,2648.2 1060.0,2648.2 1060.5,2648.2 1061.0,2648.2 1061.5,2648.2 1062.0,2648.2 1062.5,2648.2 1063.0,2648.2 1063.5,2648.2 1064.0,2648.2 1064.5,2648.2 1065.0,2648.2 1065.5,2648.2 1066.0,2648.1 1066.5,2648.1 1067.0,2648.1 1067.5,2648.1 1068.0,2648.0 1068.5,2648.0 1069.0,2648.0 1069.5,2647.9 1070.0,2647.9 1070.5,2647.8 1071.0,2647.8 1071.5,2647.7 1072.0,2647.7 1072.5,2647.6 1073.0,2647.6 1073.5,2647.5 1074.0,2647.5 1074.5,2647.4 1075.0,2647.3 1075.5,2647.3 1076.0,2647.2 1076.5,2647.1 1077.0,2647.1 1077.5,2647.0 1078.0,2646.9 1078.5,2646.8 1079.0,2646.8 1079.5,2646.7 1080.0,2646.6 1080.5,2646.5 1081.0,2646.5 1081.5,2646.4 1082.0,2646.3 1082.5,2646.2 1083.0,2646.2 1083.5,2646.1 1084.0,2646.0 1084.5,2645.9 1085.0,2645.8 1085.5,2645.8 1086.0,2645.7 1086.5,2645.6 1087.0,2645.5 1087.5,2645.5 1088.0,2645.4 1088.5,2645.3 1089.0,2645.2 1089.5,2645.2 1090.0,2645.1 1090.5,2645.0 1091.0,2645.0 1091.5,2644.9 1092.0,2644.8 1092.5,2644.8 1093.0,2644.7 1093.5,2644.7 1094.0,2644.6 1094.5,2644.6 1095.0,2644.5 1095.5,2644.5 1096.0,2644.4 1096.5,2644.4 1097.0,2644.3 1097.5,2644.3 1098.0,2644.3 1098.5,2644.2 1099.0,2644.2 1099.5,2644.1 1100.0,2644.1 1100.5,2644.1 1101.0,2644.0 1101.5,2644.0 1102.0,2644.0 1102.5,2643.9 1103.0,2643.9 1103.5,2643.8 1104.0,2643.8 1104.5,2643.8 1105.0,2643.7 1105.5,2643.7 1106.0,2643.7 1106.5,2643.6 1107.0,2643.6 1107.5,2643.5 1108.0,2643.5 1108.5,2643.5 1109.0,2643.4 1109.5,2643.4 1110.0,2643.4 1110.5,2643.3 1111.0,2643.3 1111.5,2643.3 1112.0,2643.2 1112.5,2643.2 1113.0,2643.2 1113.5,2643.1 1114.0,2643.1 1114.5,2643.1 1115.0,2643.0 1115.5,2643.0 1116.0,2643.0 1116.5,2642.9 1117.0,2642.9 1117.5,2642.9 1118.0,2642.9 1118.5,2642.8 1119.0,2642.8 1119.5,2642.8 1120.0,2642.8 1120.5,2642.7 1121.0,2642.7 1121.5,2642.7 1122.0,2642.7 1122.5,2642.6 1123.0,2642.6 1123.5,2642.6 1124.0,2642.6 1124.5,2642.6 1125.0,2642.5 1125.5,2642.5 1126.0,2642.5 1126.5,2642.5 1127.0,2642.5 1127.5,2642.5 1128.0,2642.5 1128.5,2642.5 1129.0,2642.4 1129.5,2642.4 1130.0,2642.4 1130.5,2642.4 1131.0,2642.4 1131.5,2642.4 1132.0,2642.4 1132.5,2642.4 1133.0,2642.4 1133.5,2642.4 1134.0,2642.4 1134.5,2642.4 1135.0,2642.5 1135.5,2642.5 1136.0,2642.5 1136.5,2642.5 1137.0,2642.5 1137.5,2642.6 1138.0,2642.6 1138.5,2642.6 1139.0,2642.7 1139.5,2642.7 1140.0,2642.7 1140.5,2642.8 1141.0,2642.8 1141.5,2642.8 1142.0,2642.9 1142.5,2642.9 1143.0,2643.0 1143.5,2643.0 1144.0,2643.1 1144.5,2643.1 1145.0,2643.2 1145.5,2643.2 1146.0,2643.2 1146.5,2643.3 1147.0,2643.3 1147.5,2643.4 1148.0,2643.4 1148.5,2643.5 1149.0,2643.6 1149.5,2643.6 1150.0,2643.7 1150.5,2643.7 1151.0,2643.8 1151.5,2643.8 1152.0,2643.9 1152.5,2643.9 1153.0,2644.0 1153.5,2644.0 1154.0,2644.1 1154.5,2644.1 1155.0,2644.2 1155.5,2644.2 1156.0,2644.3 1156.5,2644.3 1157.0,2644.4 1157.5,2644.4 1158.0,2644.4 1158.5,2644.5 1159.0,2644.5 1159.5,2644.6 1160.0,2644.6 1160.5,2644.6 1161.0,2644.7 1161.5,2644.7 1162.0,2644.7 1162.5,2644.8 1163.0,2644.8 1163.5,2644.8 1164.0,2644.8 1164.5,2644.9 1165.0,2644.9 1165.5,2644.9 1166.0,2644.9 1166.5,2644.9 1167.0,2644.9 1167.5,2644.9 1168.0,2644.9 1168.5,2644.9 1169.0,2644.9 1169.5,2644.9 1170.0,2644.9 1170.5,2644.9 1171.0,2644.9 1171.5,2644.9 1172.0,2644.9 1172.5,2644.9 1173.0,2644.8 1173.5,2644.8 1174.0,2644.8 1174.5,2644.8 1175.0,2644.7 1175.5,2644.7 1176.0,2644.7 1176.5,2644.6 1177.0,2644.6 1177.5,2644.5 1178.0,2644.5 1178.5,2644.5 1179.0,2644.4 1179.5,2644.4 1180.0,2644.3 1180.5,2644.3 1181.0,2644.2 1181.5,2644.2 1182.0,2644.1 1182.5,2644.1 1183.0,2644.0 1183.5,2644.0 1184.0,2643.9 1184.5,2643.8 1185.0,2643.8 1185.5,2643.7 1186.0,2643.7 1186.5,2643.6 1187.0,2643.6 1187.5,2643.5 1188.0,2643.4 1188.5,2643.4 1189.0,2643.3 1189.5,2643.2 1190.0,2643.2 1190.5,2643.1 1191.0,2643.0 1191.5,2643.0 1192.0,2642.9 1192.5,2642.9 1193.0,2642.8 1193.5,2642.7 1194.0,2642.7 1194.5,2642.6 1195.0,2642.5 1195.5,2642.5 1196.0,2642.4 1196.5,2642.4 1197.0,2642.3 1197.5,2642.2 1198.0,2642.2 1198.5,2642.1 1199.0,2642.1 1199.5,2642.0 1200.0,2641.9 1200.5,2641.9 1201.0,2641.8 1201.5,2641.8 1202.0,2641.7 1202.5,2641.7 1203.0,2641.6 1203.5,2641.6 1204.0,2641.5 1204.5,2641.5 1205.0,2641.4 1205.5,2641.4 1206.0,2641.4 1206.5,2641.3 1207.0,2641.3 1207.5,2641.3 1208.0,2641.2 1208.5,2641.2 1209.0,2641.1 1209.5,2641.1 1210.0,2641.0 1210.5,2641.0 1211.0,2641.0 1211.5,2640.9 1212.0,2640.9 1212.5,2640.8 1213.0,2640.8 1213.5,2640.7 1214.0,2640.7 1214.5,2640.7 1215.0,2640.6 1215.5,2640.6 1216.0,2640.5 1216.5,2640.5 1217.0,2640.5 1217.5,2640.4 1218.0,2640.4 1218.5,2640.4 1219.0,2640.4 1219.5,2640.3 1220.0,2640.3 1220.5,2640.3 1221.0,2640.3 1221.5,2640.3 1222.0,2640.2 1222.5,2640.2 1223.0,2640.2 1223.5,2640.2 1224.0,2640.2 1224.5,2640.3 1225.0,2640.3 1225.5,2640.3 1226.0,2640.4 1226.5,2640.4 1227.0,2640.5 1227.5,2640.6 1228.0,2640.7 1228.5,2640.8 1229.0,2640.9 1229.5,2641.0 1230.0,2641.1 1230.5,2641.2 1231.0,2641.3 1231.5,2641.4 1232.0,2641.5 1232.5,2641.7 1233.0,2641.8 1233.5,2641.9 1234.0,2642.1 1234.5,2642.2 1235.0,2642.3 1235.5,2642.4 1236.0,2642.6 1236.5,2642.7 1237.0,2642.8 1237.5,2642.9 1238.0,2643.1 1238.5,2643.2 1239.0,2643.3 1239.5,2643.4 1240.0,2643.5 1240.5,2643.6 1241.0,2643.6 1241.5,2643.7 1242.0,2643.8 1242.5,2643.9 1243.0,2644.0 1243.5,2644.1 1244.0,2644.2 1244.5,2644.3 1245.0,2644.4 1245.5,2644.5 1246.0,2644.6 1246.5,2644.7 1247.0,2644.8 1247.5,2644.9 1248.0,2645.0 1248.5,2645.1 1249.0,2645.2 1249.5,2645.3 1250.0,2645.4 1250.5,2645.5 1251.0,2645.6 1251.5,2645.7 1252.0,2645.8 1252.5,2645.9 1253.0,2645.9 1253.5,2646.0 1254.0,2646.1 1254.5,2646.2 1255.0,2646.2 1255.5,2646.3 1256.0,2646.4 1256.5,2646.4 1257.0,2646.5 1257.5,2646.6 1258.0,2646.6 1258.5,2646.6 1259.0,2646.7 1259.5,2646.7 1260.0,2646.7 1260.5,2646.8 1261.0,2646.8 1261.5,2646.8 1262.0,2646.8 1262.5,2646.8 1263.0,2646.9 1263.5,2646.9 1264.0,2646.9 1264.5,2646.9 1265.0,2646.9 1265.5,2646.9 1266.0,2646.9 1266.5,2647.0 1267.0,2647.0 1267.5,2647.0 1268.0,2647.0 1268.5,2647.0 1269.0,2647.0 1269.5,2647.0 1270.0,2647.0 1270.5,2647.1 1271.0,2647.1 1271.5,2647.1 1272.0,2647.1 1272.5,2647.1 1273.0,2647.1 1273.5,2647.1 1274.0,2647.1 1274.5,2647.1 1275.0,2647.1 1275.5,2647.1 1276.0,2647.1 1276.5,2647.1 1277.0,2647.1 1277.5,2647.1 1278.0,2647.1 1278.5,2647.2 1279.0,2647.2 1279.5,2647.2 1280.0,2647.2 1280.5,2647.1 1281.0,2647.1 1281.5,2647.1 1282.0,2647.1 1282.5,2647.1 1283.0,2647.1 1283.5,2647.1 1284.0,2647.1 1284.5,2647.1 1285.0,2647.1 1285.5,2647.1 1286.0,2647.1 1286.5,2647.1 1287.0,2647.1 1287.5,2647.0 1288.0,2647.0 1288.5,2647.0 1289.0,2647.0 1289.5,2647.0 1290.0,2646.9 1290.5,2646.9 1291.0,2646.9 1291.5,2646.9 1292.0,2646.9 1292.5,2646.8 1293.0,2646.8 1293.5,2646.8 1294.0,2646.8 1294.5,2646.7 1295.0,2646.7 1295.5,2646.7 1296.0,2646.6 1296.5,2646.6 1297.0,2646.5 1297.5,2646.5 1298.0,2646.4 1298.5,2646.4 1299.0,2646.3 1299.5,2646.3 1300.0,2646.2 1300.5,2646.1 1301.0,2646.1 1301.5,2646.0 1302.0,2645.9 1302.5,2645.8 1303.0,2645.7 1303.5,2645.6 1304.0,2645.4 1304.5,2645.3 1305.0,2645.1 1305.5,2644.9 1306.0,2644.7 1306.5,2644.5 1307.0,2644.3 1307.5,2644.0 1308.0,2643.7 1308.5,2643.3 1309.0,2642.9 1309.5,2642.5 1310.0,2642.0 1310.5,2641.4 1311.0,2640.8 1311.5,2640.1 1312.0,2639.4 1312.5,2638.6 1313.0,2637.7 1313.5,2636.9 1314.0,2636.1 1314.5,2635.4 1315.0,2634.8 1315.5,2634.4 1316.0,2634.3 1316.5,2634.5 1317.0,2635.3 1317.5,2636.3 1318.0,2637.5 1318.5,2638.7 1319.0,2639.8 1319.5,2640.8 1320.0,2641.6 1320.5,2642.4 1321.0,2643.0 1321.5,2643.5 1322.0,2644.0 1322.5,2644.3 1323.0,2644.6 1323.5,2644.9 1324.0,2645.1 1324.5,2645.2 1325.0,2645.4 1325.5,2645.5 1326.0,2645.5 1326.5,2645.6 1327.0,2645.6 1327.5,2645.6 1328.0,2645.6 1328.5,2645.6 1329.0,2645.6 1329.5,2645.5 1330.0,2645.5 1330.5,2645.4 1331.0,2645.3 1331.5,2645.2 1332.0,2645.2 1332.5,2645.1 1333.0,2645.0 1333.5,2644.9 1334.0,2644.7 1334.5,2644.6 1335.0,2644.5 1335.5,2644.4 1336.0,2644.2 1336.5,2644.0 1337.0,2643.7 1337.5,2643.4 1338.0,2643.0 1338.5,2642.6 1339.0,2642.2 1339.5,2641.8 1340.0,2641.4 1340.5,2641.0 1341.0,2640.7 1341.5,2640.3 1342.0,2640.0 1342.5,2639.8 1343.0,2639.6 1343.5,2639.5 1344.0,2639.5 1344.5,2639.5 1345.0,2639.5 1345.5,2639.6 1346.0,2639.7 1346.5,2639.8 1347.0,2640.0 1347.5,2640.2 1348.0,2640.3 1348.5,2640.5 1349.0,2640.7 1349.5,2640.9 1350.0,2641.1 1350.5,2641.2 1351.0,2641.4 1351.5,2641.6 1352.0,2641.7 1352.5,2641.9 1353.0,2642.0 1353.5,2642.2 1354.0,2642.3 1354.5,2642.5 1355.0,2642.6 1355.5,2642.8 1356.0,2642.9 1356.5,2643.1 1357.0,2643.3 1357.5,2643.4 1358.0,2643.6 1358.5,2643.7 1359.0,2643.9 1359.5,2644.0 1360.0,2644.2 1360.5,2644.3 1361.0,2644.5 1361.5,2644.6 1362.0,2644.7 1362.5,2644.8 1363.0,2644.9 1363.5,2645.0 1364.0,2645.1 1364.5,2645.1 1365.0,2645.2 1365.5,2645.2 1366.0,2645.3 1366.5,2645.3 1367.0,2645.3 1367.5,2645.3 1368.0,2645.3 1368.5,2645.3 1369.0,2645.4 1369.5,2645.4 1370.0,2645.4 1370.5,2645.4 1371.0,2645.4 1371.5,2645.4 1372.0,2645.4 1372.5,2645.5 1373.0,2645.5 1373.5,2645.5 1374.0,2645.5 1374.5,2645.5 1375.0,2645.5 1375.5,2645.5 1376.0,2645.5 1376.5,2645.5 1377.0,2645.5 1377.5,2645.5 1378.0,2645.5 1378.5,2645.5 1379.0,2645.5 1379.5,2645.5 1380.0,2645.6 1380.5,2645.6 1381.0,2645.6 1381.5,2645.6 1382.0,2645.6 1382.5,2645.6 1383.0,2645.6 1383.5,2645.5 1384.0,2645.4 1384.5,2645.3 1385.0,2645.2 1385.5,2645.1 1386.0,2645.1 1386.5,2645.0 1387.0,2644.9 1387.5,2644.9 1388.0,2644.8 1388.5,2644.8 1389.0,2644.7 1389.5,2644.7 1390.0,2644.6 1390.5,2644.5 1391.0,2644.5 1391.5,2644.4 1392.0,2644.3 1392.5,2644.2 1393.0,2644.2 1393.5,2644.1 1394.0,2644.0 1394.5,2643.8 1395.0,2643.7 1395.5,2643.6 1396.0,2643.4 1396.5,2643.3 1397.0,2643.1 1397.5,2642.9 1398.0,2642.7 1398.5,2642.5 1399.0,2642.2 1399.5,2642.0 1400.0,2641.7 1400.5,2641.4 1401.0,2641.1 1401.5,2640.7 1402.0,2640.4 1402.5,2639.9 1403.0,2639.4 1403.5,2638.7 1404.0,2637.9 1404.5,2637.0 1405.0,2636.0 1405.5,2634.9 1406.0,2633.7 1406.5,2632.2 1407.0,2630.3 1407.5,2627.9 1408.0,2625.3 1408.5,2622.3 1409.0,2619.2 1409.5,2616.0 1410.0,2612.8 1410.5,2609.5 1411.0,2605.9 1411.5,2602.0 1412.0,2598.0 1412.5,2593.8 1413.0,2589.5 1413.5,2585.2 1414.0,2581.1 1414.5,2577.0 1415.0,2572.8 1415.5,2568.4 1416.0,2563.9 1416.5,2559.6 1417.0,2555.4 1417.5,2551.5 1418.0,2548.1 1418.5,2545.2 1419.0,2542.4 1419.5,2539.7 1420.0,2537.2 1420.5,2535.3 1421.0,2534.2 1421.5,2533.8 1422.0,2533.5 1422.5,2533.3 1423.0,2533.2 1423.5,2533.2 1424.0,2533.8 1424.5,2535.2 1425.0,2537.1 1425.5,2539.4 1426.0,2542.1 1426.5,2545.6 1427.0,2551.4 1427.5,2558.5 1428.0,2566.2 1428.5,2573.7 1429.0,2580.1 1429.5,2586.3 1430.0,2592.5 1430.5,2598.5 1431.0,2603.7 1431.5,2607.8 1432.0,2611.0 1432.5,2614.0 1433.0,2616.6 1433.5,2618.7 1434.0,2620.3 1434.5,2621.0 1435.0,2621.6 1435.5,2622.0 1436.0,2622.2 1436.5,2622.2 1437.0,2621.8 1437.5,2621.1 1438.0,2620.1 1438.5,2619.0 1439.0,2617.7 1439.5,2616.3 1440.0,2615.0 1440.5,2613.7 1441.0,2612.4 1441.5,2611.0 1442.0,2609.5 1442.5,2607.9 1443.0,2606.3 1443.5,2604.5 1444.0,2602.7 1444.5,2600.7 1445.0,2598.6 1445.5,2596.4 1446.0,2594.1 1446.5,2591.7 1447.0,2589.0 1447.5,2586.0 1448.0,2582.6 1448.5,2578.8 1449.0,2574.4 1449.5,2568.8 1450.0,2561.0 1450.5,2551.6 1451.0,2541.6 1451.5,2531.6 1452.0,2519.7 1452.5,2507.2 1453.0,2496.9 1453.5,2491.0 1454.0,2486.7 1454.5,2484.2 1455.0,2484.4 1455.5,2486.7 1456.0,2490.3 1456.5,2495.5 1457.0,2507.0 1457.5,2521.2 1458.0,2534.6 1458.5,2549.2 1459.0,2558.5 1459.5,2561.0 1460.0,2562.5 1460.5,2562.9 1461.0,2561.2 1461.5,2558.0 1462.0,2554.8 1462.5,2550.9 1463.0,2547.0 1463.5,2544.2 1464.0,2543.5 1464.5,2543.1 1465.0,2542.7 1465.5,2542.5 1466.0,2542.4 1466.5,2542.3 1467.0,2543.3 1467.5,2545.4 1468.0,2548.3 1468.5,2551.2 1469.0,2555.4 1469.5,2560.4 1470.0,2565.4 1470.5,2569.3 1471.0,2571.8 1471.5,2574.3 1472.0,2576.4 1472.5,2578.1 1473.0,2579.1 1473.5,2579.3 1474.0,2579.1 1474.5,2578.7 1475.0,2578.1 1475.5,2577.3 1476.0,2576.4 1476.5,2575.4 1477.0,2573.9 1477.5,2571.3 1478.0,2567.9 1478.5,2564.2 1479.0,2560.8 1479.5,2558.0 1480.0,2555.4 1480.5,2552.8 1481.0,2550.3 1481.5,2548.0 1482.0,2546.0 1482.5,2544.5 1483.0,2543.4 1483.5,2542.7 1484.0,2542.0 1484.5,2541.4 1485.0,2541.0 1485.5,2540.8 1486.0,2540.9 1486.5,2541.6 1487.0,2542.8 1487.5,2544.3 1488.0,2546.1 1488.5,2547.9 1489.0,2550.2 1489.5,2553.3 1490.0,2556.6 1490.5,2560.0 1491.0,2563.1 1491.5,2565.8 1492.0,2568.5 1492.5,2571.2 1493.0,2573.5 1493.5,2575.4 1494.0,2576.5 1494.5,2577.3 1495.0,2577.9 1495.5,2578.5 1496.0,2578.9 1496.5,2579.1 1497.0,2578.9 1497.5,2578.0 1498.0,2576.5 1498.5,2574.8 1499.0,2573.0 1499.5,2570.4 1500.0,2567.2 1500.5,2563.9 1501.0,2561.1 1501.5,2559.3 1502.0,2557.9 1502.5,2556.5 1503.0,2555.4 1503.5,2554.6 1504.0,2554.3 1504.5,2554.5 1505.0,2555.3 1505.5,2556.6 1506.0,2558.1 1506.5,2559.9 1507.0,2561.9 1507.5,2565.0 1508.0,2569.1 1508.5,2573.7 1509.0,2578.4 1509.5,2582.6 1510.0,2586.4 1510.5,2590.3 1511.0,2594.1 1511.5,2597.6 1512.0,2600.7 1512.5,2603.1 1513.0,2605.4 1513.5,2607.4 1514.0,2609.3 1514.5,2611.0 1515.0,2612.5 1515.5,2613.8 1516.0,2614.8 1516.5,2615.7 1517.0,2616.7 1517.5,2617.5 1518.0,2618.4 1518.5,2619.1 1519.0,2619.8 1519.5,2620.4 1520.0,2620.8 1520.5,2621.2 1521.0,2621.3 1521.5,2621.3 1522.0,2621.2 1522.5,2620.9 1523.0,2620.6 1523.5,2620.2 1524.0,2619.8 1524.5,2619.3 1525.0,2618.7 1525.5,2618.1 1526.0,2617.3 1526.5,2616.1 1527.0,2614.6 1527.5,2612.7 1528.0,2610.5 1528.5,2608.2 1529.0,2605.6 1529.5,2603.0 1530.0,2599.8 1530.5,2595.8 1531.0,2590.8 1531.5,2585.1 1532.0,2578.6 1532.5,2570.0 1533.0,2559.4 1533.5,2547.9 1534.0,2536.4 1534.5,2526.0 1535.0,2516.1 1535.5,2506.4 1536.0,2496.6 1536.5,2486.6 1537.0,2476.0 1537.5,2465.1 1538.0,2453.8 1538.5,2442.2 1539.0,2430.4 1539.5,2418.3 1540.0,2406.1 1540.5,2393.7 1541.0,2381.1 1541.5,2368.2 1542.0,2354.6 1542.5,2340.6 1543.0,2326.4 1543.5,2312.4 1544.0,2298.9 1544.5,2286.1 1545.0,2274.4 1545.5,2263.5 1546.0,2253.1 1546.5,2243.2 1547.0,2233.5 1547.5,2224.1 1548.0,2214.7 1548.5,2205.2 1549.0,2195.5 1549.5,2185.5 1550.0,2175.1 1550.5,2164.4 1551.0,2153.6 1551.5,2142.7 1552.0,2131.6 1552.5,2120.5 1553.0,2109.2 1553.5,2097.9 1554.0,2086.5 1554.5,2075.0 1555.0,2063.2 1555.5,2051.2 1556.0,2039.1 1556.5,2026.9 1557.0,2014.8 1557.5,2002.9 1558.0,1991.2 1558.5,1980.0 1559.0,1968.9 1559.5,1957.9 1560.0,1946.9 1560.5,1936.3 1561.0,1926.2 1561.5,1916.7 1562.0,1908.0 1562.5,1899.1 1563.0,1889.8 1563.5,1881.6 1564.0,1876.1 1564.5,1874.6 1565.0,1878.0 1565.5,1885.2 1566.0,1894.9 1566.5,1905.8 1567.0,1919.4 1567.5,1938.9 1568.0,1960.4 1568.5,1980.0 1569.0,1996.7 1569.5,2012.5 1570.0,2027.7 1570.5,2042.7 1571.0,2057.8 1571.5,2073.2 1572.0,2089.4 1572.5,2106.0 1573.0,2122.9 1573.5,2139.8 1574.0,2156.5 1574.5,2172.9 1575.0,2188.8 1575.5,2204.4 1576.0,2219.8 1576.5,2235.0 1577.0,2249.9 1577.5,2264.6 1578.0,2279.0 1578.5,2293.6 1579.0,2308.8 1579.5,2323.9 1580.0,2338.5 1580.5,2352.2 1581.0,2364.6 1581.5,2375.0 1582.0,2383.4 1582.5,2390.6 1583.0,2397.0 1583.5,2402.8 1584.0,2408.3 1584.5,2413.8 1585.0,2419.3 1585.5,2424.7 1586.0,2429.9 1586.5,2435.0 1587.0,2439.9 1587.5,2444.7 1588.0,2449.5 1588.5,2454.3 1589.0,2459.1 1589.5,2464.0 1590.0,2468.9 1590.5,2474.0 1591.0,2479.3 1591.5,2485.5 1592.0,2492.2 1592.5,2498.5 1593.0,2503.5 1593.5,2506.3 1594.0,2508.1 1594.5,2509.7 1595.0,2510.9 1595.5,2511.8 1596.0,2512.1 1596.5,2512.2 1597.0,2512.2 1597.5,2512.3 1598.0,2512.3 1598.5,2512.3 1599.0,2512.2 1599.5,2512.2 1600.0,2512.2 1600.5,2512.3 1601.0,2512.4 1601.5,2512.6 1602.0,2512.9 1602.5,2513.2 1603.0,2513.7 1603.5,2515.7 1604.0,2519.1 1604.5,2523.1 1605.0,2526.7 1605.5,2529.6 1606.0,2532.8 1606.5,2535.8 1607.0,2538.4 1607.5,2540.3 1608.0,2541.1 1608.5,2541.6 1609.0,2541.9 1609.5,2542.2 1610.0,2542.3 1610.5,2541.6 1611.0,2539.8 1611.5,2537.3 1612.0,2534.6 1612.5,2532.3 1613.0,2530.5 1613.5,2528.9 1614.0,2527.2 1614.5,2525.8 1615.0,2524.8 1615.5,2524.4 1616.0,2524.6 1616.5,2525.1 1617.0,2526.0 1617.5,2527.0 1618.0,2528.1 1618.5,2529.2 1619.0,2530.2 1619.5,2531.4 1620.0,2532.9 1620.5,2534.5 1621.0,2536.0 1621.5,2537.4 1622.0,2538.5 1622.5,2539.2 1623.0,2539.4 1623.5,2539.2 1624.0,2538.9 1624.5,2538.4 1625.0,2537.8 1625.5,2537.1 1626.0,2536.4 1626.5,2535.8 1627.0,2535.3 1627.5,2534.8 1628.0,2534.3 1628.5,2533.7 1629.0,2533.2 1629.5,2532.7 1630.0,2532.3 1630.5,2532.1 1631.0,2531.9 1631.5,2532.0 1632.0,2532.3 1632.5,2532.8 1633.0,2533.5 1633.5,2534.4 1634.0,2535.4 1634.5,2537.5 1635.0,2540.9 1635.5,2545.1 1636.0,2549.4 1636.5,2553.3 1637.0,2556.7 1637.5,2560.3 1638.0,2563.9 1638.5,2567.1 1639.0,2569.6 1639.5,2571.0 1640.0,2571.9 1640.5,2572.7 1641.0,2573.4 1641.5,2573.8 1642.0,2574.0 1642.5,2573.9 1643.0,2573.1 1643.5,2571.9 1644.0,2570.4 1644.5,2568.8 1645.0,2567.2 1645.5,2565.8 1646.0,2564.6 1646.5,2563.2 1647.0,2561.8 1647.5,2560.5 1648.0,2559.4 1648.5,2558.6 1649.0,2558.3 1649.5,2558.5 1650.0,2559.1 1650.5,2559.9 1651.0,2561.0 1651.5,2562.1 1652.0,2563.2 1652.5,2564.2 1653.0,2565.6 1653.5,2567.2 1654.0,2568.8 1654.5,2570.4 1655.0,2571.7 1655.5,2572.5 1656.0,2572.9 1656.5,2573.0 1657.0,2573.1 1657.5,2573.2 1658.0,2573.2 1658.5,2573.3 1659.0,2573.3 1659.5,2573.3 1660.0,2573.3 1660.5,2573.2 1661.0,2572.9 1661.5,2572.5 1662.0,2572.0 1662.5,2571.5 1663.0,2571.0 1663.5,2570.7 1664.0,2570.6 1664.5,2570.6 1665.0,2570.9 1665.5,2571.4 1666.0,2572.1 1666.5,2572.9 1667.0,2573.7 1667.5,2574.7 1668.0,2575.6 1668.5,2576.5 1669.0,2577.6 1669.5,2578.9 1670.0,2580.3 1670.5,2581.9 1671.0,2583.5 1671.5,2585.2 1672.0,2586.8 1672.5,2588.5 1673.0,2590.2 1673.5,2591.8 1674.0,2593.3 1674.5,2594.8 1675.0,2596.3 1675.5,2597.8 1676.0,2599.3 1676.5,2600.8 1677.0,2602.3 1677.5,2603.8 1678.0,2605.3 1678.5,2606.8 1679.0,2608.2 1679.5,2609.7 1680.0,2611.1 1680.5,2612.5 1681.0,2614.0 1681.5,2615.4 1682.0,2616.8 1682.5,2618.1 1683.0,2619.5 1683.5,2620.8 1684.0,2622.1 1684.5,2623.4 1685.0,2624.6 1685.5,2625.9 1686.0,2627.2 1686.5,2628.4 1687.0,2629.7 1687.5,2630.9 1688.0,2632.1 1688.5,2633.2 1689.0,2634.2 1689.5,2635.1 1690.0,2635.9 1690.5,2636.6 1691.0,2637.3 1691.5,2638.0 1692.0,2638.6 1692.5,2639.2 1693.0,2639.8 1693.5,2640.3 1694.0,2640.7 1694.5,2641.1 1695.0,2641.4 1695.5,2641.6 1696.0,2641.7 1696.5,2641.8 1697.0,2641.8 1697.5,2641.9 1698.0,2642.0 1698.5,2642.0 1699.0,2642.1 1699.5,2642.2 1700.0,2642.2 1700.5,2642.2 1701.0,2642.2 1701.5,2642.2 1702.0,2642.3 1702.5,2642.3 1703.0,2642.3 1703.5,2642.3 1704.0,2642.3 1704.5,2642.3 1705.0,2642.3 1705.5,2642.3 1706.0,2642.3 1706.5,2642.3 1707.0,2642.3 1707.5,2642.3 1708.0,2642.3 1708.5,2642.3 1709.0,2642.3 1709.5,2642.3 1710.0,2642.3 1710.5,2642.4 1711.0,2642.4 1711.5,2642.4 1712.0,2642.5 1712.5,2642.5 1713.0,2642.5 1713.5,2642.6 1714.0,2642.6 1714.5,2642.6 1715.0,2642.7 1715.5,2642.7 1716.0,2642.7 1716.5,2642.8 1717.0,2642.8 1717.5,2642.8 1718.0,2642.8 1718.5,2642.9 1719.0,2642.9 1719.5,2642.9 1720.0,2642.9 1720.5,2642.9 1721.0,2642.9 1721.5,2642.9 1722.0,2642.9 1722.5,2642.8 1723.0,2642.8 1723.5,2642.8 1724.0,2642.7 1724.5,2642.7 1725.0,2642.6 1725.5,2642.5 1726.0,2642.4 1726.5,2642.3 1727.0,2642.2 1727.5,2642.1 1728.0,2641.9 1728.5,2641.8 1729.0,2641.6 1729.5,2641.5 1730.0,2641.3 1730.5,2641.2 1731.0,2641.0 1731.5,2640.8 1732.0,2640.5 1732.5,2640.2 1733.0,2639.8 1733.5,2639.4 1734.0,2639.0 1734.5,2638.5 1735.0,2638.1 1735.5,2637.8 1736.0,2637.5 1736.5,2637.3 1737.0,2637.2 1737.5,2637.1 1738.0,2637.1 1738.5,2637.0 1739.0,2637.0 1739.5,2637.0 1740.0,2637.0 1740.5,2637.0 1741.0,2637.0 1741.5,2637.0 1742.0,2637.0 1742.5,2637.1 1743.0,2637.1 1743.5,2637.1 1744.0,2637.2 1744.5,2637.2 1745.0,2637.2 1745.5,2637.2 1746.0,2637.3 1746.5,2637.4 1747.0,2637.4 1747.5,2637.5 1748.0,2637.6 1748.5,2637.7 1749.0,2637.8 1749.5,2638.0 1750.0,2638.1 1750.5,2638.2 1751.0,2638.2 1751.5,2638.3 1752.0,2638.4 1752.5,2638.4 1753.0,2638.5 1753.5,2638.5 1754.0,2638.4 1754.5,2638.4 1755.0,2638.3 1755.5,2638.0 1756.0,2637.7 1756.5,2637.4 1757.0,2637.1 1757.5,2636.8 1758.0,2636.5 1758.5,2636.2 1759.0,2635.9 1759.5,2635.5 1760.0,2635.2 1760.5,2634.9 1761.0,2634.5 1761.5,2634.2 1762.0,2633.9 1762.5,2633.5 1763.0,2633.1 1763.5,2632.8 1764.0,2632.4"/>
<path class="cv" stroke="#b400ff" d="M412.0,2472.2 412.5,2472.2 413.0,2472.3 413.5,2472.3 414.0,2472.3 414.5,2472.4 415.0,2472.4 415.5,2472.4 416.0,2472.5 416.5,2472.5 417.0,2472.5 417.5,2472.6 418.0,2472.6 418.5,2472.6 419.0,2472.7 419.5,2472.7 420.0,2472.7 420.5,2472.8 421.0,2472.8 421.5,2472.8 422.0,2472.9 422.5,2472.9 423.0,2472.9 423.5,2473.0 424.0,2473.0 424.5,2473.1 425.0,2473.1 425.5,2473.1 426.0,2473.2 426.5,2473.2 427.0,2473.2 427.5,2473.3 428.0,2473.3 428.5,2473.3 429.0,2473.4 429.5,2473.4 430.0,2473.4 430.5,2473.5 431.0,2473.5 431.5,2473.5 432.0,2473.6 432.5,2473.6 433.0,2473.6 433.5,2473.7 434.0,2473.7 434.5,2473.7 435.0,2473.8 435.5,2473.8 436.0,2473.8 436.5,2473.9 437.0,2473.9 437.5,2473.9 438.0,2474.0 438.5,2474.0 439.0,2474.0 439.5,2474.1 440.0,2474.1 440.5,2474.1 441.0,2474.2 441.5,2474.2 442.0,2474.2 442.5,2474.3 443.0,2474.3 443.5,2474.4 444.0,2474.4 444.5,2474.4 445.0,2474.5 445.5,2474.5 446.0,2474.5 446.5,2474.6 447.0,2474.6 447.5,2474.6 448.0,2474.7 448.5,2474.7 449.0,2474.7 449.5,2474.8 450.0,2474.8 450.5,2474.8 451.0,2474.9 451.5,2474.9 452.0,2474.9 452.5,2475.0 453.0,2475.0 453.5,2475.0 454.0,2475.1 454.5,2475.1 455.0,2475.1 455.5,2475.2 456.0,2475.2 456.5,2475.2 457.0,2475.3 457.5,2475.3 458.0,2475.3 458.5,2475.4 459.0,2475.4 459.5,2475.4 460.0,2475.5 460.5,2475.5 461.0,2475.5 461.5,2475.6 462.0,2475.6 462.5,2475.6 463.0,2475.7 463.5,2475.7 464.0,2475.7 464.5,2475.8 465.0,2475.8 465.5,2475.8 466.0,2475.9 466.5,2475.9 467.0,2475.9 467.5,2476.0 468.0,2476.0 468.5,2476.0 469.0,2476.1 469.5,2476.1 470.0,2476.1 470.5,2476.2 471.0,2476.2 471.5,2476.2 472.0,2476.2 472.5,2476.2 473.0,2476.3 473.5,2476.3 474.0,2476.3 474.5,2476.3 475.0,2476.3 475.5,2476.3 476.0,2476.4 476.5,2476.4 477.0,2476.4 477.5,2476.4 478.0,2476.4 478.5,2476.5 479.0,2476.5 479.5,2476.5 480.0,2476.5 480.5,2476.5 481.0,2476.6 481.5,2476.6 482.0,2476.6 482.5,2476.6 483.0,2476.6 483.5,2476.6 484.0,2476.7 484.5,2476.7 485.0,2476.7 485.5,2476.7 486.0,2476.7 486.5,2476.8 487.0,2476.8 487.5,2476.8 488.0,2476.8 488.5,2476.8 489.0,2476.8 489.5,2476.9 490.0,2476.9 490.5,2476.9 491.0,2476.9 491.5,2476.9 492.0,2477.0 492.5,2477.0 493.0,2477.0 493.5,2477.0 494.0,2477.0 494.5,2477.1 495.0,2477.1 495.5,2477.1 496.0,2477.1 496.5,2477.1 497.0,2477.2 497.5,2477.2 498.0,2477.2 498.5,2477.2 499.0,2477.2 499.5,2477.3 500.0,2477.3 500.5,2477.3 501.0,2477.3 501.5,2477.3 502.0,2477.4 502.5,2477.4 503.0,2477.4 503.5,2477.4 504.0,2477.4 504.5,2477.5 505.0,2477.5 505.5,2477.5 506.0,2477.5 506.5,2477.5 507.0,2477.6 507.5,2477.6 508.0,2477.6 508.5,2477.6 509.0,2477.7 509.5,2477.7 510.0,2477.7 510.5,2477.7 511.0,2477.7 511.5,2477.7 512.0,2477.8 512.5,2477.8 513.0,2477.8 513.5,2477.8 514.0,2477.8 514.5,2477.9 515.0,2477.9 515.5,2477.9 516.0,2477.9 516.5,2477.9 517.0,2478.0 517.5,2478.0 518.0,2478.0 518.5,2478.0 519.0,2478.0 519.5,2478.0 520.0,2478.1 520.5,2478.0 521.0,2478.0 521.5,2478.0 522.0,2478.0 522.5,2478.0 523.0,2478.0 523.5,2478.0 524.0,2477.9 524.5,2477.9 525.0,2477.9 525.5,2477.9 526.0,2477.9 526.5,2477.8 527.0,2477.8 527.5,2477.8 528.0,2477.8 528.5,2477.8 529.0,2477.8 529.5,2477.7 530.0,2477.7 530.5,2477.7 531.0,2477.7 531.5,2477.6 532.0,2477.6 532.5,2477.6 533.0,2477.6 533.5,2477.5 534.0,2477.5 534.5,2477.4 535.0,2477.4 535.5,2477.3 536.0,2477.2 536.5,2477.1 537.0,2477.1 537.5,2477.0 538.0,2476.9 538.5,2476.8 539.0,2476.7 539.5,2476.5 540.0,2476.4 540.5,2476.3 541.0,2476.2 541.5,2476.1 542.0,2475.9 542.5,2475.8 543.0,2475.6 543.5,2475.5 544.0,2475.4 544.5,2475.2 545.0,2475.1 545.5,2474.9 546.0,2474.8 546.5,2474.6 547.0,2474.5 547.5,2474.3 548.0,2474.2 548.5,2474.0 549.0,2473.8 549.5,2473.7 550.0,2473.5 550.5,2473.3 551.0,2473.1 551.5,2472.8 552.0,2472.6 552.5,2472.4 553.0,2472.2 553.5,2471.9 554.0,2471.7 554.5,2471.4 555.0,2471.2 555.5,2470.9 556.0,2470.6 556.5,2470.4 557.0,2470.1 557.5,2469.8 558.0,2469.6 558.5,2469.3 559.0,2469.0 559.5,2468.7 560.0,2468.4 560.5,2468.1 561.0,2467.8 561.5,2467.4 562.0,2467.1 562.5,2466.7 563.0,2466.3 563.5,2466.0 564.0,2465.6 564.5,2465.2 565.0,2464.8 565.5,2464.5 566.0,2464.1 566.5,2463.8 567.0,2463.5 567.5,2463.2 568.0,2462.9 568.5,2462.6 569.0,2462.3 569.5,2462.1 570.0,2461.8 570.5,2461.5 571.0,2461.2 571.5,2461.0 572.0,2460.7 572.5,2460.5 573.0,2460.3 573.5,2460.1 574.0,2459.9 574.5,2459.8 575.0,2459.6 575.5,2459.6 576.0,2459.6 576.5,2459.6 577.0,2459.6 577.5,2459.5 578.0,2459.5 578.5,2459.5 579.0,2459.5 579.5,2459.5 580.0,2459.5 580.5,2459.5 581.0,2459.5 581.5,2459.5 582.0,2459.5 582.5,2459.5 583.0,2459.5 583.5,2459.5 584.0,2459.5 584.5,2459.4 585.0,2459.4 585.5,2459.4 586.0,2459.4 586.5,2459.4 587.0,2459.4 587.5,2459.4 588.0,2459.4 588.5,2459.3 589.0,2459.2 589.5,2459.1 590.0,2458.9 590.5,2458.6 591.0,2458.4 591.5,2458.1 592.0,2457.8 592.5,2457.4 593.0,2457.1 593.5,2456.8 594.0,2456.5 594.5,2456.2 595.0,2455.9 595.5,2455.7 596.0,2455.4 596.5,2455.2 597.0,2454.9 597.5,2454.7 598.0,2454.4 598.5,2454.2 599.0,2453.9 599.5,2453.7 600.0,2453.4 600.5,2453.2 601.0,2453.0 601.5,2452.7 602.0,2452.5 602.5,2452.3 603.0,2452.1 603.5,2452.0 604.0,2451.8 604.5,2451.6 605.0,2451.5 605.5,2451.3 606.0,2451.2 606.5,2451.1 607.0,2450.9 607.5,2450.8 608.0,2450.6 608.5,2450.5 609.0,2450.4 609.5,2450.3 610.0,2450.2 610.5,2450.2 611.0,2450.1 611.5,2450.1 612.0,2450.0 612.5,2450.1 613.0,2450.1 613.5,2450.1 614.0,2450.2 614.5,2450.3 615.0,2450.3 615.5,2450.4 616.0,2450.5 616.5,2450.7 617.0,2450.8 617.5,2450.9 618.0,2451.0 618.5,2451.2 619.0,2451.3 619.5,2451.4 620.0,2451.6 620.5,2451.7 621.0,2451.9 621.5,2452.1 622.0,2452.3 622.5,2452.5 623.0,2452.8 623.5,2453.0 624.0,2453.2 624.5,2453.5 625.0,2453.8 625.5,2454.0 626.0,2454.3 626.5,2454.6 627.0,2454.9 627.5,2455.1 628.0,2455.4 628.5,2455.7 629.0,2456.0 629.5,2456.3 630.0,2456.5 630.5,2456.8 631.0,2457.0 631.5,2457.3 632.0,2457.5 632.5,2457.8 633.0,2458.0 633.5,2458.3 634.0,2458.5 634.5,2458.8 635.0,2459.0 635.5,2459.3 636.0,2459.6 636.5,2459.8 637.0,2460.1 637.5,2460.3 638.0,2460.6 638.5,2460.8 639.0,2461.1 639.5,2461.3 640.0,2461.6 640.5,2461.8 641.0,2462.1 641.5,2462.3 642.0,2462.6 642.5,2462.8 643.0,2463.0 643.5,2463.3 644.0,2463.5 644.5,2463.7 645.0,2463.9 645.5,2464.2 646.0,2464.4 646.5,2464.6 647.0,2464.8 647.5,2465.0 648.0,2465.2 648.5,2465.4 649.0,2465.6 649.5,2465.8 650.0,2466.0 650.5,2466.2 651.0,2466.4 651.5,2466.6 652.0,2466.7 652.5,2466.9 653.0,2467.1 653.5,2467.3 654.0,2467.5 654.5,2467.7 655.0,2467.8 655.5,2468.0 656.0,2468.2 656.5,2468.3 657.0,2468.5 657.5,2468.7 658.0,2468.8 658.5,2469.0 659.0,2469.1 659.5,2469.3 660.0,2469.4 660.5,2469.5 661.0,2469.7 661.5,2469.8 662.0,2469.9 662.5,2470.0 663.0,2470.1 663.5,2470.3 664.0,2470.4 664.5,2470.5 665.0,2470.6 665.5,2470.7 666.0,2470.8 666.5,2470.9 667.0,2471.0 667.5,2471.1 668.0,2471.2 668.5,2471.3 669.0,2471.4 669.5,2471.5 670.0,2471.6 670.5,2471.7 671.0,2471.8 671.5,2471.9 672.0,2472.0 672.5,2472.0 673.0,2472.1 673.5,2472.2 674.0,2472.3 674.5,2472.3 675.0,2472.4 675.5,2472.5 676.0,2472.5 676.5,2472.6 677.0,2472.6 677.5,2472.7 678.0,2472.8 678.5,2472.8 679.0,2472.9 679.5,2472.9 680.0,2473.0 680.5,2473.0 681.0,2473.1 681.5,2473.1 682.0,2473.2 682.5,2473.3 683.0,2473.3 683.5,2473.4 684.0,2473.4 684.5,2473.5 685.0,2473.5 685.5,2473.6 686.0,2473.6 686.5,2473.7 687.0,2473.7 687.5,2473.8 688.0,2473.8 688.5,2473.8 689.0,2473.9 689.5,2473.9 690.0,2474.0 690.5,2474.0 691.0,2474.0 691.5,2474.1 692.0,2474.1 692.5,2474.1 693.0,2474.2 693.5,2474.2 694.0,2474.2 694.5,2474.3 695.0,2474.3 695.5,2474.3 696.0,2474.3 696.5,2474.3 697.0,2474.3 697.5,2474.4 698.0,2474.4 698.5,2474.4 699.0,2474.4 699.5,2474.4 700.0,2474.4 700.5,2474.4 701.0,2474.4 701.5,2474.4 702.0,2474.4 702.5,2474.4 703.0,2474.4 703.5,2474.4 704.0,2474.4 704.5,2474.4 705.0,2474.4 705.5,2474.4 706.0,2474.4 706.5,2474.5 707.0,2474.5 707.5,2474.5 708.0,2474.5 708.5,2474.5 709.0,2474.5 709.5,2474.5 710.0,2474.5 710.5,2474.5 711.0,2474.5 711.5,2474.5 712.0,2474.5 712.5,2474.5 713.0,2474.5 713.5,2474.5 714.0,2474.5 714.5,2474.5 715.0,2474.5 715.5,2474.6 716.0,2474.6 716.5,2474.6 717.0,2474.6 717.5,2474.6 718.0,2474.6 718.5,2474.6 719.0,2474.6 719.5,2474.6 720.0,2474.6 720.5,2474.6 721.0,2474.6 721.5,2474.6 722.0,2474.6 722.5,2474.6 723.0,2474.6 723.5,2474.6 724.0,2474.6 724.5,2474.7 725.0,2474.7 725.5,2474.7 726.0,2474.7 726.5,2474.7 727.0,2474.7 727.5,2474.7 728.0,2474.7 728.5,2474.7 729.0,2474.7 729.5,2474.7 730.0,2474.7 730.5,2474.7 731.0,2474.7 731.5,2474.7 732.0,2474.7 732.5,2474.7 733.0,2474.7 733.5,2474.7 734.0,2474.7 734.5,2474.7 735.0,2474.7 735.5,2474.7 736.0,2474.7 736.5,2474.7 737.0,2474.7 737.5,2474.7 738.0,2474.7 738.5,2474.7 739.0,2474.7 739.5,2474.7 740.0,2474.7 740.5,2474.7 741.0,2474.7 741.5,2474.7 742.0,2474.7 742.5,2474.7 743.0,2474.6 743.5,2474.6 744.0,2474.6 744.5,2474.6 745.0,2474.6 745.5,2474.6 746.0,2474.6 746.5,2474.6 747.0,2474.6 747.5,2474.5 748.0,2474.5 748.5,2474.5 749.0,2474.5 749.5,2474.5 750.0,2474.5 750.5,2474.5 751.0,2474.4 751.5,2474.4 752.0,2474.4 752.5,2474.4 753.0,2474.4 753.5,2474.4 754.0,2474.4 754.5,2474.3 755.0,2474.3 755.5,2474.3 756.0,2474.3 756.5,2474.3 757.0,2474.3 757.5,2474.2 758.0,2474.2 758.5,2474.2 759.0,2474.2 759.5,2474.2 760.0,2474.2 760.5,2474.2 761.0,2474.1 761.5,2474.1 762.0,2474.1 762.5,2474.1 763.0,2474.1 763.5,2474.1 764.0,2474.1 764.5,2474.0 765.0,2474.0 765.5,2474.0 766.0,2474.0 766.5,2474.0 767.0,2474.0 767.5,2474.0 768.0,2473.9 768.5,2473.9 769.0,2473.9 769.5,2473.9 770.0,2473.9 770.5,2473.9 771.0,2473.8 771.5,2473.8 772.0,2473.8 772.5,2473.8 773.0,2473.8 773.5,2473.7 774.0,2473.7 774.5,2473.7 775.0,2473.7 775.5,2473.6 776.0,2473.6 776.5,2473.6 777.0,2473.6 777.5,2473.5 778.0,2473.5 778.5,2473.5 779.0,2473.4 779.5,2473.4 780.0,2473.3 780.5,2473.3 781.0,2473.3 781.5,2473.2 782.0,2473.2 782.5,2473.1 783.0,2473.1 783.5,2473.0 784.0,2472.9 784.5,2472.8 785.0,2472.7 785.5,2472.6 786.0,2472.5 786.5,2472.4 787.0,2472.2 787.5,2472.1 788.0,2472.0 788.5,2471.8 789.0,2471.6 789.5,2471.5 790.0,2471.3 790.5,2471.1 791.0,2470.9 791.5,2470.7 792.0,2470.4 792.5,2470.2 793.0,2470.0 793.5,2469.7 794.0,2469.4 794.5,2469.2 795.0,2468.9 795.5,2468.6 796.0,2468.3 796.5,2468.0 797.0,2467.7 797.5,2467.3 798.0,2466.9 798.5,2466.4 799.0,2465.9 799.5,2465.2 800.0,2464.5 800.5,2463.8 801.0,2463.0 801.5,2462.1 802.0,2461.2 802.5,2460.2 803.0,2459.2 803.5,2458.0 804.0,2456.6 804.5,2455.1 805.0,2453.3 805.5,2451.4 806.0,2449.3 806.5,2447.0 807.0,2444.6 807.5,2441.7 808.0,2438.3 808.5,2434.6 809.0,2430.3 809.5,2425.7 810.0,2420.6 810.5,2414.2 811.0,2406.8 811.5,2398.7 812.0,2390.5 812.5,2382.1 813.0,2373.2 813.5,2363.8 814.0,2354.2 814.5,2344.2 815.0,2333.9 815.5,2323.1 816.0,2311.1 816.5,2298.3 817.0,2287.1 817.5,2277.9 818.0,2269.9 818.5,2264.0 819.0,2258.8 819.5,2254.4 820.0,2251.6 820.5,2250.9 821.0,2250.6 821.5,2250.5 822.0,2250.5 822.5,2251.8 823.0,2255.9 823.5,2261.5 824.0,2267.2 824.5,2274.2 825.0,2282.1 825.5,2288.7 826.0,2293.1 826.5,2297.1 827.0,2299.4 827.5,2299.5 828.0,2298.1 828.5,2295.6 829.0,2292.5 829.5,2287.8 830.0,2280.1 830.5,2271.1 831.0,2262.0 831.5,2251.7 832.0,2240.9 832.5,2230.6 833.0,2219.7 833.5,2210.3 834.0,2204.8 834.5,2200.6 835.0,2197.7 835.5,2196.1 836.0,2195.1 836.5,2194.4 837.0,2193.8 837.5,2193.3 838.0,2192.9 838.5,2192.6 839.0,2192.4 839.5,2192.2 840.0,2191.9 840.5,2191.6 841.0,2191.2 841.5,2190.4 842.0,2189.0 842.5,2186.9 843.0,2184.4 843.5,2181.5 844.0,2178.5 844.5,2174.5 845.0,2169.3 845.5,2163.4 846.0,2157.1 846.5,2150.9 847.0,2145.0 847.5,2139.5 848.0,2134.0 848.5,2128.6 849.0,2123.1 849.5,2117.5 850.0,2111.8 850.5,2105.9 851.0,2100.0 851.5,2093.9 852.0,2087.9 852.5,2081.8 853.0,2075.8 853.5,2069.8 854.0,2063.9 854.5,2058.0 855.0,2052.0 855.5,2045.8 856.0,2039.4 856.5,2032.7 857.0,2025.9 857.5,2019.2 858.0,2012.9 858.5,2007.0 859.0,2000.9 859.5,1995.3 860.0,1990.6 860.5,1987.0 861.0,1983.7 861.5,1981.8 862.0,1982.8 862.5,1987.3 863.0,1994.0 863.5,2001.7 864.0,2010.6 864.5,2022.7 865.0,2036.1 865.5,2049.8 866.0,2064.8 866.5,2080.3 867.0,2095.4 867.5,2110.3 868.0,2125.3 868.5,2140.3 869.0,2156.4 869.5,2172.1 870.0,2185.2 870.5,2194.4 871.0,2201.4 871.5,2208.3 872.0,2217.1 872.5,2231.3 873.0,2253.9 873.5,2269.4 874.0,2282.0 874.5,2294.2 875.0,2307.2 875.5,2319.5 876.0,2329.4 876.5,2337.7 877.0,2344.9 877.5,2351.3 878.0,2356.9 878.5,2362.0 879.0,2366.7 879.5,2370.9 880.0,2374.7 880.5,2378.0 881.0,2380.8 881.5,2383.3 882.0,2385.5 882.5,2387.5 883.0,2389.4 883.5,2391.2 884.0,2393.0 884.5,2394.7 885.0,2396.5 885.5,2398.4 886.0,2400.1 886.5,2401.9 887.0,2403.6 887.5,2405.3 888.0,2406.9 888.5,2408.5 889.0,2410.1 889.5,2411.6 890.0,2413.0 890.5,2414.5 891.0,2416.0 891.5,2417.4 892.0,2418.9 892.5,2420.2 893.0,2421.5 893.5,2422.7 894.0,2423.9 894.5,2424.9 895.0,2425.8 895.5,2426.6 896.0,2427.5 896.5,2428.2 897.0,2429.0 897.5,2429.7 898.0,2430.3 898.5,2430.9 899.0,2431.5 899.5,2432.1 900.0,2432.6 900.5,2433.1 901.0,2433.5 901.5,2434.0 902.0,2434.4 902.5,2434.8 903.0,2435.2 903.5,2435.6 904.0,2435.9 904.5,2436.2 905.0,2436.5 905.5,2436.8 906.0,2437.0 906.5,2437.2 907.0,2437.5 907.5,2437.7 908.0,2437.9 908.5,2438.1 909.0,2438.4 909.5,2438.6 910.0,2438.9 910.5,2439.1 911.0,2439.4 911.5,2439.6 912.0,2439.9 912.5,2440.1 913.0,2440.4 913.5,2440.7 914.0,2440.9 914.5,2441.2 915.0,2441.5 915.5,2441.9 916.0,2442.2 916.5,2442.6 917.0,2443.1 917.5,2443.6 918.0,2444.1 918.5,2444.6 919.0,2445.1 919.5,2445.6 920.0,2446.2 920.5,2446.7 921.0,2447.3 921.5,2447.8 922.0,2448.3 922.5,2448.8 923.0,2449.3 923.5,2449.8 924.0,2450.3 924.5,2450.8 925.0,2451.3 925.5,2451.8 926.0,2452.3 926.5,2452.8 927.0,2453.3 927.5,2453.8 928.0,2454.3 928.5,2454.8 929.0,2455.3 929.5,2455.8 930.0,2456.3 930.5,2456.9 931.0,2457.4 931.5,2458.0 932.0,2458.6 932.5,2459.1 933.0,2459.7 933.5,2460.2 934.0,2460.6 934.5,2461.1 935.0,2461.5 935.5,2461.8 936.0,2462.1 936.5,2462.4 937.0,2462.7 937.5,2462.9 938.0,2463.2 938.5,2463.4 939.0,2463.6 939.5,2463.8 940.0,2464.1 940.5,2464.2 941.0,2464.4 941.5,2464.6 942.0,2464.8 942.5,2465.0 943.0,2465.1 943.5,2465.3 944.0,2465.4 944.5,2465.6 945.0,2465.7 945.5,2465.8 946.0,2466.0 946.5,2466.1 947.0,2466.2 947.5,2466.3 948.0,2466.4 948.5,2466.5 949.0,2466.6 949.5,2466.7 950.0,2466.9 950.5,2467.0 951.0,2467.0 951.5,2467.1 952.0,2467.2 952.5,2467.3 953.0,2467.4 953.5,2467.5 954.0,2467.6 954.5,2467.7 955.0,2467.8 955.5,2467.9 956.0,2468.0 956.5,2468.2 957.0,2468.3 957.5,2468.4 958.0,2468.5 958.5,2468.6 959.0,2468.7 959.5,2468.8 960.0,2468.9 960.5,2469.0 961.0,2469.1 961.5,2469.2 962.0,2469.3 962.5,2469.4 963.0,2469.4 963.5,2469.5 964.0,2469.5 964.5,2469.6 965.0,2469.6 965.5,2469.7 966.0,2469.7 966.5,2469.7 967.0,2469.7 967.5,2469.8 968.0,2469.8 968.5,2469.8 969.0,2469.8 969.5,2469.8 970.0,2469.9 970.5,2469.9 971.0,2469.9 971.5,2469.9 972.0,2469.9 972.5,2470.0 973.0,2470.0 973.5,2470.0 974.0,2470.1 974.5,2470.1 975.0,2470.1 975.5,2470.2 976.0,2470.3 976.5,2470.5 977.0,2470.6 977.5,2470.9 978.0,2471.1 978.5,2471.4 979.0,2471.6 979.5,2471.9 980.0,2472.2 980.5,2472.4 981.0,2472.6 981.5,2472.9 982.0,2473.0 982.5,2473.2 983.0,2473.3 983.5,2473.4 984.0,2473.6 984.5,2473.7 985.0,2473.8 985.5,2474.0 986.0,2474.1 986.5,2474.2 987.0,2474.3 987.5,2474.4 988.0,2474.5 988.5,2474.6 989.0,2474.7 989.5,2474.8 990.0,2474.8 990.5,2474.9 991.0,2474.9 991.5,2474.9 992.0,2475.0 992.5,2474.9 993.0,2474.9 993.5,2474.9 994.0,2474.9 994.5,2474.9 995.0,2474.9 995.5,2474.9 996.0,2474.8 996.5,2474.8 997.0,2474.8 997.5,2474.8 998.0,2474.7 998.5,2474.7 999.0,2474.7 999.5,2474.7 1000.0,2474.7 1000.5,2474.7 1001.0,2474.7 1001.5,2474.7 1002.0,2474.7 1002.5,2474.7 1003.0,2474.7 1003.5,2474.8 1004.0,2474.8 1004.5,2474.8 1005.0,2474.8 1005.5,2474.8 1006.0,2474.9 1006.5,2474.9 1007.0,2474.9 1007.5,2474.9 1008.0,2475.0 1008.5,2475.0 1009.0,2475.0 1009.5,2475.1 1010.0,2475.1 1010.5,2475.1 1011.0,2475.2 1011.5,2475.2 1012.0,2475.2 1012.5,2475.3 1013.0,2475.3 1013.5,2475.3 1014.0,2475.4 1014.5,2475.4 1015.0,2475.5 1015.5,2475.5 1016.0,2475.5 1016.5,2475.6 1017.0,2475.6 1017.5,2475.7 1018.0,2475.7 1018.5,2475.7 1019.0,2475.8 1019.5,2475.8 1020.0,2475.8 1020.5,2475.9 1021.0,2475.9 1021.5,2475.9 1022.0,2476.0 1022.5,2476.0 1023.0,2476.0 1023.5,2476.1 1024.0,2476.1 1024.5,2476.1 1025.0,2476.1 1025.5,2476.2 1026.0,2476.2 1026.5,2476.2 1027.0,2476.2 1027.5,2476.2 1028.0,2476.3 1028.5,2476.3 1029.0,2476.3 1029.5,2476.3 1030.0,2476.3 1030.5,2476.3 1031.0,2476.4 1031.5,2476.4 1032.0,2476.4 1032.5,2476.4 1033.0,2476.4 1033.5,2476.5 1034.0,2476.5 1034.5,2476.5 1035.0,2476.5 1035.5,2476.5 1036.0,2476.6 1036.5,2476.6 1037.0,2476.6 1037.5,2476.6 1038.0,2476.6 1038.5,2476.6 1039.0,2476.7 1039.5,2476.7 1040.0,2476.7 1040.5,2476.7 1041.0,2476.7 1041.5,2476.7 1042.0,2476.8 1042.5,2476.8 1043.0,2476.8 1043.5,2476.8 1044.0,2476.8 1044.5,2476.8 1045.0,2476.9 1045.5,2476.9 1046.0,2476.9 1046.5,2476.9 1047.0,2476.9 1047.5,2476.9 1048.0,2476.9 1048.5,2477.0 1049.0,2477.0 1049.5,2477.0 1050.0,2477.0 1050.5,2477.0 1051.0,2477.0 1051.5,2477.0 1052.0,2477.0 1052.5,2477.1 1053.0,2477.1 1053.5,2477.1 1054.0,2477.1 1054.5,2477.1 1055.0,2477.1 1055.5,2477.1 1056.0,2477.1 1056.5,2477.1 1057.0,2477.1 1057.5,2477.1 1058.0,2477.1 1058.5,2477.2 1059.0,2477.2 1059.5,2477.2 1060.0,2477.2 1060.5,2477.2 1061.0,2477.2 1061.5,2477.2 1062.0,2477.2 1062.5,2477.2 1063.0,2477.2 1063.5,2477.2 1064.0,2477.2 1064.5,2477.2 1065.0,2477.2 1065.5,2477.1 1066.0,2477.1 1066.5,2477.1 1067.0,2477.1 1067.5,2477.1 1068.0,2477.0 1068.5,2477.0 1069.0,2477.0 1069.5,2476.9 1070.0,2476.9 1070.5,2476.8 1071.0,2476.8 1071.5,2476.7 1072.0,2476.7 1072.5,2476.6 1073.0,2476.6 1073.5,2476.5 1074.0,2476.5 1074.5,2476.4 1075.0,2476.4 1075.5,2476.3 1076.0,2476.2 1076.5,2476.2 1077.0,2476.1 1077.5,2476.0 1078.0,2476.0 1078.5,2475.9 1079.0,2475.8 1079.5,2475.7 1080.0,2475.7 1080.5,2475.6 1081.0,2475.5 1081.5,2475.4 1082.0,2475.4 1082.5,2475.3 1083.0,2475.2 1083.5,2475.1 1084.0,2475.1 1084.5,2475.0 1085.0,2474.9 1085.5,2474.8 1086.0,2474.8 1086.5,2474.7 1087.0,2474.6 1087.5,2474.5 1088.0,2474.5 1088.5,2474.4 1089.0,2474.3 1089.5,2474.3 1090.0,2474.2 1090.5,2474.1 1091.0,2474.1 1091.5,2474.0 1092.0,2473.9 1092.5,2473.9 1093.0,2473.8 1093.5,2473.8 1094.0,2473.7 1094.5,2473.7 1095.0,2473.6 1095.5,2473.6 1096.0,2473.5 1096.5,2473.5 1097.0,2473.4 1097.5,2473.4 1098.0,2473.4 1098.5,2473.3 1099.0,2473.3 1099.5,2473.3 1100.0,2473.2 1100.5,2473.2 1101.0,2473.2 1101.5,2473.1 1102.0,2473.1 1102.5,2473.1 1103.0,2473.0 1103.5,2473.0 1104.0,2473.0 1104.5,2472.9 1105.0,2472.9 1105.5,2472.8 1106.0,2472.8 1106.5,2472.8 1107.0,2472.7 1107.5,2472.7 1108.0,2472.7 1108.5,2472.6 1109.0,2472.6 1109.5,2472.6 1110.0,2472.5 1110.5,2472.5 1111.0,2472.5 1111.5,2472.4 1112.0,2472.4 1112.5,2472.4 1113.0,2472.3 1113.5,2472.3 1114.0,2472.3 1114.5,2472.3 1115.0,2472.2 1115.5,2472.2 1116.0,2472.2 1116.5,2472.1 1117.0,2472.1 1117.5,2472.1 1118.0,2472.1 1118.5,2472.0 1119.0,2472.0 1119.5,2472.0 1120.0,2472.0 1120.5,2471.9 1121.0,2471.9 1121.5,2471.9 1122.0,2471.9 1122.5,2471.9 1123.0,2471.8 1123.5,2471.8 1124.0,2471.8 1124.5,2471.8 1125.0,2471.8 1125.5,2471.8 1126.0,2471.8 1126.5,2471.7 1127.0,2471.7 1127.5,2471.7 1128.0,2471.7 1128.5,2471.7 1129.0,2471.7 1129.5,2471.7 1130.0,2471.7 1130.5,2471.7 1131.0,2471.7 1131.5,2471.7 1132.0,2471.7 1132.5,2471.7 1133.0,2471.7 1133.5,2471.7 1134.0,2471.7 1134.5,2471.7 1135.0,2471.7 1135.5,2471.8 1136.0,2471.8 1136.5,2471.8 1137.0,2471.8 1137.5,2471.9 1138.0,2471.9 1138.5,2471.9 1139.0,2472.0 1139.5,2472.0 1140.0,2472.0 1140.5,2472.1 1141.0,2472.1 1141.5,2472.1 1142.0,2472.2 1142.5,2472.2 1143.0,2472.3 1143.5,2472.3 1144.0,2472.4 1144.5,2472.4 1145.0,2472.5 1145.5,2472.5 1146.0,2472.6 1146.5,2472.6 1147.0,2472.7 1147.5,2472.7 1148.0,2472.8 1148.5,2472.8 1149.0,2472.9 1149.5,2472.9 1150.0,2473.0 1150.5,2473.0 1151.0,2473.1 1151.5,2473.2 1152.0,2473.2 1152.5,2473.3 1153.0,2473.3 1153.5,2473.4 1154.0,2473.4 1154.5,2473.5 1155.0,2473.5 1155.5,2473.6 1156.0,2473.6 1156.5,2473.7 1157.0,2473.7 1157.5,2473.8 1158.0,2473.8 1158.5,2473.8 1159.0,2473.9 1159.5,2473.9 1160.0,2474.0 1160.5,2474.0 1161.0,2474.0 1161.5,2474.1 1162.0,2474.1 1162.5,2474.1 1163.0,2474.2 1163.5,2474.2 1164.0,2474.2 1164.5,2474.3 1165.0,2474.3 1165.5,2474.3 1166.0,2474.3 1166.5,2474.3 1167.0,2474.3 1167.5,2474.3 1168.0,2474.3 1168.5,2474.3 1169.0,2474.3 1169.5,2474.3 1170.0,2474.3 1170.5,2474.3 1171.0,2474.3 1171.5,2474.3 1172.0,2474.3 1172.5,2474.3 1173.0,2474.3 1173.5,2474.2 1174.0,2474.2 1174.5,2474.2 1175.0,2474.2 1175.5,2474.1 1176.0,2474.1 1176.5,2474.1 1177.0,2474.0 1177.5,2474.0 1178.0,2473.9 1178.5,2473.9 1179.0,2473.9 1179.5,2473.8 1180.0,2473.8 1180.5,2473.7 1181.0,2473.7 1181.5,2473.6 1182.0,2473.6 1182.5,2473.5 1183.0,2473.5 1183.5,2473.4 1184.0,2473.4 1184.5,2473.3 1185.0,2473.3 1185.5,2473.2 1186.0,2473.1 1186.5,2473.1 1187.0,2473.0 1187.5,2473.0 1188.0,2472.9 1188.5,2472.8 1189.0,2472.8 1189.5,2472.7 1190.0,2472.7 1190.5,2472.6 1191.0,2472.5 1191.5,2472.5 1192.0,2472.4 1192.5,2472.3 1193.0,2472.3 1193.5,2472.2 1194.0,2472.2 1194.5,2472.1 1195.0,2472.0 1195.5,2472.0 1196.0,2471.9 1196.5,2471.9 1197.0,2471.8 1197.5,2471.7 1198.0,2471.7 1198.5,2471.6 1199.0,2471.6 1199.5,2471.5 1200.0,2471.5 1200.5,2471.4 1201.0,2471.3 1201.5,2471.3 1202.0,2471.2 1202.5,2471.2 1203.0,2471.1 1203.5,2471.1 1204.0,2471.1 1204.5,2471.0 1205.0,2471.0 1205.5,2470.9 1206.0,2470.9 1206.5,2470.9 1207.0,2470.8 1207.5,2470.8 1208.0,2470.7 1208.5,2470.7 1209.0,2470.7 1209.5,2470.6 1210.0,2470.6 1210.5,2470.5 1211.0,2470.5 1211.5,2470.4 1212.0,2470.4 1212.5,2470.4 1213.0,2470.3 1213.5,2470.3 1214.0,2470.2 1214.5,2470.2 1215.0,2470.2 1215.5,2470.1 1216.0,2470.1 1216.5,2470.1 1217.0,2470.0 1217.5,2470.0 1218.0,2470.0 1218.5,2469.9 1219.0,2469.9 1219.5,2469.9 1220.0,2469.9 1220.5,2469.8 1221.0,2469.8 1221.5,2469.8 1222.0,2469.8 1222.5,2469.8 1223.0,2469.8 1223.5,2469.8 1224.0,2469.8 1224.5,2469.8 1225.0,2469.8 1225.5,2469.9 1226.0,2469.9 1226.5,2470.0 1227.0,2470.0 1227.5,2470.1 1228.0,2470.2 1228.5,2470.3 1229.0,2470.4 1229.5,2470.5 1230.0,2470.6 1230.5,2470.7 1231.0,2470.8 1231.5,2470.9 1232.0,2471.0 1232.5,2471.2 1233.0,2471.3 1233.5,2471.4 1234.0,2471.5 1234.5,2471.7 1235.0,2471.8 1235.5,2471.9 1236.0,2472.1 1236.5,2472.2 1237.0,2472.3 1237.5,2472.4 1238.0,2472.5 1238.5,2472.6 1239.0,2472.7 1239.5,2472.8 1240.0,2472.9 1240.5,2473.0 1241.0,2473.1 1241.5,2473.2 1242.0,2473.3 1242.5,2473.4 1243.0,2473.5 1243.5,2473.5 1244.0,2473.6 1244.5,2473.7 1245.0,2473.8 1245.5,2473.9 1246.0,2474.0 1246.5,2474.1 1247.0,2474.2 1247.5,2474.3 1248.0,2474.4 1248.5,2474.5 1249.0,2474.6 1249.5,2474.7 1250.0,2474.8 1250.5,2474.9 1251.0,2474.9 1251.5,2475.0 1252.0,2475.1 1252.5,2475.2 1253.0,2475.3 1253.5,2475.3 1254.0,2475.4 1254.5,2475.5 1255.0,2475.5 1255.5,2475.6 1256.0,2475.7 1256.5,2475.7 1257.0,2475.8 1257.5,2475.8 1258.0,2475.9 1258.5,2475.9 1259.0,2475.9 1259.5,2475.9 1260.0,2476.0 1260.5,2476.0 1261.0,2476.0 1261.5,2476.0 1262.0,2476.0 1262.5,2476.0 1263.0,2476.0 1263.5,2476.0 1264.0,2476.0 1264.5,2476.0 1265.0,2476.0 1265.5,2476.0 1266.0,2476.1 1266.5,2476.1 1267.0,2476.1 1267.5,2476.1 1268.0,2476.1 1268.5,2476.1 1269.0,2476.1 1269.5,2476.1 1270.0,2476.0 1270.5,2476.0 1271.0,2476.0 1271.5,2476.0 1272.0,2476.0 1272.5,2476.0 1273.0,2476.0 1273.5,2476.0 1274.0,2476.0 1274.5,2476.0 1275.0,2476.0 1275.5,2475.9 1276.0,2475.9 1276.5,2475.9 1277.0,2475.9 1277.5,2475.9 1278.0,2475.8 1278.5,2475.8 1279.0,2475.8 1279.5,2475.8 1280.0,2475.7 1280.5,2475.7 1281.0,2475.7 1281.5,2475.6 1282.0,2475.6 1282.5,2475.6 1283.0,2475.5 1283.5,2475.5 1284.0,2475.4 1284.5,2475.4 1285.0,2475.3 1285.5,2475.3 1286.0,2475.2 1286.5,2475.2 1287.0,2475.1 1287.5,2475.0 1288.0,2475.0 1288.5,2474.9 1289.0,2474.8 1289.5,2474.7 1290.0,2474.6 1290.5,2474.5 1291.0,2474.4 1291.5,2474.3 1292.0,2474.2 1292.5,2474.1 1293.0,2474.0 1293.5,2473.9 1294.0,2473.7 1294.5,2473.6 1295.0,2473.4 1295.5,2473.2 1296.0,2473.1 1296.5,2472.9 1297.0,2472.7 1297.5,2472.5 1298.0,2472.2 1298.5,2472.0 1299.0,2471.7 1299.5,2471.4 1300.0,2471.1 1300.5,2470.8 1301.0,2470.4 1301.5,2470.0 1302.0,2469.6 1302.5,2469.1 1303.0,2468.6 1303.5,2468.1 1304.0,2467.5 1304.5,2466.8 1305.0,2466.1 1305.5,2465.3 1306.0,2464.4 1306.5,2463.4 1307.0,2462.4 1307.5,2461.2 1308.0,2459.9 1308.5,2458.5 1309.0,2456.9 1309.5,2455.2 1310.0,2453.3 1310.5,2451.3 1311.0,2449.0 1311.5,2446.7 1312.0,2444.2 1312.5,2441.6 1313.0,2439.0 1313.5,2436.5 1314.0,2434.1 1314.5,2432.1 1315.0,2430.4 1315.5,2429.3 1316.0,2428.9 1316.5,2429.3 1317.0,2431.2 1317.5,2434.1 1318.0,2437.7 1318.5,2441.6 1319.0,2445.4 1319.5,2449.0 1320.0,2452.2 1320.5,2455.1 1321.0,2457.6 1321.5,2459.8 1322.0,2461.7 1322.5,2463.3 1323.0,2464.7 1323.5,2465.9 1324.0,2466.9 1324.5,2467.8 1325.0,2468.6 1325.5,2469.2 1326.0,2469.8 1326.5,2470.3 1327.0,2470.7 1327.5,2471.0 1328.0,2471.3 1328.5,2471.6 1329.0,2471.8 1329.5,2472.0 1330.0,2472.1 1330.5,2472.2 1331.0,2472.3 1331.5,2472.4 1332.0,2472.5 1332.5,2472.5 1333.0,2472.5 1333.5,2472.5 1334.0,2472.5 1334.5,2472.5 1335.0,2472.4 1335.5,2472.4 1336.0,2472.3 1336.5,2472.2 1337.0,2471.9 1337.5,2471.7 1338.0,2471.4 1338.5,2471.0 1339.0,2470.7 1339.5,2470.3 1340.0,2469.9 1340.5,2469.6 1341.0,2469.3 1341.5,2469.0 1342.0,2468.7 1342.5,2468.5 1343.0,2468.3 1343.5,2468.3 1344.0,2468.2 1344.5,2468.3 1345.0,2468.4 1345.5,2468.5 1346.0,2468.6 1346.5,2468.7 1347.0,2468.9 1347.5,2469.1 1348.0,2469.3 1348.5,2469.5 1349.0,2469.7 1349.5,2469.9 1350.0,2470.1 1350.5,2470.3 1351.0,2470.5 1351.5,2470.7 1352.0,2470.8 1352.5,2471.0 1353.0,2471.1 1353.5,2471.3 1354.0,2471.4 1354.5,2471.6 1355.0,2471.8 1355.5,2471.9 1356.0,2472.1 1356.5,2472.3 1357.0,2472.4 1357.5,2472.6 1358.0,2472.8 1358.5,2472.9 1359.0,2473.1 1359.5,2473.2 1360.0,2473.4 1360.5,2473.5 1361.0,2473.7 1361.5,2473.8 1362.0,2473.9 1362.5,2474.0 1363.0,2474.2 1363.5,2474.2 1364.0,2474.3 1364.5,2474.4 1365.0,2474.5 1365.5,2474.5 1366.0,2474.5 1366.5,2474.6 1367.0,2474.6 1367.5,2474.6 1368.0,2474.6 1368.5,2474.6 1369.0,2474.7 1369.5,2474.7 1370.0,2474.7 1370.5,2474.7 1371.0,2474.7 1371.5,2474.7 1372.0,2474.8 1372.5,2474.8 1373.0,2474.8 1373.5,2474.8 1374.0,2474.8 1374.5,2474.8 1375.0,2474.8 1375.5,2474.8 1376.0,2474.9 1376.5,2474.9 1377.0,2474.9 1377.5,2474.9 1378.0,2474.9 1378.5,2474.9 1379.0,2474.9 1379.5,2474.9 1380.0,2474.9 1380.5,2474.9 1381.0,2474.9 1381.5,2474.9 1382.0,2474.9 1382.5,2474.9 1383.0,2474.9 1383.5,2474.9 1384.0,2474.8 1384.5,2474.7 1385.0,2474.6 1385.5,2474.5 1386.0,2474.4 1386.5,2474.3 1387.0,2474.3 1387.5,2474.2 1388.0,2474.1 1388.5,2474.1 1389.0,2474.0 1389.5,2474.0 1390.0,2473.9 1390.5,2473.8 1391.0,2473.8 1391.5,2473.7 1392.0,2473.6 1392.5,2473.5 1393.0,2473.4 1393.5,2473.3 1394.0,2473.2 1394.5,2473.1 1395.0,2473.0 1395.5,2472.9 1396.0,2472.7 1396.5,2472.5 1397.0,2472.4 1397.5,2472.2 1398.0,2472.0 1398.5,2471.7 1399.0,2471.5 1399.5,2471.2 1400.0,2470.9 1400.5,2470.6 1401.0,2470.3 1401.5,2470.0 1402.0,2469.6 1402.5,2469.2 1403.0,2468.6 1403.5,2467.9 1404.0,2467.2 1404.5,2466.3 1405.0,2465.3 1405.5,2464.1 1406.0,2462.9 1406.5,2461.5 1407.0,2459.5 1407.5,2457.2 1408.0,2454.5 1408.5,2451.6 1409.0,2448.4 1409.5,2445.2 1410.0,2442.0 1410.5,2438.7 1411.0,2435.1 1411.5,2431.2 1412.0,2427.2 1412.5,2423.0 1413.0,2418.7 1413.5,2414.5 1414.0,2410.3 1414.5,2406.2 1415.0,2402.0 1415.5,2397.6 1416.0,2393.2 1416.5,2388.8 1417.0,2384.6 1417.5,2380.8 1418.0,2377.3 1418.5,2374.4 1419.0,2371.6 1419.5,2368.9 1420.0,2366.4 1420.5,2364.5 1421.0,2363.4 1421.5,2363.0 1422.0,2362.7 1422.5,2362.5 1423.0,2362.4 1423.5,2362.4 1424.0,2363.0 1424.5,2364.4 1425.0,2366.3 1425.5,2368.6 1426.0,2371.3 1426.5,2374.8 1427.0,2380.6 1427.5,2387.7 1428.0,2395.4 1428.5,2402.9 1429.0,2409.2 1429.5,2415.5 1430.0,2421.7 1430.5,2427.6 1431.0,2432.9 1431.5,2437.0 1432.0,2440.2 1432.5,2443.2 1433.0,2445.8 1433.5,2447.9 1434.0,2449.4 1434.5,2450.2 1435.0,2450.7 1435.5,2451.1 1436.0,2451.4 1436.5,2451.4 1437.0,2451.0 1437.5,2450.3 1438.0,2449.3 1438.5,2448.1 1439.0,2446.8 1439.5,2445.5 1440.0,2444.1 1440.5,2442.8 1441.0,2441.5 1441.5,2440.1 1442.0,2438.7 1442.5,2437.1 1443.0,2435.4 1443.5,2433.7 1444.0,2431.8 1444.5,2429.9 1445.0,2427.8 1445.5,2425.6 1446.0,2423.3 1446.5,2420.8 1447.0,2418.1 1447.5,2415.2 1448.0,2411.8 1448.5,2407.9 1449.0,2403.5 1449.5,2398.0 1450.0,2390.1 1450.5,2380.7 1451.0,2370.7 1451.5,2360.7 1452.0,2348.8 1452.5,2336.4 1453.0,2326.1 1453.5,2320.1 1454.0,2315.8 1454.5,2313.3 1455.0,2313.6 1455.5,2315.8 1456.0,2319.4 1456.5,2324.6 1457.0,2336.1 1457.5,2350.3 1458.0,2363.7 1458.5,2378.3 1459.0,2387.6 1459.5,2390.1 1460.0,2391.6 1460.5,2392.0 1461.0,2390.3 1461.5,2387.1 1462.0,2383.9 1462.5,2380.0 1463.0,2376.1 1463.5,2373.3 1464.0,2372.6 1464.5,2372.1 1465.0,2371.8 1465.5,2371.6 1466.0,2371.5 1466.5,2371.4 1467.0,2372.3 1467.5,2374.5 1468.0,2377.3 1468.5,2380.3 1469.0,2384.4 1469.5,2389.5 1470.0,2394.5 1470.5,2398.3 1471.0,2400.9 1471.5,2403.4 1472.0,2405.5 1472.5,2407.2 1473.0,2408.2 1473.5,2408.4 1474.0,2408.2 1474.5,2407.7 1475.0,2407.1 1475.5,2406.4 1476.0,2405.5 1476.5,2404.5 1477.0,2403.0 1477.5,2400.3 1478.0,2396.9 1478.5,2393.3 1479.0,2389.8 1479.5,2387.0 1480.0,2384.5 1480.5,2381.9 1481.0,2379.3 1481.5,2377.0 1482.0,2375.1 1482.5,2373.5 1483.0,2372.5 1483.5,2371.7 1484.0,2371.0 1484.5,2370.4 1485.0,2370.0 1485.5,2369.8 1486.0,2369.9 1486.5,2370.6 1487.0,2371.8 1487.5,2373.4 1488.0,2375.1 1488.5,2376.9 1489.0,2379.2 1489.5,2382.3 1490.0,2385.7 1490.5,2389.0 1491.0,2392.1 1491.5,2394.8 1492.0,2397.5 1492.5,2400.2 1493.0,2402.5 1493.5,2404.4 1494.0,2405.5 1494.5,2406.3 1495.0,2406.9 1495.5,2407.5 1496.0,2407.9 1496.5,2408.1 1497.0,2407.9 1497.5,2407.0 1498.0,2405.5 1498.5,2403.8 1499.0,2402.0 1499.5,2399.4 1500.0,2396.2 1500.5,2392.9 1501.0,2390.1 1501.5,2388.3 1502.0,2386.8 1502.5,2385.5 1503.0,2384.4 1503.5,2383.6 1504.0,2383.3 1504.5,2383.5 1505.0,2384.3 1505.5,2385.6 1506.0,2387.2 1506.5,2389.0 1507.0,2390.9 1507.5,2394.1 1508.0,2398.1 1508.5,2402.8 1509.0,2407.4 1509.5,2411.6 1510.0,2415.4 1510.5,2419.3 1511.0,2423.1 1511.5,2426.7 1512.0,2429.7 1512.5,2432.2 1513.0,2434.4 1513.5,2436.5 1514.0,2438.4 1514.5,2440.1 1515.0,2441.6 1515.5,2442.9 1516.0,2443.9 1516.5,2444.8 1517.0,2445.7 1517.5,2446.6 1518.0,2447.4 1518.5,2448.2 1519.0,2448.9 1519.5,2449.4 1520.0,2449.9 1520.5,2450.2 1521.0,2448.4 1521.5,2446.4 1522.0,2444.3 1522.5,2442.2 1523.0,2440.0 1523.5,2437.7 1524.0,2435.3 1524.5,2432.9 1525.0,2430.4 1525.5,2427.9 1526.0,2425.4 1526.5,2422.8 1527.0,2420.1 1527.5,2417.3 1528.0,2414.8 1528.5,2412.1 1529.0,2409.3 1529.5,2406.2 1530.0,2402.8 1530.5,2398.7 1531.0,2394.0 1531.5,2388.7 1532.0,2383.1 1532.5,2377.5 1533.0,2371.6 1533.5,2365.6 1534.0,2359.3 1534.5,2352.6 1535.0,2345.6 1535.5,2338.2 1536.0,2330.4 1536.5,2321.9 1537.0,2312.5 1537.5,2302.4 1538.0,2291.9 1538.5,2281.2 1539.0,2270.2 1539.5,2258.8 1540.0,2246.9 1540.5,2234.8 1541.0,2222.5 1541.5,2210.3 1542.0,2198.1 1542.5,2186.3 1543.0,2174.7 1543.5,2163.3 1544.0,2151.9 1544.5,2140.7 1545.0,2129.5 1545.5,2118.4 1546.0,2107.4 1546.5,2096.6 1547.0,2085.9 1547.5,2075.4 1548.0,2065.3 1548.5,2055.6 1549.0,2046.0 1549.5,2036.6 1550.0,2027.1 1550.5,2017.5 1551.0,2007.7 1551.5,1997.5 1552.0,1986.7 1552.5,1975.4 1553.0,1963.2 1553.5,1950.4 1554.0,1937.0 1554.5,1923.3 1555.0,1909.4 1555.5,1895.5 1556.0,1881.8 1556.5,1868.3 1557.0,1855.3 1557.5,1841.9 1558.0,1828.4 1558.5,1814.9 1559.0,1801.8 1559.5,1789.5 1560.0,1778.1 1560.5,1768.1 1561.0,1758.9 1561.5,1750.3 1562.0,1742.5 1562.5,1735.3 1563.0,1729.0 1563.5,1722.6 1564.0,1716.7 1564.5,1713.6 1565.0,1714.7 1565.5,1718.9 1566.0,1724.5 1566.5,1730.0 1567.0,1735.4 1567.5,1741.3 1568.0,1747.7 1568.5,1754.8 1569.0,1762.8 1569.5,1771.9 1570.0,1783.3 1570.5,1797.0 1571.0,1812.6 1571.5,1829.3 1572.0,1846.6 1572.5,1864.0 1573.0,1883.4 1573.5,1904.6 1574.0,1926.2 1574.5,1946.8 1575.0,1965.0 1575.5,1981.0 1576.0,1996.0 1576.5,2010.2 1577.0,2023.8 1577.5,2036.9 1578.0,2049.6 1578.5,2062.1 1579.0,2074.6 1579.5,2087.2 1580.0,2099.9 1580.5,2112.7 1581.0,2125.2 1581.5,2137.5 1582.0,2149.2 1582.5,2160.2 1583.0,2170.3 1583.5,2179.3 1584.0,2187.3 1584.5,2194.6 1585.0,2201.3 1585.5,2207.6 1586.0,2213.8 1586.5,2220.0 1587.0,2226.3 1587.5,2233.0 1588.0,2239.7 1588.5,2246.3 1589.0,2253.0 1589.5,2259.7 1590.0,2266.5 1590.5,2273.4 1591.0,2280.5 1591.5,2288.3 1592.0,2296.7 1592.5,2304.8 1593.0,2311.9 1593.5,2317.2 1594.0,2321.7 1594.5,2325.9 1595.0,2329.3 1595.5,2332.2 1596.0,2333.9 1596.5,2335.1 1597.0,2336.1 1597.5,2336.9 1598.0,2337.7 1598.5,2338.4 1599.0,2339.1 1599.5,2339.7 1600.0,2340.3 1600.5,2340.9 1601.0,2341.5 1601.5,2342.0 1602.0,2342.4 1602.5,2342.7 1603.0,2343.2 1603.5,2345.2 1604.0,2348.6 1604.5,2352.6 1605.0,2356.2 1605.5,2359.2 1606.0,2362.3 1606.5,2365.4 1607.0,2368.0 1607.5,2369.8 1608.0,2370.6 1608.5,2371.1 1609.0,2371.5 1609.5,2371.7 1610.0,2371.8 1610.5,2371.2 1611.0,2369.3 1611.5,2366.9 1612.0,2364.2 1612.5,2361.8 1613.0,2360.1 1613.5,2358.4 1614.0,2356.8 1614.5,2355.3 1615.0,2354.3 1615.5,2353.9 1616.0,2354.1 1616.5,2354.7 1617.0,2355.6 1617.5,2356.6 1618.0,2357.7 1618.5,2358.8 1619.0,2359.8 1619.5,2361.0 1620.0,2362.5 1620.5,2364.1 1621.0,2365.6 1621.5,2367.0 1622.0,2368.1 1622.5,2368.8 1623.0,2369.0 1623.5,2368.8 1624.0,2368.5 1624.5,2368.0 1625.0,2367.4 1625.5,2366.7 1626.0,2366.1 1626.5,2365.4 1627.0,2364.9 1627.5,2364.4 1628.0,2363.9 1628.5,2363.4 1629.0,2362.9 1629.5,2362.4 1630.0,2362.0 1630.5,2361.7 1631.0,2361.6 1631.5,2361.6 1632.0,2361.9 1632.5,2362.4 1633.0,2363.2 1633.5,2364.0 1634.0,2365.0 1634.5,2367.2 1635.0,2370.6 1635.5,2374.8 1636.0,2379.0 1636.5,2383.0 1637.0,2386.4 1637.5,2390.0 1638.0,2393.6 1638.5,2396.8 1639.0,2399.3 1639.5,2400.7 1640.0,2401.6 1640.5,2402.4 1641.0,2403.1 1641.5,2403.5 1642.0,2403.8 1642.5,2403.6 1643.0,2402.8 1643.5,2401.6 1644.0,2400.2 1644.5,2398.5 1645.0,2396.9 1645.5,2395.5 1646.0,2394.3 1646.5,2392.9 1647.0,2391.6 1647.5,2390.2 1648.0,2389.1 1648.5,2388.4 1649.0,2388.1 1649.5,2388.3 1650.0,2388.9 1650.5,2389.7 1651.0,2390.7 1651.5,2391.8 1652.0,2392.9 1652.5,2394.0 1653.0,2395.3 1653.5,2396.9 1654.0,2398.6 1654.5,2400.1 1655.0,2401.4 1655.5,2402.3 1656.0,2402.6 1656.5,2402.7 1657.0,2402.8 1657.5,2402.9 1658.0,2403.0 1658.5,2403.1 1659.0,2403.1 1659.5,2403.1 1660.0,2403.1 1660.5,2403.0 1661.0,2402.7 1661.5,2402.3 1662.0,2401.8 1662.5,2401.3 1663.0,2400.9 1663.5,2400.5 1664.0,2400.4 1664.5,2400.4 1665.0,2400.7 1665.5,2401.3 1666.0,2401.9 1666.5,2402.7 1667.0,2403.6 1667.5,2404.5 1668.0,2405.4 1668.5,2406.4 1669.0,2407.5 1669.5,2408.8 1670.0,2410.2 1670.5,2411.7 1671.0,2413.3 1671.5,2415.0 1672.0,2416.7 1672.5,2418.4 1673.0,2420.0 1673.5,2421.6 1674.0,2423.1 1674.5,2424.6 1675.0,2426.2 1675.5,2427.7 1676.0,2429.2 1676.5,2430.7 1677.0,2432.2 1677.5,2433.7 1678.0,2435.2 1678.5,2436.7 1679.0,2438.1 1679.5,2439.6 1680.0,2441.0 1680.5,2442.4 1681.0,2443.9 1681.5,2445.3 1682.0,2446.7 1682.5,2448.0 1683.0,2449.4 1683.5,2450.7 1684.0,2452.0 1684.5,2453.3 1685.0,2454.6 1685.5,2455.8 1686.0,2457.1 1686.5,2458.4 1687.0,2459.6 1687.5,2460.8 1688.0,2462.0 1688.5,2463.1 1689.0,2464.1 1689.5,2465.0 1690.0,2465.8 1690.5,2466.5 1691.0,2467.2 1691.5,2467.9 1692.0,2468.6 1692.5,2469.2 1693.0,2469.7 1693.5,2470.2 1694.0,2470.7 1694.5,2471.1 1695.0,2471.3 1695.5,2471.5 1696.0,2471.6 1696.5,2471.7 1697.0,2471.8 1697.5,2471.9 1698.0,2472.0 1698.5,2472.0 1699.0,2472.1 1699.5,2472.1 1700.0,2472.2 1700.5,2472.2 1701.0,2472.2 1701.5,2472.2 1702.0,2472.2 1702.5,2472.2 1703.0,2472.2 1703.5,2472.2 1704.0,2472.2 1704.5,2472.2 1705.0,2472.2 1705.5,2472.2 1706.0,2472.2 1706.5,2472.2 1707.0,2472.2 1707.5,2472.2 1708.0,2472.2 1708.5,2472.3 1709.0,2472.3 1709.5,2472.3 1710.0,2472.3 1710.5,2472.3 1711.0,2472.3 1711.5,2472.4 1712.0,2472.4 1712.5,2472.4 1713.0,2472.5 1713.5,2472.5 1714.0,2472.5 1714.5,2472.5 1715.0,2472.6 1715.5,2472.6 1716.0,2472.6 1716.5,2472.7 1717.0,2472.7 1717.5,2472.7 1718.0,2472.7 1718.5,2472.8 1719.0,2472.8 1719.5,2472.8 1720.0,2472.8 1720.5,2472.8 1721.0,2472.8 1721.5,2472.8 1722.0,2472.8 1722.5,2472.7 1723.0,2472.7 1723.5,2472.5 1724.0,2472.3 1724.5,2472.1 1725.0,2471.9 1725.5,2471.7 1726.0,2471.4 1726.5,2471.2 1727.0,2470.9 1727.5,2470.7 1728.0,2470.4 1728.5,2470.1 1729.0,2469.8 1729.5,2469.5 1730.0,2469.2 1730.5,2468.9 1731.0,2468.6 1731.5,2468.4 1732.0,2468.2 1732.5,2467.9 1733.0,2467.5 1733.5,2467.2 1734.0,2466.8 1734.5,2466.4 1735.0,2466.0 1735.5,2465.7 1736.0,2465.5 1736.5,2465.3 1737.0,2465.2 1737.5,2465.2 1738.0,2465.2 1738.5,2465.2 1739.0,2465.2 1739.5,2465.2 1740.0,2465.2 1740.5,2465.3 1741.0,2465.3 1741.5,2465.4 1742.0,2465.4 1742.5,2465.5 1743.0,2465.6 1743.5,2465.6 1744.0,2465.7 1744.5,2465.8 1745.0,2465.8 1745.5,2465.9 1746.0,2466.0 1746.5,2466.1 1747.0,2466.2 1747.5,2466.3 1748.0,2466.5 1748.5,2466.5 1749.0,2466.6 1749.5,2466.6 1750.0,2466.6 1750.5,2466.7 1751.0,2466.7 1751.5,2466.7 1752.0,2466.7 1752.5,2466.7 1753.0,2466.7 1753.5,2466.6 1754.0,2466.6 1754.5,2466.4 1755.0,2466.3 1755.5,2465.9 1756.0,2465.5 1756.5,2465.1 1757.0,2464.7 1757.5,2464.3 1758.0,2463.9 1758.5,2463.5 1759.0,2463.1 1759.5,2462.6 1760.0,2462.2 1760.5,2461.9 1761.0,2461.5 1761.5,2461.2 1762.0,2460.9 1762.5,2460.5 1763.0,2460.1 1763.5,2459.8 1764.0,2459.4"/>
<path d="M443,1624.4 L602,1624.4" stroke="#ff6600" stroke-width="7.2" stroke-linecap="round" fill="none"/>
<text class="lg" x="618.5" y="1650" style="font-size:84.7px">PAG-Fresh</text>
<path d="M443,1752.4 L602,1752.4" stroke="#c4bd00" stroke-width="7.2" stroke-linecap="round" fill="none"/>
<text class="lg" x="618.5" y="1778" style="font-size:84.7px">PAG-aged 2 weeks</text>
<path d="M443,1880.4 L602,1880.4" stroke="#b400ff" stroke-width="7.2" stroke-linecap="round" fill="none"/>
<text class="lg" x="618.5" y="1906" style="font-size:84.7px">PAG-aged 3 weeks</text>
<text class="pl" x="1773" y="1655">(b)</text>
<path d="M1280.0,2802.4 L1280.0,2402.4 A9.0,9.0 0 0 1 1289.0,2393.4 L1339.5,2393.4 A9.0,9.0 0 0 1 1348.5,2402.4 L1348.5,2804.5 A9.0,9.0 0 0 1 1339.5,2813.5 L1289.0,2813.5 A9.0,9.0 0 0 1 1280.0,2804.5 L1280.0,2802" fill="none" stroke="#000" stroke-width="9" stroke-dasharray="26.2 7.1"/>
<path d="M1280.0,2809 L1280.0,2800" fill="none" stroke="#000" stroke-width="9"/>
<text class="an" transform="translate(1402,2297.5) scale(0.96,1)" text-anchor="end">1725</text>
<use href="#arrow" x="1317.8" y="2315"/>
<circle cx="1350.5" cy="1556.5" r="1.3" fill="#333"/>
<text class="ti" transform="translate(171.3,2179) rotate(-90)" text-anchor="middle">Absorbance</text>
<text class="ti" x="754.5" y="3060">Wavenumber (cm<tspan font-size="62" dy="-26.3">-1</tspan><tspan dy="26.3">)</tspan></text>
</g>
</svg></body></html>
